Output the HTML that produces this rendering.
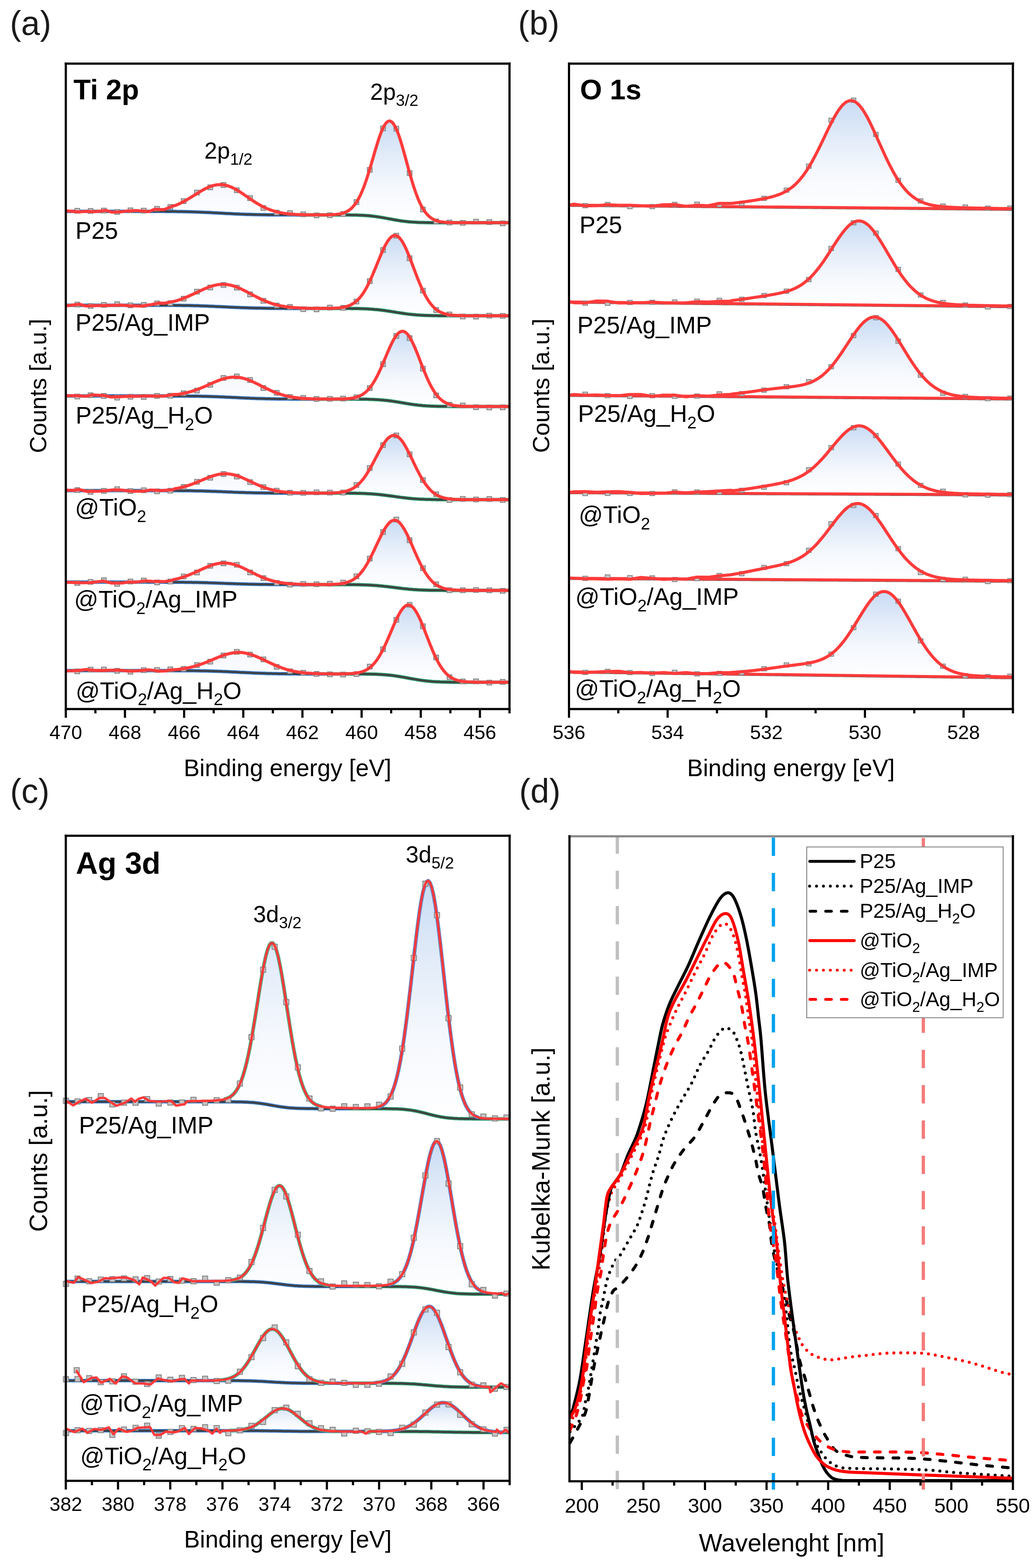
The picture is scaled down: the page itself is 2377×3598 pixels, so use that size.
<!DOCTYPE html><html><head><meta charset="utf-8"><title>XPS figure</title><style>html,body{margin:0;padding:0;background:#fff;}svg{display:block;}</style></head><body><svg width="2377" height="3598" viewBox="0 0 2377 3598" font-family="'Liberation Sans', Arial, sans-serif" fill="#000"><defs><linearGradient id="g1" gradientUnits="userSpaceOnUse" x1="0" y1="277.6" x2="0" y2="511"><stop offset="0" stop-color="#c8dbf4"/><stop offset="0.35" stop-color="#e3ecf9"/><stop offset="0.65" stop-color="#f5f8fd"/><stop offset="1" stop-color="#ffffff"/></linearGradient><linearGradient id="g2" gradientUnits="userSpaceOnUse" x1="0" y1="540.2" x2="0" y2="724.5"><stop offset="0" stop-color="#c8dbf4"/><stop offset="0.35" stop-color="#e3ecf9"/><stop offset="0.65" stop-color="#f5f8fd"/><stop offset="1" stop-color="#ffffff"/></linearGradient><linearGradient id="g3" gradientUnits="userSpaceOnUse" x1="0" y1="760.1" x2="0" y2="932.7"><stop offset="0" stop-color="#c8dbf4"/><stop offset="0.35" stop-color="#e3ecf9"/><stop offset="0.65" stop-color="#f5f8fd"/><stop offset="1" stop-color="#ffffff"/></linearGradient><linearGradient id="g4" gradientUnits="userSpaceOnUse" x1="0" y1="999" x2="0" y2="1146.5"><stop offset="0" stop-color="#c8dbf4"/><stop offset="0.35" stop-color="#e3ecf9"/><stop offset="0.65" stop-color="#f5f8fd"/><stop offset="1" stop-color="#ffffff"/></linearGradient><linearGradient id="g5" gradientUnits="userSpaceOnUse" x1="0" y1="1193.7" x2="0" y2="1354.7"><stop offset="0" stop-color="#c8dbf4"/><stop offset="0.35" stop-color="#e3ecf9"/><stop offset="0.65" stop-color="#f5f8fd"/><stop offset="1" stop-color="#ffffff"/></linearGradient><linearGradient id="g6" gradientUnits="userSpaceOnUse" x1="0" y1="1388.3" x2="0" y2="1565.5"><stop offset="0" stop-color="#c8dbf4"/><stop offset="0.35" stop-color="#e3ecf9"/><stop offset="0.65" stop-color="#f5f8fd"/><stop offset="1" stop-color="#ffffff"/></linearGradient><linearGradient id="g7" gradientUnits="userSpaceOnUse" x1="0" y1="230.9" x2="0" y2="479.8"><stop offset="0" stop-color="#c8dbf4"/><stop offset="0.35" stop-color="#e3ecf9"/><stop offset="0.65" stop-color="#f5f8fd"/><stop offset="1" stop-color="#ffffff"/></linearGradient><linearGradient id="g8" gradientUnits="userSpaceOnUse" x1="0" y1="506.9" x2="0" y2="703.2"><stop offset="0" stop-color="#c8dbf4"/><stop offset="0.35" stop-color="#e3ecf9"/><stop offset="0.65" stop-color="#f5f8fd"/><stop offset="1" stop-color="#ffffff"/></linearGradient><linearGradient id="g9" gradientUnits="userSpaceOnUse" x1="0" y1="727.4" x2="0" y2="915"><stop offset="0" stop-color="#c8dbf4"/><stop offset="0.35" stop-color="#e3ecf9"/><stop offset="0.65" stop-color="#f5f8fd"/><stop offset="1" stop-color="#ffffff"/></linearGradient><linearGradient id="g10" gradientUnits="userSpaceOnUse" x1="0" y1="977.1" x2="0" y2="1135.3"><stop offset="0" stop-color="#c8dbf4"/><stop offset="0.35" stop-color="#e3ecf9"/><stop offset="0.65" stop-color="#f5f8fd"/><stop offset="1" stop-color="#ffffff"/></linearGradient><linearGradient id="g11" gradientUnits="userSpaceOnUse" x1="0" y1="1155.3" x2="0" y2="1333.2"><stop offset="0" stop-color="#c8dbf4"/><stop offset="0.35" stop-color="#e3ecf9"/><stop offset="0.65" stop-color="#f5f8fd"/><stop offset="1" stop-color="#ffffff"/></linearGradient><linearGradient id="g12" gradientUnits="userSpaceOnUse" x1="0" y1="1357.3" x2="0" y2="1554.7"><stop offset="0" stop-color="#c8dbf4"/><stop offset="0.35" stop-color="#e3ecf9"/><stop offset="0.65" stop-color="#f5f8fd"/><stop offset="1" stop-color="#ffffff"/></linearGradient><linearGradient id="g13" gradientUnits="userSpaceOnUse" x1="0" y1="2020.8" x2="0" y2="2567.4"><stop offset="0" stop-color="#c8dbf4"/><stop offset="0.35" stop-color="#e3ecf9"/><stop offset="0.65" stop-color="#f5f8fd"/><stop offset="1" stop-color="#ffffff"/></linearGradient><linearGradient id="g14" gradientUnits="userSpaceOnUse" x1="0" y1="2618.6" x2="0" y2="2969.6"><stop offset="0" stop-color="#c8dbf4"/><stop offset="0.35" stop-color="#e3ecf9"/><stop offset="0.65" stop-color="#f5f8fd"/><stop offset="1" stop-color="#ffffff"/></linearGradient><linearGradient id="g15" gradientUnits="userSpaceOnUse" x1="0" y1="2997.9" x2="0" y2="3183"><stop offset="0" stop-color="#c8dbf4"/><stop offset="0.35" stop-color="#e3ecf9"/><stop offset="0.65" stop-color="#f5f8fd"/><stop offset="1" stop-color="#ffffff"/></linearGradient><linearGradient id="g16" gradientUnits="userSpaceOnUse" x1="0" y1="3218.6" x2="0" y2="3287"><stop offset="0" stop-color="#c8dbf4"/><stop offset="0.35" stop-color="#e3ecf9"/><stop offset="0.65" stop-color="#f5f8fd"/><stop offset="1" stop-color="#ffffff"/></linearGradient><clipPath id="clipd"><rect x="1306.6" y="1919" width="1017.4000000000001" height="1480"/></clipPath></defs><rect x="0" y="0" width="2377" height="3598" fill="#fff"/>
<path d="M153.5,485L157.5,485L161.5,485L165.5,485L169.5,485L173.5,485L177.5,485L181.5,485L185.5,485L189.5,485L193.5,485L197.5,485L201.5,485L205.6,485L209.6,485L213.6,485L217.6,485L221.6,485L225.6,485L229.6,485L233.6,485L237.6,485L241.6,485L245.6,485L249.6,485L253.6,485L257.6,485L261.6,485L265.6,485L269.6,485L273.6,485L277.6,485L281.6,484.9L285.6,484.9L289.6,484.9L293.6,484.9L297.6,484.9L301.6,484.8L305.7,484.8L309.7,484.7L313.7,484.7L317.7,484.6L321.7,484.5L325.7,484.4L329.7,484.2L333.7,484.1L337.7,483.9L341.7,483.6L345.7,483.3L349.7,483L353.7,482.6L357.7,482.2L361.7,481.7L365.7,481.1L369.7,480.5L373.7,479.8L377.7,478.9L381.7,478L385.7,477L389.7,475.8L393.7,474.6L397.7,473.2L401.7,471.7L405.7,470.1L409.8,468.3L413.8,466.4L417.8,464.4L421.8,462.3L425.8,460.1L429.8,457.8L433.8,455.5L437.8,453L441.8,450.5L445.8,448L449.8,445.5L453.8,443L457.8,440.6L461.8,438.2L465.8,435.9L469.8,433.7L473.8,431.7L477.8,429.9L481.8,428.2L485.8,426.8L489.8,425.6L493.8,424.7L497.8,424.1L501.8,423.7L505.8,423.6L509.9,423.8L513.9,424.3L517.9,425.1L521.9,426.1L525.9,427.5L529.9,429L533.9,430.8L537.9,432.9L541.9,435.1L545.9,437.4L549.9,439.9L553.9,442.5L557.9,445.2L561.9,448L565.9,450.7L569.9,453.5L573.9,456.3L577.9,459L581.9,461.7L585.9,464.2L589.9,466.7L593.9,469.1L597.9,471.4L601.9,473.5L605.9,475.5L610,477.4L614,479.1L618,480.7L622,482.2L626,483.5L630,484.7L634,485.8L638,486.8L642,487.7L646,488.4L650,489.1L654,489.7L658,490.2L662,490.7L666,491.1L670,491.4L674,491.7L678,492L682,492.2L686,492.4L690,492.5L694,492.6L698,492.7L702,492.8L706,492.9L710,492.9L714.1,493L718.1,493L722.1,493L726.1,493.1L730.1,493.1L734.1,493.1L738.1,493.1L742.1,493.1L746.1,493L750.1,493L754.1,492.9L758.1,492.8L762.1,492.6L766.1,492.4L770.1,492.1L774.1,491.6L778.1,491.1L782.1,490.3L786.1,489.3L790.1,488L794.1,486.3L798.1,484.1L802.1,481.5L806.1,478.2L810.1,474.1L814.2,469.3L818.2,463.6L822.2,456.9L826.2,449.1L830.2,440.3L834.2,430.5L838.2,419.6L842.2,407.8L846.2,395.1L850.2,381.9L854.2,368.2L858.2,354.4L862.2,340.8L866.2,327.7L870.2,315.4L874.2,304.4L878.2,294.9L882.2,287.2L886.2,281.7L890.2,278.4L894.2,277.6L898.2,279.2L902.2,283.3L906.2,289.6L910.2,298.1L914.3,308.4L918.3,320.3L922.3,333.5L926.3,347.5L930.3,362L934.3,376.7L938.3,391.3L942.3,405.4L946.3,418.9L950.3,431.6L954.3,443.2L958.3,453.8L962.3,463.2L966.3,471.5L970.3,478.8L974.3,484.9L978.3,490.2L982.3,494.5L986.3,498.1L990.3,501L994.3,503.4L998.3,505.2L1002.3,506.7L1006.3,507.8L1010.3,508.7L1014.3,509.3L1018.4,509.8L1022.4,510.1L1026.4,510.4L1030.4,510.6L1034.4,510.7L1038.4,510.8L1042.4,510.9L1046.4,510.9L1050.4,510.9L1054.4,511L1058.4,511L1062.4,511L1066.4,511L1070.4,511L1074.4,511L1078.4,511L1082.4,511L1086.4,511L1090.4,511L1094.4,511L1098.4,511L1102.4,511L1106.4,511L1110.4,511L1114.4,511L1118.5,511L1122.5,511L1126.5,511L1130.5,511L1134.5,511L1138.5,511L1142.5,511L1146.5,511L1150.5,511L1154.5,511L1158.5,511L1162.5,511L1166.5,511L1166.5,511L1162.5,511L1158.5,511L1154.5,511L1150.5,511L1146.5,511L1142.5,511L1138.5,511L1134.5,511L1130.5,511L1126.5,511L1122.5,511L1118.5,511L1114.4,511L1110.4,511L1106.4,511L1102.4,511L1098.4,511L1094.4,511L1090.4,511L1086.4,511L1082.4,511L1078.4,511L1074.4,511L1070.4,511L1066.4,511L1062.4,511L1058.4,511L1054.4,511L1050.4,511L1046.4,511L1042.4,511L1038.4,511L1034.4,511L1030.4,511L1026.4,511L1022.4,511L1018.4,511L1014.3,511L1010.3,511L1006.3,511L1002.3,511L998.3,510.9L994.3,510.9L990.3,510.9L986.3,510.9L982.3,510.8L978.3,510.8L974.3,510.7L970.3,510.6L966.3,510.5L962.3,510.4L958.3,510.2L954.3,510L950.3,509.8L946.3,509.6L942.3,509.3L938.3,508.9L934.3,508.5L930.3,508.1L926.3,507.6L922.3,507.1L918.3,506.5L914.3,505.9L910.2,505.2L906.2,504.5L902.2,503.8L898.2,503.1L894.2,502.3L890.2,501.6L886.2,500.9L882.2,500.1L878.2,499.4L874.2,498.8L870.2,498.1L866.2,497.5L862.2,496.9L858.2,496.4L854.2,495.9L850.2,495.5L846.2,495.1L842.2,494.8L838.2,494.5L834.2,494.3L830.2,494.1L826.2,493.9L822.2,493.7L818.2,493.6L814.2,493.5L810.1,493.4L806.1,493.4L802.1,493.3L798.1,493.3L794.1,493.3L790.1,493.2L786.1,493.2L782.1,493.2L778.1,493.2L774.1,493.2L770.1,493.2L766.1,493.2L762.1,493.2L758.1,493.2L754.1,493.2L750.1,493.2L746.1,493.2L742.1,493.2L738.1,493.2L734.1,493.2L730.1,493.2L726.1,493.2L722.1,493.2L718.1,493.2L714.1,493.2L710,493.2L706,493.2L702,493.2L698,493.2L694,493.2L690,493.2L686,493.2L682,493.2L678,493.1L674,493.1L670,493.1L666,493.1L662,493.1L658,493.1L654,493.1L650,493.1L646,493.1L642,493.1L638,493.1L634,493L630,493L626,493L622,492.9L618,492.9L614,492.9L610,492.8L605.9,492.8L601.9,492.7L597.9,492.7L593.9,492.6L589.9,492.5L585.9,492.4L581.9,492.3L577.9,492.2L573.9,492.1L569.9,492L565.9,491.9L561.9,491.7L557.9,491.6L553.9,491.4L549.9,491.3L545.9,491.1L541.9,490.9L537.9,490.7L533.9,490.5L529.9,490.3L525.9,490.1L521.9,489.9L517.9,489.7L513.9,489.5L509.9,489.3L505.8,489.1L501.8,488.9L497.8,488.6L493.8,488.4L489.8,488.2L485.8,488L481.8,487.8L477.8,487.6L473.8,487.4L469.8,487.2L465.8,487.1L461.8,486.9L457.8,486.7L453.8,486.6L449.8,486.4L445.8,486.3L441.8,486.2L437.8,486L433.8,485.9L429.8,485.8L425.8,485.7L421.8,485.7L417.8,485.6L413.8,485.5L409.8,485.4L405.7,485.4L401.7,485.3L397.7,485.3L393.7,485.3L389.7,485.2L385.7,485.2L381.7,485.2L377.7,485.1L373.7,485.1L369.7,485.1L365.7,485.1L361.7,485.1L357.7,485.1L353.7,485L349.7,485L345.7,485L341.7,485L337.7,485L333.7,485L329.7,485L325.7,485L321.7,485L317.7,485L313.7,485L309.7,485L305.7,485L301.6,485L297.6,485L293.6,485L289.6,485L285.6,485L281.6,485L277.6,485L273.6,485L269.6,485L265.6,485L261.6,485L257.6,485L253.6,485L249.6,485L245.6,485L241.6,485L237.6,485L233.6,485L229.6,485L225.6,485L221.6,485L217.6,485L213.6,485L209.6,485L205.6,485L201.5,485L197.5,485L193.5,485L189.5,485L185.5,485L181.5,485L177.5,485L173.5,485L169.5,485L165.5,485L161.5,485L157.5,485L153.5,485 Z" fill="url(#g1)"/>
<path d="M153.5,485L157.5,485L161.5,485L165.5,485L169.5,485L173.5,485L177.5,485L181.5,485L185.5,485L189.5,485L193.5,485L197.5,485L201.5,485L205.6,485L209.6,485L213.6,485L217.6,485L221.6,485L225.6,485L229.6,485L233.6,485L237.6,485L241.6,485L245.6,485L249.6,485L253.6,485L257.6,485L261.6,485L265.6,485L269.6,485L273.6,485L277.6,485L281.6,485L285.6,485L289.6,485L293.6,485L297.6,485L301.6,485L305.7,485L309.7,485L313.7,485L317.7,485L321.7,485L325.7,485L329.7,485L333.7,485L337.7,485L341.7,485L345.7,485L349.7,485L353.7,485L357.7,485.1L361.7,485.1L365.7,485.1L369.7,485.1L373.7,485.1L377.7,485.1L381.7,485.2L385.7,485.2L389.7,485.2L393.7,485.3L397.7,485.3L401.7,485.3L405.7,485.4L409.8,485.4L413.8,485.5L417.8,485.6L421.8,485.7L425.8,485.7L429.8,485.8L433.8,485.9L437.8,486L441.8,486.2L445.8,486.3L449.8,486.4L453.8,486.6L457.8,486.7L461.8,486.9L465.8,487.1L469.8,487.2L473.8,487.4L477.8,487.6L481.8,487.8L485.8,488L489.8,488.2L493.8,488.4L497.8,488.6L501.8,488.9L505.8,489.1L509.9,489.3L513.9,489.5L517.9,489.7L521.9,489.9L525.9,490.1L529.9,490.3L533.9,490.5L537.9,490.7L541.9,490.9L545.9,491.1L549.9,491.3L553.9,491.4L557.9,491.6L561.9,491.7L565.9,491.9L569.9,492L573.9,492.1L577.9,492.2L581.9,492.3L585.9,492.4L589.9,492.5L593.9,492.6L597.9,492.7L601.9,492.7L605.9,492.8L610,492.8L614,492.9L618,492.9L622,492.9L626,493L630,493L634,493L638,493.1L642,493.1L646,493.1L650,493.1L654,493.1L658,493.1L662,493.1L666,493.1L670,493.1L674,493.1L678,493.1L682,493.2L686,493.2L690,493.2L694,493.2L698,493.2L702,493.2" fill="none" stroke="#3a80d2" stroke-width="8"/>
<path d="M702,493.2L706,493.2L710,493.2L714.1,493.2L718.1,493.2L722.1,493.2L726.1,493.2L730.1,493.2L734.1,493.2L738.1,493.2L742.1,493.2L746.1,493.2L750.1,493.2L754.1,493.2L758.1,493.2L762.1,493.2L766.1,493.2L770.1,493.2L774.1,493.2L778.1,493.2L782.1,493.2L786.1,493.2L790.1,493.2L794.1,493.3L798.1,493.3L802.1,493.3L806.1,493.4L810.1,493.4L814.2,493.5L818.2,493.6L822.2,493.7L826.2,493.9L830.2,494.1L834.2,494.3L838.2,494.5L842.2,494.8L846.2,495.1L850.2,495.5L854.2,495.9L858.2,496.4L862.2,496.9L866.2,497.5L870.2,498.1L874.2,498.8L878.2,499.4L882.2,500.1L886.2,500.9L890.2,501.6L894.2,502.3L898.2,503.1L902.2,503.8L906.2,504.5L910.2,505.2L914.3,505.9L918.3,506.5L922.3,507.1L926.3,507.6L930.3,508.1L934.3,508.5L938.3,508.9L942.3,509.3L946.3,509.6L950.3,509.8L954.3,510L958.3,510.2L962.3,510.4L966.3,510.5L970.3,510.6L974.3,510.7L978.3,510.8L982.3,510.8L986.3,510.9L990.3,510.9L994.3,510.9L998.3,510.9L1002.3,511L1006.3,511L1010.3,511L1014.3,511L1018.4,511L1022.4,511L1026.4,511L1030.4,511L1034.4,511L1038.4,511L1042.4,511L1046.4,511L1050.4,511L1054.4,511L1058.4,511L1062.4,511L1066.4,511L1070.4,511L1074.4,511L1078.4,511L1082.4,511L1086.4,511L1090.4,511L1094.4,511L1098.4,511L1102.4,511L1106.4,511L1110.4,511L1114.4,511L1118.5,511L1122.5,511L1126.5,511L1130.5,511L1134.5,511L1138.5,511L1142.5,511L1146.5,511L1150.5,511L1154.5,511L1158.5,511L1162.5,511L1166.5,511" fill="none" stroke="#2ea070" stroke-width="8"/>
<path d="M153.5,485L157.5,485L161.5,485L165.5,485L169.5,485L173.5,485L177.5,485L181.5,485L185.5,485L189.5,485L193.5,485L197.5,485L201.5,485L205.6,485L209.6,485L213.6,485L217.6,485L221.6,485L225.6,485L229.6,485L233.6,485L237.6,485L241.6,485L245.6,485L249.6,485L253.6,485L257.6,485L261.6,485L265.6,485L269.6,485L273.6,485L277.6,485L281.6,485L285.6,485L289.6,485L293.6,485L297.6,485L301.6,485L305.7,485L309.7,485L313.7,485L317.7,485L321.7,485L325.7,485L329.7,485L333.7,485L337.7,485L341.7,485L345.7,485L349.7,485L353.7,485L357.7,485.1L361.7,485.1L365.7,485.1L369.7,485.1L373.7,485.1L377.7,485.1L381.7,485.2L385.7,485.2L389.7,485.2L393.7,485.3L397.7,485.3L401.7,485.3L405.7,485.4L409.8,485.4L413.8,485.5L417.8,485.6L421.8,485.7L425.8,485.7L429.8,485.8L433.8,485.9L437.8,486L441.8,486.2L445.8,486.3L449.8,486.4L453.8,486.6L457.8,486.7L461.8,486.9L465.8,487.1L469.8,487.2L473.8,487.4L477.8,487.6L481.8,487.8L485.8,488L489.8,488.2L493.8,488.4L497.8,488.6L501.8,488.9L505.8,489.1L509.9,489.3L513.9,489.5L517.9,489.7L521.9,489.9L525.9,490.1L529.9,490.3L533.9,490.5L537.9,490.7L541.9,490.9L545.9,491.1L549.9,491.3L553.9,491.4L557.9,491.6L561.9,491.7L565.9,491.9L569.9,492L573.9,492.1L577.9,492.2L581.9,492.3L585.9,492.4L589.9,492.5L593.9,492.6L597.9,492.7L601.9,492.7L605.9,492.8L610,492.8L614,492.9L618,492.9L622,492.9L626,493L630,493L634,493L638,493.1L642,493.1L646,493.1L650,493.1L654,493.1L658,493.1L662,493.1L666,493.1L670,493.1L674,493.1L678,493.1L682,493.2L686,493.2L690,493.2L694,493.2L698,493.2L702,493.2L706,493.2L710,493.2L714.1,493.2L718.1,493.2L722.1,493.2L726.1,493.2L730.1,493.2L734.1,493.2L738.1,493.2L742.1,493.2L746.1,493.2L750.1,493.2L754.1,493.2L758.1,493.2L762.1,493.2L766.1,493.2L770.1,493.2L774.1,493.2L778.1,493.2L782.1,493.2L786.1,493.2L790.1,493.2L794.1,493.3L798.1,493.3L802.1,493.3L806.1,493.4L810.1,493.4L814.2,493.5L818.2,493.6L822.2,493.7L826.2,493.9L830.2,494.1L834.2,494.3L838.2,494.5L842.2,494.8L846.2,495.1L850.2,495.5L854.2,495.9L858.2,496.4L862.2,496.9L866.2,497.5L870.2,498.1L874.2,498.8L878.2,499.4L882.2,500.1L886.2,500.9L890.2,501.6L894.2,502.3L898.2,503.1L902.2,503.8L906.2,504.5L910.2,505.2L914.3,505.9L918.3,506.5L922.3,507.1L926.3,507.6L930.3,508.1L934.3,508.5L938.3,508.9L942.3,509.3L946.3,509.6L950.3,509.8L954.3,510L958.3,510.2L962.3,510.4L966.3,510.5L970.3,510.6L974.3,510.7L978.3,510.8L982.3,510.8L986.3,510.9L990.3,510.9L994.3,510.9L998.3,510.9L1002.3,511L1006.3,511L1010.3,511L1014.3,511L1018.4,511L1022.4,511L1026.4,511L1030.4,511L1034.4,511L1038.4,511L1042.4,511L1046.4,511L1050.4,511L1054.4,511L1058.4,511L1062.4,511L1066.4,511L1070.4,511L1074.4,511L1078.4,511L1082.4,511L1086.4,511L1090.4,511L1094.4,511L1098.4,511L1102.4,511L1106.4,511L1110.4,511L1114.4,511L1118.5,511L1122.5,511L1126.5,511L1130.5,511L1134.5,511L1138.5,511L1142.5,511L1146.5,511L1150.5,511L1154.5,511L1158.5,511L1162.5,511L1166.5,511" fill="none" stroke="#404040" stroke-width="4.5"/>
<rect x="171.8" y="478.2" width="11" height="11" fill="#c4c4c4" stroke="#7c7c7c" stroke-width="1.8"/>
<rect x="202.3" y="478.5" width="11" height="11" fill="#c4c4c4" stroke="#7c7c7c" stroke-width="1.8"/>
<rect x="232.8" y="477.7" width="11" height="11" fill="#c4c4c4" stroke="#7c7c7c" stroke-width="1.8"/>
<rect x="263.3" y="480.9" width="11" height="11" fill="#c4c4c4" stroke="#7c7c7c" stroke-width="1.8"/>
<rect x="293.8" y="477.2" width="11" height="11" fill="#c4c4c4" stroke="#7c7c7c" stroke-width="1.8"/>
<rect x="324.3" y="477.8" width="11" height="11" fill="#c4c4c4" stroke="#7c7c7c" stroke-width="1.8"/>
<rect x="354.8" y="473.6" width="11" height="11" fill="#c4c4c4" stroke="#7c7c7c" stroke-width="1.8"/>
<rect x="385.3" y="469.3" width="11" height="11" fill="#c4c4c4" stroke="#7c7c7c" stroke-width="1.8"/>
<rect x="415.8" y="456" width="11" height="11" fill="#c4c4c4" stroke="#7c7c7c" stroke-width="1.8"/>
<rect x="446.3" y="436.4" width="11" height="11" fill="#c4c4c4" stroke="#7c7c7c" stroke-width="1.8"/>
<rect x="476.8" y="424.3" width="11" height="11" fill="#c4c4c4" stroke="#7c7c7c" stroke-width="1.8"/>
<rect x="507.3" y="419" width="11" height="11" fill="#c4c4c4" stroke="#7c7c7c" stroke-width="1.8"/>
<rect x="537.8" y="431.1" width="11" height="11" fill="#c4c4c4" stroke="#7c7c7c" stroke-width="1.8"/>
<rect x="568.3" y="449.1" width="11" height="11" fill="#c4c4c4" stroke="#7c7c7c" stroke-width="1.8"/>
<rect x="598.8" y="471.6" width="11" height="11" fill="#c4c4c4" stroke="#7c7c7c" stroke-width="1.8"/>
<rect x="629.3" y="482.3" width="11" height="11" fill="#c4c4c4" stroke="#7c7c7c" stroke-width="1.8"/>
<rect x="659.8" y="483.6" width="11" height="11" fill="#c4c4c4" stroke="#7c7c7c" stroke-width="1.8"/>
<rect x="690.3" y="486.3" width="11" height="11" fill="#c4c4c4" stroke="#7c7c7c" stroke-width="1.8"/>
<rect x="720.8" y="488.7" width="11" height="11" fill="#c4c4c4" stroke="#7c7c7c" stroke-width="1.8"/>
<rect x="751.3" y="488.4" width="11" height="11" fill="#c4c4c4" stroke="#7c7c7c" stroke-width="1.8"/>
<rect x="781.8" y="485.6" width="11" height="11" fill="#c4c4c4" stroke="#7c7c7c" stroke-width="1.8"/>
<rect x="812.3" y="458.2" width="11" height="11" fill="#c4c4c4" stroke="#7c7c7c" stroke-width="1.8"/>
<rect x="842.8" y="384.3" width="11" height="11" fill="#c4c4c4" stroke="#7c7c7c" stroke-width="1.8"/>
<rect x="873.3" y="289.1" width="11" height="11" fill="#c4c4c4" stroke="#7c7c7c" stroke-width="1.8"/>
<rect x="903.8" y="289.6" width="11" height="11" fill="#c4c4c4" stroke="#7c7c7c" stroke-width="1.8"/>
<rect x="934.3" y="391.6" width="11" height="11" fill="#c4c4c4" stroke="#7c7c7c" stroke-width="1.8"/>
<rect x="964.8" y="475.2" width="11" height="11" fill="#c4c4c4" stroke="#7c7c7c" stroke-width="1.8"/>
<rect x="995.3" y="502.4" width="11" height="11" fill="#c4c4c4" stroke="#7c7c7c" stroke-width="1.8"/>
<rect x="1025.8" y="505.1" width="11" height="11" fill="#c4c4c4" stroke="#7c7c7c" stroke-width="1.8"/>
<rect x="1056.3" y="505.9" width="11" height="11" fill="#c4c4c4" stroke="#7c7c7c" stroke-width="1.8"/>
<rect x="1086.8" y="503.2" width="11" height="11" fill="#c4c4c4" stroke="#7c7c7c" stroke-width="1.8"/>
<rect x="1117.3" y="504.2" width="11" height="11" fill="#c4c4c4" stroke="#7c7c7c" stroke-width="1.8"/>
<rect x="1147.8" y="507" width="11" height="11" fill="#c4c4c4" stroke="#7c7c7c" stroke-width="1.8"/>
<path d="M153.5,484.1L180.8,486.3L197.3,485L217.4,485.8L243.6,483L256.1,486.7L275.9,486.3L288,484.6L313,483.3L342,485.6L354.5,480.3L376.3,481.1L395.1,473.1L401.7,471.7L405.7,470.1L409.8,468.3L413.8,466.4L417.8,464.4L421.8,462.3L425.8,460.1L429.8,457.8L433.8,455.5L437.8,453L441.8,450.5L445.8,448L449.8,445.5L453.8,443L457.8,440.6L461.8,438.2L465.8,435.9L469.8,433.7L473.8,431.7L477.8,429.9L481.8,428.2L485.8,426.8L489.8,425.6L493.8,424.7L497.8,424.1L501.8,423.7L505.8,423.6L509.9,423.8L513.9,424.3L517.9,425.1L521.9,426.1L525.9,427.5L529.9,429L533.9,430.8L537.9,432.9L541.9,435.1L545.9,437.4L549.9,439.9L553.9,442.5L557.9,445.2L561.9,448L565.9,450.7L569.9,453.5L573.9,456.3L577.9,459L581.9,461.7L585.9,464.2L589.9,466.7L593.9,469.1L597.9,471.4L601.9,473.5L605.9,475.5L610,477.4L614,479.1L618,480.7L622,482.2L626,483.5L630,484.7L634,485.8L638,486.8L642,487.7L646,488.4L650,489.1L654,489.7L658,490.2L662,490.7L666,491.1L670,491.4L674,491.7L678,492L682,492.2L686,492.4L690,492.5L694,492.6L698,492.7L702,492.8L706,492.9L710,492.9L714.1,493L718.1,493L722.1,493L726.1,493.1L730.1,493.1L734.1,493.1L738.1,493.1L742.1,493.1L746.1,493L750.1,493L754.1,492.9L758.1,492.8L762.1,492.6L766.1,492.4L770.1,492.1L774.1,491.6L778.1,491.1L782.1,490.3L786.1,489.3L790.1,488L794.1,486.3L798.1,484.1L802.1,481.5L806.1,478.2L810.1,474.1L814.2,469.3L818.2,463.6L822.2,456.9L826.2,449.1L830.2,440.3L834.2,430.5L838.2,419.6L842.2,407.8L846.2,395.1L850.2,381.9L854.2,368.2L858.2,354.4L862.2,340.8L866.2,327.7L870.2,315.4L874.2,304.4L878.2,294.9L882.2,287.2L886.2,281.7L890.2,278.4L894.2,277.6L898.2,279.2L902.2,283.3L906.2,289.6L910.2,298.1L914.3,308.4L918.3,320.3L922.3,333.5L926.3,347.5L930.3,362L934.3,376.7L938.3,391.3L942.3,405.4L946.3,418.9L950.3,431.6L954.3,443.2L958.3,453.8L962.3,463.2L966.3,471.5L970.3,478.8L974.3,484.9L978.3,490.2L982.3,494.5L986.3,498.1L990.3,501L994.3,503.4L998.3,505.2L1002.3,506.7L1006.3,507.8L1010.3,508.7L1014.3,509.3L1018.4,509.8L1022.4,510.1L1026.4,510.4L1030.4,510.6L1034.4,510.7L1038.4,510.8L1042.4,510.9L1046.4,510.9L1050.4,510.9L1054.4,511L1058.4,511L1062.4,511L1066.4,511L1070.4,511L1074.4,511L1078.4,511L1082.4,511L1086.4,511L1090.4,511L1094.4,511L1098.4,511L1102.4,511L1106.4,511L1110.4,511L1114.4,511L1118.5,511L1122.5,511L1126.5,511L1130.5,511L1134.5,511L1138.5,511L1142.5,511L1146.5,511L1150.5,511L1154.5,511L1158.5,511L1162.5,511L1166.5,511" fill="none" stroke="#fe3b3b" stroke-width="7" stroke-linejoin="round" stroke-linecap="round"/>
<path d="M153.5,700.4L157.5,700.4L161.5,700.4L165.5,700.4L169.5,700.4L173.5,700.4L177.5,700.4L181.5,700.4L185.5,700.4L189.5,700.4L193.5,700.4L197.5,700.4L201.5,700.4L205.6,700.4L209.6,700.4L213.6,700.4L217.6,700.4L221.6,700.4L225.6,700.4L229.6,700.4L233.6,700.4L237.6,700.4L241.6,700.4L245.6,700.4L249.6,700.4L253.6,700.4L257.6,700.4L261.6,700.4L265.6,700.4L269.6,700.4L273.6,700.4L277.6,700.4L281.6,700.4L285.6,700.3L289.6,700.3L293.6,700.3L297.6,700.3L301.6,700.3L305.7,700.2L309.7,700.2L313.7,700.1L317.7,700.1L321.7,700L325.7,699.9L329.7,699.8L333.7,699.7L337.7,699.6L341.7,699.4L345.7,699.2L349.7,699L353.7,698.7L357.7,698.4L361.7,698L365.7,697.6L369.7,697.2L373.7,696.6L377.7,696.1L381.7,695.4L385.7,694.7L389.7,693.9L393.7,693L397.7,692L401.7,690.9L405.7,689.8L409.8,688.5L413.8,687.2L417.8,685.7L421.8,684.2L425.8,682.6L429.8,681L433.8,679.2L437.8,677.4L441.8,675.6L445.8,673.7L449.8,671.8L453.8,669.9L457.8,668L461.8,666.1L465.8,664.3L469.8,662.5L473.8,660.9L477.8,659.3L481.8,657.9L485.8,656.5L489.8,655.4L493.8,654.4L497.8,653.6L501.8,653L505.8,652.6L509.9,652.4L513.9,652.4L517.9,652.7L521.9,653.1L525.9,653.8L529.9,654.6L533.9,655.7L537.9,656.9L541.9,658.3L545.9,659.9L549.9,661.6L553.9,663.4L557.9,665.3L561.9,667.3L565.9,669.4L569.9,671.5L573.9,673.6L577.9,675.8L581.9,677.9L585.9,680L589.9,682L593.9,684L597.9,686L601.9,687.8L605.9,689.6L610,691.3L614,692.9L618,694.4L622,695.8L626,697.1L630,698.3L634,699.3L638,700.3L642,701.2L646,702.1L650,702.8L654,703.5L658,704L662,704.6L666,705L670,705.4L674,705.8L678,706.1L682,706.3L686,706.6L690,706.8L694,706.9L698,707.1L702,707.2L706,707.3L710,707.4L714.1,707.4L718.1,707.5L722.1,707.5L726.1,707.6L730.1,707.6L734.1,707.6L738.1,707.6L742.1,707.6L746.1,707.6L750.1,707.6L754.1,707.5L758.1,707.4L762.1,707.3L766.1,707.2L770.1,707L774.1,706.7L778.1,706.4L782.1,705.9L786.1,705.3L790.1,704.5L794.1,703.5L798.1,702.3L802.1,700.8L806.1,698.9L810.1,696.6L814.2,693.8L818.2,690.6L822.2,686.7L826.2,682.3L830.2,677.2L834.2,671.4L838.2,664.9L842.2,657.7L846.2,649.8L850.2,641.3L854.2,632.3L858.2,622.9L862.2,613.1L866.2,603.3L870.2,593.5L874.2,583.9L878.2,574.8L882.2,566.3L886.2,558.8L890.2,552.3L894.2,547.1L898.2,543.2L902.2,540.9L906.2,540.2L910.2,541.1L914.3,543.6L918.3,547.7L922.3,553.2L926.3,560.1L930.3,568L934.3,577L938.3,586.7L942.3,596.9L946.3,607.5L950.3,618.1L954.3,628.7L958.3,639L962.3,648.9L966.3,658.2L970.3,667L974.3,675L978.3,682.3L982.3,688.9L986.3,694.7L990.3,699.8L994.3,704.2L998.3,708L1002.3,711.2L1006.3,713.8L1010.3,716.1L1014.3,717.9L1018.4,719.4L1022.4,720.5L1026.4,721.5L1030.4,722.2L1034.4,722.8L1038.4,723.2L1042.4,723.6L1046.4,723.8L1050.4,724L1054.4,724.1L1058.4,724.3L1062.4,724.3L1066.4,724.4L1070.4,724.4L1074.4,724.4L1078.4,724.5L1082.4,724.5L1086.4,724.5L1090.4,724.5L1094.4,724.5L1098.4,724.5L1102.4,724.5L1106.4,724.5L1110.4,724.5L1114.4,724.5L1118.5,724.5L1122.5,724.5L1126.5,724.5L1130.5,724.5L1134.5,724.5L1138.5,724.5L1142.5,724.5L1146.5,724.5L1150.5,724.5L1154.5,724.5L1158.5,724.5L1162.5,724.5L1166.5,724.5L1166.5,724.5L1162.5,724.5L1158.5,724.5L1154.5,724.5L1150.5,724.5L1146.5,724.5L1142.5,724.5L1138.5,724.5L1134.5,724.5L1130.5,724.5L1126.5,724.5L1122.5,724.5L1118.5,724.5L1114.4,724.5L1110.4,724.5L1106.4,724.5L1102.4,724.5L1098.4,724.5L1094.4,724.5L1090.4,724.5L1086.4,724.5L1082.4,724.5L1078.4,724.5L1074.4,724.5L1070.4,724.5L1066.4,724.5L1062.4,724.5L1058.4,724.5L1054.4,724.5L1050.4,724.5L1046.4,724.5L1042.4,724.5L1038.4,724.5L1034.4,724.5L1030.4,724.5L1026.4,724.5L1022.4,724.5L1018.4,724.4L1014.3,724.4L1010.3,724.4L1006.3,724.4L1002.3,724.3L998.3,724.3L994.3,724.2L990.3,724.2L986.3,724.1L982.3,724L978.3,723.8L974.3,723.7L970.3,723.5L966.3,723.3L962.3,723.1L958.3,722.8L954.3,722.5L950.3,722.1L946.3,721.8L942.3,721.3L938.3,720.9L934.3,720.4L930.3,719.9L926.3,719.3L922.3,718.7L918.3,718.1L914.3,717.5L910.2,716.9L906.2,716.2L902.2,715.6L898.2,714.9L894.2,714.3L890.2,713.7L886.2,713.1L882.2,712.5L878.2,712L874.2,711.5L870.2,711L866.2,710.6L862.2,710.2L858.2,709.9L854.2,709.5L850.2,709.3L846.2,709L842.2,708.8L838.2,708.6L834.2,708.5L830.2,708.3L826.2,708.2L822.2,708.1L818.2,708L814.2,708L810.1,707.9L806.1,707.9L802.1,707.8L798.1,707.8L794.1,707.8L790.1,707.8L786.1,707.8L782.1,707.8L778.1,707.8L774.1,707.7L770.1,707.7L766.1,707.7L762.1,707.7L758.1,707.7L754.1,707.7L750.1,707.7L746.1,707.7L742.1,707.7L738.1,707.7L734.1,707.7L730.1,707.7L726.1,707.7L722.1,707.7L718.1,707.7L714.1,707.7L710,707.7L706,707.7L702,707.7L698,707.7L694,707.7L690,707.7L686,707.7L682,707.7L678,707.7L674,707.7L670,707.7L666,707.7L662,707.7L658,707.7L654,707.7L650,707.6L646,707.6L642,707.6L638,707.6L634,707.5L630,707.5L626,707.5L622,707.4L618,707.4L614,707.4L610,707.3L605.9,707.2L601.9,707.2L597.9,707.1L593.9,707L589.9,706.9L585.9,706.9L581.9,706.8L577.9,706.7L573.9,706.5L569.9,706.4L565.9,706.3L561.9,706.2L557.9,706L553.9,705.9L549.9,705.7L545.9,705.5L541.9,705.4L537.9,705.2L533.9,705L529.9,704.9L525.9,704.7L521.9,704.5L517.9,704.3L513.9,704.1L509.9,703.9L505.8,703.7L501.8,703.5L497.8,703.4L493.8,703.2L489.8,703L485.8,702.8L481.8,702.7L477.8,702.5L473.8,702.3L469.8,702.2L465.8,702L461.8,701.9L457.8,701.8L453.8,701.6L449.8,701.5L445.8,701.4L441.8,701.3L437.8,701.2L433.8,701.1L429.8,701.1L425.8,701L421.8,700.9L417.8,700.9L413.8,700.8L409.8,700.8L405.7,700.7L401.7,700.7L397.7,700.6L393.7,700.6L389.7,700.6L385.7,700.5L381.7,700.5L377.7,700.5L373.7,700.5L369.7,700.5L365.7,700.5L361.7,700.5L357.7,700.4L353.7,700.4L349.7,700.4L345.7,700.4L341.7,700.4L337.7,700.4L333.7,700.4L329.7,700.4L325.7,700.4L321.7,700.4L317.7,700.4L313.7,700.4L309.7,700.4L305.7,700.4L301.6,700.4L297.6,700.4L293.6,700.4L289.6,700.4L285.6,700.4L281.6,700.4L277.6,700.4L273.6,700.4L269.6,700.4L265.6,700.4L261.6,700.4L257.6,700.4L253.6,700.4L249.6,700.4L245.6,700.4L241.6,700.4L237.6,700.4L233.6,700.4L229.6,700.4L225.6,700.4L221.6,700.4L217.6,700.4L213.6,700.4L209.6,700.4L205.6,700.4L201.5,700.4L197.5,700.4L193.5,700.4L189.5,700.4L185.5,700.4L181.5,700.4L177.5,700.4L173.5,700.4L169.5,700.4L165.5,700.4L161.5,700.4L157.5,700.4L153.5,700.4 Z" fill="url(#g2)"/>
<path d="M153.5,700.4L157.5,700.4L161.5,700.4L165.5,700.4L169.5,700.4L173.5,700.4L177.5,700.4L181.5,700.4L185.5,700.4L189.5,700.4L193.5,700.4L197.5,700.4L201.5,700.4L205.6,700.4L209.6,700.4L213.6,700.4L217.6,700.4L221.6,700.4L225.6,700.4L229.6,700.4L233.6,700.4L237.6,700.4L241.6,700.4L245.6,700.4L249.6,700.4L253.6,700.4L257.6,700.4L261.6,700.4L265.6,700.4L269.6,700.4L273.6,700.4L277.6,700.4L281.6,700.4L285.6,700.4L289.6,700.4L293.6,700.4L297.6,700.4L301.6,700.4L305.7,700.4L309.7,700.4L313.7,700.4L317.7,700.4L321.7,700.4L325.7,700.4L329.7,700.4L333.7,700.4L337.7,700.4L341.7,700.4L345.7,700.4L349.7,700.4L353.7,700.4L357.7,700.4L361.7,700.5L365.7,700.5L369.7,700.5L373.7,700.5L377.7,700.5L381.7,700.5L385.7,700.5L389.7,700.6L393.7,700.6L397.7,700.6L401.7,700.7L405.7,700.7L409.8,700.8L413.8,700.8L417.8,700.9L421.8,700.9L425.8,701L429.8,701.1L433.8,701.1L437.8,701.2L441.8,701.3L445.8,701.4L449.8,701.5L453.8,701.6L457.8,701.8L461.8,701.9L465.8,702L469.8,702.2L473.8,702.3L477.8,702.5L481.8,702.7L485.8,702.8L489.8,703L493.8,703.2L497.8,703.4L501.8,703.5L505.8,703.7L509.9,703.9L513.9,704.1L517.9,704.3L521.9,704.5L525.9,704.7L529.9,704.9L533.9,705L537.9,705.2L541.9,705.4L545.9,705.5L549.9,705.7L553.9,705.9L557.9,706L561.9,706.2L565.9,706.3L569.9,706.4L573.9,706.5L577.9,706.7L581.9,706.8L585.9,706.9L589.9,706.9L593.9,707L597.9,707.1L601.9,707.2L605.9,707.2L610,707.3L614,707.4L618,707.4L622,707.4L626,707.5L630,707.5L634,707.5L638,707.6L642,707.6L646,707.6L650,707.6L654,707.7L658,707.7L662,707.7L666,707.7L670,707.7L674,707.7L678,707.7L682,707.7L686,707.7L690,707.7L694,707.7L698,707.7L702,707.7L706,707.7L710,707.7" fill="none" stroke="#3a80d2" stroke-width="8"/>
<path d="M710,707.7L714.1,707.7L718.1,707.7L722.1,707.7L726.1,707.7L730.1,707.7L734.1,707.7L738.1,707.7L742.1,707.7L746.1,707.7L750.1,707.7L754.1,707.7L758.1,707.7L762.1,707.7L766.1,707.7L770.1,707.7L774.1,707.7L778.1,707.8L782.1,707.8L786.1,707.8L790.1,707.8L794.1,707.8L798.1,707.8L802.1,707.8L806.1,707.9L810.1,707.9L814.2,708L818.2,708L822.2,708.1L826.2,708.2L830.2,708.3L834.2,708.5L838.2,708.6L842.2,708.8L846.2,709L850.2,709.3L854.2,709.5L858.2,709.9L862.2,710.2L866.2,710.6L870.2,711L874.2,711.5L878.2,712L882.2,712.5L886.2,713.1L890.2,713.7L894.2,714.3L898.2,714.9L902.2,715.6L906.2,716.2L910.2,716.9L914.3,717.5L918.3,718.1L922.3,718.7L926.3,719.3L930.3,719.9L934.3,720.4L938.3,720.9L942.3,721.3L946.3,721.8L950.3,722.1L954.3,722.5L958.3,722.8L962.3,723.1L966.3,723.3L970.3,723.5L974.3,723.7L978.3,723.8L982.3,724L986.3,724.1L990.3,724.2L994.3,724.2L998.3,724.3L1002.3,724.3L1006.3,724.4L1010.3,724.4L1014.3,724.4L1018.4,724.4L1022.4,724.5L1026.4,724.5L1030.4,724.5L1034.4,724.5L1038.4,724.5L1042.4,724.5L1046.4,724.5L1050.4,724.5L1054.4,724.5L1058.4,724.5L1062.4,724.5L1066.4,724.5L1070.4,724.5L1074.4,724.5L1078.4,724.5L1082.4,724.5L1086.4,724.5L1090.4,724.5L1094.4,724.5L1098.4,724.5L1102.4,724.5L1106.4,724.5L1110.4,724.5L1114.4,724.5L1118.5,724.5L1122.5,724.5L1126.5,724.5L1130.5,724.5L1134.5,724.5L1138.5,724.5L1142.5,724.5L1146.5,724.5L1150.5,724.5L1154.5,724.5L1158.5,724.5L1162.5,724.5L1166.5,724.5" fill="none" stroke="#2ea070" stroke-width="8"/>
<path d="M153.5,700.4L157.5,700.4L161.5,700.4L165.5,700.4L169.5,700.4L173.5,700.4L177.5,700.4L181.5,700.4L185.5,700.4L189.5,700.4L193.5,700.4L197.5,700.4L201.5,700.4L205.6,700.4L209.6,700.4L213.6,700.4L217.6,700.4L221.6,700.4L225.6,700.4L229.6,700.4L233.6,700.4L237.6,700.4L241.6,700.4L245.6,700.4L249.6,700.4L253.6,700.4L257.6,700.4L261.6,700.4L265.6,700.4L269.6,700.4L273.6,700.4L277.6,700.4L281.6,700.4L285.6,700.4L289.6,700.4L293.6,700.4L297.6,700.4L301.6,700.4L305.7,700.4L309.7,700.4L313.7,700.4L317.7,700.4L321.7,700.4L325.7,700.4L329.7,700.4L333.7,700.4L337.7,700.4L341.7,700.4L345.7,700.4L349.7,700.4L353.7,700.4L357.7,700.4L361.7,700.5L365.7,700.5L369.7,700.5L373.7,700.5L377.7,700.5L381.7,700.5L385.7,700.5L389.7,700.6L393.7,700.6L397.7,700.6L401.7,700.7L405.7,700.7L409.8,700.8L413.8,700.8L417.8,700.9L421.8,700.9L425.8,701L429.8,701.1L433.8,701.1L437.8,701.2L441.8,701.3L445.8,701.4L449.8,701.5L453.8,701.6L457.8,701.8L461.8,701.9L465.8,702L469.8,702.2L473.8,702.3L477.8,702.5L481.8,702.7L485.8,702.8L489.8,703L493.8,703.2L497.8,703.4L501.8,703.5L505.8,703.7L509.9,703.9L513.9,704.1L517.9,704.3L521.9,704.5L525.9,704.7L529.9,704.9L533.9,705L537.9,705.2L541.9,705.4L545.9,705.5L549.9,705.7L553.9,705.9L557.9,706L561.9,706.2L565.9,706.3L569.9,706.4L573.9,706.5L577.9,706.7L581.9,706.8L585.9,706.9L589.9,706.9L593.9,707L597.9,707.1L601.9,707.2L605.9,707.2L610,707.3L614,707.4L618,707.4L622,707.4L626,707.5L630,707.5L634,707.5L638,707.6L642,707.6L646,707.6L650,707.6L654,707.7L658,707.7L662,707.7L666,707.7L670,707.7L674,707.7L678,707.7L682,707.7L686,707.7L690,707.7L694,707.7L698,707.7L702,707.7L706,707.7L710,707.7L714.1,707.7L718.1,707.7L722.1,707.7L726.1,707.7L730.1,707.7L734.1,707.7L738.1,707.7L742.1,707.7L746.1,707.7L750.1,707.7L754.1,707.7L758.1,707.7L762.1,707.7L766.1,707.7L770.1,707.7L774.1,707.7L778.1,707.8L782.1,707.8L786.1,707.8L790.1,707.8L794.1,707.8L798.1,707.8L802.1,707.8L806.1,707.9L810.1,707.9L814.2,708L818.2,708L822.2,708.1L826.2,708.2L830.2,708.3L834.2,708.5L838.2,708.6L842.2,708.8L846.2,709L850.2,709.3L854.2,709.5L858.2,709.9L862.2,710.2L866.2,710.6L870.2,711L874.2,711.5L878.2,712L882.2,712.5L886.2,713.1L890.2,713.7L894.2,714.3L898.2,714.9L902.2,715.6L906.2,716.2L910.2,716.9L914.3,717.5L918.3,718.1L922.3,718.7L926.3,719.3L930.3,719.9L934.3,720.4L938.3,720.9L942.3,721.3L946.3,721.8L950.3,722.1L954.3,722.5L958.3,722.8L962.3,723.1L966.3,723.3L970.3,723.5L974.3,723.7L978.3,723.8L982.3,724L986.3,724.1L990.3,724.2L994.3,724.2L998.3,724.3L1002.3,724.3L1006.3,724.4L1010.3,724.4L1014.3,724.4L1018.4,724.4L1022.4,724.5L1026.4,724.5L1030.4,724.5L1034.4,724.5L1038.4,724.5L1042.4,724.5L1046.4,724.5L1050.4,724.5L1054.4,724.5L1058.4,724.5L1062.4,724.5L1066.4,724.5L1070.4,724.5L1074.4,724.5L1078.4,724.5L1082.4,724.5L1086.4,724.5L1090.4,724.5L1094.4,724.5L1098.4,724.5L1102.4,724.5L1106.4,724.5L1110.4,724.5L1114.4,724.5L1118.5,724.5L1122.5,724.5L1126.5,724.5L1130.5,724.5L1134.5,724.5L1138.5,724.5L1142.5,724.5L1146.5,724.5L1150.5,724.5L1154.5,724.5L1158.5,724.5L1162.5,724.5L1166.5,724.5" fill="none" stroke="#404040" stroke-width="4.5"/>
<rect x="171.8" y="693.4" width="11" height="11" fill="#c4c4c4" stroke="#7c7c7c" stroke-width="1.8"/>
<rect x="202.3" y="696.5" width="11" height="11" fill="#c4c4c4" stroke="#7c7c7c" stroke-width="1.8"/>
<rect x="232.8" y="694.1" width="11" height="11" fill="#c4c4c4" stroke="#7c7c7c" stroke-width="1.8"/>
<rect x="263.3" y="692.5" width="11" height="11" fill="#c4c4c4" stroke="#7c7c7c" stroke-width="1.8"/>
<rect x="293.8" y="695.1" width="11" height="11" fill="#c4c4c4" stroke="#7c7c7c" stroke-width="1.8"/>
<rect x="324.3" y="694.2" width="11" height="11" fill="#c4c4c4" stroke="#7c7c7c" stroke-width="1.8"/>
<rect x="354.8" y="690.7" width="11" height="11" fill="#c4c4c4" stroke="#7c7c7c" stroke-width="1.8"/>
<rect x="385.3" y="690.1" width="11" height="11" fill="#c4c4c4" stroke="#7c7c7c" stroke-width="1.8"/>
<rect x="415.8" y="679.8" width="11" height="11" fill="#c4c4c4" stroke="#7c7c7c" stroke-width="1.8"/>
<rect x="446.3" y="663.7" width="11" height="11" fill="#c4c4c4" stroke="#7c7c7c" stroke-width="1.8"/>
<rect x="476.8" y="654.2" width="11" height="11" fill="#c4c4c4" stroke="#7c7c7c" stroke-width="1.8"/>
<rect x="507.3" y="648.4" width="11" height="11" fill="#c4c4c4" stroke="#7c7c7c" stroke-width="1.8"/>
<rect x="537.8" y="654.5" width="11" height="11" fill="#c4c4c4" stroke="#7c7c7c" stroke-width="1.8"/>
<rect x="568.3" y="670.1" width="11" height="11" fill="#c4c4c4" stroke="#7c7c7c" stroke-width="1.8"/>
<rect x="598.8" y="684.7" width="11" height="11" fill="#c4c4c4" stroke="#7c7c7c" stroke-width="1.8"/>
<rect x="629.3" y="695.5" width="11" height="11" fill="#c4c4c4" stroke="#7c7c7c" stroke-width="1.8"/>
<rect x="659.8" y="698.7" width="11" height="11" fill="#c4c4c4" stroke="#7c7c7c" stroke-width="1.8"/>
<rect x="690.3" y="703.9" width="11" height="11" fill="#c4c4c4" stroke="#7c7c7c" stroke-width="1.8"/>
<rect x="720.8" y="704.4" width="11" height="11" fill="#c4c4c4" stroke="#7c7c7c" stroke-width="1.8"/>
<rect x="751.3" y="700.3" width="11" height="11" fill="#c4c4c4" stroke="#7c7c7c" stroke-width="1.8"/>
<rect x="781.8" y="700.8" width="11" height="11" fill="#c4c4c4" stroke="#7c7c7c" stroke-width="1.8"/>
<rect x="812.3" y="686.4" width="11" height="11" fill="#c4c4c4" stroke="#7c7c7c" stroke-width="1.8"/>
<rect x="842.8" y="639.6" width="11" height="11" fill="#c4c4c4" stroke="#7c7c7c" stroke-width="1.8"/>
<rect x="873.3" y="568.2" width="11" height="11" fill="#c4c4c4" stroke="#7c7c7c" stroke-width="1.8"/>
<rect x="903.8" y="535.3" width="11" height="11" fill="#c4c4c4" stroke="#7c7c7c" stroke-width="1.8"/>
<rect x="934.3" y="587.2" width="11" height="11" fill="#c4c4c4" stroke="#7c7c7c" stroke-width="1.8"/>
<rect x="964.8" y="661.4" width="11" height="11" fill="#c4c4c4" stroke="#7c7c7c" stroke-width="1.8"/>
<rect x="995.3" y="706.1" width="11" height="11" fill="#c4c4c4" stroke="#7c7c7c" stroke-width="1.8"/>
<rect x="1025.8" y="716.1" width="11" height="11" fill="#c4c4c4" stroke="#7c7c7c" stroke-width="1.8"/>
<rect x="1056.3" y="720.7" width="11" height="11" fill="#c4c4c4" stroke="#7c7c7c" stroke-width="1.8"/>
<rect x="1086.8" y="721" width="11" height="11" fill="#c4c4c4" stroke="#7c7c7c" stroke-width="1.8"/>
<rect x="1117.3" y="718.8" width="11" height="11" fill="#c4c4c4" stroke="#7c7c7c" stroke-width="1.8"/>
<rect x="1147.8" y="719.3" width="11" height="11" fill="#c4c4c4" stroke="#7c7c7c" stroke-width="1.8"/>
<path d="M153.5,701.5L182.6,698.2L196.1,702.1L221.3,701.2L238.9,700.9L261.8,700.8L276.7,700L295.7,701.4L325.6,702.2L347.4,698.9L364.3,695.3L376.8,695.9L394.5,692.4L401.7,690.9L405.7,689.8L409.8,688.5L413.8,687.2L417.8,685.7L421.8,684.2L425.8,682.6L429.8,681L433.8,679.2L437.8,677.4L441.8,675.6L445.8,673.7L449.8,671.8L453.8,669.9L457.8,668L461.8,666.1L465.8,664.3L469.8,662.5L473.8,660.9L477.8,659.3L481.8,657.9L485.8,656.5L489.8,655.4L493.8,654.4L497.8,653.6L501.8,653L505.8,652.6L509.9,652.4L513.9,652.4L517.9,652.7L521.9,653.1L525.9,653.8L529.9,654.6L533.9,655.7L537.9,656.9L541.9,658.3L545.9,659.9L549.9,661.6L553.9,663.4L557.9,665.3L561.9,667.3L565.9,669.4L569.9,671.5L573.9,673.6L577.9,675.8L581.9,677.9L585.9,680L589.9,682L593.9,684L597.9,686L601.9,687.8L605.9,689.6L610,691.3L614,692.9L618,694.4L622,695.8L626,697.1L630,698.3L634,699.3L638,700.3L642,701.2L646,702.1L650,702.8L654,703.5L658,704L662,704.6L666,705L670,705.4L674,705.8L678,706.1L682,706.3L686,706.6L690,706.8L694,706.9L698,707.1L702,707.2L706,707.3L710,707.4L714.1,707.4L718.1,707.5L722.1,707.5L726.1,707.6L730.1,707.6L734.1,707.6L738.1,707.6L742.1,707.6L746.1,707.6L750.1,707.6L754.1,707.5L758.1,707.4L762.1,707.3L766.1,707.2L770.1,707L774.1,706.7L778.1,706.4L782.1,705.9L786.1,705.3L790.1,704.5L794.1,703.5L798.1,702.3L802.1,700.8L806.1,698.9L810.1,696.6L814.2,693.8L818.2,690.6L822.2,686.7L826.2,682.3L830.2,677.2L834.2,671.4L838.2,664.9L842.2,657.7L846.2,649.8L850.2,641.3L854.2,632.3L858.2,622.9L862.2,613.1L866.2,603.3L870.2,593.5L874.2,583.9L878.2,574.8L882.2,566.3L886.2,558.8L890.2,552.3L894.2,547.1L898.2,543.2L902.2,540.9L906.2,540.2L910.2,541.1L914.3,543.6L918.3,547.7L922.3,553.2L926.3,560.1L930.3,568L934.3,577L938.3,586.7L942.3,596.9L946.3,607.5L950.3,618.1L954.3,628.7L958.3,639L962.3,648.9L966.3,658.2L970.3,667L974.3,675L978.3,682.3L982.3,688.9L986.3,694.7L990.3,699.8L994.3,704.2L998.3,708L1002.3,711.2L1006.3,713.8L1010.3,716.1L1014.3,717.9L1018.4,719.4L1022.4,720.5L1026.4,721.5L1030.4,722.2L1034.4,722.8L1038.4,723.2L1042.4,723.6L1046.4,723.8L1050.4,724L1054.4,724.1L1058.4,724.3L1062.4,724.3L1066.4,724.4L1070.4,724.4L1074.4,724.4L1078.4,724.5L1082.4,724.5L1086.4,724.5L1090.4,724.5L1094.4,724.5L1098.4,724.5L1102.4,724.5L1106.4,724.5L1110.4,724.5L1114.4,724.5L1118.5,724.5L1122.5,724.5L1126.5,724.5L1130.5,724.5L1134.5,724.5L1138.5,724.5L1142.5,724.5L1146.5,724.5L1150.5,724.5L1154.5,724.5L1158.5,724.5L1162.5,724.5L1166.5,724.5" fill="none" stroke="#fe3b3b" stroke-width="7" stroke-linejoin="round" stroke-linecap="round"/>
<path d="M153.5,908.6L157.5,908.6L161.5,908.6L165.5,908.6L169.5,908.6L173.5,908.6L177.5,908.6L181.5,908.6L185.5,908.6L189.5,908.6L193.5,908.6L197.5,908.6L201.5,908.6L205.6,908.6L209.6,908.6L213.6,908.6L217.6,908.6L221.6,908.6L225.6,908.6L229.6,908.6L233.6,908.6L237.6,908.6L241.6,908.6L245.6,908.6L249.6,908.6L253.6,908.6L257.6,908.6L261.6,908.6L265.6,908.6L269.6,908.6L273.6,908.6L277.6,908.6L281.6,908.6L285.6,908.6L289.6,908.6L293.6,908.6L297.6,908.6L301.6,908.6L305.7,908.6L309.7,908.6L313.7,908.6L317.7,908.6L321.7,908.5L325.7,908.5L329.7,908.5L333.7,908.5L337.7,908.5L341.7,908.4L345.7,908.4L349.7,908.3L353.7,908.3L357.7,908.2L361.7,908.1L365.7,908L369.7,907.9L373.7,907.7L377.7,907.6L381.7,907.3L385.7,907.1L389.7,906.8L393.7,906.5L397.7,906.1L401.7,905.7L405.7,905.2L409.8,904.6L413.8,904L417.8,903.3L421.8,902.6L425.8,901.7L429.8,900.8L433.8,899.7L437.8,898.6L441.8,897.4L445.8,896.1L449.8,894.7L453.8,893.3L457.8,891.7L461.8,890.1L465.8,888.5L469.8,886.7L473.8,885L477.8,883.2L481.8,881.4L485.8,879.6L489.8,877.8L493.8,876.1L497.8,874.5L501.8,872.9L505.8,871.4L509.9,870.1L513.9,868.9L517.9,867.8L521.9,866.9L525.9,866.2L529.9,865.7L533.9,865.4L537.9,865.3L541.9,865.4L545.9,865.7L549.9,866.3L553.9,867L557.9,867.9L561.9,869.1L565.9,870.3L569.9,871.8L573.9,873.4L577.9,875.1L581.9,876.9L585.9,878.8L589.9,880.7L593.9,882.7L597.9,884.8L601.9,886.8L605.9,888.8L610,890.8L614,892.7L618,894.6L622,896.4L626,898.2L630,899.8L634,901.4L638,902.9L642,904.2L646,905.5L650,906.7L654,907.8L658,908.7L662,909.6L666,910.4L670,911.1L674,911.8L678,912.3L682,912.8L686,913.3L690,913.7L694,914L698,914.3L702,914.5L706,914.7L710,914.9L714.1,915.1L718.1,915.2L722.1,915.3L726.1,915.4L730.1,915.5L734.1,915.5L738.1,915.6L742.1,915.6L746.1,915.6L750.1,915.7L754.1,915.7L758.1,915.7L762.1,915.7L766.1,915.7L770.1,915.7L774.1,915.6L778.1,915.6L782.1,915.5L786.1,915.4L790.1,915.2L794.1,915L798.1,914.7L802.1,914.3L806.1,913.8L810.1,913.2L814.2,912.3L818.2,911.2L822.2,909.8L826.2,908.1L830.2,906.1L834.2,903.5L838.2,900.5L842.2,896.9L846.2,892.6L850.2,887.8L854.2,882.2L858.2,875.9L862.2,868.9L866.2,861.3L870.2,853L874.2,844.2L878.2,835L882.2,825.6L886.2,816L890.2,806.6L894.2,797.5L898.2,788.9L902.2,781.1L906.2,774.2L910.2,768.5L914.3,764.2L918.3,761.4L922.3,760.1L926.3,760.5L930.3,762.5L934.3,766.1L938.3,771.2L942.3,777.6L946.3,785.3L950.3,793.9L954.3,803.3L958.3,813.2L962.3,823.5L966.3,833.9L970.3,844.1L974.3,854.1L978.3,863.7L982.3,872.6L986.3,881L990.3,888.6L994.3,895.5L998.3,901.6L1002.3,906.9L1006.3,911.6L1010.3,915.6L1014.3,918.9L1018.4,921.8L1022.4,924.1L1026.4,926L1030.4,927.5L1034.4,928.7L1038.4,929.7L1042.4,930.5L1046.4,931L1050.4,931.5L1054.4,931.8L1058.4,932.1L1062.4,932.2L1066.4,932.4L1070.4,932.5L1074.4,932.5L1078.4,932.6L1082.4,932.6L1086.4,932.7L1090.4,932.7L1094.4,932.7L1098.4,932.7L1102.4,932.7L1106.4,932.7L1110.4,932.7L1114.4,932.7L1118.5,932.7L1122.5,932.7L1126.5,932.7L1130.5,932.7L1134.5,932.7L1138.5,932.7L1142.5,932.7L1146.5,932.7L1150.5,932.7L1154.5,932.7L1158.5,932.7L1162.5,932.7L1166.5,932.7L1166.5,932.7L1162.5,932.7L1158.5,932.7L1154.5,932.7L1150.5,932.7L1146.5,932.7L1142.5,932.7L1138.5,932.7L1134.5,932.7L1130.5,932.7L1126.5,932.7L1122.5,932.7L1118.5,932.7L1114.4,932.7L1110.4,932.7L1106.4,932.7L1102.4,932.7L1098.4,932.7L1094.4,932.7L1090.4,932.7L1086.4,932.7L1082.4,932.7L1078.4,932.7L1074.4,932.7L1070.4,932.7L1066.4,932.7L1062.4,932.7L1058.4,932.7L1054.4,932.7L1050.4,932.7L1046.4,932.7L1042.4,932.7L1038.4,932.7L1034.4,932.7L1030.4,932.6L1026.4,932.6L1022.4,932.6L1018.4,932.6L1014.3,932.5L1010.3,932.5L1006.3,932.4L1002.3,932.3L998.3,932.2L994.3,932.1L990.3,931.9L986.3,931.7L982.3,931.5L978.3,931.3L974.3,931L970.3,930.7L966.3,930.3L962.3,929.9L958.3,929.5L954.3,929L950.3,928.5L946.3,928L942.3,927.4L938.3,926.8L934.3,926.1L930.3,925.5L926.3,924.8L922.3,924.1L918.3,923.4L914.3,922.8L910.2,922.1L906.2,921.5L902.2,920.9L898.2,920.3L894.2,919.8L890.2,919.3L886.2,918.8L882.2,918.4L878.2,918L874.2,917.7L870.2,917.4L866.2,917.1L862.2,916.9L858.2,916.7L854.2,916.5L850.2,916.4L846.2,916.2L842.2,916.1L838.2,916.1L834.2,916L830.2,916L826.2,915.9L822.2,915.9L818.2,915.9L814.2,915.8L810.1,915.8L806.1,915.8L802.1,915.8L798.1,915.8L794.1,915.8L790.1,915.8L786.1,915.8L782.1,915.8L778.1,915.8L774.1,915.8L770.1,915.8L766.1,915.8L762.1,915.8L758.1,915.8L754.1,915.8L750.1,915.8L746.1,915.8L742.1,915.8L738.1,915.8L734.1,915.8L730.1,915.8L726.1,915.8L722.1,915.8L718.1,915.8L714.1,915.8L710,915.8L706,915.8L702,915.8L698,915.8L694,915.7L690,915.7L686,915.7L682,915.7L678,915.7L674,915.7L670,915.7L666,915.7L662,915.6L658,915.6L654,915.6L650,915.6L646,915.5L642,915.5L638,915.4L634,915.4L630,915.3L626,915.3L622,915.2L618,915.1L614,915L610,914.9L605.9,914.8L601.9,914.7L597.9,914.6L593.9,914.5L589.9,914.4L585.9,914.2L581.9,914.1L577.9,913.9L573.9,913.8L569.9,913.6L565.9,913.4L561.9,913.2L557.9,913.1L553.9,912.9L549.9,912.7L545.9,912.5L541.9,912.3L537.9,912.1L533.9,911.9L529.9,911.7L525.9,911.5L521.9,911.4L517.9,911.2L513.9,911L509.9,910.8L505.8,910.7L501.8,910.5L497.8,910.3L493.8,910.2L489.8,910.1L485.8,909.9L481.8,909.8L477.8,909.7L473.8,909.6L469.8,909.5L465.8,909.4L461.8,909.3L457.8,909.2L453.8,909.1L449.8,909.1L445.8,909L441.8,909L437.8,908.9L433.8,908.9L429.8,908.8L425.8,908.8L421.8,908.8L417.8,908.7L413.8,908.7L409.8,908.7L405.7,908.7L401.7,908.7L397.7,908.7L393.7,908.7L389.7,908.6L385.7,908.6L381.7,908.6L377.7,908.6L373.7,908.6L369.7,908.6L365.7,908.6L361.7,908.6L357.7,908.6L353.7,908.6L349.7,908.6L345.7,908.6L341.7,908.6L337.7,908.6L333.7,908.6L329.7,908.6L325.7,908.6L321.7,908.6L317.7,908.6L313.7,908.6L309.7,908.6L305.7,908.6L301.6,908.6L297.6,908.6L293.6,908.6L289.6,908.6L285.6,908.6L281.6,908.6L277.6,908.6L273.6,908.6L269.6,908.6L265.6,908.6L261.6,908.6L257.6,908.6L253.6,908.6L249.6,908.6L245.6,908.6L241.6,908.6L237.6,908.6L233.6,908.6L229.6,908.6L225.6,908.6L221.6,908.6L217.6,908.6L213.6,908.6L209.6,908.6L205.6,908.6L201.5,908.6L197.5,908.6L193.5,908.6L189.5,908.6L185.5,908.6L181.5,908.6L177.5,908.6L173.5,908.6L169.5,908.6L165.5,908.6L161.5,908.6L157.5,908.6L153.5,908.6 Z" fill="url(#g3)"/>
<path d="M153.5,908.6L157.5,908.6L161.5,908.6L165.5,908.6L169.5,908.6L173.5,908.6L177.5,908.6L181.5,908.6L185.5,908.6L189.5,908.6L193.5,908.6L197.5,908.6L201.5,908.6L205.6,908.6L209.6,908.6L213.6,908.6L217.6,908.6L221.6,908.6L225.6,908.6L229.6,908.6L233.6,908.6L237.6,908.6L241.6,908.6L245.6,908.6L249.6,908.6L253.6,908.6L257.6,908.6L261.6,908.6L265.6,908.6L269.6,908.6L273.6,908.6L277.6,908.6L281.6,908.6L285.6,908.6L289.6,908.6L293.6,908.6L297.6,908.6L301.6,908.6L305.7,908.6L309.7,908.6L313.7,908.6L317.7,908.6L321.7,908.6L325.7,908.6L329.7,908.6L333.7,908.6L337.7,908.6L341.7,908.6L345.7,908.6L349.7,908.6L353.7,908.6L357.7,908.6L361.7,908.6L365.7,908.6L369.7,908.6L373.7,908.6L377.7,908.6L381.7,908.6L385.7,908.6L389.7,908.6L393.7,908.7L397.7,908.7L401.7,908.7L405.7,908.7L409.8,908.7L413.8,908.7L417.8,908.7L421.8,908.8L425.8,908.8L429.8,908.8L433.8,908.9L437.8,908.9L441.8,909L445.8,909L449.8,909.1L453.8,909.1L457.8,909.2L461.8,909.3L465.8,909.4L469.8,909.5L473.8,909.6L477.8,909.7L481.8,909.8L485.8,909.9L489.8,910.1L493.8,910.2L497.8,910.3L501.8,910.5L505.8,910.7L509.9,910.8L513.9,911L517.9,911.2L521.9,911.4L525.9,911.5L529.9,911.7L533.9,911.9L537.9,912.1L541.9,912.3L545.9,912.5L549.9,912.7L553.9,912.9L557.9,913.1L561.9,913.2L565.9,913.4L569.9,913.6L573.9,913.8L577.9,913.9L581.9,914.1L585.9,914.2L589.9,914.4L593.9,914.5L597.9,914.6L601.9,914.7L605.9,914.8L610,914.9L614,915L618,915.1L622,915.2L626,915.3L630,915.3L634,915.4L638,915.4L642,915.5L646,915.5L650,915.6L654,915.6L658,915.6L662,915.6L666,915.7L670,915.7L674,915.7L678,915.7L682,915.7L686,915.7L690,915.7L694,915.7L698,915.8L702,915.8L706,915.8L710,915.8L714.1,915.8L718.1,915.8L722.1,915.8L726.1,915.8L730.1,915.8L734.1,915.8" fill="none" stroke="#3a80d2" stroke-width="8"/>
<path d="M734.1,915.8L738.1,915.8L742.1,915.8L746.1,915.8L750.1,915.8L754.1,915.8L758.1,915.8L762.1,915.8L766.1,915.8L770.1,915.8L774.1,915.8L778.1,915.8L782.1,915.8L786.1,915.8L790.1,915.8L794.1,915.8L798.1,915.8L802.1,915.8L806.1,915.8L810.1,915.8L814.2,915.8L818.2,915.9L822.2,915.9L826.2,915.9L830.2,916L834.2,916L838.2,916.1L842.2,916.1L846.2,916.2L850.2,916.4L854.2,916.5L858.2,916.7L862.2,916.9L866.2,917.1L870.2,917.4L874.2,917.7L878.2,918L882.2,918.4L886.2,918.8L890.2,919.3L894.2,919.8L898.2,920.3L902.2,920.9L906.2,921.5L910.2,922.1L914.3,922.8L918.3,923.4L922.3,924.1L926.3,924.8L930.3,925.5L934.3,926.1L938.3,926.8L942.3,927.4L946.3,928L950.3,928.5L954.3,929L958.3,929.5L962.3,929.9L966.3,930.3L970.3,930.7L974.3,931L978.3,931.3L982.3,931.5L986.3,931.7L990.3,931.9L994.3,932.1L998.3,932.2L1002.3,932.3L1006.3,932.4L1010.3,932.5L1014.3,932.5L1018.4,932.6L1022.4,932.6L1026.4,932.6L1030.4,932.6L1034.4,932.7L1038.4,932.7L1042.4,932.7L1046.4,932.7L1050.4,932.7L1054.4,932.7L1058.4,932.7L1062.4,932.7L1066.4,932.7L1070.4,932.7L1074.4,932.7L1078.4,932.7L1082.4,932.7L1086.4,932.7L1090.4,932.7L1094.4,932.7L1098.4,932.7L1102.4,932.7L1106.4,932.7L1110.4,932.7L1114.4,932.7L1118.5,932.7L1122.5,932.7L1126.5,932.7L1130.5,932.7L1134.5,932.7L1138.5,932.7L1142.5,932.7L1146.5,932.7L1150.5,932.7L1154.5,932.7L1158.5,932.7L1162.5,932.7L1166.5,932.7" fill="none" stroke="#2ea070" stroke-width="8"/>
<path d="M153.5,908.6L157.5,908.6L161.5,908.6L165.5,908.6L169.5,908.6L173.5,908.6L177.5,908.6L181.5,908.6L185.5,908.6L189.5,908.6L193.5,908.6L197.5,908.6L201.5,908.6L205.6,908.6L209.6,908.6L213.6,908.6L217.6,908.6L221.6,908.6L225.6,908.6L229.6,908.6L233.6,908.6L237.6,908.6L241.6,908.6L245.6,908.6L249.6,908.6L253.6,908.6L257.6,908.6L261.6,908.6L265.6,908.6L269.6,908.6L273.6,908.6L277.6,908.6L281.6,908.6L285.6,908.6L289.6,908.6L293.6,908.6L297.6,908.6L301.6,908.6L305.7,908.6L309.7,908.6L313.7,908.6L317.7,908.6L321.7,908.6L325.7,908.6L329.7,908.6L333.7,908.6L337.7,908.6L341.7,908.6L345.7,908.6L349.7,908.6L353.7,908.6L357.7,908.6L361.7,908.6L365.7,908.6L369.7,908.6L373.7,908.6L377.7,908.6L381.7,908.6L385.7,908.6L389.7,908.6L393.7,908.7L397.7,908.7L401.7,908.7L405.7,908.7L409.8,908.7L413.8,908.7L417.8,908.7L421.8,908.8L425.8,908.8L429.8,908.8L433.8,908.9L437.8,908.9L441.8,909L445.8,909L449.8,909.1L453.8,909.1L457.8,909.2L461.8,909.3L465.8,909.4L469.8,909.5L473.8,909.6L477.8,909.7L481.8,909.8L485.8,909.9L489.8,910.1L493.8,910.2L497.8,910.3L501.8,910.5L505.8,910.7L509.9,910.8L513.9,911L517.9,911.2L521.9,911.4L525.9,911.5L529.9,911.7L533.9,911.9L537.9,912.1L541.9,912.3L545.9,912.5L549.9,912.7L553.9,912.9L557.9,913.1L561.9,913.2L565.9,913.4L569.9,913.6L573.9,913.8L577.9,913.9L581.9,914.1L585.9,914.2L589.9,914.4L593.9,914.5L597.9,914.6L601.9,914.7L605.9,914.8L610,914.9L614,915L618,915.1L622,915.2L626,915.3L630,915.3L634,915.4L638,915.4L642,915.5L646,915.5L650,915.6L654,915.6L658,915.6L662,915.6L666,915.7L670,915.7L674,915.7L678,915.7L682,915.7L686,915.7L690,915.7L694,915.7L698,915.8L702,915.8L706,915.8L710,915.8L714.1,915.8L718.1,915.8L722.1,915.8L726.1,915.8L730.1,915.8L734.1,915.8L738.1,915.8L742.1,915.8L746.1,915.8L750.1,915.8L754.1,915.8L758.1,915.8L762.1,915.8L766.1,915.8L770.1,915.8L774.1,915.8L778.1,915.8L782.1,915.8L786.1,915.8L790.1,915.8L794.1,915.8L798.1,915.8L802.1,915.8L806.1,915.8L810.1,915.8L814.2,915.8L818.2,915.9L822.2,915.9L826.2,915.9L830.2,916L834.2,916L838.2,916.1L842.2,916.1L846.2,916.2L850.2,916.4L854.2,916.5L858.2,916.7L862.2,916.9L866.2,917.1L870.2,917.4L874.2,917.7L878.2,918L882.2,918.4L886.2,918.8L890.2,919.3L894.2,919.8L898.2,920.3L902.2,920.9L906.2,921.5L910.2,922.1L914.3,922.8L918.3,923.4L922.3,924.1L926.3,924.8L930.3,925.5L934.3,926.1L938.3,926.8L942.3,927.4L946.3,928L950.3,928.5L954.3,929L958.3,929.5L962.3,929.9L966.3,930.3L970.3,930.7L974.3,931L978.3,931.3L982.3,931.5L986.3,931.7L990.3,931.9L994.3,932.1L998.3,932.2L1002.3,932.3L1006.3,932.4L1010.3,932.5L1014.3,932.5L1018.4,932.6L1022.4,932.6L1026.4,932.6L1030.4,932.6L1034.4,932.7L1038.4,932.7L1042.4,932.7L1046.4,932.7L1050.4,932.7L1054.4,932.7L1058.4,932.7L1062.4,932.7L1066.4,932.7L1070.4,932.7L1074.4,932.7L1078.4,932.7L1082.4,932.7L1086.4,932.7L1090.4,932.7L1094.4,932.7L1098.4,932.7L1102.4,932.7L1106.4,932.7L1110.4,932.7L1114.4,932.7L1118.5,932.7L1122.5,932.7L1126.5,932.7L1130.5,932.7L1134.5,932.7L1138.5,932.7L1142.5,932.7L1146.5,932.7L1150.5,932.7L1154.5,932.7L1158.5,932.7L1162.5,932.7L1166.5,932.7" fill="none" stroke="#404040" stroke-width="4.5"/>
<rect x="171.8" y="904.4" width="11" height="11" fill="#c4c4c4" stroke="#7c7c7c" stroke-width="1.8"/>
<rect x="202.3" y="901.4" width="11" height="11" fill="#c4c4c4" stroke="#7c7c7c" stroke-width="1.8"/>
<rect x="232.8" y="903" width="11" height="11" fill="#c4c4c4" stroke="#7c7c7c" stroke-width="1.8"/>
<rect x="263.3" y="906.9" width="11" height="11" fill="#c4c4c4" stroke="#7c7c7c" stroke-width="1.8"/>
<rect x="293.8" y="904.8" width="11" height="11" fill="#c4c4c4" stroke="#7c7c7c" stroke-width="1.8"/>
<rect x="324.3" y="905.4" width="11" height="11" fill="#c4c4c4" stroke="#7c7c7c" stroke-width="1.8"/>
<rect x="354.8" y="902.9" width="11" height="11" fill="#c4c4c4" stroke="#7c7c7c" stroke-width="1.8"/>
<rect x="385.3" y="902.5" width="11" height="11" fill="#c4c4c4" stroke="#7c7c7c" stroke-width="1.8"/>
<rect x="415.8" y="896.9" width="11" height="11" fill="#c4c4c4" stroke="#7c7c7c" stroke-width="1.8"/>
<rect x="446.3" y="890.7" width="11" height="11" fill="#c4c4c4" stroke="#7c7c7c" stroke-width="1.8"/>
<rect x="476.8" y="877.6" width="11" height="11" fill="#c4c4c4" stroke="#7c7c7c" stroke-width="1.8"/>
<rect x="507.3" y="861.7" width="11" height="11" fill="#c4c4c4" stroke="#7c7c7c" stroke-width="1.8"/>
<rect x="537.8" y="858.2" width="11" height="11" fill="#c4c4c4" stroke="#7c7c7c" stroke-width="1.8"/>
<rect x="568.3" y="866.4" width="11" height="11" fill="#c4c4c4" stroke="#7c7c7c" stroke-width="1.8"/>
<rect x="598.8" y="884.8" width="11" height="11" fill="#c4c4c4" stroke="#7c7c7c" stroke-width="1.8"/>
<rect x="629.3" y="895.9" width="11" height="11" fill="#c4c4c4" stroke="#7c7c7c" stroke-width="1.8"/>
<rect x="659.8" y="905.4" width="11" height="11" fill="#c4c4c4" stroke="#7c7c7c" stroke-width="1.8"/>
<rect x="690.3" y="907.6" width="11" height="11" fill="#c4c4c4" stroke="#7c7c7c" stroke-width="1.8"/>
<rect x="720.8" y="909.9" width="11" height="11" fill="#c4c4c4" stroke="#7c7c7c" stroke-width="1.8"/>
<rect x="751.3" y="909.6" width="11" height="11" fill="#c4c4c4" stroke="#7c7c7c" stroke-width="1.8"/>
<rect x="781.8" y="909.1" width="11" height="11" fill="#c4c4c4" stroke="#7c7c7c" stroke-width="1.8"/>
<rect x="812.3" y="906.2" width="11" height="11" fill="#c4c4c4" stroke="#7c7c7c" stroke-width="1.8"/>
<rect x="842.8" y="885" width="11" height="11" fill="#c4c4c4" stroke="#7c7c7c" stroke-width="1.8"/>
<rect x="873.3" y="830.2" width="11" height="11" fill="#c4c4c4" stroke="#7c7c7c" stroke-width="1.8"/>
<rect x="903.8" y="765.3" width="11" height="11" fill="#c4c4c4" stroke="#7c7c7c" stroke-width="1.8"/>
<rect x="934.3" y="770.3" width="11" height="11" fill="#c4c4c4" stroke="#7c7c7c" stroke-width="1.8"/>
<rect x="964.8" y="840.4" width="11" height="11" fill="#c4c4c4" stroke="#7c7c7c" stroke-width="1.8"/>
<rect x="995.3" y="901.8" width="11" height="11" fill="#c4c4c4" stroke="#7c7c7c" stroke-width="1.8"/>
<rect x="1025.8" y="923.2" width="11" height="11" fill="#c4c4c4" stroke="#7c7c7c" stroke-width="1.8"/>
<rect x="1056.3" y="925" width="11" height="11" fill="#c4c4c4" stroke="#7c7c7c" stroke-width="1.8"/>
<rect x="1086.8" y="929" width="11" height="11" fill="#c4c4c4" stroke="#7c7c7c" stroke-width="1.8"/>
<rect x="1117.3" y="929.5" width="11" height="11" fill="#c4c4c4" stroke="#7c7c7c" stroke-width="1.8"/>
<rect x="1147.8" y="929.2" width="11" height="11" fill="#c4c4c4" stroke="#7c7c7c" stroke-width="1.8"/>
<path d="M153.5,907.9L175.3,907.9L198.2,909.2L211.3,906.2L238.4,907.4L254.6,911.1L275.1,910.3L295.7,909.3L310.4,909.3L338,908.6L363.4,909L376.5,908.8L399.1,905.1L405.7,905.2L409.8,904.6L413.8,904L417.8,903.3L421.8,902.6L425.8,901.7L429.8,900.8L433.8,899.7L437.8,898.6L441.8,897.4L445.8,896.1L449.8,894.7L453.8,893.3L457.8,891.7L461.8,890.1L465.8,888.5L469.8,886.7L473.8,885L477.8,883.2L481.8,881.4L485.8,879.6L489.8,877.8L493.8,876.1L497.8,874.5L501.8,872.9L505.8,871.4L509.9,870.1L513.9,868.9L517.9,867.8L521.9,866.9L525.9,866.2L529.9,865.7L533.9,865.4L537.9,865.3L541.9,865.4L545.9,865.7L549.9,866.3L553.9,867L557.9,867.9L561.9,869.1L565.9,870.3L569.9,871.8L573.9,873.4L577.9,875.1L581.9,876.9L585.9,878.8L589.9,880.7L593.9,882.7L597.9,884.8L601.9,886.8L605.9,888.8L610,890.8L614,892.7L618,894.6L622,896.4L626,898.2L630,899.8L634,901.4L638,902.9L642,904.2L646,905.5L650,906.7L654,907.8L658,908.7L662,909.6L666,910.4L670,911.1L674,911.8L678,912.3L682,912.8L686,913.3L690,913.7L694,914L698,914.3L702,914.5L706,914.7L710,914.9L714.1,915.1L718.1,915.2L722.1,915.3L726.1,915.4L730.1,915.5L734.1,915.5L738.1,915.6L742.1,915.6L746.1,915.6L750.1,915.7L754.1,915.7L758.1,915.7L762.1,915.7L766.1,915.7L770.1,915.7L774.1,915.6L778.1,915.6L782.1,915.5L786.1,915.4L790.1,915.2L794.1,915L798.1,914.7L802.1,914.3L806.1,913.8L810.1,913.2L814.2,912.3L818.2,911.2L822.2,909.8L826.2,908.1L830.2,906.1L834.2,903.5L838.2,900.5L842.2,896.9L846.2,892.6L850.2,887.8L854.2,882.2L858.2,875.9L862.2,868.9L866.2,861.3L870.2,853L874.2,844.2L878.2,835L882.2,825.6L886.2,816L890.2,806.6L894.2,797.5L898.2,788.9L902.2,781.1L906.2,774.2L910.2,768.5L914.3,764.2L918.3,761.4L922.3,760.1L926.3,760.5L930.3,762.5L934.3,766.1L938.3,771.2L942.3,777.6L946.3,785.3L950.3,793.9L954.3,803.3L958.3,813.2L962.3,823.5L966.3,833.9L970.3,844.1L974.3,854.1L978.3,863.7L982.3,872.6L986.3,881L990.3,888.6L994.3,895.5L998.3,901.6L1002.3,906.9L1006.3,911.6L1010.3,915.6L1014.3,918.9L1018.4,921.8L1022.4,924.1L1026.4,926L1030.4,927.5L1034.4,928.7L1038.4,929.7L1042.4,930.5L1046.4,931L1050.4,931.5L1054.4,931.8L1058.4,932.1L1062.4,932.2L1066.4,932.4L1070.4,932.5L1074.4,932.5L1078.4,932.6L1082.4,932.6L1086.4,932.7L1090.4,932.7L1094.4,932.7L1098.4,932.7L1102.4,932.7L1106.4,932.7L1110.4,932.7L1114.4,932.7L1118.5,932.7L1122.5,932.7L1126.5,932.7L1130.5,932.7L1134.5,932.7L1138.5,932.7L1142.5,932.7L1146.5,932.7L1150.5,932.7L1154.5,932.7L1158.5,932.7L1162.5,932.7L1166.5,932.7" fill="none" stroke="#fe3b3b" stroke-width="7" stroke-linejoin="round" stroke-linecap="round"/>
<path d="M153.5,1125.7L157.5,1125.7L161.5,1125.7L165.5,1125.7L169.5,1125.7L173.5,1125.7L177.5,1125.7L181.5,1125.7L185.5,1125.7L189.5,1125.7L193.5,1125.7L197.5,1125.7L201.5,1125.7L205.6,1125.7L209.6,1125.7L213.6,1125.7L217.6,1125.7L221.6,1125.7L225.6,1125.7L229.6,1125.7L233.6,1125.7L237.6,1125.7L241.6,1125.7L245.6,1125.7L249.6,1125.7L253.6,1125.7L257.6,1125.7L261.6,1125.7L265.6,1125.7L269.6,1125.7L273.6,1125.7L277.6,1125.7L281.6,1125.7L285.6,1125.7L289.6,1125.7L293.6,1125.7L297.6,1125.7L301.6,1125.7L305.7,1125.7L309.7,1125.7L313.7,1125.7L317.7,1125.6L321.7,1125.6L325.7,1125.6L329.7,1125.6L333.7,1125.5L337.7,1125.5L341.7,1125.4L345.7,1125.4L349.7,1125.3L353.7,1125.2L357.7,1125.1L361.7,1125L365.7,1124.8L369.7,1124.6L373.7,1124.4L377.7,1124.1L381.7,1123.8L385.7,1123.4L389.7,1123L393.7,1122.5L397.7,1122L401.7,1121.3L405.7,1120.6L409.8,1119.9L413.8,1119L417.8,1118.1L421.8,1117L425.8,1115.9L429.8,1114.7L433.8,1113.4L437.8,1112L441.8,1110.5L445.8,1109L449.8,1107.4L453.8,1105.8L457.8,1104.1L461.8,1102.4L465.8,1100.7L469.8,1099L473.8,1097.4L477.8,1095.8L481.8,1094.3L485.8,1092.9L489.8,1091.6L493.8,1090.4L497.8,1089.4L501.8,1088.5L505.8,1087.9L509.9,1087.4L513.9,1087.2L517.9,1087.1L521.9,1087.3L525.9,1087.6L529.9,1088.2L533.9,1089L537.9,1089.9L541.9,1091.1L545.9,1092.4L549.9,1093.9L553.9,1095.4L557.9,1097.1L561.9,1098.9L565.9,1100.7L569.9,1102.6L573.9,1104.5L577.9,1106.4L581.9,1108.3L585.9,1110.1L589.9,1111.9L593.9,1113.7L597.9,1115.3L601.9,1116.9L605.9,1118.4L610,1119.8L614,1121.1L618,1122.3L622,1123.4L626,1124.4L630,1125.4L634,1126.2L638,1126.9L642,1127.6L646,1128.2L650,1128.7L654,1129.1L658,1129.5L662,1129.8L666,1130.1L670,1130.4L674,1130.6L678,1130.8L682,1130.9L686,1131L690,1131.1L694,1131.2L698,1131.3L702,1131.3L706,1131.4L710,1131.4L714.1,1131.4L718.1,1131.4L722.1,1131.5L726.1,1131.5L730.1,1131.5L734.1,1131.5L738.1,1131.5L742.1,1131.4L746.1,1131.4L750.1,1131.4L754.1,1131.3L758.1,1131.2L762.1,1131.1L766.1,1130.9L770.1,1130.7L774.1,1130.4L778.1,1130L782.1,1129.5L786.1,1128.9L790.1,1128.1L794.1,1127.1L798.1,1125.9L802.1,1124.4L806.1,1122.6L810.1,1120.4L814.2,1117.9L818.2,1114.9L822.2,1111.4L826.2,1107.5L830.2,1103L834.2,1098L838.2,1092.5L842.2,1086.4L846.2,1079.9L850.2,1073L854.2,1065.7L858.2,1058.2L862.2,1050.5L866.2,1042.9L870.2,1035.4L874.2,1028.2L878.2,1021.5L882.2,1015.4L886.2,1010.1L890.2,1005.7L894.2,1002.3L898.2,1000.1L902.2,999L906.2,999.2L910.2,1000.6L914.3,1003.2L918.3,1007L922.3,1011.8L926.3,1017.6L930.3,1024.2L934.3,1031.5L938.3,1039.2L942.3,1047.3L946.3,1055.6L950.3,1064L954.3,1072.2L958.3,1080.2L962.3,1087.8L966.3,1095.1L970.3,1101.8L974.3,1108L978.3,1113.6L982.3,1118.6L986.3,1123.1L990.3,1127.1L994.3,1130.5L998.3,1133.4L1002.3,1135.9L1006.3,1138L1010.3,1139.7L1014.3,1141.2L1018.4,1142.3L1022.4,1143.3L1026.4,1144L1030.4,1144.6L1034.4,1145.1L1038.4,1145.4L1042.4,1145.7L1046.4,1145.9L1050.4,1146.1L1054.4,1146.2L1058.4,1146.3L1062.4,1146.3L1066.4,1146.4L1070.4,1146.4L1074.4,1146.4L1078.4,1146.5L1082.4,1146.5L1086.4,1146.5L1090.4,1146.5L1094.4,1146.5L1098.4,1146.5L1102.4,1146.5L1106.4,1146.5L1110.4,1146.5L1114.4,1146.5L1118.5,1146.5L1122.5,1146.5L1126.5,1146.5L1130.5,1146.5L1134.5,1146.5L1138.5,1146.5L1142.5,1146.5L1146.5,1146.5L1150.5,1146.5L1154.5,1146.5L1158.5,1146.5L1162.5,1146.5L1166.5,1146.5L1166.5,1146.5L1162.5,1146.5L1158.5,1146.5L1154.5,1146.5L1150.5,1146.5L1146.5,1146.5L1142.5,1146.5L1138.5,1146.5L1134.5,1146.5L1130.5,1146.5L1126.5,1146.5L1122.5,1146.5L1118.5,1146.5L1114.4,1146.5L1110.4,1146.5L1106.4,1146.5L1102.4,1146.5L1098.4,1146.5L1094.4,1146.5L1090.4,1146.5L1086.4,1146.5L1082.4,1146.5L1078.4,1146.5L1074.4,1146.5L1070.4,1146.5L1066.4,1146.5L1062.4,1146.5L1058.4,1146.5L1054.4,1146.5L1050.4,1146.5L1046.4,1146.5L1042.4,1146.5L1038.4,1146.5L1034.4,1146.5L1030.4,1146.5L1026.4,1146.5L1022.4,1146.5L1018.4,1146.4L1014.3,1146.4L1010.3,1146.4L1006.3,1146.4L1002.3,1146.4L998.3,1146.3L994.3,1146.3L990.3,1146.2L986.3,1146.1L982.3,1146L978.3,1145.9L974.3,1145.8L970.3,1145.6L966.3,1145.5L962.3,1145.3L958.3,1145L954.3,1144.8L950.3,1144.5L946.3,1144.2L942.3,1143.8L938.3,1143.4L934.3,1143L930.3,1142.5L926.3,1142.1L922.3,1141.6L918.3,1141.1L914.3,1140.5L910.2,1140L906.2,1139.4L902.2,1138.8L898.2,1138.3L894.2,1137.7L890.2,1137.2L886.2,1136.7L882.2,1136.2L878.2,1135.7L874.2,1135.2L870.2,1134.8L866.2,1134.4L862.2,1134L858.2,1133.7L854.2,1133.4L850.2,1133.1L846.2,1132.9L842.2,1132.7L838.2,1132.5L834.2,1132.3L830.2,1132.2L826.2,1132.1L822.2,1132L818.2,1131.9L814.2,1131.8L810.1,1131.7L806.1,1131.7L802.1,1131.7L798.1,1131.6L794.1,1131.6L790.1,1131.6L786.1,1131.6L782.1,1131.6L778.1,1131.6L774.1,1131.6L770.1,1131.6L766.1,1131.5L762.1,1131.5L758.1,1131.5L754.1,1131.5L750.1,1131.5L746.1,1131.5L742.1,1131.5L738.1,1131.5L734.1,1131.5L730.1,1131.5L726.1,1131.5L722.1,1131.5L718.1,1131.5L714.1,1131.5L710,1131.5L706,1131.5L702,1131.5L698,1131.5L694,1131.5L690,1131.5L686,1131.5L682,1131.5L678,1131.5L674,1131.5L670,1131.5L666,1131.5L662,1131.5L658,1131.5L654,1131.5L650,1131.5L646,1131.5L642,1131.5L638,1131.4L634,1131.4L630,1131.4L626,1131.4L622,1131.4L618,1131.3L614,1131.3L610,1131.2L605.9,1131.2L601.9,1131.1L597.9,1131.1L593.9,1131L589.9,1131L585.9,1130.9L581.9,1130.8L577.9,1130.7L573.9,1130.6L569.9,1130.5L565.9,1130.4L561.9,1130.3L557.9,1130.1L553.9,1130L549.9,1129.9L545.9,1129.7L541.9,1129.6L537.9,1129.4L533.9,1129.3L529.9,1129.1L525.9,1128.9L521.9,1128.8L517.9,1128.6L513.9,1128.4L509.9,1128.3L505.8,1128.1L501.8,1128L497.8,1127.8L493.8,1127.6L489.8,1127.5L485.8,1127.4L481.8,1127.2L477.8,1127.1L473.8,1127L469.8,1126.8L465.8,1126.7L461.8,1126.6L457.8,1126.5L453.8,1126.4L449.8,1126.4L445.8,1126.3L441.8,1126.2L437.8,1126.1L433.8,1126.1L429.8,1126L425.8,1126L421.8,1126L417.8,1125.9L413.8,1125.9L409.8,1125.9L405.7,1125.8L401.7,1125.8L397.7,1125.8L393.7,1125.8L389.7,1125.8L385.7,1125.8L381.7,1125.7L377.7,1125.7L373.7,1125.7L369.7,1125.7L365.7,1125.7L361.7,1125.7L357.7,1125.7L353.7,1125.7L349.7,1125.7L345.7,1125.7L341.7,1125.7L337.7,1125.7L333.7,1125.7L329.7,1125.7L325.7,1125.7L321.7,1125.7L317.7,1125.7L313.7,1125.7L309.7,1125.7L305.7,1125.7L301.6,1125.7L297.6,1125.7L293.6,1125.7L289.6,1125.7L285.6,1125.7L281.6,1125.7L277.6,1125.7L273.6,1125.7L269.6,1125.7L265.6,1125.7L261.6,1125.7L257.6,1125.7L253.6,1125.7L249.6,1125.7L245.6,1125.7L241.6,1125.7L237.6,1125.7L233.6,1125.7L229.6,1125.7L225.6,1125.7L221.6,1125.7L217.6,1125.7L213.6,1125.7L209.6,1125.7L205.6,1125.7L201.5,1125.7L197.5,1125.7L193.5,1125.7L189.5,1125.7L185.5,1125.7L181.5,1125.7L177.5,1125.7L173.5,1125.7L169.5,1125.7L165.5,1125.7L161.5,1125.7L157.5,1125.7L153.5,1125.7 Z" fill="url(#g4)"/>
<path d="M153.5,1125.7L157.5,1125.7L161.5,1125.7L165.5,1125.7L169.5,1125.7L173.5,1125.7L177.5,1125.7L181.5,1125.7L185.5,1125.7L189.5,1125.7L193.5,1125.7L197.5,1125.7L201.5,1125.7L205.6,1125.7L209.6,1125.7L213.6,1125.7L217.6,1125.7L221.6,1125.7L225.6,1125.7L229.6,1125.7L233.6,1125.7L237.6,1125.7L241.6,1125.7L245.6,1125.7L249.6,1125.7L253.6,1125.7L257.6,1125.7L261.6,1125.7L265.6,1125.7L269.6,1125.7L273.6,1125.7L277.6,1125.7L281.6,1125.7L285.6,1125.7L289.6,1125.7L293.6,1125.7L297.6,1125.7L301.6,1125.7L305.7,1125.7L309.7,1125.7L313.7,1125.7L317.7,1125.7L321.7,1125.7L325.7,1125.7L329.7,1125.7L333.7,1125.7L337.7,1125.7L341.7,1125.7L345.7,1125.7L349.7,1125.7L353.7,1125.7L357.7,1125.7L361.7,1125.7L365.7,1125.7L369.7,1125.7L373.7,1125.7L377.7,1125.7L381.7,1125.7L385.7,1125.8L389.7,1125.8L393.7,1125.8L397.7,1125.8L401.7,1125.8L405.7,1125.8L409.8,1125.9L413.8,1125.9L417.8,1125.9L421.8,1126L425.8,1126L429.8,1126L433.8,1126.1L437.8,1126.1L441.8,1126.2L445.8,1126.3L449.8,1126.4L453.8,1126.4L457.8,1126.5L461.8,1126.6L465.8,1126.7L469.8,1126.8L473.8,1127L477.8,1127.1L481.8,1127.2L485.8,1127.4L489.8,1127.5L493.8,1127.6L497.8,1127.8L501.8,1128L505.8,1128.1L509.9,1128.3L513.9,1128.4L517.9,1128.6L521.9,1128.8L525.9,1128.9L529.9,1129.1L533.9,1129.3L537.9,1129.4L541.9,1129.6L545.9,1129.7L549.9,1129.9L553.9,1130L557.9,1130.1L561.9,1130.3L565.9,1130.4L569.9,1130.5L573.9,1130.6L577.9,1130.7L581.9,1130.8L585.9,1130.9L589.9,1131L593.9,1131L597.9,1131.1L601.9,1131.1L605.9,1131.2L610,1131.2L614,1131.3L618,1131.3L622,1131.4L626,1131.4L630,1131.4L634,1131.4L638,1131.4L642,1131.5L646,1131.5L650,1131.5L654,1131.5L658,1131.5L662,1131.5L666,1131.5L670,1131.5L674,1131.5L678,1131.5L682,1131.5L686,1131.5L690,1131.5L694,1131.5L698,1131.5L702,1131.5L706,1131.5L710,1131.5L714.1,1131.5" fill="none" stroke="#3a80d2" stroke-width="8"/>
<path d="M714.1,1131.5L718.1,1131.5L722.1,1131.5L726.1,1131.5L730.1,1131.5L734.1,1131.5L738.1,1131.5L742.1,1131.5L746.1,1131.5L750.1,1131.5L754.1,1131.5L758.1,1131.5L762.1,1131.5L766.1,1131.5L770.1,1131.6L774.1,1131.6L778.1,1131.6L782.1,1131.6L786.1,1131.6L790.1,1131.6L794.1,1131.6L798.1,1131.6L802.1,1131.7L806.1,1131.7L810.1,1131.7L814.2,1131.8L818.2,1131.9L822.2,1132L826.2,1132.1L830.2,1132.2L834.2,1132.3L838.2,1132.5L842.2,1132.7L846.2,1132.9L850.2,1133.1L854.2,1133.4L858.2,1133.7L862.2,1134L866.2,1134.4L870.2,1134.8L874.2,1135.2L878.2,1135.7L882.2,1136.2L886.2,1136.7L890.2,1137.2L894.2,1137.7L898.2,1138.3L902.2,1138.8L906.2,1139.4L910.2,1140L914.3,1140.5L918.3,1141.1L922.3,1141.6L926.3,1142.1L930.3,1142.5L934.3,1143L938.3,1143.4L942.3,1143.8L946.3,1144.2L950.3,1144.5L954.3,1144.8L958.3,1145L962.3,1145.3L966.3,1145.5L970.3,1145.6L974.3,1145.8L978.3,1145.9L982.3,1146L986.3,1146.1L990.3,1146.2L994.3,1146.3L998.3,1146.3L1002.3,1146.4L1006.3,1146.4L1010.3,1146.4L1014.3,1146.4L1018.4,1146.4L1022.4,1146.5L1026.4,1146.5L1030.4,1146.5L1034.4,1146.5L1038.4,1146.5L1042.4,1146.5L1046.4,1146.5L1050.4,1146.5L1054.4,1146.5L1058.4,1146.5L1062.4,1146.5L1066.4,1146.5L1070.4,1146.5L1074.4,1146.5L1078.4,1146.5L1082.4,1146.5L1086.4,1146.5L1090.4,1146.5L1094.4,1146.5L1098.4,1146.5L1102.4,1146.5L1106.4,1146.5L1110.4,1146.5L1114.4,1146.5L1118.5,1146.5L1122.5,1146.5L1126.5,1146.5L1130.5,1146.5L1134.5,1146.5L1138.5,1146.5L1142.5,1146.5L1146.5,1146.5L1150.5,1146.5L1154.5,1146.5L1158.5,1146.5L1162.5,1146.5L1166.5,1146.5" fill="none" stroke="#2ea070" stroke-width="8"/>
<path d="M153.5,1125.7L157.5,1125.7L161.5,1125.7L165.5,1125.7L169.5,1125.7L173.5,1125.7L177.5,1125.7L181.5,1125.7L185.5,1125.7L189.5,1125.7L193.5,1125.7L197.5,1125.7L201.5,1125.7L205.6,1125.7L209.6,1125.7L213.6,1125.7L217.6,1125.7L221.6,1125.7L225.6,1125.7L229.6,1125.7L233.6,1125.7L237.6,1125.7L241.6,1125.7L245.6,1125.7L249.6,1125.7L253.6,1125.7L257.6,1125.7L261.6,1125.7L265.6,1125.7L269.6,1125.7L273.6,1125.7L277.6,1125.7L281.6,1125.7L285.6,1125.7L289.6,1125.7L293.6,1125.7L297.6,1125.7L301.6,1125.7L305.7,1125.7L309.7,1125.7L313.7,1125.7L317.7,1125.7L321.7,1125.7L325.7,1125.7L329.7,1125.7L333.7,1125.7L337.7,1125.7L341.7,1125.7L345.7,1125.7L349.7,1125.7L353.7,1125.7L357.7,1125.7L361.7,1125.7L365.7,1125.7L369.7,1125.7L373.7,1125.7L377.7,1125.7L381.7,1125.7L385.7,1125.8L389.7,1125.8L393.7,1125.8L397.7,1125.8L401.7,1125.8L405.7,1125.8L409.8,1125.9L413.8,1125.9L417.8,1125.9L421.8,1126L425.8,1126L429.8,1126L433.8,1126.1L437.8,1126.1L441.8,1126.2L445.8,1126.3L449.8,1126.4L453.8,1126.4L457.8,1126.5L461.8,1126.6L465.8,1126.7L469.8,1126.8L473.8,1127L477.8,1127.1L481.8,1127.2L485.8,1127.4L489.8,1127.5L493.8,1127.6L497.8,1127.8L501.8,1128L505.8,1128.1L509.9,1128.3L513.9,1128.4L517.9,1128.6L521.9,1128.8L525.9,1128.9L529.9,1129.1L533.9,1129.3L537.9,1129.4L541.9,1129.6L545.9,1129.7L549.9,1129.9L553.9,1130L557.9,1130.1L561.9,1130.3L565.9,1130.4L569.9,1130.5L573.9,1130.6L577.9,1130.7L581.9,1130.8L585.9,1130.9L589.9,1131L593.9,1131L597.9,1131.1L601.9,1131.1L605.9,1131.2L610,1131.2L614,1131.3L618,1131.3L622,1131.4L626,1131.4L630,1131.4L634,1131.4L638,1131.4L642,1131.5L646,1131.5L650,1131.5L654,1131.5L658,1131.5L662,1131.5L666,1131.5L670,1131.5L674,1131.5L678,1131.5L682,1131.5L686,1131.5L690,1131.5L694,1131.5L698,1131.5L702,1131.5L706,1131.5L710,1131.5L714.1,1131.5L718.1,1131.5L722.1,1131.5L726.1,1131.5L730.1,1131.5L734.1,1131.5L738.1,1131.5L742.1,1131.5L746.1,1131.5L750.1,1131.5L754.1,1131.5L758.1,1131.5L762.1,1131.5L766.1,1131.5L770.1,1131.6L774.1,1131.6L778.1,1131.6L782.1,1131.6L786.1,1131.6L790.1,1131.6L794.1,1131.6L798.1,1131.6L802.1,1131.7L806.1,1131.7L810.1,1131.7L814.2,1131.8L818.2,1131.9L822.2,1132L826.2,1132.1L830.2,1132.2L834.2,1132.3L838.2,1132.5L842.2,1132.7L846.2,1132.9L850.2,1133.1L854.2,1133.4L858.2,1133.7L862.2,1134L866.2,1134.4L870.2,1134.8L874.2,1135.2L878.2,1135.7L882.2,1136.2L886.2,1136.7L890.2,1137.2L894.2,1137.7L898.2,1138.3L902.2,1138.8L906.2,1139.4L910.2,1140L914.3,1140.5L918.3,1141.1L922.3,1141.6L926.3,1142.1L930.3,1142.5L934.3,1143L938.3,1143.4L942.3,1143.8L946.3,1144.2L950.3,1144.5L954.3,1144.8L958.3,1145L962.3,1145.3L966.3,1145.5L970.3,1145.6L974.3,1145.8L978.3,1145.9L982.3,1146L986.3,1146.1L990.3,1146.2L994.3,1146.3L998.3,1146.3L1002.3,1146.4L1006.3,1146.4L1010.3,1146.4L1014.3,1146.4L1018.4,1146.4L1022.4,1146.5L1026.4,1146.5L1030.4,1146.5L1034.4,1146.5L1038.4,1146.5L1042.4,1146.5L1046.4,1146.5L1050.4,1146.5L1054.4,1146.5L1058.4,1146.5L1062.4,1146.5L1066.4,1146.5L1070.4,1146.5L1074.4,1146.5L1078.4,1146.5L1082.4,1146.5L1086.4,1146.5L1090.4,1146.5L1094.4,1146.5L1098.4,1146.5L1102.4,1146.5L1106.4,1146.5L1110.4,1146.5L1114.4,1146.5L1118.5,1146.5L1122.5,1146.5L1126.5,1146.5L1130.5,1146.5L1134.5,1146.5L1138.5,1146.5L1142.5,1146.5L1146.5,1146.5L1150.5,1146.5L1154.5,1146.5L1158.5,1146.5L1162.5,1146.5L1166.5,1146.5" fill="none" stroke="#404040" stroke-width="4.5"/>
<rect x="171.8" y="1119.1" width="11" height="11" fill="#c4c4c4" stroke="#7c7c7c" stroke-width="1.8"/>
<rect x="202.3" y="1123" width="11" height="11" fill="#c4c4c4" stroke="#7c7c7c" stroke-width="1.8"/>
<rect x="232.8" y="1120.8" width="11" height="11" fill="#c4c4c4" stroke="#7c7c7c" stroke-width="1.8"/>
<rect x="263.3" y="1117.1" width="11" height="11" fill="#c4c4c4" stroke="#7c7c7c" stroke-width="1.8"/>
<rect x="293.8" y="1121.3" width="11" height="11" fill="#c4c4c4" stroke="#7c7c7c" stroke-width="1.8"/>
<rect x="324.3" y="1119.5" width="11" height="11" fill="#c4c4c4" stroke="#7c7c7c" stroke-width="1.8"/>
<rect x="354.8" y="1121.9" width="11" height="11" fill="#c4c4c4" stroke="#7c7c7c" stroke-width="1.8"/>
<rect x="385.3" y="1120.5" width="11" height="11" fill="#c4c4c4" stroke="#7c7c7c" stroke-width="1.8"/>
<rect x="415.8" y="1111.9" width="11" height="11" fill="#c4c4c4" stroke="#7c7c7c" stroke-width="1.8"/>
<rect x="446.3" y="1100.1" width="11" height="11" fill="#c4c4c4" stroke="#7c7c7c" stroke-width="1.8"/>
<rect x="476.8" y="1090.7" width="11" height="11" fill="#c4c4c4" stroke="#7c7c7c" stroke-width="1.8"/>
<rect x="507.3" y="1082.1" width="11" height="11" fill="#c4c4c4" stroke="#7c7c7c" stroke-width="1.8"/>
<rect x="537.8" y="1088" width="11" height="11" fill="#c4c4c4" stroke="#7c7c7c" stroke-width="1.8"/>
<rect x="568.3" y="1100.7" width="11" height="11" fill="#c4c4c4" stroke="#7c7c7c" stroke-width="1.8"/>
<rect x="598.8" y="1112.3" width="11" height="11" fill="#c4c4c4" stroke="#7c7c7c" stroke-width="1.8"/>
<rect x="629.3" y="1120.4" width="11" height="11" fill="#c4c4c4" stroke="#7c7c7c" stroke-width="1.8"/>
<rect x="659.8" y="1125.1" width="11" height="11" fill="#c4c4c4" stroke="#7c7c7c" stroke-width="1.8"/>
<rect x="690.3" y="1125.4" width="11" height="11" fill="#c4c4c4" stroke="#7c7c7c" stroke-width="1.8"/>
<rect x="720.8" y="1124.3" width="11" height="11" fill="#c4c4c4" stroke="#7c7c7c" stroke-width="1.8"/>
<rect x="751.3" y="1124.8" width="11" height="11" fill="#c4c4c4" stroke="#7c7c7c" stroke-width="1.8"/>
<rect x="781.8" y="1124.7" width="11" height="11" fill="#c4c4c4" stroke="#7c7c7c" stroke-width="1.8"/>
<rect x="812.3" y="1107.4" width="11" height="11" fill="#c4c4c4" stroke="#7c7c7c" stroke-width="1.8"/>
<rect x="842.8" y="1068.5" width="11" height="11" fill="#c4c4c4" stroke="#7c7c7c" stroke-width="1.8"/>
<rect x="873.3" y="1015.8" width="11" height="11" fill="#c4c4c4" stroke="#7c7c7c" stroke-width="1.8"/>
<rect x="903.8" y="993.6" width="11" height="11" fill="#c4c4c4" stroke="#7c7c7c" stroke-width="1.8"/>
<rect x="934.3" y="1037" width="11" height="11" fill="#c4c4c4" stroke="#7c7c7c" stroke-width="1.8"/>
<rect x="964.8" y="1096.1" width="11" height="11" fill="#c4c4c4" stroke="#7c7c7c" stroke-width="1.8"/>
<rect x="995.3" y="1128.6" width="11" height="11" fill="#c4c4c4" stroke="#7c7c7c" stroke-width="1.8"/>
<rect x="1025.8" y="1141.7" width="11" height="11" fill="#c4c4c4" stroke="#7c7c7c" stroke-width="1.8"/>
<rect x="1056.3" y="1139.3" width="11" height="11" fill="#c4c4c4" stroke="#7c7c7c" stroke-width="1.8"/>
<rect x="1086.8" y="1140.6" width="11" height="11" fill="#c4c4c4" stroke="#7c7c7c" stroke-width="1.8"/>
<rect x="1117.3" y="1139.5" width="11" height="11" fill="#c4c4c4" stroke="#7c7c7c" stroke-width="1.8"/>
<rect x="1147.8" y="1141.7" width="11" height="11" fill="#c4c4c4" stroke="#7c7c7c" stroke-width="1.8"/>
<path d="M153.5,1125L167.4,1125.2L182.1,1123.5L201.4,1127.8L227.8,1127L243.8,1125.9L260.8,1124.1L274.7,1124.3L303.4,1127.3L329.9,1127.1L345.4,1124.4L368.7,1125.7L396,1123.9L401.7,1121.3L405.7,1120.6L409.8,1119.9L413.8,1119L417.8,1118.1L421.8,1117L425.8,1115.9L429.8,1114.7L433.8,1113.4L437.8,1112L441.8,1110.5L445.8,1109L449.8,1107.4L453.8,1105.8L457.8,1104.1L461.8,1102.4L465.8,1100.7L469.8,1099L473.8,1097.4L477.8,1095.8L481.8,1094.3L485.8,1092.9L489.8,1091.6L493.8,1090.4L497.8,1089.4L501.8,1088.5L505.8,1087.9L509.9,1087.4L513.9,1087.2L517.9,1087.1L521.9,1087.3L525.9,1087.6L529.9,1088.2L533.9,1089L537.9,1089.9L541.9,1091.1L545.9,1092.4L549.9,1093.9L553.9,1095.4L557.9,1097.1L561.9,1098.9L565.9,1100.7L569.9,1102.6L573.9,1104.5L577.9,1106.4L581.9,1108.3L585.9,1110.1L589.9,1111.9L593.9,1113.7L597.9,1115.3L601.9,1116.9L605.9,1118.4L610,1119.8L614,1121.1L618,1122.3L622,1123.4L626,1124.4L630,1125.4L634,1126.2L638,1126.9L642,1127.6L646,1128.2L650,1128.7L654,1129.1L658,1129.5L662,1129.8L666,1130.1L670,1130.4L674,1130.6L678,1130.8L682,1130.9L686,1131L690,1131.1L694,1131.2L698,1131.3L702,1131.3L706,1131.4L710,1131.4L714.1,1131.4L718.1,1131.4L722.1,1131.5L726.1,1131.5L730.1,1131.5L734.1,1131.5L738.1,1131.5L742.1,1131.4L746.1,1131.4L750.1,1131.4L754.1,1131.3L758.1,1131.2L762.1,1131.1L766.1,1130.9L770.1,1130.7L774.1,1130.4L778.1,1130L782.1,1129.5L786.1,1128.9L790.1,1128.1L794.1,1127.1L798.1,1125.9L802.1,1124.4L806.1,1122.6L810.1,1120.4L814.2,1117.9L818.2,1114.9L822.2,1111.4L826.2,1107.5L830.2,1103L834.2,1098L838.2,1092.5L842.2,1086.4L846.2,1079.9L850.2,1073L854.2,1065.7L858.2,1058.2L862.2,1050.5L866.2,1042.9L870.2,1035.4L874.2,1028.2L878.2,1021.5L882.2,1015.4L886.2,1010.1L890.2,1005.7L894.2,1002.3L898.2,1000.1L902.2,999L906.2,999.2L910.2,1000.6L914.3,1003.2L918.3,1007L922.3,1011.8L926.3,1017.6L930.3,1024.2L934.3,1031.5L938.3,1039.2L942.3,1047.3L946.3,1055.6L950.3,1064L954.3,1072.2L958.3,1080.2L962.3,1087.8L966.3,1095.1L970.3,1101.8L974.3,1108L978.3,1113.6L982.3,1118.6L986.3,1123.1L990.3,1127.1L994.3,1130.5L998.3,1133.4L1002.3,1135.9L1006.3,1138L1010.3,1139.7L1014.3,1141.2L1018.4,1142.3L1022.4,1143.3L1026.4,1144L1030.4,1144.6L1034.4,1145.1L1038.4,1145.4L1042.4,1145.7L1046.4,1145.9L1050.4,1146.1L1054.4,1146.2L1058.4,1146.3L1062.4,1146.3L1066.4,1146.4L1070.4,1146.4L1074.4,1146.4L1078.4,1146.5L1082.4,1146.5L1086.4,1146.5L1090.4,1146.5L1094.4,1146.5L1098.4,1146.5L1102.4,1146.5L1106.4,1146.5L1110.4,1146.5L1114.4,1146.5L1118.5,1146.5L1122.5,1146.5L1126.5,1146.5L1130.5,1146.5L1134.5,1146.5L1138.5,1146.5L1142.5,1146.5L1146.5,1146.5L1150.5,1146.5L1154.5,1146.5L1158.5,1146.5L1162.5,1146.5L1166.5,1146.5" fill="none" stroke="#fe3b3b" stroke-width="7" stroke-linejoin="round" stroke-linecap="round"/>
<path d="M153.5,1335.8L157.5,1335.8L161.5,1335.8L165.5,1335.8L169.5,1335.8L173.5,1335.8L177.5,1335.8L181.5,1335.8L185.5,1335.8L189.5,1335.8L193.5,1335.8L197.5,1335.8L201.5,1335.8L205.6,1335.8L209.6,1335.8L213.6,1335.8L217.6,1335.8L221.6,1335.8L225.6,1335.8L229.6,1335.8L233.6,1335.8L237.6,1335.8L241.6,1335.8L245.6,1335.8L249.6,1335.8L253.6,1335.8L257.6,1335.8L261.6,1335.8L265.6,1335.8L269.6,1335.8L273.6,1335.8L277.6,1335.8L281.6,1335.8L285.6,1335.8L289.6,1335.8L293.6,1335.8L297.6,1335.8L301.6,1335.7L305.7,1335.7L309.7,1335.7L313.7,1335.7L317.7,1335.7L321.7,1335.6L325.7,1335.6L329.7,1335.5L333.7,1335.5L337.7,1335.4L341.7,1335.3L345.7,1335.2L349.7,1335L353.7,1334.9L357.7,1334.7L361.7,1334.4L365.7,1334.2L369.7,1333.9L373.7,1333.5L377.7,1333.1L381.7,1332.6L385.7,1332.1L389.7,1331.5L393.7,1330.8L397.7,1330.1L401.7,1329.2L405.7,1328.3L409.8,1327.3L413.8,1326.2L417.8,1325L421.8,1323.7L425.8,1322.3L429.8,1320.8L433.8,1319.2L437.8,1317.6L441.8,1315.9L445.8,1314.1L449.8,1312.3L453.8,1310.5L457.8,1308.7L461.8,1306.8L465.8,1305L469.8,1303.2L473.8,1301.5L477.8,1299.9L481.8,1298.3L485.8,1296.9L489.8,1295.6L493.8,1294.5L497.8,1293.6L501.8,1292.8L505.8,1292.3L509.9,1291.9L513.9,1291.8L517.9,1291.9L521.9,1292.2L525.9,1292.7L529.9,1293.5L533.9,1294.4L537.9,1295.5L541.9,1296.8L545.9,1298.3L549.9,1299.9L553.9,1301.6L557.9,1303.4L561.9,1305.3L565.9,1307.3L569.9,1309.3L573.9,1311.3L577.9,1313.4L581.9,1315.4L585.9,1317.4L589.9,1319.3L593.9,1321.2L597.9,1323L601.9,1324.7L605.9,1326.3L610,1327.8L614,1329.3L618,1330.6L622,1331.8L626,1333L630,1334L634,1334.9L638,1335.8L642,1336.5L646,1337.2L650,1337.8L654,1338.3L658,1338.8L662,1339.2L666,1339.5L670,1339.8L674,1340.1L678,1340.3L682,1340.5L686,1340.7L690,1340.8L694,1340.9L698,1341L702,1341.1L706,1341.1L710,1341.2L714.1,1341.2L718.1,1341.3L722.1,1341.3L726.1,1341.3L730.1,1341.3L734.1,1341.3L738.1,1341.3L742.1,1341.3L746.1,1341.3L750.1,1341.2L754.1,1341.2L758.1,1341.1L762.1,1340.9L766.1,1340.8L770.1,1340.6L774.1,1340.3L778.1,1339.9L782.1,1339.4L786.1,1338.8L790.1,1338L794.1,1337L798.1,1335.7L802.1,1334.2L806.1,1332.4L810.1,1330.2L814.2,1327.5L818.2,1324.4L822.2,1320.8L826.2,1316.6L830.2,1311.8L834.2,1306.4L838.2,1300.5L842.2,1293.9L846.2,1286.8L850.2,1279.3L854.2,1271.2L858.2,1262.9L862.2,1254.4L866.2,1245.8L870.2,1237.4L874.2,1229.2L878.2,1221.5L882.2,1214.4L886.2,1208.1L890.2,1202.8L894.2,1198.6L898.2,1195.6L902.2,1194L906.2,1193.7L910.2,1194.8L914.3,1197.3L918.3,1201.1L922.3,1206.1L926.3,1212.2L930.3,1219.2L934.3,1227L938.3,1235.5L942.3,1244.3L946.3,1253.4L950.3,1262.6L954.3,1271.7L958.3,1280.6L962.3,1289.1L966.3,1297.1L970.3,1304.6L974.3,1311.5L978.3,1317.8L982.3,1323.5L986.3,1328.5L990.3,1332.9L994.3,1336.8L998.3,1340L1002.3,1342.8L1006.3,1345.2L1010.3,1347.1L1014.3,1348.7L1018.4,1350L1022.4,1351.1L1026.4,1351.9L1030.4,1352.6L1034.4,1353.1L1038.4,1353.5L1042.4,1353.8L1046.4,1354.1L1050.4,1354.2L1054.4,1354.4L1058.4,1354.5L1062.4,1354.5L1066.4,1354.6L1070.4,1354.6L1074.4,1354.6L1078.4,1354.7L1082.4,1354.7L1086.4,1354.7L1090.4,1354.7L1094.4,1354.7L1098.4,1354.7L1102.4,1354.7L1106.4,1354.7L1110.4,1354.7L1114.4,1354.7L1118.5,1354.7L1122.5,1354.7L1126.5,1354.7L1130.5,1354.7L1134.5,1354.7L1138.5,1354.7L1142.5,1354.7L1146.5,1354.7L1150.5,1354.7L1154.5,1354.7L1158.5,1354.7L1162.5,1354.7L1166.5,1354.7L1166.5,1354.7L1162.5,1354.7L1158.5,1354.7L1154.5,1354.7L1150.5,1354.7L1146.5,1354.7L1142.5,1354.7L1138.5,1354.7L1134.5,1354.7L1130.5,1354.7L1126.5,1354.7L1122.5,1354.7L1118.5,1354.7L1114.4,1354.7L1110.4,1354.7L1106.4,1354.7L1102.4,1354.7L1098.4,1354.7L1094.4,1354.7L1090.4,1354.7L1086.4,1354.7L1082.4,1354.7L1078.4,1354.7L1074.4,1354.7L1070.4,1354.7L1066.4,1354.7L1062.4,1354.7L1058.4,1354.7L1054.4,1354.7L1050.4,1354.7L1046.4,1354.7L1042.4,1354.7L1038.4,1354.7L1034.4,1354.7L1030.4,1354.7L1026.4,1354.7L1022.4,1354.7L1018.4,1354.7L1014.3,1354.6L1010.3,1354.6L1006.3,1354.6L1002.3,1354.6L998.3,1354.5L994.3,1354.5L990.3,1354.4L986.3,1354.4L982.3,1354.3L978.3,1354.2L974.3,1354L970.3,1353.9L966.3,1353.7L962.3,1353.6L958.3,1353.4L954.3,1353.1L950.3,1352.9L946.3,1352.6L942.3,1352.2L938.3,1351.9L934.3,1351.5L930.3,1351.1L926.3,1350.7L922.3,1350.2L918.3,1349.7L914.3,1349.3L910.2,1348.8L906.2,1348.3L902.2,1347.8L898.2,1347.3L894.2,1346.8L890.2,1346.3L886.2,1345.8L882.2,1345.4L878.2,1344.9L874.2,1344.5L870.2,1344.2L866.2,1343.8L862.2,1343.5L858.2,1343.2L854.2,1342.9L850.2,1342.7L846.2,1342.5L842.2,1342.3L838.2,1342.2L834.2,1342L830.2,1341.9L826.2,1341.8L822.2,1341.7L818.2,1341.7L814.2,1341.6L810.1,1341.6L806.1,1341.5L802.1,1341.5L798.1,1341.5L794.1,1341.4L790.1,1341.4L786.1,1341.4L782.1,1341.4L778.1,1341.4L774.1,1341.4L770.1,1341.4L766.1,1341.4L762.1,1341.4L758.1,1341.4L754.1,1341.4L750.1,1341.4L746.1,1341.4L742.1,1341.4L738.1,1341.4L734.1,1341.4L730.1,1341.4L726.1,1341.4L722.1,1341.4L718.1,1341.4L714.1,1341.4L710,1341.4L706,1341.4L702,1341.4L698,1341.4L694,1341.4L690,1341.4L686,1341.4L682,1341.4L678,1341.4L674,1341.4L670,1341.4L666,1341.4L662,1341.4L658,1341.3L654,1341.3L650,1341.3L646,1341.3L642,1341.3L638,1341.3L634,1341.3L630,1341.3L626,1341.2L622,1341.2L618,1341.2L614,1341.1L610,1341.1L605.9,1341.1L601.9,1341L597.9,1341L593.9,1340.9L589.9,1340.8L585.9,1340.8L581.9,1340.7L577.9,1340.6L573.9,1340.5L569.9,1340.4L565.9,1340.3L561.9,1340.2L557.9,1340.1L553.9,1340L549.9,1339.8L545.9,1339.7L541.9,1339.6L537.9,1339.4L533.9,1339.3L529.9,1339.2L525.9,1339L521.9,1338.9L517.9,1338.7L513.9,1338.6L509.9,1338.4L505.8,1338.2L501.8,1338.1L497.8,1337.9L493.8,1337.8L489.8,1337.7L485.8,1337.5L481.8,1337.4L477.8,1337.3L473.8,1337.1L469.8,1337L465.8,1336.9L461.8,1336.8L457.8,1336.7L453.8,1336.6L449.8,1336.5L445.8,1336.5L441.8,1336.4L437.8,1336.3L433.8,1336.3L429.8,1336.2L425.8,1336.2L421.8,1336.1L417.8,1336.1L413.8,1336L409.8,1336L405.7,1336L401.7,1335.9L397.7,1335.9L393.7,1335.9L389.7,1335.9L385.7,1335.9L381.7,1335.9L377.7,1335.9L373.7,1335.8L369.7,1335.8L365.7,1335.8L361.7,1335.8L357.7,1335.8L353.7,1335.8L349.7,1335.8L345.7,1335.8L341.7,1335.8L337.7,1335.8L333.7,1335.8L329.7,1335.8L325.7,1335.8L321.7,1335.8L317.7,1335.8L313.7,1335.8L309.7,1335.8L305.7,1335.8L301.6,1335.8L297.6,1335.8L293.6,1335.8L289.6,1335.8L285.6,1335.8L281.6,1335.8L277.6,1335.8L273.6,1335.8L269.6,1335.8L265.6,1335.8L261.6,1335.8L257.6,1335.8L253.6,1335.8L249.6,1335.8L245.6,1335.8L241.6,1335.8L237.6,1335.8L233.6,1335.8L229.6,1335.8L225.6,1335.8L221.6,1335.8L217.6,1335.8L213.6,1335.8L209.6,1335.8L205.6,1335.8L201.5,1335.8L197.5,1335.8L193.5,1335.8L189.5,1335.8L185.5,1335.8L181.5,1335.8L177.5,1335.8L173.5,1335.8L169.5,1335.8L165.5,1335.8L161.5,1335.8L157.5,1335.8L153.5,1335.8 Z" fill="url(#g5)"/>
<path d="M153.5,1335.8L157.5,1335.8L161.5,1335.8L165.5,1335.8L169.5,1335.8L173.5,1335.8L177.5,1335.8L181.5,1335.8L185.5,1335.8L189.5,1335.8L193.5,1335.8L197.5,1335.8L201.5,1335.8L205.6,1335.8L209.6,1335.8L213.6,1335.8L217.6,1335.8L221.6,1335.8L225.6,1335.8L229.6,1335.8L233.6,1335.8L237.6,1335.8L241.6,1335.8L245.6,1335.8L249.6,1335.8L253.6,1335.8L257.6,1335.8L261.6,1335.8L265.6,1335.8L269.6,1335.8L273.6,1335.8L277.6,1335.8L281.6,1335.8L285.6,1335.8L289.6,1335.8L293.6,1335.8L297.6,1335.8L301.6,1335.8L305.7,1335.8L309.7,1335.8L313.7,1335.8L317.7,1335.8L321.7,1335.8L325.7,1335.8L329.7,1335.8L333.7,1335.8L337.7,1335.8L341.7,1335.8L345.7,1335.8L349.7,1335.8L353.7,1335.8L357.7,1335.8L361.7,1335.8L365.7,1335.8L369.7,1335.8L373.7,1335.8L377.7,1335.9L381.7,1335.9L385.7,1335.9L389.7,1335.9L393.7,1335.9L397.7,1335.9L401.7,1335.9L405.7,1336L409.8,1336L413.8,1336L417.8,1336.1L421.8,1336.1L425.8,1336.2L429.8,1336.2L433.8,1336.3L437.8,1336.3L441.8,1336.4L445.8,1336.5L449.8,1336.5L453.8,1336.6L457.8,1336.7L461.8,1336.8L465.8,1336.9L469.8,1337L473.8,1337.1L477.8,1337.3L481.8,1337.4L485.8,1337.5L489.8,1337.7L493.8,1337.8L497.8,1337.9L501.8,1338.1L505.8,1338.2L509.9,1338.4L513.9,1338.6L517.9,1338.7L521.9,1338.9L525.9,1339L529.9,1339.2L533.9,1339.3L537.9,1339.4L541.9,1339.6L545.9,1339.7L549.9,1339.8L553.9,1340L557.9,1340.1L561.9,1340.2L565.9,1340.3L569.9,1340.4L573.9,1340.5L577.9,1340.6L581.9,1340.7L585.9,1340.8L589.9,1340.8L593.9,1340.9L597.9,1341L601.9,1341L605.9,1341.1L610,1341.1L614,1341.1L618,1341.2L622,1341.2L626,1341.2L630,1341.3L634,1341.3L638,1341.3L642,1341.3L646,1341.3L650,1341.3L654,1341.3L658,1341.3L662,1341.4L666,1341.4L670,1341.4L674,1341.4L678,1341.4L682,1341.4L686,1341.4L690,1341.4L694,1341.4L698,1341.4L702,1341.4L706,1341.4L710,1341.4" fill="none" stroke="#3a80d2" stroke-width="8"/>
<path d="M710,1341.4L714.1,1341.4L718.1,1341.4L722.1,1341.4L726.1,1341.4L730.1,1341.4L734.1,1341.4L738.1,1341.4L742.1,1341.4L746.1,1341.4L750.1,1341.4L754.1,1341.4L758.1,1341.4L762.1,1341.4L766.1,1341.4L770.1,1341.4L774.1,1341.4L778.1,1341.4L782.1,1341.4L786.1,1341.4L790.1,1341.4L794.1,1341.4L798.1,1341.5L802.1,1341.5L806.1,1341.5L810.1,1341.6L814.2,1341.6L818.2,1341.7L822.2,1341.7L826.2,1341.8L830.2,1341.9L834.2,1342L838.2,1342.2L842.2,1342.3L846.2,1342.5L850.2,1342.7L854.2,1342.9L858.2,1343.2L862.2,1343.5L866.2,1343.8L870.2,1344.2L874.2,1344.5L878.2,1344.9L882.2,1345.4L886.2,1345.8L890.2,1346.3L894.2,1346.8L898.2,1347.3L902.2,1347.8L906.2,1348.3L910.2,1348.8L914.3,1349.3L918.3,1349.7L922.3,1350.2L926.3,1350.7L930.3,1351.1L934.3,1351.5L938.3,1351.9L942.3,1352.2L946.3,1352.6L950.3,1352.9L954.3,1353.1L958.3,1353.4L962.3,1353.6L966.3,1353.7L970.3,1353.9L974.3,1354L978.3,1354.2L982.3,1354.3L986.3,1354.4L990.3,1354.4L994.3,1354.5L998.3,1354.5L1002.3,1354.6L1006.3,1354.6L1010.3,1354.6L1014.3,1354.6L1018.4,1354.7L1022.4,1354.7L1026.4,1354.7L1030.4,1354.7L1034.4,1354.7L1038.4,1354.7L1042.4,1354.7L1046.4,1354.7L1050.4,1354.7L1054.4,1354.7L1058.4,1354.7L1062.4,1354.7L1066.4,1354.7L1070.4,1354.7L1074.4,1354.7L1078.4,1354.7L1082.4,1354.7L1086.4,1354.7L1090.4,1354.7L1094.4,1354.7L1098.4,1354.7L1102.4,1354.7L1106.4,1354.7L1110.4,1354.7L1114.4,1354.7L1118.5,1354.7L1122.5,1354.7L1126.5,1354.7L1130.5,1354.7L1134.5,1354.7L1138.5,1354.7L1142.5,1354.7L1146.5,1354.7L1150.5,1354.7L1154.5,1354.7L1158.5,1354.7L1162.5,1354.7L1166.5,1354.7" fill="none" stroke="#2ea070" stroke-width="8"/>
<path d="M153.5,1335.8L157.5,1335.8L161.5,1335.8L165.5,1335.8L169.5,1335.8L173.5,1335.8L177.5,1335.8L181.5,1335.8L185.5,1335.8L189.5,1335.8L193.5,1335.8L197.5,1335.8L201.5,1335.8L205.6,1335.8L209.6,1335.8L213.6,1335.8L217.6,1335.8L221.6,1335.8L225.6,1335.8L229.6,1335.8L233.6,1335.8L237.6,1335.8L241.6,1335.8L245.6,1335.8L249.6,1335.8L253.6,1335.8L257.6,1335.8L261.6,1335.8L265.6,1335.8L269.6,1335.8L273.6,1335.8L277.6,1335.8L281.6,1335.8L285.6,1335.8L289.6,1335.8L293.6,1335.8L297.6,1335.8L301.6,1335.8L305.7,1335.8L309.7,1335.8L313.7,1335.8L317.7,1335.8L321.7,1335.8L325.7,1335.8L329.7,1335.8L333.7,1335.8L337.7,1335.8L341.7,1335.8L345.7,1335.8L349.7,1335.8L353.7,1335.8L357.7,1335.8L361.7,1335.8L365.7,1335.8L369.7,1335.8L373.7,1335.8L377.7,1335.9L381.7,1335.9L385.7,1335.9L389.7,1335.9L393.7,1335.9L397.7,1335.9L401.7,1335.9L405.7,1336L409.8,1336L413.8,1336L417.8,1336.1L421.8,1336.1L425.8,1336.2L429.8,1336.2L433.8,1336.3L437.8,1336.3L441.8,1336.4L445.8,1336.5L449.8,1336.5L453.8,1336.6L457.8,1336.7L461.8,1336.8L465.8,1336.9L469.8,1337L473.8,1337.1L477.8,1337.3L481.8,1337.4L485.8,1337.5L489.8,1337.7L493.8,1337.8L497.8,1337.9L501.8,1338.1L505.8,1338.2L509.9,1338.4L513.9,1338.6L517.9,1338.7L521.9,1338.9L525.9,1339L529.9,1339.2L533.9,1339.3L537.9,1339.4L541.9,1339.6L545.9,1339.7L549.9,1339.8L553.9,1340L557.9,1340.1L561.9,1340.2L565.9,1340.3L569.9,1340.4L573.9,1340.5L577.9,1340.6L581.9,1340.7L585.9,1340.8L589.9,1340.8L593.9,1340.9L597.9,1341L601.9,1341L605.9,1341.1L610,1341.1L614,1341.1L618,1341.2L622,1341.2L626,1341.2L630,1341.3L634,1341.3L638,1341.3L642,1341.3L646,1341.3L650,1341.3L654,1341.3L658,1341.3L662,1341.4L666,1341.4L670,1341.4L674,1341.4L678,1341.4L682,1341.4L686,1341.4L690,1341.4L694,1341.4L698,1341.4L702,1341.4L706,1341.4L710,1341.4L714.1,1341.4L718.1,1341.4L722.1,1341.4L726.1,1341.4L730.1,1341.4L734.1,1341.4L738.1,1341.4L742.1,1341.4L746.1,1341.4L750.1,1341.4L754.1,1341.4L758.1,1341.4L762.1,1341.4L766.1,1341.4L770.1,1341.4L774.1,1341.4L778.1,1341.4L782.1,1341.4L786.1,1341.4L790.1,1341.4L794.1,1341.4L798.1,1341.5L802.1,1341.5L806.1,1341.5L810.1,1341.6L814.2,1341.6L818.2,1341.7L822.2,1341.7L826.2,1341.8L830.2,1341.9L834.2,1342L838.2,1342.2L842.2,1342.3L846.2,1342.5L850.2,1342.7L854.2,1342.9L858.2,1343.2L862.2,1343.5L866.2,1343.8L870.2,1344.2L874.2,1344.5L878.2,1344.9L882.2,1345.4L886.2,1345.8L890.2,1346.3L894.2,1346.8L898.2,1347.3L902.2,1347.8L906.2,1348.3L910.2,1348.8L914.3,1349.3L918.3,1349.7L922.3,1350.2L926.3,1350.7L930.3,1351.1L934.3,1351.5L938.3,1351.9L942.3,1352.2L946.3,1352.6L950.3,1352.9L954.3,1353.1L958.3,1353.4L962.3,1353.6L966.3,1353.7L970.3,1353.9L974.3,1354L978.3,1354.2L982.3,1354.3L986.3,1354.4L990.3,1354.4L994.3,1354.5L998.3,1354.5L1002.3,1354.6L1006.3,1354.6L1010.3,1354.6L1014.3,1354.6L1018.4,1354.7L1022.4,1354.7L1026.4,1354.7L1030.4,1354.7L1034.4,1354.7L1038.4,1354.7L1042.4,1354.7L1046.4,1354.7L1050.4,1354.7L1054.4,1354.7L1058.4,1354.7L1062.4,1354.7L1066.4,1354.7L1070.4,1354.7L1074.4,1354.7L1078.4,1354.7L1082.4,1354.7L1086.4,1354.7L1090.4,1354.7L1094.4,1354.7L1098.4,1354.7L1102.4,1354.7L1106.4,1354.7L1110.4,1354.7L1114.4,1354.7L1118.5,1354.7L1122.5,1354.7L1126.5,1354.7L1130.5,1354.7L1134.5,1354.7L1138.5,1354.7L1142.5,1354.7L1146.5,1354.7L1150.5,1354.7L1154.5,1354.7L1158.5,1354.7L1162.5,1354.7L1166.5,1354.7" fill="none" stroke="#404040" stroke-width="4.5"/>
<rect x="171.8" y="1332.3" width="11" height="11" fill="#c4c4c4" stroke="#7c7c7c" stroke-width="1.8"/>
<rect x="202.3" y="1329.6" width="11" height="11" fill="#c4c4c4" stroke="#7c7c7c" stroke-width="1.8"/>
<rect x="232.8" y="1325.9" width="11" height="11" fill="#c4c4c4" stroke="#7c7c7c" stroke-width="1.8"/>
<rect x="263.3" y="1334.3" width="11" height="11" fill="#c4c4c4" stroke="#7c7c7c" stroke-width="1.8"/>
<rect x="293.8" y="1328.8" width="11" height="11" fill="#c4c4c4" stroke="#7c7c7c" stroke-width="1.8"/>
<rect x="324.3" y="1326.6" width="11" height="11" fill="#c4c4c4" stroke="#7c7c7c" stroke-width="1.8"/>
<rect x="354.8" y="1331" width="11" height="11" fill="#c4c4c4" stroke="#7c7c7c" stroke-width="1.8"/>
<rect x="385.3" y="1328.9" width="11" height="11" fill="#c4c4c4" stroke="#7c7c7c" stroke-width="1.8"/>
<rect x="415.8" y="1317.3" width="11" height="11" fill="#c4c4c4" stroke="#7c7c7c" stroke-width="1.8"/>
<rect x="446.3" y="1308.2" width="11" height="11" fill="#c4c4c4" stroke="#7c7c7c" stroke-width="1.8"/>
<rect x="476.8" y="1292.8" width="11" height="11" fill="#c4c4c4" stroke="#7c7c7c" stroke-width="1.8"/>
<rect x="507.3" y="1287.2" width="11" height="11" fill="#c4c4c4" stroke="#7c7c7c" stroke-width="1.8"/>
<rect x="537.8" y="1290.4" width="11" height="11" fill="#c4c4c4" stroke="#7c7c7c" stroke-width="1.8"/>
<rect x="568.3" y="1308" width="11" height="11" fill="#c4c4c4" stroke="#7c7c7c" stroke-width="1.8"/>
<rect x="598.8" y="1321.1" width="11" height="11" fill="#c4c4c4" stroke="#7c7c7c" stroke-width="1.8"/>
<rect x="629.3" y="1331.9" width="11" height="11" fill="#c4c4c4" stroke="#7c7c7c" stroke-width="1.8"/>
<rect x="659.8" y="1335.9" width="11" height="11" fill="#c4c4c4" stroke="#7c7c7c" stroke-width="1.8"/>
<rect x="690.3" y="1334.4" width="11" height="11" fill="#c4c4c4" stroke="#7c7c7c" stroke-width="1.8"/>
<rect x="720.8" y="1335.1" width="11" height="11" fill="#c4c4c4" stroke="#7c7c7c" stroke-width="1.8"/>
<rect x="751.3" y="1333.9" width="11" height="11" fill="#c4c4c4" stroke="#7c7c7c" stroke-width="1.8"/>
<rect x="781.8" y="1331.3" width="11" height="11" fill="#c4c4c4" stroke="#7c7c7c" stroke-width="1.8"/>
<rect x="812.3" y="1317" width="11" height="11" fill="#c4c4c4" stroke="#7c7c7c" stroke-width="1.8"/>
<rect x="842.8" y="1276.3" width="11" height="11" fill="#c4c4c4" stroke="#7c7c7c" stroke-width="1.8"/>
<rect x="873.3" y="1215.4" width="11" height="11" fill="#c4c4c4" stroke="#7c7c7c" stroke-width="1.8"/>
<rect x="903.8" y="1186.6" width="11" height="11" fill="#c4c4c4" stroke="#7c7c7c" stroke-width="1.8"/>
<rect x="934.3" y="1234.2" width="11" height="11" fill="#c4c4c4" stroke="#7c7c7c" stroke-width="1.8"/>
<rect x="964.8" y="1298.3" width="11" height="11" fill="#c4c4c4" stroke="#7c7c7c" stroke-width="1.8"/>
<rect x="995.3" y="1335.3" width="11" height="11" fill="#c4c4c4" stroke="#7c7c7c" stroke-width="1.8"/>
<rect x="1025.8" y="1348.8" width="11" height="11" fill="#c4c4c4" stroke="#7c7c7c" stroke-width="1.8"/>
<rect x="1056.3" y="1348.9" width="11" height="11" fill="#c4c4c4" stroke="#7c7c7c" stroke-width="1.8"/>
<rect x="1086.8" y="1348.3" width="11" height="11" fill="#c4c4c4" stroke="#7c7c7c" stroke-width="1.8"/>
<rect x="1117.3" y="1349.1" width="11" height="11" fill="#c4c4c4" stroke="#7c7c7c" stroke-width="1.8"/>
<rect x="1147.8" y="1350.2" width="11" height="11" fill="#c4c4c4" stroke="#7c7c7c" stroke-width="1.8"/>
<path d="M153.5,1336.1L178.9,1337.3L207.8,1337L236.4,1333.4L256.8,1338L280.5,1337.8L294.5,1335.6L311,1335.9L333.3,1333L349.2,1333.9L377.7,1334.4L392.6,1332.3L397.7,1330.1L401.7,1329.2L405.7,1328.3L409.8,1327.3L413.8,1326.2L417.8,1325L421.8,1323.7L425.8,1322.3L429.8,1320.8L433.8,1319.2L437.8,1317.6L441.8,1315.9L445.8,1314.1L449.8,1312.3L453.8,1310.5L457.8,1308.7L461.8,1306.8L465.8,1305L469.8,1303.2L473.8,1301.5L477.8,1299.9L481.8,1298.3L485.8,1296.9L489.8,1295.6L493.8,1294.5L497.8,1293.6L501.8,1292.8L505.8,1292.3L509.9,1291.9L513.9,1291.8L517.9,1291.9L521.9,1292.2L525.9,1292.7L529.9,1293.5L533.9,1294.4L537.9,1295.5L541.9,1296.8L545.9,1298.3L549.9,1299.9L553.9,1301.6L557.9,1303.4L561.9,1305.3L565.9,1307.3L569.9,1309.3L573.9,1311.3L577.9,1313.4L581.9,1315.4L585.9,1317.4L589.9,1319.3L593.9,1321.2L597.9,1323L601.9,1324.7L605.9,1326.3L610,1327.8L614,1329.3L618,1330.6L622,1331.8L626,1333L630,1334L634,1334.9L638,1335.8L642,1336.5L646,1337.2L650,1337.8L654,1338.3L658,1338.8L662,1339.2L666,1339.5L670,1339.8L674,1340.1L678,1340.3L682,1340.5L686,1340.7L690,1340.8L694,1340.9L698,1341L702,1341.1L706,1341.1L710,1341.2L714.1,1341.2L718.1,1341.3L722.1,1341.3L726.1,1341.3L730.1,1341.3L734.1,1341.3L738.1,1341.3L742.1,1341.3L746.1,1341.3L750.1,1341.2L754.1,1341.2L758.1,1341.1L762.1,1340.9L766.1,1340.8L770.1,1340.6L774.1,1340.3L778.1,1339.9L782.1,1339.4L786.1,1338.8L790.1,1338L794.1,1337L798.1,1335.7L802.1,1334.2L806.1,1332.4L810.1,1330.2L814.2,1327.5L818.2,1324.4L822.2,1320.8L826.2,1316.6L830.2,1311.8L834.2,1306.4L838.2,1300.5L842.2,1293.9L846.2,1286.8L850.2,1279.3L854.2,1271.2L858.2,1262.9L862.2,1254.4L866.2,1245.8L870.2,1237.4L874.2,1229.2L878.2,1221.5L882.2,1214.4L886.2,1208.1L890.2,1202.8L894.2,1198.6L898.2,1195.6L902.2,1194L906.2,1193.7L910.2,1194.8L914.3,1197.3L918.3,1201.1L922.3,1206.1L926.3,1212.2L930.3,1219.2L934.3,1227L938.3,1235.5L942.3,1244.3L946.3,1253.4L950.3,1262.6L954.3,1271.7L958.3,1280.6L962.3,1289.1L966.3,1297.1L970.3,1304.6L974.3,1311.5L978.3,1317.8L982.3,1323.5L986.3,1328.5L990.3,1332.9L994.3,1336.8L998.3,1340L1002.3,1342.8L1006.3,1345.2L1010.3,1347.1L1014.3,1348.7L1018.4,1350L1022.4,1351.1L1026.4,1351.9L1030.4,1352.6L1034.4,1353.1L1038.4,1353.5L1042.4,1353.8L1046.4,1354.1L1050.4,1354.2L1054.4,1354.4L1058.4,1354.5L1062.4,1354.5L1066.4,1354.6L1070.4,1354.6L1074.4,1354.6L1078.4,1354.7L1082.4,1354.7L1086.4,1354.7L1090.4,1354.7L1094.4,1354.7L1098.4,1354.7L1102.4,1354.7L1106.4,1354.7L1110.4,1354.7L1114.4,1354.7L1118.5,1354.7L1122.5,1354.7L1126.5,1354.7L1130.5,1354.7L1134.5,1354.7L1138.5,1354.7L1142.5,1354.7L1146.5,1354.7L1150.5,1354.7L1154.5,1354.7L1158.5,1354.7L1162.5,1354.7L1166.5,1354.7" fill="none" stroke="#fe3b3b" stroke-width="7" stroke-linejoin="round" stroke-linecap="round"/>
<path d="M153.5,1538.8L157.5,1538.8L161.5,1538.8L165.5,1538.8L169.5,1538.8L173.5,1538.8L177.5,1538.8L181.5,1538.8L185.5,1538.8L189.5,1538.8L193.5,1538.8L197.5,1538.8L201.5,1538.8L205.6,1538.8L209.6,1538.8L213.6,1538.8L217.6,1538.8L221.6,1538.8L225.6,1538.8L229.6,1538.8L233.6,1538.8L237.6,1538.8L241.6,1538.8L245.6,1538.8L249.6,1538.8L253.6,1538.8L257.6,1538.8L261.6,1538.8L265.6,1538.8L269.6,1538.8L273.6,1538.8L277.6,1538.8L281.6,1538.8L285.6,1538.8L289.6,1538.8L293.6,1538.8L297.6,1538.8L301.6,1538.8L305.7,1538.8L309.7,1538.8L313.7,1538.8L317.7,1538.8L321.7,1538.8L325.7,1538.8L329.7,1538.7L333.7,1538.7L337.7,1538.7L341.7,1538.7L345.7,1538.6L349.7,1538.6L353.7,1538.6L357.7,1538.5L361.7,1538.4L365.7,1538.4L369.7,1538.3L373.7,1538.2L377.7,1538L381.7,1537.9L385.7,1537.7L389.7,1537.5L393.7,1537.2L397.7,1536.9L401.7,1536.6L405.7,1536.2L409.8,1535.8L413.8,1535.3L417.8,1534.8L421.8,1534.2L425.8,1533.5L429.8,1532.8L433.8,1531.9L437.8,1531L441.8,1530.1L445.8,1529L449.8,1527.8L453.8,1526.6L457.8,1525.3L461.8,1523.9L465.8,1522.5L469.8,1521L473.8,1519.4L477.8,1517.8L481.8,1516.1L485.8,1514.4L489.8,1512.7L493.8,1511.1L497.8,1509.4L501.8,1507.8L505.8,1506.2L509.9,1504.7L513.9,1503.3L517.9,1502L521.9,1500.8L525.9,1499.8L529.9,1498.9L533.9,1498.2L537.9,1497.6L541.9,1497.3L545.9,1497.1L549.9,1497.1L553.9,1497.3L557.9,1497.8L561.9,1498.4L565.9,1499.2L569.9,1500.1L573.9,1501.3L577.9,1502.5L581.9,1504L585.9,1505.5L589.9,1507.2L593.9,1508.9L597.9,1510.7L601.9,1512.6L605.9,1514.5L610,1516.5L614,1518.4L618,1520.3L622,1522.2L626,1524L630,1525.8L634,1527.6L638,1529.2L642,1530.8L646,1532.3L650,1533.7L654,1535L658,1536.3L662,1537.4L666,1538.4L670,1539.4L674,1540.3L678,1541L682,1541.7L686,1542.4L690,1542.9L694,1543.4L698,1543.9L702,1544.3L706,1544.6L710,1544.9L714.1,1545.1L718.1,1545.4L722.1,1545.5L726.1,1545.7L730.1,1545.8L734.1,1545.9L738.1,1546L742.1,1546.1L746.1,1546.2L750.1,1546.2L754.1,1546.3L758.1,1546.3L762.1,1546.3L766.1,1546.4L770.1,1546.4L774.1,1546.4L778.1,1546.4L782.1,1546.3L786.1,1546.3L790.1,1546.2L794.1,1546.1L798.1,1546L802.1,1545.8L806.1,1545.6L810.1,1545.3L814.2,1544.8L818.2,1544.3L822.2,1543.6L826.2,1542.7L830.2,1541.5L834.2,1540.1L838.2,1538.4L842.2,1536.2L846.2,1533.6L850.2,1530.6L854.2,1526.9L858.2,1522.7L862.2,1517.8L866.2,1512.3L870.2,1506L874.2,1499.1L878.2,1491.6L882.2,1483.4L886.2,1474.7L890.2,1465.6L894.2,1456.3L898.2,1446.8L902.2,1437.4L906.2,1428.3L910.2,1419.6L914.3,1411.6L918.3,1404.5L922.3,1398.5L926.3,1393.8L930.3,1390.4L934.3,1388.6L938.3,1388.3L942.3,1389.6L946.3,1392.5L950.3,1396.9L954.3,1402.7L958.3,1409.8L962.3,1417.9L966.3,1426.9L970.3,1436.5L974.3,1446.6L978.3,1457L982.3,1467.3L986.3,1477.5L990.3,1487.4L994.3,1496.8L998.3,1505.7L1002.3,1513.9L1006.3,1521.4L1010.3,1528.2L1014.3,1534.2L1018.4,1539.5L1022.4,1544.1L1026.4,1548.1L1030.4,1551.4L1034.4,1554.2L1038.4,1556.6L1042.4,1558.5L1046.4,1560.1L1050.4,1561.3L1054.4,1562.3L1058.4,1563.1L1062.4,1563.7L1066.4,1564.2L1070.4,1564.5L1074.4,1564.8L1078.4,1565L1082.4,1565.1L1086.4,1565.2L1090.4,1565.3L1094.4,1565.4L1098.4,1565.4L1102.4,1565.4L1106.4,1565.5L1110.4,1565.5L1114.4,1565.5L1118.5,1565.5L1122.5,1565.5L1126.5,1565.5L1130.5,1565.5L1134.5,1565.5L1138.5,1565.5L1142.5,1565.5L1146.5,1565.5L1150.5,1565.5L1154.5,1565.5L1158.5,1565.5L1162.5,1565.5L1166.5,1565.5L1166.5,1565.5L1162.5,1565.5L1158.5,1565.5L1154.5,1565.5L1150.5,1565.5L1146.5,1565.5L1142.5,1565.5L1138.5,1565.5L1134.5,1565.5L1130.5,1565.5L1126.5,1565.5L1122.5,1565.5L1118.5,1565.5L1114.4,1565.5L1110.4,1565.5L1106.4,1565.5L1102.4,1565.5L1098.4,1565.5L1094.4,1565.5L1090.4,1565.5L1086.4,1565.5L1082.4,1565.5L1078.4,1565.5L1074.4,1565.5L1070.4,1565.5L1066.4,1565.5L1062.4,1565.5L1058.4,1565.5L1054.4,1565.5L1050.4,1565.4L1046.4,1565.4L1042.4,1565.4L1038.4,1565.4L1034.4,1565.3L1030.4,1565.3L1026.4,1565.2L1022.4,1565.1L1018.4,1565.1L1014.3,1564.9L1010.3,1564.8L1006.3,1564.6L1002.3,1564.5L998.3,1564.2L994.3,1564L990.3,1563.7L986.3,1563.3L982.3,1563L978.3,1562.5L974.3,1562.1L970.3,1561.6L966.3,1561L962.3,1560.4L958.3,1559.8L954.3,1559.1L950.3,1558.4L946.3,1557.7L942.3,1557L938.3,1556.3L934.3,1555.5L930.3,1554.8L926.3,1554.1L922.3,1553.4L918.3,1552.7L914.3,1552L910.2,1551.4L906.2,1550.8L902.2,1550.3L898.2,1549.8L894.2,1549.3L890.2,1548.9L886.2,1548.5L882.2,1548.2L878.2,1547.9L874.2,1547.7L870.2,1547.5L866.2,1547.3L862.2,1547.1L858.2,1547L854.2,1546.9L850.2,1546.8L846.2,1546.7L842.2,1546.7L838.2,1546.6L834.2,1546.6L830.2,1546.6L826.2,1546.5L822.2,1546.5L818.2,1546.5L814.2,1546.5L810.1,1546.5L806.1,1546.5L802.1,1546.5L798.1,1546.5L794.1,1546.5L790.1,1546.5L786.1,1546.5L782.1,1546.5L778.1,1546.5L774.1,1546.5L770.1,1546.5L766.1,1546.5L762.1,1546.5L758.1,1546.5L754.1,1546.5L750.1,1546.5L746.1,1546.5L742.1,1546.5L738.1,1546.5L734.1,1546.5L730.1,1546.5L726.1,1546.5L722.1,1546.5L718.1,1546.5L714.1,1546.4L710,1546.4L706,1546.4L702,1546.4L698,1546.4L694,1546.4L690,1546.4L686,1546.4L682,1546.4L678,1546.3L674,1546.3L670,1546.3L666,1546.3L662,1546.2L658,1546.2L654,1546.1L650,1546.1L646,1546L642,1546L638,1545.9L634,1545.8L630,1545.8L626,1545.7L622,1545.6L618,1545.5L614,1545.4L610,1545.2L605.9,1545.1L601.9,1545L597.9,1544.8L593.9,1544.7L589.9,1544.5L585.9,1544.4L581.9,1544.2L577.9,1544L573.9,1543.8L569.9,1543.6L565.9,1543.5L561.9,1543.3L557.9,1543.1L553.9,1542.9L549.9,1542.7L545.9,1542.5L541.9,1542.3L537.9,1542.1L533.9,1541.9L529.9,1541.7L525.9,1541.5L521.9,1541.3L517.9,1541.1L513.9,1540.9L509.9,1540.8L505.8,1540.6L501.8,1540.5L497.8,1540.3L493.8,1540.2L489.8,1540.1L485.8,1539.9L481.8,1539.8L477.8,1539.7L473.8,1539.6L469.8,1539.5L465.8,1539.5L461.8,1539.4L457.8,1539.3L453.8,1539.2L449.8,1539.2L445.8,1539.1L441.8,1539.1L437.8,1539.1L433.8,1539L429.8,1539L425.8,1539L421.8,1538.9L417.8,1538.9L413.8,1538.9L409.8,1538.9L405.7,1538.9L401.7,1538.9L397.7,1538.8L393.7,1538.8L389.7,1538.8L385.7,1538.8L381.7,1538.8L377.7,1538.8L373.7,1538.8L369.7,1538.8L365.7,1538.8L361.7,1538.8L357.7,1538.8L353.7,1538.8L349.7,1538.8L345.7,1538.8L341.7,1538.8L337.7,1538.8L333.7,1538.8L329.7,1538.8L325.7,1538.8L321.7,1538.8L317.7,1538.8L313.7,1538.8L309.7,1538.8L305.7,1538.8L301.6,1538.8L297.6,1538.8L293.6,1538.8L289.6,1538.8L285.6,1538.8L281.6,1538.8L277.6,1538.8L273.6,1538.8L269.6,1538.8L265.6,1538.8L261.6,1538.8L257.6,1538.8L253.6,1538.8L249.6,1538.8L245.6,1538.8L241.6,1538.8L237.6,1538.8L233.6,1538.8L229.6,1538.8L225.6,1538.8L221.6,1538.8L217.6,1538.8L213.6,1538.8L209.6,1538.8L205.6,1538.8L201.5,1538.8L197.5,1538.8L193.5,1538.8L189.5,1538.8L185.5,1538.8L181.5,1538.8L177.5,1538.8L173.5,1538.8L169.5,1538.8L165.5,1538.8L161.5,1538.8L157.5,1538.8L153.5,1538.8 Z" fill="url(#g6)"/>
<path d="M153.5,1538.8L157.5,1538.8L161.5,1538.8L165.5,1538.8L169.5,1538.8L173.5,1538.8L177.5,1538.8L181.5,1538.8L185.5,1538.8L189.5,1538.8L193.5,1538.8L197.5,1538.8L201.5,1538.8L205.6,1538.8L209.6,1538.8L213.6,1538.8L217.6,1538.8L221.6,1538.8L225.6,1538.8L229.6,1538.8L233.6,1538.8L237.6,1538.8L241.6,1538.8L245.6,1538.8L249.6,1538.8L253.6,1538.8L257.6,1538.8L261.6,1538.8L265.6,1538.8L269.6,1538.8L273.6,1538.8L277.6,1538.8L281.6,1538.8L285.6,1538.8L289.6,1538.8L293.6,1538.8L297.6,1538.8L301.6,1538.8L305.7,1538.8L309.7,1538.8L313.7,1538.8L317.7,1538.8L321.7,1538.8L325.7,1538.8L329.7,1538.8L333.7,1538.8L337.7,1538.8L341.7,1538.8L345.7,1538.8L349.7,1538.8L353.7,1538.8L357.7,1538.8L361.7,1538.8L365.7,1538.8L369.7,1538.8L373.7,1538.8L377.7,1538.8L381.7,1538.8L385.7,1538.8L389.7,1538.8L393.7,1538.8L397.7,1538.8L401.7,1538.9L405.7,1538.9L409.8,1538.9L413.8,1538.9L417.8,1538.9L421.8,1538.9L425.8,1539L429.8,1539L433.8,1539L437.8,1539.1L441.8,1539.1L445.8,1539.1L449.8,1539.2L453.8,1539.2L457.8,1539.3L461.8,1539.4L465.8,1539.5L469.8,1539.5L473.8,1539.6L477.8,1539.7L481.8,1539.8L485.8,1539.9L489.8,1540.1L493.8,1540.2L497.8,1540.3L501.8,1540.5L505.8,1540.6L509.9,1540.8L513.9,1540.9L517.9,1541.1L521.9,1541.3L525.9,1541.5L529.9,1541.7L533.9,1541.9L537.9,1542.1L541.9,1542.3L545.9,1542.5L549.9,1542.7L553.9,1542.9L557.9,1543.1L561.9,1543.3L565.9,1543.5L569.9,1543.6L573.9,1543.8L577.9,1544L581.9,1544.2L585.9,1544.4L589.9,1544.5L593.9,1544.7L597.9,1544.8L601.9,1545L605.9,1545.1L610,1545.2L614,1545.4L618,1545.5L622,1545.6L626,1545.7L630,1545.8L634,1545.8L638,1545.9L642,1546L646,1546L650,1546.1L654,1546.1L658,1546.2L662,1546.2L666,1546.3L670,1546.3L674,1546.3L678,1546.3L682,1546.4L686,1546.4L690,1546.4L694,1546.4L698,1546.4L702,1546.4L706,1546.4L710,1546.4L714.1,1546.4L718.1,1546.5L722.1,1546.5L726.1,1546.5L730.1,1546.5L734.1,1546.5L738.1,1546.5L742.1,1546.5L746.1,1546.5" fill="none" stroke="#3a80d2" stroke-width="8"/>
<path d="M746.1,1546.5L750.1,1546.5L754.1,1546.5L758.1,1546.5L762.1,1546.5L766.1,1546.5L770.1,1546.5L774.1,1546.5L778.1,1546.5L782.1,1546.5L786.1,1546.5L790.1,1546.5L794.1,1546.5L798.1,1546.5L802.1,1546.5L806.1,1546.5L810.1,1546.5L814.2,1546.5L818.2,1546.5L822.2,1546.5L826.2,1546.5L830.2,1546.6L834.2,1546.6L838.2,1546.6L842.2,1546.7L846.2,1546.7L850.2,1546.8L854.2,1546.9L858.2,1547L862.2,1547.1L866.2,1547.3L870.2,1547.5L874.2,1547.7L878.2,1547.9L882.2,1548.2L886.2,1548.5L890.2,1548.9L894.2,1549.3L898.2,1549.8L902.2,1550.3L906.2,1550.8L910.2,1551.4L914.3,1552L918.3,1552.7L922.3,1553.4L926.3,1554.1L930.3,1554.8L934.3,1555.5L938.3,1556.3L942.3,1557L946.3,1557.7L950.3,1558.4L954.3,1559.1L958.3,1559.8L962.3,1560.4L966.3,1561L970.3,1561.6L974.3,1562.1L978.3,1562.5L982.3,1563L986.3,1563.3L990.3,1563.7L994.3,1564L998.3,1564.2L1002.3,1564.5L1006.3,1564.6L1010.3,1564.8L1014.3,1564.9L1018.4,1565.1L1022.4,1565.1L1026.4,1565.2L1030.4,1565.3L1034.4,1565.3L1038.4,1565.4L1042.4,1565.4L1046.4,1565.4L1050.4,1565.4L1054.4,1565.5L1058.4,1565.5L1062.4,1565.5L1066.4,1565.5L1070.4,1565.5L1074.4,1565.5L1078.4,1565.5L1082.4,1565.5L1086.4,1565.5L1090.4,1565.5L1094.4,1565.5L1098.4,1565.5L1102.4,1565.5L1106.4,1565.5L1110.4,1565.5L1114.4,1565.5L1118.5,1565.5L1122.5,1565.5L1126.5,1565.5L1130.5,1565.5L1134.5,1565.5L1138.5,1565.5L1142.5,1565.5L1146.5,1565.5L1150.5,1565.5L1154.5,1565.5L1158.5,1565.5L1162.5,1565.5L1166.5,1565.5" fill="none" stroke="#2ea070" stroke-width="8"/>
<path d="M153.5,1538.8L157.5,1538.8L161.5,1538.8L165.5,1538.8L169.5,1538.8L173.5,1538.8L177.5,1538.8L181.5,1538.8L185.5,1538.8L189.5,1538.8L193.5,1538.8L197.5,1538.8L201.5,1538.8L205.6,1538.8L209.6,1538.8L213.6,1538.8L217.6,1538.8L221.6,1538.8L225.6,1538.8L229.6,1538.8L233.6,1538.8L237.6,1538.8L241.6,1538.8L245.6,1538.8L249.6,1538.8L253.6,1538.8L257.6,1538.8L261.6,1538.8L265.6,1538.8L269.6,1538.8L273.6,1538.8L277.6,1538.8L281.6,1538.8L285.6,1538.8L289.6,1538.8L293.6,1538.8L297.6,1538.8L301.6,1538.8L305.7,1538.8L309.7,1538.8L313.7,1538.8L317.7,1538.8L321.7,1538.8L325.7,1538.8L329.7,1538.8L333.7,1538.8L337.7,1538.8L341.7,1538.8L345.7,1538.8L349.7,1538.8L353.7,1538.8L357.7,1538.8L361.7,1538.8L365.7,1538.8L369.7,1538.8L373.7,1538.8L377.7,1538.8L381.7,1538.8L385.7,1538.8L389.7,1538.8L393.7,1538.8L397.7,1538.8L401.7,1538.9L405.7,1538.9L409.8,1538.9L413.8,1538.9L417.8,1538.9L421.8,1538.9L425.8,1539L429.8,1539L433.8,1539L437.8,1539.1L441.8,1539.1L445.8,1539.1L449.8,1539.2L453.8,1539.2L457.8,1539.3L461.8,1539.4L465.8,1539.5L469.8,1539.5L473.8,1539.6L477.8,1539.7L481.8,1539.8L485.8,1539.9L489.8,1540.1L493.8,1540.2L497.8,1540.3L501.8,1540.5L505.8,1540.6L509.9,1540.8L513.9,1540.9L517.9,1541.1L521.9,1541.3L525.9,1541.5L529.9,1541.7L533.9,1541.9L537.9,1542.1L541.9,1542.3L545.9,1542.5L549.9,1542.7L553.9,1542.9L557.9,1543.1L561.9,1543.3L565.9,1543.5L569.9,1543.6L573.9,1543.8L577.9,1544L581.9,1544.2L585.9,1544.4L589.9,1544.5L593.9,1544.7L597.9,1544.8L601.9,1545L605.9,1545.1L610,1545.2L614,1545.4L618,1545.5L622,1545.6L626,1545.7L630,1545.8L634,1545.8L638,1545.9L642,1546L646,1546L650,1546.1L654,1546.1L658,1546.2L662,1546.2L666,1546.3L670,1546.3L674,1546.3L678,1546.3L682,1546.4L686,1546.4L690,1546.4L694,1546.4L698,1546.4L702,1546.4L706,1546.4L710,1546.4L714.1,1546.4L718.1,1546.5L722.1,1546.5L726.1,1546.5L730.1,1546.5L734.1,1546.5L738.1,1546.5L742.1,1546.5L746.1,1546.5L750.1,1546.5L754.1,1546.5L758.1,1546.5L762.1,1546.5L766.1,1546.5L770.1,1546.5L774.1,1546.5L778.1,1546.5L782.1,1546.5L786.1,1546.5L790.1,1546.5L794.1,1546.5L798.1,1546.5L802.1,1546.5L806.1,1546.5L810.1,1546.5L814.2,1546.5L818.2,1546.5L822.2,1546.5L826.2,1546.5L830.2,1546.6L834.2,1546.6L838.2,1546.6L842.2,1546.7L846.2,1546.7L850.2,1546.8L854.2,1546.9L858.2,1547L862.2,1547.1L866.2,1547.3L870.2,1547.5L874.2,1547.7L878.2,1547.9L882.2,1548.2L886.2,1548.5L890.2,1548.9L894.2,1549.3L898.2,1549.8L902.2,1550.3L906.2,1550.8L910.2,1551.4L914.3,1552L918.3,1552.7L922.3,1553.4L926.3,1554.1L930.3,1554.8L934.3,1555.5L938.3,1556.3L942.3,1557L946.3,1557.7L950.3,1558.4L954.3,1559.1L958.3,1559.8L962.3,1560.4L966.3,1561L970.3,1561.6L974.3,1562.1L978.3,1562.5L982.3,1563L986.3,1563.3L990.3,1563.7L994.3,1564L998.3,1564.2L1002.3,1564.5L1006.3,1564.6L1010.3,1564.8L1014.3,1564.9L1018.4,1565.1L1022.4,1565.1L1026.4,1565.2L1030.4,1565.3L1034.4,1565.3L1038.4,1565.4L1042.4,1565.4L1046.4,1565.4L1050.4,1565.4L1054.4,1565.5L1058.4,1565.5L1062.4,1565.5L1066.4,1565.5L1070.4,1565.5L1074.4,1565.5L1078.4,1565.5L1082.4,1565.5L1086.4,1565.5L1090.4,1565.5L1094.4,1565.5L1098.4,1565.5L1102.4,1565.5L1106.4,1565.5L1110.4,1565.5L1114.4,1565.5L1118.5,1565.5L1122.5,1565.5L1126.5,1565.5L1130.5,1565.5L1134.5,1565.5L1138.5,1565.5L1142.5,1565.5L1146.5,1565.5L1150.5,1565.5L1154.5,1565.5L1158.5,1565.5L1162.5,1565.5L1166.5,1565.5" fill="none" stroke="#404040" stroke-width="4.5"/>
<rect x="171.8" y="1535" width="11" height="11" fill="#c4c4c4" stroke="#7c7c7c" stroke-width="1.8"/>
<rect x="202.3" y="1531" width="11" height="11" fill="#c4c4c4" stroke="#7c7c7c" stroke-width="1.8"/>
<rect x="232.8" y="1530.8" width="11" height="11" fill="#c4c4c4" stroke="#7c7c7c" stroke-width="1.8"/>
<rect x="263.3" y="1533.7" width="11" height="11" fill="#c4c4c4" stroke="#7c7c7c" stroke-width="1.8"/>
<rect x="293.8" y="1535.9" width="11" height="11" fill="#c4c4c4" stroke="#7c7c7c" stroke-width="1.8"/>
<rect x="324.3" y="1532.3" width="11" height="11" fill="#c4c4c4" stroke="#7c7c7c" stroke-width="1.8"/>
<rect x="354.8" y="1531.8" width="11" height="11" fill="#c4c4c4" stroke="#7c7c7c" stroke-width="1.8"/>
<rect x="385.3" y="1530.4" width="11" height="11" fill="#c4c4c4" stroke="#7c7c7c" stroke-width="1.8"/>
<rect x="415.8" y="1529.4" width="11" height="11" fill="#c4c4c4" stroke="#7c7c7c" stroke-width="1.8"/>
<rect x="446.3" y="1520.7" width="11" height="11" fill="#c4c4c4" stroke="#7c7c7c" stroke-width="1.8"/>
<rect x="476.8" y="1512.7" width="11" height="11" fill="#c4c4c4" stroke="#7c7c7c" stroke-width="1.8"/>
<rect x="507.3" y="1498.6" width="11" height="11" fill="#c4c4c4" stroke="#7c7c7c" stroke-width="1.8"/>
<rect x="537.8" y="1490.2" width="11" height="11" fill="#c4c4c4" stroke="#7c7c7c" stroke-width="1.8"/>
<rect x="568.3" y="1496.5" width="11" height="11" fill="#c4c4c4" stroke="#7c7c7c" stroke-width="1.8"/>
<rect x="598.8" y="1507.5" width="11" height="11" fill="#c4c4c4" stroke="#7c7c7c" stroke-width="1.8"/>
<rect x="629.3" y="1524.6" width="11" height="11" fill="#c4c4c4" stroke="#7c7c7c" stroke-width="1.8"/>
<rect x="659.8" y="1534.8" width="11" height="11" fill="#c4c4c4" stroke="#7c7c7c" stroke-width="1.8"/>
<rect x="690.3" y="1538.2" width="11" height="11" fill="#c4c4c4" stroke="#7c7c7c" stroke-width="1.8"/>
<rect x="720.8" y="1540.9" width="11" height="11" fill="#c4c4c4" stroke="#7c7c7c" stroke-width="1.8"/>
<rect x="751.3" y="1541.8" width="11" height="11" fill="#c4c4c4" stroke="#7c7c7c" stroke-width="1.8"/>
<rect x="781.8" y="1542.3" width="11" height="11" fill="#c4c4c4" stroke="#7c7c7c" stroke-width="1.8"/>
<rect x="812.3" y="1541.2" width="11" height="11" fill="#c4c4c4" stroke="#7c7c7c" stroke-width="1.8"/>
<rect x="842.8" y="1524.1" width="11" height="11" fill="#c4c4c4" stroke="#7c7c7c" stroke-width="1.8"/>
<rect x="873.3" y="1484.2" width="11" height="11" fill="#c4c4c4" stroke="#7c7c7c" stroke-width="1.8"/>
<rect x="903.8" y="1416.6" width="11" height="11" fill="#c4c4c4" stroke="#7c7c7c" stroke-width="1.8"/>
<rect x="934.3" y="1382.3" width="11" height="11" fill="#c4c4c4" stroke="#7c7c7c" stroke-width="1.8"/>
<rect x="964.8" y="1431.5" width="11" height="11" fill="#c4c4c4" stroke="#7c7c7c" stroke-width="1.8"/>
<rect x="995.3" y="1503.2" width="11" height="11" fill="#c4c4c4" stroke="#7c7c7c" stroke-width="1.8"/>
<rect x="1025.8" y="1548.5" width="11" height="11" fill="#c4c4c4" stroke="#7c7c7c" stroke-width="1.8"/>
<rect x="1056.3" y="1558.2" width="11" height="11" fill="#c4c4c4" stroke="#7c7c7c" stroke-width="1.8"/>
<rect x="1086.8" y="1557.9" width="11" height="11" fill="#c4c4c4" stroke="#7c7c7c" stroke-width="1.8"/>
<rect x="1117.3" y="1560.8" width="11" height="11" fill="#c4c4c4" stroke="#7c7c7c" stroke-width="1.8"/>
<rect x="1147.8" y="1559.1" width="11" height="11" fill="#c4c4c4" stroke="#7c7c7c" stroke-width="1.8"/>
<path d="M153.5,1539.5L180.3,1538.7L197,1536.3L220.9,1538.7L246.6,1538.2L272.5,1537.7L298.9,1539.9L318.4,1539L342.6,1537.1L364.6,1539.9L381.4,1539.4L385.7,1537.7L389.7,1537.5L393.7,1537.2L397.7,1536.9L401.7,1536.6L405.7,1536.2L409.8,1535.8L413.8,1535.3L417.8,1534.8L421.8,1534.2L425.8,1533.5L429.8,1532.8L433.8,1531.9L437.8,1531L441.8,1530.1L445.8,1529L449.8,1527.8L453.8,1526.6L457.8,1525.3L461.8,1523.9L465.8,1522.5L469.8,1521L473.8,1519.4L477.8,1517.8L481.8,1516.1L485.8,1514.4L489.8,1512.7L493.8,1511.1L497.8,1509.4L501.8,1507.8L505.8,1506.2L509.9,1504.7L513.9,1503.3L517.9,1502L521.9,1500.8L525.9,1499.8L529.9,1498.9L533.9,1498.2L537.9,1497.6L541.9,1497.3L545.9,1497.1L549.9,1497.1L553.9,1497.3L557.9,1497.8L561.9,1498.4L565.9,1499.2L569.9,1500.1L573.9,1501.3L577.9,1502.5L581.9,1504L585.9,1505.5L589.9,1507.2L593.9,1508.9L597.9,1510.7L601.9,1512.6L605.9,1514.5L610,1516.5L614,1518.4L618,1520.3L622,1522.2L626,1524L630,1525.8L634,1527.6L638,1529.2L642,1530.8L646,1532.3L650,1533.7L654,1535L658,1536.3L662,1537.4L666,1538.4L670,1539.4L674,1540.3L678,1541L682,1541.7L686,1542.4L690,1542.9L694,1543.4L698,1543.9L702,1544.3L706,1544.6L710,1544.9L714.1,1545.1L718.1,1545.4L722.1,1545.5L726.1,1545.7L730.1,1545.8L734.1,1545.9L738.1,1546L742.1,1546.1L746.1,1546.2L750.1,1546.2L754.1,1546.3L758.1,1546.3L762.1,1546.3L766.1,1546.4L770.1,1546.4L774.1,1546.4L778.1,1546.4L782.1,1546.3L786.1,1546.3L790.1,1546.2L794.1,1546.1L798.1,1546L802.1,1545.8L806.1,1545.6L810.1,1545.3L814.2,1544.8L818.2,1544.3L822.2,1543.6L826.2,1542.7L830.2,1541.5L834.2,1540.1L838.2,1538.4L842.2,1536.2L846.2,1533.6L850.2,1530.6L854.2,1526.9L858.2,1522.7L862.2,1517.8L866.2,1512.3L870.2,1506L874.2,1499.1L878.2,1491.6L882.2,1483.4L886.2,1474.7L890.2,1465.6L894.2,1456.3L898.2,1446.8L902.2,1437.4L906.2,1428.3L910.2,1419.6L914.3,1411.6L918.3,1404.5L922.3,1398.5L926.3,1393.8L930.3,1390.4L934.3,1388.6L938.3,1388.3L942.3,1389.6L946.3,1392.5L950.3,1396.9L954.3,1402.7L958.3,1409.8L962.3,1417.9L966.3,1426.9L970.3,1436.5L974.3,1446.6L978.3,1457L982.3,1467.3L986.3,1477.5L990.3,1487.4L994.3,1496.8L998.3,1505.7L1002.3,1513.9L1006.3,1521.4L1010.3,1528.2L1014.3,1534.2L1018.4,1539.5L1022.4,1544.1L1026.4,1548.1L1030.4,1551.4L1034.4,1554.2L1038.4,1556.6L1042.4,1558.5L1046.4,1560.1L1050.4,1561.3L1054.4,1562.3L1058.4,1563.1L1062.4,1563.7L1066.4,1564.2L1070.4,1564.5L1074.4,1564.8L1078.4,1565L1082.4,1565.1L1086.4,1565.2L1090.4,1565.3L1094.4,1565.4L1098.4,1565.4L1102.4,1565.4L1106.4,1565.5L1110.4,1565.5L1114.4,1565.5L1118.5,1565.5L1122.5,1565.5L1126.5,1565.5L1130.5,1565.5L1134.5,1565.5L1138.5,1565.5L1142.5,1565.5L1146.5,1565.5L1150.5,1565.5L1154.5,1565.5L1158.5,1565.5L1162.5,1565.5L1166.5,1565.5" fill="none" stroke="#fe3b3b" stroke-width="7" stroke-linejoin="round" stroke-linecap="round"/>
<path d="M1308,470.3L1312,470.3L1316,470.3L1320,470.4L1324,470.4L1328,470.4L1332,470.5L1336,470.5L1340,470.5L1344.1,470.5L1348.1,470.6L1352.1,470.6L1356.1,470.6L1360.1,470.7L1364.1,470.7L1368.1,470.7L1372.1,470.8L1376.1,470.8L1380.1,470.8L1384.1,470.9L1388.1,470.9L1392.1,470.9L1396.1,470.9L1400.1,471L1404.1,471L1408.1,471L1412.2,471.1L1416.2,471.1L1420.2,471.1L1424.2,471.2L1428.2,471.2L1432.2,471.2L1436.2,471.2L1440.2,471.3L1444.2,471.3L1448.2,471.3L1452.2,471.4L1456.2,471.4L1460.2,471.4L1464.2,471.4L1468.2,471.5L1472.2,471.5L1476.2,471.5L1480.3,471.5L1484.3,471.6L1488.3,471.6L1492.3,471.6L1496.3,471.6L1500.3,471.7L1504.3,471.7L1508.3,471.7L1512.3,471.7L1516.3,471.7L1520.3,471.7L1524.3,471.8L1528.3,471.8L1532.3,471.8L1536.3,471.8L1540.3,471.8L1544.3,471.8L1548.4,471.8L1552.4,471.8L1556.4,471.8L1560.4,471.8L1564.4,471.8L1568.4,471.7L1572.4,471.7L1576.4,471.7L1580.4,471.7L1584.4,471.6L1588.4,471.6L1592.4,471.5L1596.4,471.4L1600.4,471.3L1604.4,471.2L1608.4,471.1L1612.5,471L1616.5,470.9L1620.5,470.7L1624.5,470.6L1628.5,470.4L1632.5,470.2L1636.5,470L1640.5,469.8L1644.5,469.5L1648.5,469.3L1652.5,469L1656.5,468.7L1660.5,468.3L1664.5,468L1668.5,467.6L1672.5,467.3L1676.5,466.8L1680.6,466.4L1684.6,466L1688.6,465.5L1692.6,465L1696.6,464.5L1700.6,464L1704.6,463.5L1708.6,463L1712.6,462.4L1716.6,461.8L1720.6,461.2L1724.6,460.6L1728.6,460L1732.6,459.4L1736.6,458.7L1740.6,458L1744.6,457.3L1748.7,456.6L1752.7,455.8L1756.7,455L1760.7,454.1L1764.7,453.2L1768.7,452.2L1772.7,451.1L1776.7,450L1780.7,448.7L1784.7,447.4L1788.7,445.9L1792.7,444.2L1796.7,442.4L1800.7,440.3L1804.7,438.1L1808.7,435.7L1812.7,432.9L1816.8,430L1820.8,426.7L1824.8,423.1L1828.8,419.2L1832.8,414.9L1836.8,410.3L1840.8,405.3L1844.8,400L1848.8,394.3L1852.8,388.2L1856.8,381.7L1860.8,374.9L1864.8,367.8L1868.8,360.4L1872.8,352.7L1876.8,344.7L1880.8,336.6L1884.9,328.3L1888.9,319.9L1892.9,311.5L1896.9,303.1L1900.9,294.8L1904.9,286.7L1908.9,278.9L1912.9,271.4L1916.9,264.3L1920.9,257.7L1924.9,251.6L1928.9,246.3L1932.9,241.6L1936.9,237.7L1940.9,234.6L1944.9,232.5L1948.9,231.2L1953,230.9L1957,231.5L1961,233.1L1965,235.6L1969,239L1973,243.2L1977,248.3L1981,254L1985,260.5L1989,267.5L1993,275L1997,283L2001,291.4L2005,300L2009,308.8L2013,317.8L2017,326.8L2021.1,335.7L2025.1,344.7L2029.1,353.4L2033.1,362L2037.1,370.4L2041.1,378.5L2045.1,386.2L2049.1,393.7L2053.1,400.7L2057.1,407.4L2061.1,413.7L2065.1,419.7L2069.1,425.2L2073.1,430.3L2077.1,435.1L2081.1,439.4L2085.2,443.4L2089.2,447.1L2093.2,450.4L2097.2,453.4L2101.2,456.1L2105.2,458.6L2109.2,460.7L2113.2,462.7L2117.2,464.4L2121.2,466L2125.2,467.3L2129.2,468.5L2133.2,469.6L2137.2,470.5L2141.2,471.3L2145.2,472L2149.2,472.7L2153.3,473.2L2157.3,473.7L2161.3,474.1L2165.3,474.5L2169.3,474.8L2173.3,475.1L2177.3,475.4L2181.3,475.6L2185.3,475.8L2189.3,476L2193.3,476.1L2197.3,476.3L2201.3,476.4L2205.3,476.6L2209.3,476.7L2213.3,476.8L2217.3,476.9L2221.4,477L2225.4,477.1L2229.4,477.2L2233.4,477.3L2237.4,477.4L2241.4,477.5L2245.4,477.5L2249.4,477.6L2253.4,477.7L2257.4,477.8L2261.4,477.8L2265.4,477.9L2269.4,478L2273.4,478L2277.4,478.1L2281.4,478.2L2285.4,478.2L2289.5,478.3L2293.5,478.4L2297.5,478.4L2301.5,478.5L2305.5,478.6L2309.5,478.6L2313.5,478.7L2317.5,478.7L2321.5,478.8L2321.5,479.8L2317.5,479.8L2313.5,479.7L2309.5,479.7L2305.5,479.7L2301.5,479.6L2297.5,479.6L2293.5,479.5L2289.5,479.5L2285.4,479.5L2281.4,479.4L2277.4,479.4L2273.4,479.4L2269.4,479.3L2265.4,479.3L2261.4,479.3L2257.4,479.2L2253.4,479.2L2249.4,479.1L2245.4,479.1L2241.4,479.1L2237.4,479L2233.4,479L2229.4,479L2225.4,478.9L2221.4,478.9L2217.3,478.9L2213.3,478.8L2209.3,478.8L2205.3,478.7L2201.3,478.7L2197.3,478.7L2193.3,478.6L2189.3,478.6L2185.3,478.6L2181.3,478.5L2177.3,478.5L2173.3,478.5L2169.3,478.4L2165.3,478.4L2161.3,478.3L2157.3,478.3L2153.3,478.3L2149.2,478.2L2145.2,478.2L2141.2,478.2L2137.2,478.1L2133.2,478.1L2129.2,478.1L2125.2,478L2121.2,478L2117.2,477.9L2113.2,477.9L2109.2,477.9L2105.2,477.8L2101.2,477.8L2097.2,477.8L2093.2,477.7L2089.2,477.7L2085.2,477.7L2081.1,477.6L2077.1,477.6L2073.1,477.5L2069.1,477.5L2065.1,477.5L2061.1,477.4L2057.1,477.4L2053.1,477.4L2049.1,477.3L2045.1,477.3L2041.1,477.3L2037.1,477.2L2033.1,477.2L2029.1,477.1L2025.1,477.1L2021.1,477.1L2017,477L2013,477L2009,477L2005,476.9L2001,476.9L1997,476.9L1993,476.8L1989,476.8L1985,476.7L1981,476.7L1977,476.7L1973,476.6L1969,476.6L1965,476.6L1961,476.5L1957,476.5L1953,476.5L1948.9,476.4L1944.9,476.4L1940.9,476.3L1936.9,476.3L1932.9,476.3L1928.9,476.2L1924.9,476.2L1920.9,476.2L1916.9,476.1L1912.9,476.1L1908.9,476.1L1904.9,476L1900.9,476L1896.9,475.9L1892.9,475.9L1888.9,475.9L1884.9,475.8L1880.8,475.8L1876.8,475.8L1872.8,475.7L1868.8,475.7L1864.8,475.7L1860.8,475.6L1856.8,475.6L1852.8,475.5L1848.8,475.5L1844.8,475.5L1840.8,475.4L1836.8,475.4L1832.8,475.4L1828.8,475.3L1824.8,475.3L1820.8,475.3L1816.8,475.2L1812.7,475.2L1808.7,475.1L1804.7,475.1L1800.7,475.1L1796.7,475L1792.7,475L1788.7,475L1784.7,474.9L1780.7,474.9L1776.7,474.9L1772.7,474.8L1768.7,474.8L1764.7,474.7L1760.7,474.7L1756.7,474.7L1752.7,474.6L1748.7,474.6L1744.6,474.6L1740.6,474.5L1736.6,474.5L1732.6,474.5L1728.6,474.4L1724.6,474.4L1720.6,474.3L1716.6,474.3L1712.6,474.3L1708.6,474.2L1704.6,474.2L1700.6,474.2L1696.6,474.1L1692.6,474.1L1688.6,474.1L1684.6,474L1680.6,474L1676.5,473.9L1672.5,473.9L1668.5,473.9L1664.5,473.8L1660.5,473.8L1656.5,473.8L1652.5,473.7L1648.5,473.7L1644.5,473.7L1640.5,473.6L1636.5,473.6L1632.5,473.5L1628.5,473.5L1624.5,473.5L1620.5,473.4L1616.5,473.4L1612.5,473.4L1608.4,473.3L1604.4,473.3L1600.4,473.3L1596.4,473.2L1592.4,473.2L1588.4,473.1L1584.4,473.1L1580.4,473.1L1576.4,473L1572.4,473L1568.4,473L1564.4,472.9L1560.4,472.9L1556.4,472.9L1552.4,472.8L1548.4,472.8L1544.3,472.7L1540.3,472.7L1536.3,472.7L1532.3,472.6L1528.3,472.6L1524.3,472.6L1520.3,472.5L1516.3,472.5L1512.3,472.5L1508.3,472.4L1504.3,472.4L1500.3,472.3L1496.3,472.3L1492.3,472.3L1488.3,472.2L1484.3,472.2L1480.3,472.2L1476.2,472.1L1472.2,472.1L1468.2,472.1L1464.2,472L1460.2,472L1456.2,471.9L1452.2,471.9L1448.2,471.9L1444.2,471.8L1440.2,471.8L1436.2,471.8L1432.2,471.7L1428.2,471.7L1424.2,471.7L1420.2,471.6L1416.2,471.6L1412.2,471.5L1408.1,471.5L1404.1,471.5L1400.1,471.4L1396.1,471.4L1392.1,471.4L1388.1,471.3L1384.1,471.3L1380.1,471.3L1376.1,471.2L1372.1,471.2L1368.1,471.1L1364.1,471.1L1360.1,471.1L1356.1,471L1352.1,471L1348.1,471L1344.1,470.9L1340,470.9L1336,470.9L1332,470.8L1328,470.8L1324,470.7L1320,470.7L1316,470.7L1312,470.6L1308,470.6 Z" fill="url(#g7)"/>
<path d="M1308,473.1L1312,473.1L1316,473.2L1320,473.2L1324,473.2L1328,473.3L1332,473.3L1336,473.4L1340,473.4L1344.1,473.4L1348.1,473.5L1352.1,473.5L1356.1,473.5L1360.1,473.6L1364.1,473.6L1368.1,473.6L1372.1,473.7L1376.1,473.7L1380.1,473.8L1384.1,473.8L1388.1,473.8L1392.1,473.9L1396.1,473.9L1400.1,473.9L1404.1,474L1408.1,474L1412.2,474L1416.2,474.1L1420.2,474.1L1424.2,474.2L1428.2,474.2L1432.2,474.2L1436.2,474.3L1440.2,474.3L1444.2,474.3L1448.2,474.4L1452.2,474.4L1456.2,474.4L1460.2,474.5L1464.2,474.5L1468.2,474.6L1472.2,474.6L1476.2,474.6L1480.3,474.7L1484.3,474.7L1488.3,474.7L1492.3,474.8L1496.3,474.8L1500.3,474.8L1504.3,474.9L1508.3,474.9L1512.3,475L1516.3,475L1520.3,475L1524.3,475.1L1528.3,475.1L1532.3,475.1L1536.3,475.2L1540.3,475.2L1544.3,475.2L1548.4,475.3L1552.4,475.3L1556.4,475.4L1560.4,475.4L1564.4,475.4L1568.4,475.5L1572.4,475.5L1576.4,475.5L1580.4,475.6L1584.4,475.6L1588.4,475.6L1592.4,475.7L1596.4,475.7L1600.4,475.8L1604.4,475.8L1608.4,475.8L1612.5,475.9L1616.5,475.9L1620.5,475.9L1624.5,476L1628.5,476L1632.5,476L1636.5,476.1L1640.5,476.1L1644.5,476.2L1648.5,476.2L1652.5,476.2L1656.5,476.3L1660.5,476.3L1664.5,476.3L1668.5,476.4L1672.5,476.4L1676.5,476.4L1680.6,476.5L1684.6,476.5L1688.6,476.6L1692.6,476.6L1696.6,476.6L1700.6,476.7L1704.6,476.7L1708.6,476.7L1712.6,476.8L1716.6,476.8L1720.6,476.8L1724.6,476.9L1728.6,476.9L1732.6,477L1736.6,477L1740.6,477L1744.6,477.1L1748.7,477.1L1752.7,477.1L1756.7,477.2L1760.7,477.2L1764.7,477.2L1768.7,477.3L1772.7,477.3L1776.7,477.4L1780.7,477.4L1784.7,477.4L1788.7,477.5L1792.7,477.5L1796.7,477.5L1800.7,477.6L1804.7,477.6L1808.7,477.6L1812.7,477.7L1816.8,477.7L1820.8,477.8L1824.8,477.8L1828.8,477.8L1832.8,477.9L1836.8,477.9L1840.8,477.9L1844.8,478L1848.8,478L1852.8,478L1856.8,478.1L1860.8,478.1L1864.8,478.2L1868.8,478.2L1872.8,478.2L1876.8,478.3L1880.8,478.3L1884.9,478.3L1888.9,478.4L1892.9,478.4L1896.9,478.4L1900.9,478.5L1904.9,478.5L1908.9,478.6L1912.9,478.6L1916.9,478.6L1920.9,478.7L1924.9,478.7L1928.9,478.7L1932.9,478.8L1936.9,478.8L1940.9,478.8L1944.9,478.9L1948.9,478.9L1953,479L1957,479L1961,479L1965,479.1L1969,479.1L1973,479.1L1977,479.2L1981,479.2L1985,479.2L1989,479.3L1993,479.3L1997,479.4L2001,479.4L2005,479.4L2009,479.5L2013,479.5L2017,479.5L2021.1,479.6L2025.1,479.6L2029.1,479.6L2033.1,479.7L2037.1,479.7L2041.1,479.8L2045.1,479.8L2049.1,479.8L2053.1,479.9L2057.1,479.9L2061.1,479.9L2065.1,480L2069.1,480L2073.1,480L2077.1,480.1L2081.1,480.1L2085.2,480.2L2089.2,480.2L2093.2,480.2L2097.2,480.3L2101.2,480.3L2105.2,480.3L2109.2,480.4L2113.2,480.4L2117.2,480.4L2121.2,480.5L2125.2,480.5L2129.2,480.6L2133.2,480.6L2137.2,480.6L2141.2,480.7L2145.2,480.7L2149.2,480.7L2153.3,480.8L2157.3,480.8L2161.3,480.8L2165.3,480.9L2169.3,480.9L2173.3,481L2177.3,481L2181.3,481L2185.3,481.1L2189.3,481.1L2193.3,481.1L2197.3,481.2L2201.3,481.2L2205.3,481.2L2209.3,481.3L2213.3,481.3L2217.3,481.4L2221.4,481.4L2225.4,481.4L2229.4,481.5L2233.4,481.5L2237.4,481.5L2241.4,481.6L2245.4,481.6L2249.4,481.6L2253.4,481.7L2257.4,481.7L2261.4,481.8L2265.4,481.8L2269.4,481.8L2273.4,481.9L2277.4,481.9L2281.4,481.9L2285.4,482L2289.5,482L2293.5,482L2297.5,482.1L2301.5,482.1L2305.5,482.2L2309.5,482.2L2313.5,482.2L2317.5,482.3L2321.5,482.3" fill="none" stroke="#606060" stroke-width="3"/>
<path d="M1308,470.6L2321.5,479.8" fill="none" stroke="#fe3b3b" stroke-width="6.5"/>
<rect x="1337.2" y="466.9" width="11" height="10" fill="#c4c4c4" stroke="#7c7c7c" stroke-width="1.6"/>
<rect x="1388.5" y="464.3" width="11" height="10" fill="#c4c4c4" stroke="#7c7c7c" stroke-width="1.6"/>
<rect x="1439.8" y="469" width="11" height="10" fill="#c4c4c4" stroke="#7c7c7c" stroke-width="1.6"/>
<rect x="1491.1" y="469" width="11" height="10" fill="#c4c4c4" stroke="#7c7c7c" stroke-width="1.6"/>
<rect x="1542.4" y="464" width="11" height="10" fill="#c4c4c4" stroke="#7c7c7c" stroke-width="1.6"/>
<rect x="1593.7" y="463.5" width="11" height="10" fill="#c4c4c4" stroke="#7c7c7c" stroke-width="1.6"/>
<rect x="1645" y="464.5" width="11" height="10" fill="#c4c4c4" stroke="#7c7c7c" stroke-width="1.6"/>
<rect x="1696.3" y="461.7" width="11" height="10" fill="#c4c4c4" stroke="#7c7c7c" stroke-width="1.6"/>
<rect x="1747.6" y="450.1" width="11" height="10" fill="#c4c4c4" stroke="#7c7c7c" stroke-width="1.6"/>
<rect x="1798.9" y="431.4" width="11" height="10" fill="#c4c4c4" stroke="#7c7c7c" stroke-width="1.6"/>
<rect x="1850.2" y="376.3" width="11" height="10" fill="#c4c4c4" stroke="#7c7c7c" stroke-width="1.6"/>
<rect x="1901.5" y="271" width="11" height="10" fill="#c4c4c4" stroke="#7c7c7c" stroke-width="1.6"/>
<rect x="1952.8" y="224.9" width="11" height="10" fill="#c4c4c4" stroke="#7c7c7c" stroke-width="1.6"/>
<rect x="2004.1" y="303.4" width="11" height="10" fill="#c4c4c4" stroke="#7c7c7c" stroke-width="1.6"/>
<rect x="2055.4" y="408.7" width="11" height="10" fill="#c4c4c4" stroke="#7c7c7c" stroke-width="1.6"/>
<rect x="2106.7" y="456.1" width="11" height="10" fill="#c4c4c4" stroke="#7c7c7c" stroke-width="1.6"/>
<rect x="2158" y="467.9" width="11" height="10" fill="#c4c4c4" stroke="#7c7c7c" stroke-width="1.6"/>
<rect x="2209.3" y="470.1" width="11" height="10" fill="#c4c4c4" stroke="#7c7c7c" stroke-width="1.6"/>
<rect x="2260.6" y="472.7" width="11" height="10" fill="#c4c4c4" stroke="#7c7c7c" stroke-width="1.6"/>
<rect x="2311.9" y="472.5" width="11" height="10" fill="#c4c4c4" stroke="#7c7c7c" stroke-width="1.6"/>
<path d="M1308,470.3L1317.1,468.5L1342.7,472.3L1368.4,472.1L1394,469.7L1419.7,471.1L1445.3,471L1471,472.2L1496.6,473.1L1522.3,469.7L1547.9,469.4L1573.6,473.4L1599.2,471L1624.9,471.9L1650.5,466.8L1676.2,466.6L1680.6,466.4L1684.6,466L1688.6,465.5L1692.6,465L1696.6,464.5L1700.6,464L1704.6,463.5L1708.6,463L1712.6,462.4L1716.6,461.8L1720.6,461.2L1724.6,460.6L1728.6,460L1732.6,459.4L1736.6,458.7L1740.6,458L1744.6,457.3L1748.7,456.6L1752.7,455.8L1756.7,455L1760.7,454.1L1764.7,453.2L1768.7,452.2L1772.7,451.1L1776.7,450L1780.7,448.7L1784.7,447.4L1788.7,445.9L1792.7,444.2L1796.7,442.4L1800.7,440.3L1804.7,438.1L1808.7,435.7L1812.7,432.9L1816.8,430L1820.8,426.7L1824.8,423.1L1828.8,419.2L1832.8,414.9L1836.8,410.3L1840.8,405.3L1844.8,400L1848.8,394.3L1852.8,388.2L1856.8,381.7L1860.8,374.9L1864.8,367.8L1868.8,360.4L1872.8,352.7L1876.8,344.7L1880.8,336.6L1884.9,328.3L1888.9,319.9L1892.9,311.5L1896.9,303.1L1900.9,294.8L1904.9,286.7L1908.9,278.9L1912.9,271.4L1916.9,264.3L1920.9,257.7L1924.9,251.6L1928.9,246.3L1932.9,241.6L1936.9,237.7L1940.9,234.6L1944.9,232.5L1948.9,231.2L1953,230.9L1957,231.5L1961,233.1L1965,235.6L1969,239L1973,243.2L1977,248.3L1981,254L1985,260.5L1989,267.5L1993,275L1997,283L2001,291.4L2005,300L2009,308.8L2013,317.8L2017,326.8L2021.1,335.7L2025.1,344.7L2029.1,353.4L2033.1,362L2037.1,370.4L2041.1,378.5L2045.1,386.2L2049.1,393.7L2053.1,400.7L2057.1,407.4L2061.1,413.7L2065.1,419.7L2069.1,425.2L2073.1,430.3L2077.1,435.1L2081.1,439.4L2085.2,443.4L2089.2,447.1L2093.2,450.4L2097.2,453.4L2101.2,456.1L2105.2,458.6L2109.2,460.7L2113.2,462.7L2117.2,464.4L2121.2,466L2125.2,467.3L2129.2,468.5L2133.2,469.6L2137.2,470.5L2141.2,471.3L2145.2,472L2149.2,472.7L2153.3,473.2L2157.3,473.7L2161.3,474.1L2165.3,474.5L2169.3,474.8L2173.3,475.1L2177.3,475.4L2181.3,475.6L2185.3,475.8L2189.3,476L2193.3,476.1L2197.3,476.3L2201.3,476.4L2205.3,476.6L2209.3,476.7L2213.3,476.8L2217.3,476.9L2221.4,477L2225.4,477.1L2229.4,477.2L2233.4,477.3L2237.4,477.4L2241.4,477.5L2245.4,477.5L2249.4,477.6L2253.4,477.7L2257.4,477.8L2261.4,477.8L2265.4,477.9L2269.4,478L2273.4,478L2277.4,478.1L2281.4,478.2L2285.4,478.2L2289.5,478.3L2293.5,478.4L2297.5,478.4L2301.5,478.5L2305.5,478.6L2309.5,478.6L2313.5,478.7L2317.5,478.7L2321.5,478.8" fill="none" stroke="#fe3b3b" stroke-width="7" stroke-linejoin="round" stroke-linecap="round"/>
<path d="M1308,692.4L1312,692.5L1316,692.5L1320,692.5L1324,692.6L1328,692.6L1332,692.7L1336,692.7L1340,692.7L1344.1,692.8L1348.1,692.8L1352.1,692.9L1356.1,692.9L1360.1,692.9L1364.1,693L1368.1,693L1372.1,693L1376.1,693.1L1380.1,693.1L1384.1,693.2L1388.1,693.2L1392.1,693.2L1396.1,693.3L1400.1,693.3L1404.1,693.3L1408.1,693.4L1412.2,693.4L1416.2,693.4L1420.2,693.5L1424.2,693.5L1428.2,693.6L1432.2,693.6L1436.2,693.6L1440.2,693.7L1444.2,693.7L1448.2,693.7L1452.2,693.8L1456.2,693.8L1460.2,693.8L1464.2,693.9L1468.2,693.9L1472.2,693.9L1476.2,694L1480.3,694L1484.3,694L1488.3,694.1L1492.3,694.1L1496.3,694.1L1500.3,694.2L1504.3,694.2L1508.3,694.2L1512.3,694.2L1516.3,694.3L1520.3,694.3L1524.3,694.3L1528.3,694.3L1532.3,694.4L1536.3,694.4L1540.3,694.4L1544.3,694.4L1548.4,694.4L1552.4,694.4L1556.4,694.4L1560.4,694.4L1564.4,694.4L1568.4,694.4L1572.4,694.4L1576.4,694.4L1580.4,694.4L1584.4,694.3L1588.4,694.3L1592.4,694.2L1596.4,694.2L1600.4,694.1L1604.4,694L1608.4,693.9L1612.5,693.8L1616.5,693.7L1620.5,693.6L1624.5,693.4L1628.5,693.3L1632.5,693.1L1636.5,692.9L1640.5,692.7L1644.5,692.4L1648.5,692.2L1652.5,691.9L1656.5,691.6L1660.5,691.3L1664.5,690.9L1668.5,690.6L1672.5,690.2L1676.5,689.8L1680.6,689.3L1684.6,688.9L1688.6,688.4L1692.6,687.9L1696.6,687.4L1700.6,686.9L1704.6,686.4L1708.6,685.8L1712.6,685.3L1716.6,684.7L1720.6,684.1L1724.6,683.5L1728.6,682.9L1732.6,682.3L1736.6,681.7L1740.6,681.1L1744.6,680.5L1748.7,679.8L1752.7,679.2L1756.7,678.6L1760.7,677.9L1764.7,677.3L1768.7,676.6L1772.7,675.9L1776.7,675.2L1780.7,674.4L1784.7,673.6L1788.7,672.8L1792.7,671.9L1796.7,671L1800.7,669.9L1804.7,668.8L1808.7,667.6L1812.7,666.2L1816.8,664.7L1820.8,663.1L1824.8,661.3L1828.8,659.3L1832.8,657.1L1836.8,654.7L1840.8,652.1L1844.8,649.2L1848.8,646.1L1852.8,642.7L1856.8,639.1L1860.8,635.2L1864.8,631L1868.8,626.5L1872.8,621.8L1876.8,616.8L1880.8,611.6L1884.9,606.1L1888.9,600.4L1892.9,594.5L1896.9,588.5L1900.9,582.4L1904.9,576.2L1908.9,569.9L1912.9,563.6L1916.9,557.5L1920.9,551.4L1924.9,545.5L1928.9,539.8L1932.9,534.4L1936.9,529.3L1940.9,524.6L1944.9,520.4L1948.9,516.6L1953,513.4L1957,510.8L1961,508.9L1965,507.5L1969,506.9L1973,507L1977,507.7L1981,509.2L1985,511.3L1989,514L1993,517.4L1997,521.4L2001,525.9L2005,530.8L2009,536.2L2013,542L2017,548.1L2021.1,554.5L2025.1,561.1L2029.1,567.8L2033.1,574.6L2037.1,581.5L2041.1,588.3L2045.1,595.1L2049.1,601.8L2053.1,608.4L2057.1,614.9L2061.1,621.1L2065.1,627.1L2069.1,632.9L2073.1,638.4L2077.1,643.6L2081.1,648.5L2085.2,653.2L2089.2,657.6L2093.2,661.6L2097.2,665.4L2101.2,668.9L2105.2,672.2L2109.2,675.1L2113.2,677.8L2117.2,680.3L2121.2,682.6L2125.2,684.6L2129.2,686.4L2133.2,688.1L2137.2,689.5L2141.2,690.8L2145.2,692L2149.2,693.1L2153.3,694L2157.3,694.8L2161.3,695.5L2165.3,696.2L2169.3,696.7L2173.3,697.2L2177.3,697.7L2181.3,698.1L2185.3,698.4L2189.3,698.7L2193.3,699L2197.3,699.2L2201.3,699.4L2205.3,699.6L2209.3,699.8L2213.3,700L2217.3,700.1L2221.4,700.3L2225.4,700.4L2229.4,700.5L2233.4,700.6L2237.4,700.7L2241.4,700.8L2245.4,700.9L2249.4,701L2253.4,701.1L2257.4,701.2L2261.4,701.2L2265.4,701.3L2269.4,701.4L2273.4,701.5L2277.4,701.5L2281.4,701.6L2285.4,701.7L2289.5,701.8L2293.5,701.8L2297.5,701.9L2301.5,702L2305.5,702L2309.5,702.1L2313.5,702.1L2317.5,702.2L2321.5,702.3L2321.5,703.2L2317.5,703.2L2313.5,703.1L2309.5,703.1L2305.5,703L2301.5,703L2297.5,703L2293.5,702.9L2289.5,702.9L2285.4,702.8L2281.4,702.8L2277.4,702.7L2273.4,702.7L2269.4,702.7L2265.4,702.6L2261.4,702.6L2257.4,702.5L2253.4,702.5L2249.4,702.5L2245.4,702.4L2241.4,702.4L2237.4,702.3L2233.4,702.3L2229.4,702.2L2225.4,702.2L2221.4,702.2L2217.3,702.1L2213.3,702.1L2209.3,702L2205.3,702L2201.3,702L2197.3,701.9L2193.3,701.9L2189.3,701.8L2185.3,701.8L2181.3,701.7L2177.3,701.7L2173.3,701.7L2169.3,701.6L2165.3,701.6L2161.3,701.5L2157.3,701.5L2153.3,701.5L2149.2,701.4L2145.2,701.4L2141.2,701.3L2137.2,701.3L2133.2,701.2L2129.2,701.2L2125.2,701.2L2121.2,701.1L2117.2,701.1L2113.2,701L2109.2,701L2105.2,701L2101.2,700.9L2097.2,700.9L2093.2,700.8L2089.2,700.8L2085.2,700.8L2081.1,700.7L2077.1,700.7L2073.1,700.6L2069.1,700.6L2065.1,700.5L2061.1,700.5L2057.1,700.5L2053.1,700.4L2049.1,700.4L2045.1,700.3L2041.1,700.3L2037.1,700.3L2033.1,700.2L2029.1,700.2L2025.1,700.1L2021.1,700.1L2017,700L2013,700L2009,700L2005,699.9L2001,699.9L1997,699.8L1993,699.8L1989,699.8L1985,699.7L1981,699.7L1977,699.6L1973,699.6L1969,699.5L1965,699.5L1961,699.5L1957,699.4L1953,699.4L1948.9,699.3L1944.9,699.3L1940.9,699.3L1936.9,699.2L1932.9,699.2L1928.9,699.1L1924.9,699.1L1920.9,699L1916.9,699L1912.9,699L1908.9,698.9L1904.9,698.9L1900.9,698.8L1896.9,698.8L1892.9,698.8L1888.9,698.7L1884.9,698.7L1880.8,698.6L1876.8,698.6L1872.8,698.6L1868.8,698.5L1864.8,698.5L1860.8,698.4L1856.8,698.4L1852.8,698.3L1848.8,698.3L1844.8,698.3L1840.8,698.2L1836.8,698.2L1832.8,698.1L1828.8,698.1L1824.8,698.1L1820.8,698L1816.8,698L1812.7,697.9L1808.7,697.9L1804.7,697.8L1800.7,697.8L1796.7,697.8L1792.7,697.7L1788.7,697.7L1784.7,697.6L1780.7,697.6L1776.7,697.6L1772.7,697.5L1768.7,697.5L1764.7,697.4L1760.7,697.4L1756.7,697.3L1752.7,697.3L1748.7,697.3L1744.6,697.2L1740.6,697.2L1736.6,697.1L1732.6,697.1L1728.6,697.1L1724.6,697L1720.6,697L1716.6,696.9L1712.6,696.9L1708.6,696.9L1704.6,696.8L1700.6,696.8L1696.6,696.7L1692.6,696.7L1688.6,696.6L1684.6,696.6L1680.6,696.6L1676.5,696.5L1672.5,696.5L1668.5,696.4L1664.5,696.4L1660.5,696.4L1656.5,696.3L1652.5,696.3L1648.5,696.2L1644.5,696.2L1640.5,696.1L1636.5,696.1L1632.5,696.1L1628.5,696L1624.5,696L1620.5,695.9L1616.5,695.9L1612.5,695.9L1608.4,695.8L1604.4,695.8L1600.4,695.7L1596.4,695.7L1592.4,695.6L1588.4,695.6L1584.4,695.6L1580.4,695.5L1576.4,695.5L1572.4,695.4L1568.4,695.4L1564.4,695.4L1560.4,695.3L1556.4,695.3L1552.4,695.2L1548.4,695.2L1544.3,695.1L1540.3,695.1L1536.3,695.1L1532.3,695L1528.3,695L1524.3,694.9L1520.3,694.9L1516.3,694.9L1512.3,694.8L1508.3,694.8L1504.3,694.7L1500.3,694.7L1496.3,694.7L1492.3,694.6L1488.3,694.6L1484.3,694.5L1480.3,694.5L1476.2,694.4L1472.2,694.4L1468.2,694.4L1464.2,694.3L1460.2,694.3L1456.2,694.2L1452.2,694.2L1448.2,694.2L1444.2,694.1L1440.2,694.1L1436.2,694L1432.2,694L1428.2,693.9L1424.2,693.9L1420.2,693.9L1416.2,693.8L1412.2,693.8L1408.1,693.7L1404.1,693.7L1400.1,693.7L1396.1,693.6L1392.1,693.6L1388.1,693.5L1384.1,693.5L1380.1,693.4L1376.1,693.4L1372.1,693.4L1368.1,693.3L1364.1,693.3L1360.1,693.2L1356.1,693.2L1352.1,693.2L1348.1,693.1L1344.1,693.1L1340,693L1336,693L1332,692.9L1328,692.9L1324,692.9L1320,692.8L1316,692.8L1312,692.7L1308,692.7 Z" fill="url(#g8)"/>
<path d="M1308,695.2L1312,695.2L1316,695.3L1320,695.3L1324,695.4L1328,695.4L1332,695.4L1336,695.5L1340,695.5L1344.1,695.6L1348.1,695.6L1352.1,695.7L1356.1,695.7L1360.1,695.7L1364.1,695.8L1368.1,695.8L1372.1,695.9L1376.1,695.9L1380.1,695.9L1384.1,696L1388.1,696L1392.1,696.1L1396.1,696.1L1400.1,696.2L1404.1,696.2L1408.1,696.2L1412.2,696.3L1416.2,696.3L1420.2,696.4L1424.2,696.4L1428.2,696.4L1432.2,696.5L1436.2,696.5L1440.2,696.6L1444.2,696.6L1448.2,696.7L1452.2,696.7L1456.2,696.7L1460.2,696.8L1464.2,696.8L1468.2,696.9L1472.2,696.9L1476.2,696.9L1480.3,697L1484.3,697L1488.3,697.1L1492.3,697.1L1496.3,697.2L1500.3,697.2L1504.3,697.2L1508.3,697.3L1512.3,697.3L1516.3,697.4L1520.3,697.4L1524.3,697.4L1528.3,697.5L1532.3,697.5L1536.3,697.6L1540.3,697.6L1544.3,697.6L1548.4,697.7L1552.4,697.7L1556.4,697.8L1560.4,697.8L1564.4,697.9L1568.4,697.9L1572.4,697.9L1576.4,698L1580.4,698L1584.4,698.1L1588.4,698.1L1592.4,698.1L1596.4,698.2L1600.4,698.2L1604.4,698.3L1608.4,698.3L1612.5,698.4L1616.5,698.4L1620.5,698.4L1624.5,698.5L1628.5,698.5L1632.5,698.6L1636.5,698.6L1640.5,698.6L1644.5,698.7L1648.5,698.7L1652.5,698.8L1656.5,698.8L1660.5,698.9L1664.5,698.9L1668.5,698.9L1672.5,699L1676.5,699L1680.6,699.1L1684.6,699.1L1688.6,699.1L1692.6,699.2L1696.6,699.2L1700.6,699.3L1704.6,699.3L1708.6,699.4L1712.6,699.4L1716.6,699.4L1720.6,699.5L1724.6,699.5L1728.6,699.6L1732.6,699.6L1736.6,699.6L1740.6,699.7L1744.6,699.7L1748.7,699.8L1752.7,699.8L1756.7,699.8L1760.7,699.9L1764.7,699.9L1768.7,700L1772.7,700L1776.7,700.1L1780.7,700.1L1784.7,700.1L1788.7,700.2L1792.7,700.2L1796.7,700.3L1800.7,700.3L1804.7,700.3L1808.7,700.4L1812.7,700.4L1816.8,700.5L1820.8,700.5L1824.8,700.6L1828.8,700.6L1832.8,700.6L1836.8,700.7L1840.8,700.7L1844.8,700.8L1848.8,700.8L1852.8,700.8L1856.8,700.9L1860.8,700.9L1864.8,701L1868.8,701L1872.8,701.1L1876.8,701.1L1880.8,701.1L1884.9,701.2L1888.9,701.2L1892.9,701.3L1896.9,701.3L1900.9,701.3L1904.9,701.4L1908.9,701.4L1912.9,701.5L1916.9,701.5L1920.9,701.5L1924.9,701.6L1928.9,701.6L1932.9,701.7L1936.9,701.7L1940.9,701.8L1944.9,701.8L1948.9,701.8L1953,701.9L1957,701.9L1961,702L1965,702L1969,702L1973,702.1L1977,702.1L1981,702.2L1985,702.2L1989,702.3L1993,702.3L1997,702.3L2001,702.4L2005,702.4L2009,702.5L2013,702.5L2017,702.5L2021.1,702.6L2025.1,702.6L2029.1,702.7L2033.1,702.7L2037.1,702.8L2041.1,702.8L2045.1,702.8L2049.1,702.9L2053.1,702.9L2057.1,703L2061.1,703L2065.1,703L2069.1,703.1L2073.1,703.1L2077.1,703.2L2081.1,703.2L2085.2,703.3L2089.2,703.3L2093.2,703.3L2097.2,703.4L2101.2,703.4L2105.2,703.5L2109.2,703.5L2113.2,703.5L2117.2,703.6L2121.2,703.6L2125.2,703.7L2129.2,703.7L2133.2,703.7L2137.2,703.8L2141.2,703.8L2145.2,703.9L2149.2,703.9L2153.3,704L2157.3,704L2161.3,704L2165.3,704.1L2169.3,704.1L2173.3,704.2L2177.3,704.2L2181.3,704.2L2185.3,704.3L2189.3,704.3L2193.3,704.4L2197.3,704.4L2201.3,704.5L2205.3,704.5L2209.3,704.5L2213.3,704.6L2217.3,704.6L2221.4,704.7L2225.4,704.7L2229.4,704.7L2233.4,704.8L2237.4,704.8L2241.4,704.9L2245.4,704.9L2249.4,705L2253.4,705L2257.4,705L2261.4,705.1L2265.4,705.1L2269.4,705.2L2273.4,705.2L2277.4,705.2L2281.4,705.3L2285.4,705.3L2289.5,705.4L2293.5,705.4L2297.5,705.5L2301.5,705.5L2305.5,705.5L2309.5,705.6L2313.5,705.6L2317.5,705.7L2321.5,705.7" fill="none" stroke="#606060" stroke-width="3"/>
<path d="M1308,692.7L2321.5,703.2" fill="none" stroke="#fe3b3b" stroke-width="6.5"/>
<rect x="1337.2" y="690.7" width="11" height="10" fill="#c4c4c4" stroke="#7c7c7c" stroke-width="1.6"/>
<rect x="1388.5" y="690.9" width="11" height="10" fill="#c4c4c4" stroke="#7c7c7c" stroke-width="1.6"/>
<rect x="1439.8" y="689" width="11" height="10" fill="#c4c4c4" stroke="#7c7c7c" stroke-width="1.6"/>
<rect x="1491.1" y="688.8" width="11" height="10" fill="#c4c4c4" stroke="#7c7c7c" stroke-width="1.6"/>
<rect x="1542.4" y="688" width="11" height="10" fill="#c4c4c4" stroke="#7c7c7c" stroke-width="1.6"/>
<rect x="1593.7" y="686.3" width="11" height="10" fill="#c4c4c4" stroke="#7c7c7c" stroke-width="1.6"/>
<rect x="1645" y="684.3" width="11" height="10" fill="#c4c4c4" stroke="#7c7c7c" stroke-width="1.6"/>
<rect x="1696.3" y="681.7" width="11" height="10" fill="#c4c4c4" stroke="#7c7c7c" stroke-width="1.6"/>
<rect x="1747.6" y="673.1" width="11" height="10" fill="#c4c4c4" stroke="#7c7c7c" stroke-width="1.6"/>
<rect x="1798.9" y="663.1" width="11" height="10" fill="#c4c4c4" stroke="#7c7c7c" stroke-width="1.6"/>
<rect x="1850.2" y="636.5" width="11" height="10" fill="#c4c4c4" stroke="#7c7c7c" stroke-width="1.6"/>
<rect x="1901.5" y="565.1" width="11" height="10" fill="#c4c4c4" stroke="#7c7c7c" stroke-width="1.6"/>
<rect x="1952.8" y="506.2" width="11" height="10" fill="#c4c4c4" stroke="#7c7c7c" stroke-width="1.6"/>
<rect x="2004.1" y="529.7" width="11" height="10" fill="#c4c4c4" stroke="#7c7c7c" stroke-width="1.6"/>
<rect x="2055.4" y="613.2" width="11" height="10" fill="#c4c4c4" stroke="#7c7c7c" stroke-width="1.6"/>
<rect x="2106.7" y="671.8" width="11" height="10" fill="#c4c4c4" stroke="#7c7c7c" stroke-width="1.6"/>
<rect x="2158" y="689" width="11" height="10" fill="#c4c4c4" stroke="#7c7c7c" stroke-width="1.6"/>
<rect x="2209.3" y="695" width="11" height="10" fill="#c4c4c4" stroke="#7c7c7c" stroke-width="1.6"/>
<rect x="2260.6" y="699.3" width="11" height="10" fill="#c4c4c4" stroke="#7c7c7c" stroke-width="1.6"/>
<rect x="2311.9" y="698.3" width="11" height="10" fill="#c4c4c4" stroke="#7c7c7c" stroke-width="1.6"/>
<path d="M1308,692.4L1317.1,694.8L1342.7,695L1368.4,690.8L1394,691.1L1419.7,695.2L1445.3,694.9L1471,694.8L1496.6,693.2L1522.3,694.8L1547.9,695L1573.6,694.8L1599.2,692.4L1624.9,693.1L1650.5,691.6L1676.2,690.9L1680.6,689.3L1684.6,688.9L1688.6,688.4L1692.6,687.9L1696.6,687.4L1700.6,686.9L1704.6,686.4L1708.6,685.8L1712.6,685.3L1716.6,684.7L1720.6,684.1L1724.6,683.5L1728.6,682.9L1732.6,682.3L1736.6,681.7L1740.6,681.1L1744.6,680.5L1748.7,679.8L1752.7,679.2L1756.7,678.6L1760.7,677.9L1764.7,677.3L1768.7,676.6L1772.7,675.9L1776.7,675.2L1780.7,674.4L1784.7,673.6L1788.7,672.8L1792.7,671.9L1796.7,671L1800.7,669.9L1804.7,668.8L1808.7,667.6L1812.7,666.2L1816.8,664.7L1820.8,663.1L1824.8,661.3L1828.8,659.3L1832.8,657.1L1836.8,654.7L1840.8,652.1L1844.8,649.2L1848.8,646.1L1852.8,642.7L1856.8,639.1L1860.8,635.2L1864.8,631L1868.8,626.5L1872.8,621.8L1876.8,616.8L1880.8,611.6L1884.9,606.1L1888.9,600.4L1892.9,594.5L1896.9,588.5L1900.9,582.4L1904.9,576.2L1908.9,569.9L1912.9,563.6L1916.9,557.5L1920.9,551.4L1924.9,545.5L1928.9,539.8L1932.9,534.4L1936.9,529.3L1940.9,524.6L1944.9,520.4L1948.9,516.6L1953,513.4L1957,510.8L1961,508.9L1965,507.5L1969,506.9L1973,507L1977,507.7L1981,509.2L1985,511.3L1989,514L1993,517.4L1997,521.4L2001,525.9L2005,530.8L2009,536.2L2013,542L2017,548.1L2021.1,554.5L2025.1,561.1L2029.1,567.8L2033.1,574.6L2037.1,581.5L2041.1,588.3L2045.1,595.1L2049.1,601.8L2053.1,608.4L2057.1,614.9L2061.1,621.1L2065.1,627.1L2069.1,632.9L2073.1,638.4L2077.1,643.6L2081.1,648.5L2085.2,653.2L2089.2,657.6L2093.2,661.6L2097.2,665.4L2101.2,668.9L2105.2,672.2L2109.2,675.1L2113.2,677.8L2117.2,680.3L2121.2,682.6L2125.2,684.6L2129.2,686.4L2133.2,688.1L2137.2,689.5L2141.2,690.8L2145.2,692L2149.2,693.1L2153.3,694L2157.3,694.8L2161.3,695.5L2165.3,696.2L2169.3,696.7L2173.3,697.2L2177.3,697.7L2181.3,698.1L2185.3,698.4L2189.3,698.7L2193.3,699L2197.3,699.2L2201.3,699.4L2205.3,699.6L2209.3,699.8L2213.3,700L2217.3,700.1L2221.4,700.3L2225.4,700.4L2229.4,700.5L2233.4,700.6L2237.4,700.7L2241.4,700.8L2245.4,700.9L2249.4,701L2253.4,701.1L2257.4,701.2L2261.4,701.2L2265.4,701.3L2269.4,701.4L2273.4,701.5L2277.4,701.5L2281.4,701.6L2285.4,701.7L2289.5,701.8L2293.5,701.8L2297.5,701.9L2301.5,702L2305.5,702L2309.5,702.1L2313.5,702.1L2317.5,702.2L2321.5,702.3" fill="none" stroke="#fe3b3b" stroke-width="7" stroke-linejoin="round" stroke-linecap="round"/>
<path d="M1308,906.5L1312,906.5L1316,906.5L1320,906.6L1324,906.6L1328,906.6L1332,906.6L1336,906.7L1340,906.7L1344.1,906.7L1348.1,906.8L1352.1,906.8L1356.1,906.8L1360.1,906.9L1364.1,906.9L1368.1,906.9L1372.1,906.9L1376.1,907L1380.1,907L1384.1,907L1388.1,907.1L1392.1,907.1L1396.1,907.1L1400.1,907.1L1404.1,907.2L1408.1,907.2L1412.2,907.2L1416.2,907.3L1420.2,907.3L1424.2,907.3L1428.2,907.3L1432.2,907.4L1436.2,907.4L1440.2,907.4L1444.2,907.5L1448.2,907.5L1452.2,907.5L1456.2,907.5L1460.2,907.6L1464.2,907.6L1468.2,907.6L1472.2,907.7L1476.2,907.7L1480.3,907.7L1484.3,907.7L1488.3,907.8L1492.3,907.8L1496.3,907.8L1500.3,907.8L1504.3,907.9L1508.3,907.9L1512.3,907.9L1516.3,907.9L1520.3,907.9L1524.3,908L1528.3,908L1532.3,908L1536.3,908L1540.3,908L1544.3,908L1548.4,908.1L1552.4,908.1L1556.4,908.1L1560.4,908.1L1564.4,908.1L1568.4,908.1L1572.4,908.1L1576.4,908L1580.4,908L1584.4,908L1588.4,908L1592.4,907.9L1596.4,907.9L1600.4,907.8L1604.4,907.8L1608.4,907.7L1612.5,907.6L1616.5,907.5L1620.5,907.4L1624.5,907.3L1628.5,907.2L1632.5,907L1636.5,906.9L1640.5,906.7L1644.5,906.5L1648.5,906.3L1652.5,906.1L1656.5,905.8L1660.5,905.5L1664.5,905.2L1668.5,904.9L1672.5,904.6L1676.5,904.2L1680.6,903.9L1684.6,903.5L1688.6,903.1L1692.6,902.6L1696.6,902.2L1700.6,901.7L1704.6,901.2L1708.6,900.7L1712.6,900.2L1716.6,899.7L1720.6,899.1L1724.6,898.6L1728.6,898L1732.6,897.5L1736.6,896.9L1740.6,896.3L1744.6,895.8L1748.7,895.2L1752.7,894.7L1756.7,894.1L1760.7,893.6L1764.7,893.1L1768.7,892.6L1772.7,892.1L1776.7,891.6L1780.7,891.2L1784.7,890.7L1788.7,890.3L1792.7,889.9L1796.7,889.5L1800.7,889.1L1804.7,888.6L1808.7,888.2L1812.7,887.8L1816.8,887.3L1820.8,886.8L1824.8,886.2L1828.8,885.6L1832.8,884.9L1836.8,884.2L1840.8,883.3L1844.8,882.4L1848.8,881.3L1852.8,880L1856.8,878.6L1860.8,877L1864.8,875.2L1868.8,873.3L1872.8,871L1876.8,868.6L1880.8,865.9L1884.9,862.9L1888.9,859.7L1892.9,856.2L1896.9,852.4L1900.9,848.3L1904.9,843.9L1908.9,839.3L1912.9,834.4L1916.9,829.2L1920.9,823.8L1924.9,818.2L1928.9,812.5L1932.9,806.5L1936.9,800.5L1940.9,794.4L1944.9,788.3L1948.9,782.1L1953,776.1L1957,770.1L1961,764.4L1965,758.8L1969,753.6L1973,748.6L1977,744.1L1981,740L1985,736.5L1989,733.4L1993,731L1997,729.1L2001,727.9L2005,727.4L2009,727.5L2013,728.4L2017,729.9L2021.1,732L2025.1,734.7L2029.1,738.1L2033.1,742L2037.1,746.4L2041.1,751.3L2045.1,756.5L2049.1,762.2L2053.1,768.1L2057.1,774.2L2061.1,780.6L2065.1,787.1L2069.1,793.6L2073.1,800.2L2077.1,806.8L2081.1,813.3L2085.2,819.8L2089.2,826.1L2093.2,832.2L2097.2,838.1L2101.2,843.9L2105.2,849.3L2109.2,854.6L2113.2,859.5L2117.2,864.2L2121.2,868.6L2125.2,872.8L2129.2,876.6L2133.2,880.2L2137.2,883.5L2141.2,886.5L2145.2,889.3L2149.2,891.8L2153.3,894.2L2157.3,896.3L2161.3,898.2L2165.3,899.9L2169.3,901.4L2173.3,902.8L2177.3,904L2181.3,905.1L2185.3,906.1L2189.3,906.9L2193.3,907.7L2197.3,908.3L2201.3,908.9L2205.3,909.5L2209.3,909.9L2213.3,910.3L2217.3,910.7L2221.4,911L2225.4,911.3L2229.4,911.5L2233.4,911.7L2237.4,911.9L2241.4,912.1L2245.4,912.3L2249.4,912.4L2253.4,912.5L2257.4,912.7L2261.4,912.8L2265.4,912.9L2269.4,913L2273.4,913.1L2277.4,913.1L2281.4,913.2L2285.4,913.3L2289.5,913.4L2293.5,913.5L2297.5,913.5L2301.5,913.6L2305.5,913.7L2309.5,913.7L2313.5,913.8L2317.5,913.8L2321.5,913.9L2321.5,915L2317.5,915L2313.5,914.9L2309.5,914.9L2305.5,914.9L2301.5,914.8L2297.5,914.8L2293.5,914.8L2289.5,914.7L2285.4,914.7L2281.4,914.7L2277.4,914.6L2273.4,914.6L2269.4,914.6L2265.4,914.5L2261.4,914.5L2257.4,914.5L2253.4,914.4L2249.4,914.4L2245.4,914.4L2241.4,914.3L2237.4,914.3L2233.4,914.3L2229.4,914.2L2225.4,914.2L2221.4,914.2L2217.3,914.1L2213.3,914.1L2209.3,914.1L2205.3,914L2201.3,914L2197.3,914L2193.3,914L2189.3,913.9L2185.3,913.9L2181.3,913.9L2177.3,913.8L2173.3,913.8L2169.3,913.8L2165.3,913.7L2161.3,913.7L2157.3,913.7L2153.3,913.6L2149.2,913.6L2145.2,913.6L2141.2,913.5L2137.2,913.5L2133.2,913.5L2129.2,913.4L2125.2,913.4L2121.2,913.4L2117.2,913.3L2113.2,913.3L2109.2,913.3L2105.2,913.2L2101.2,913.2L2097.2,913.2L2093.2,913.1L2089.2,913.1L2085.2,913.1L2081.1,913L2077.1,913L2073.1,913L2069.1,912.9L2065.1,912.9L2061.1,912.9L2057.1,912.8L2053.1,912.8L2049.1,912.8L2045.1,912.7L2041.1,912.7L2037.1,912.7L2033.1,912.6L2029.1,912.6L2025.1,912.6L2021.1,912.5L2017,912.5L2013,912.5L2009,912.4L2005,912.4L2001,912.4L1997,912.3L1993,912.3L1989,912.3L1985,912.2L1981,912.2L1977,912.2L1973,912.1L1969,912.1L1965,912.1L1961,912L1957,912L1953,912L1948.9,911.9L1944.9,911.9L1940.9,911.9L1936.9,911.9L1932.9,911.8L1928.9,911.8L1924.9,911.8L1920.9,911.7L1916.9,911.7L1912.9,911.7L1908.9,911.6L1904.9,911.6L1900.9,911.6L1896.9,911.5L1892.9,911.5L1888.9,911.5L1884.9,911.4L1880.8,911.4L1876.8,911.4L1872.8,911.3L1868.8,911.3L1864.8,911.3L1860.8,911.2L1856.8,911.2L1852.8,911.2L1848.8,911.1L1844.8,911.1L1840.8,911.1L1836.8,911L1832.8,911L1828.8,911L1824.8,910.9L1820.8,910.9L1816.8,910.9L1812.7,910.8L1808.7,910.8L1804.7,910.8L1800.7,910.7L1796.7,910.7L1792.7,910.7L1788.7,910.6L1784.7,910.6L1780.7,910.6L1776.7,910.5L1772.7,910.5L1768.7,910.5L1764.7,910.4L1760.7,910.4L1756.7,910.4L1752.7,910.3L1748.7,910.3L1744.6,910.3L1740.6,910.2L1736.6,910.2L1732.6,910.2L1728.6,910.1L1724.6,910.1L1720.6,910.1L1716.6,910L1712.6,910L1708.6,910L1704.6,909.9L1700.6,909.9L1696.6,909.9L1692.6,909.8L1688.6,909.8L1684.6,909.8L1680.6,909.8L1676.5,909.7L1672.5,909.7L1668.5,909.7L1664.5,909.6L1660.5,909.6L1656.5,909.6L1652.5,909.5L1648.5,909.5L1644.5,909.5L1640.5,909.4L1636.5,909.4L1632.5,909.4L1628.5,909.3L1624.5,909.3L1620.5,909.3L1616.5,909.2L1612.5,909.2L1608.4,909.2L1604.4,909.1L1600.4,909.1L1596.4,909.1L1592.4,909L1588.4,909L1584.4,909L1580.4,908.9L1576.4,908.9L1572.4,908.9L1568.4,908.8L1564.4,908.8L1560.4,908.8L1556.4,908.7L1552.4,908.7L1548.4,908.7L1544.3,908.6L1540.3,908.6L1536.3,908.6L1532.3,908.5L1528.3,908.5L1524.3,908.5L1520.3,908.4L1516.3,908.4L1512.3,908.4L1508.3,908.3L1504.3,908.3L1500.3,908.3L1496.3,908.2L1492.3,908.2L1488.3,908.2L1484.3,908.1L1480.3,908.1L1476.2,908.1L1472.2,908L1468.2,908L1464.2,908L1460.2,907.9L1456.2,907.9L1452.2,907.9L1448.2,907.8L1444.2,907.8L1440.2,907.8L1436.2,907.7L1432.2,907.7L1428.2,907.7L1424.2,907.7L1420.2,907.6L1416.2,907.6L1412.2,907.6L1408.1,907.5L1404.1,907.5L1400.1,907.5L1396.1,907.4L1392.1,907.4L1388.1,907.4L1384.1,907.3L1380.1,907.3L1376.1,907.3L1372.1,907.2L1368.1,907.2L1364.1,907.2L1360.1,907.1L1356.1,907.1L1352.1,907.1L1348.1,907L1344.1,907L1340,907L1336,906.9L1332,906.9L1328,906.9L1324,906.8L1320,906.8L1316,906.8L1312,906.7L1308,906.7 Z" fill="url(#g9)"/>
<path d="M1308,909.2L1312,909.2L1316,909.3L1320,909.3L1324,909.3L1328,909.4L1332,909.4L1336,909.4L1340,909.5L1344.1,909.5L1348.1,909.5L1352.1,909.6L1356.1,909.6L1360.1,909.6L1364.1,909.7L1368.1,909.7L1372.1,909.7L1376.1,909.8L1380.1,909.8L1384.1,909.8L1388.1,909.9L1392.1,909.9L1396.1,909.9L1400.1,910L1404.1,910L1408.1,910L1412.2,910.1L1416.2,910.1L1420.2,910.1L1424.2,910.2L1428.2,910.2L1432.2,910.2L1436.2,910.2L1440.2,910.3L1444.2,910.3L1448.2,910.3L1452.2,910.4L1456.2,910.4L1460.2,910.4L1464.2,910.5L1468.2,910.5L1472.2,910.5L1476.2,910.6L1480.3,910.6L1484.3,910.6L1488.3,910.7L1492.3,910.7L1496.3,910.7L1500.3,910.8L1504.3,910.8L1508.3,910.8L1512.3,910.9L1516.3,910.9L1520.3,910.9L1524.3,911L1528.3,911L1532.3,911L1536.3,911.1L1540.3,911.1L1544.3,911.1L1548.4,911.2L1552.4,911.2L1556.4,911.2L1560.4,911.3L1564.4,911.3L1568.4,911.3L1572.4,911.4L1576.4,911.4L1580.4,911.4L1584.4,911.5L1588.4,911.5L1592.4,911.5L1596.4,911.6L1600.4,911.6L1604.4,911.6L1608.4,911.7L1612.5,911.7L1616.5,911.7L1620.5,911.8L1624.5,911.8L1628.5,911.8L1632.5,911.9L1636.5,911.9L1640.5,911.9L1644.5,912L1648.5,912L1652.5,912L1656.5,912.1L1660.5,912.1L1664.5,912.1L1668.5,912.2L1672.5,912.2L1676.5,912.2L1680.6,912.3L1684.6,912.3L1688.6,912.3L1692.6,912.3L1696.6,912.4L1700.6,912.4L1704.6,912.4L1708.6,912.5L1712.6,912.5L1716.6,912.5L1720.6,912.6L1724.6,912.6L1728.6,912.6L1732.6,912.7L1736.6,912.7L1740.6,912.7L1744.6,912.8L1748.7,912.8L1752.7,912.8L1756.7,912.9L1760.7,912.9L1764.7,912.9L1768.7,913L1772.7,913L1776.7,913L1780.7,913.1L1784.7,913.1L1788.7,913.1L1792.7,913.2L1796.7,913.2L1800.7,913.2L1804.7,913.3L1808.7,913.3L1812.7,913.3L1816.8,913.4L1820.8,913.4L1824.8,913.4L1828.8,913.5L1832.8,913.5L1836.8,913.5L1840.8,913.6L1844.8,913.6L1848.8,913.6L1852.8,913.7L1856.8,913.7L1860.8,913.7L1864.8,913.8L1868.8,913.8L1872.8,913.8L1876.8,913.9L1880.8,913.9L1884.9,913.9L1888.9,914L1892.9,914L1896.9,914L1900.9,914.1L1904.9,914.1L1908.9,914.1L1912.9,914.2L1916.9,914.2L1920.9,914.2L1924.9,914.3L1928.9,914.3L1932.9,914.3L1936.9,914.4L1940.9,914.4L1944.9,914.4L1948.9,914.4L1953,914.5L1957,914.5L1961,914.5L1965,914.6L1969,914.6L1973,914.6L1977,914.7L1981,914.7L1985,914.7L1989,914.8L1993,914.8L1997,914.8L2001,914.9L2005,914.9L2009,914.9L2013,915L2017,915L2021.1,915L2025.1,915.1L2029.1,915.1L2033.1,915.1L2037.1,915.2L2041.1,915.2L2045.1,915.2L2049.1,915.3L2053.1,915.3L2057.1,915.3L2061.1,915.4L2065.1,915.4L2069.1,915.4L2073.1,915.5L2077.1,915.5L2081.1,915.5L2085.2,915.6L2089.2,915.6L2093.2,915.6L2097.2,915.7L2101.2,915.7L2105.2,915.7L2109.2,915.8L2113.2,915.8L2117.2,915.8L2121.2,915.9L2125.2,915.9L2129.2,915.9L2133.2,916L2137.2,916L2141.2,916L2145.2,916.1L2149.2,916.1L2153.3,916.1L2157.3,916.2L2161.3,916.2L2165.3,916.2L2169.3,916.3L2173.3,916.3L2177.3,916.3L2181.3,916.4L2185.3,916.4L2189.3,916.4L2193.3,916.5L2197.3,916.5L2201.3,916.5L2205.3,916.5L2209.3,916.6L2213.3,916.6L2217.3,916.6L2221.4,916.7L2225.4,916.7L2229.4,916.7L2233.4,916.8L2237.4,916.8L2241.4,916.8L2245.4,916.9L2249.4,916.9L2253.4,916.9L2257.4,917L2261.4,917L2265.4,917L2269.4,917.1L2273.4,917.1L2277.4,917.1L2281.4,917.2L2285.4,917.2L2289.5,917.2L2293.5,917.3L2297.5,917.3L2301.5,917.3L2305.5,917.4L2309.5,917.4L2313.5,917.4L2317.5,917.5L2321.5,917.5" fill="none" stroke="#606060" stroke-width="3"/>
<path d="M1308,906.7L2321.5,915" fill="none" stroke="#fe3b3b" stroke-width="6.5"/>
<rect x="1337.2" y="899.6" width="11" height="10" fill="#c4c4c4" stroke="#7c7c7c" stroke-width="1.6"/>
<rect x="1388.5" y="902.9" width="11" height="10" fill="#c4c4c4" stroke="#7c7c7c" stroke-width="1.6"/>
<rect x="1439.8" y="904.7" width="11" height="10" fill="#c4c4c4" stroke="#7c7c7c" stroke-width="1.6"/>
<rect x="1491.1" y="902.9" width="11" height="10" fill="#c4c4c4" stroke="#7c7c7c" stroke-width="1.6"/>
<rect x="1542.4" y="904.5" width="11" height="10" fill="#c4c4c4" stroke="#7c7c7c" stroke-width="1.6"/>
<rect x="1593.7" y="903.9" width="11" height="10" fill="#c4c4c4" stroke="#7c7c7c" stroke-width="1.6"/>
<rect x="1645" y="898.7" width="11" height="10" fill="#c4c4c4" stroke="#7c7c7c" stroke-width="1.6"/>
<rect x="1696.3" y="898.3" width="11" height="10" fill="#c4c4c4" stroke="#7c7c7c" stroke-width="1.6"/>
<rect x="1747.6" y="890.2" width="11" height="10" fill="#c4c4c4" stroke="#7c7c7c" stroke-width="1.6"/>
<rect x="1798.9" y="882.4" width="11" height="10" fill="#c4c4c4" stroke="#7c7c7c" stroke-width="1.6"/>
<rect x="1850.2" y="870.8" width="11" height="10" fill="#c4c4c4" stroke="#7c7c7c" stroke-width="1.6"/>
<rect x="1901.5" y="836.5" width="11" height="10" fill="#c4c4c4" stroke="#7c7c7c" stroke-width="1.6"/>
<rect x="1952.8" y="765" width="11" height="10" fill="#c4c4c4" stroke="#7c7c7c" stroke-width="1.6"/>
<rect x="2004.1" y="723.9" width="11" height="10" fill="#c4c4c4" stroke="#7c7c7c" stroke-width="1.6"/>
<rect x="2055.4" y="777.9" width="11" height="10" fill="#c4c4c4" stroke="#7c7c7c" stroke-width="1.6"/>
<rect x="2106.7" y="855.8" width="11" height="10" fill="#c4c4c4" stroke="#7c7c7c" stroke-width="1.6"/>
<rect x="2158" y="897.4" width="11" height="10" fill="#c4c4c4" stroke="#7c7c7c" stroke-width="1.6"/>
<rect x="2209.3" y="904.7" width="11" height="10" fill="#c4c4c4" stroke="#7c7c7c" stroke-width="1.6"/>
<rect x="2260.6" y="909.7" width="11" height="10" fill="#c4c4c4" stroke="#7c7c7c" stroke-width="1.6"/>
<rect x="2311.9" y="908.5" width="11" height="10" fill="#c4c4c4" stroke="#7c7c7c" stroke-width="1.6"/>
<path d="M1308,906.5L1317.1,905.2L1342.7,907L1368.4,906.3L1394,907.6L1419.7,907.9L1445.3,905.3L1471,905.2L1496.6,909.5L1522.3,906.7L1547.9,906.7L1573.6,910.5L1599.2,907.7L1624.9,909L1650.5,906.2L1676.2,904.9L1680.6,903.9L1684.6,903.5L1688.6,903.1L1692.6,902.6L1696.6,902.2L1700.6,901.7L1704.6,901.2L1708.6,900.7L1712.6,900.2L1716.6,899.7L1720.6,899.1L1724.6,898.6L1728.6,898L1732.6,897.5L1736.6,896.9L1740.6,896.3L1744.6,895.8L1748.7,895.2L1752.7,894.7L1756.7,894.1L1760.7,893.6L1764.7,893.1L1768.7,892.6L1772.7,892.1L1776.7,891.6L1780.7,891.2L1784.7,890.7L1788.7,890.3L1792.7,889.9L1796.7,889.5L1800.7,889.1L1804.7,888.6L1808.7,888.2L1812.7,887.8L1816.8,887.3L1820.8,886.8L1824.8,886.2L1828.8,885.6L1832.8,884.9L1836.8,884.2L1840.8,883.3L1844.8,882.4L1848.8,881.3L1852.8,880L1856.8,878.6L1860.8,877L1864.8,875.2L1868.8,873.3L1872.8,871L1876.8,868.6L1880.8,865.9L1884.9,862.9L1888.9,859.7L1892.9,856.2L1896.9,852.4L1900.9,848.3L1904.9,843.9L1908.9,839.3L1912.9,834.4L1916.9,829.2L1920.9,823.8L1924.9,818.2L1928.9,812.5L1932.9,806.5L1936.9,800.5L1940.9,794.4L1944.9,788.3L1948.9,782.1L1953,776.1L1957,770.1L1961,764.4L1965,758.8L1969,753.6L1973,748.6L1977,744.1L1981,740L1985,736.5L1989,733.4L1993,731L1997,729.1L2001,727.9L2005,727.4L2009,727.5L2013,728.4L2017,729.9L2021.1,732L2025.1,734.7L2029.1,738.1L2033.1,742L2037.1,746.4L2041.1,751.3L2045.1,756.5L2049.1,762.2L2053.1,768.1L2057.1,774.2L2061.1,780.6L2065.1,787.1L2069.1,793.6L2073.1,800.2L2077.1,806.8L2081.1,813.3L2085.2,819.8L2089.2,826.1L2093.2,832.2L2097.2,838.1L2101.2,843.9L2105.2,849.3L2109.2,854.6L2113.2,859.5L2117.2,864.2L2121.2,868.6L2125.2,872.8L2129.2,876.6L2133.2,880.2L2137.2,883.5L2141.2,886.5L2145.2,889.3L2149.2,891.8L2153.3,894.2L2157.3,896.3L2161.3,898.2L2165.3,899.9L2169.3,901.4L2173.3,902.8L2177.3,904L2181.3,905.1L2185.3,906.1L2189.3,906.9L2193.3,907.7L2197.3,908.3L2201.3,908.9L2205.3,909.5L2209.3,909.9L2213.3,910.3L2217.3,910.7L2221.4,911L2225.4,911.3L2229.4,911.5L2233.4,911.7L2237.4,911.9L2241.4,912.1L2245.4,912.3L2249.4,912.4L2253.4,912.5L2257.4,912.7L2261.4,912.8L2265.4,912.9L2269.4,913L2273.4,913.1L2277.4,913.1L2281.4,913.2L2285.4,913.3L2289.5,913.4L2293.5,913.5L2297.5,913.5L2301.5,913.6L2305.5,913.7L2309.5,913.7L2313.5,913.8L2317.5,913.8L2321.5,913.9" fill="none" stroke="#fe3b3b" stroke-width="7" stroke-linejoin="round" stroke-linecap="round"/>
<path d="M1308,1129.8L1312,1129.8L1316,1129.8L1320,1129.8L1324,1129.9L1328,1129.9L1332,1129.9L1336,1129.9L1340,1129.9L1344.1,1129.9L1348.1,1130L1352.1,1130L1356.1,1130L1360.1,1130L1364.1,1130L1368.1,1130L1372.1,1130.1L1376.1,1130.1L1380.1,1130.1L1384.1,1130.1L1388.1,1130.1L1392.1,1130.2L1396.1,1130.2L1400.1,1130.2L1404.1,1130.2L1408.1,1130.2L1412.2,1130.2L1416.2,1130.3L1420.2,1130.3L1424.2,1130.3L1428.2,1130.3L1432.2,1130.3L1436.2,1130.3L1440.2,1130.4L1444.2,1130.4L1448.2,1130.4L1452.2,1130.4L1456.2,1130.4L1460.2,1130.4L1464.2,1130.4L1468.2,1130.5L1472.2,1130.5L1476.2,1130.5L1480.3,1130.5L1484.3,1130.5L1488.3,1130.5L1492.3,1130.5L1496.3,1130.6L1500.3,1130.6L1504.3,1130.6L1508.3,1130.6L1512.3,1130.6L1516.3,1130.6L1520.3,1130.6L1524.3,1130.6L1528.3,1130.6L1532.3,1130.6L1536.3,1130.6L1540.3,1130.6L1544.3,1130.6L1548.4,1130.6L1552.4,1130.6L1556.4,1130.6L1560.4,1130.6L1564.4,1130.6L1568.4,1130.6L1572.4,1130.6L1576.4,1130.5L1580.4,1130.5L1584.4,1130.5L1588.4,1130.4L1592.4,1130.4L1596.4,1130.3L1600.4,1130.3L1604.4,1130.2L1608.4,1130.1L1612.5,1130L1616.5,1129.9L1620.5,1129.8L1624.5,1129.7L1628.5,1129.5L1632.5,1129.4L1636.5,1129.2L1640.5,1129L1644.5,1128.8L1648.5,1128.5L1652.5,1128.3L1656.5,1128L1660.5,1127.7L1664.5,1127.4L1668.5,1127.1L1672.5,1126.8L1676.5,1126.4L1680.6,1126L1684.6,1125.6L1688.6,1125.1L1692.6,1124.7L1696.6,1124.2L1700.6,1123.7L1704.6,1123.2L1708.6,1122.7L1712.6,1122.1L1716.6,1121.5L1720.6,1121L1724.6,1120.4L1728.6,1119.8L1732.6,1119.1L1736.6,1118.5L1740.6,1117.9L1744.6,1117.2L1748.7,1116.5L1752.7,1115.9L1756.7,1115.2L1760.7,1114.5L1764.7,1113.8L1768.7,1113.1L1772.7,1112.4L1776.7,1111.6L1780.7,1110.8L1784.7,1110L1788.7,1109.2L1792.7,1108.3L1796.7,1107.3L1800.7,1106.4L1804.7,1105.3L1808.7,1104.2L1812.7,1102.9L1816.8,1101.6L1820.8,1100.2L1824.8,1098.6L1828.8,1097L1832.8,1095.1L1836.8,1093.1L1840.8,1091L1844.8,1088.7L1848.8,1086.1L1852.8,1083.4L1856.8,1080.5L1860.8,1077.4L1864.8,1074.1L1868.8,1070.6L1872.8,1066.8L1876.8,1062.9L1880.8,1058.8L1884.9,1054.6L1888.9,1050.1L1892.9,1045.6L1896.9,1040.9L1900.9,1036.1L1904.9,1031.3L1908.9,1026.4L1912.9,1021.6L1916.9,1016.8L1920.9,1012.1L1924.9,1007.5L1928.9,1003L1932.9,998.8L1936.9,994.9L1940.9,991.2L1944.9,987.9L1948.9,984.9L1953,982.4L1957,980.3L1961,978.8L1965,977.7L1969,977.1L1973,977.1L1977,977.6L1981,978.7L1985,980.3L1989,982.4L1993,984.9L1997,988L2001,991.4L2005,995.3L2009,999.5L2013,1004L2017,1008.8L2021.1,1013.8L2025.1,1019L2029.1,1024.3L2033.1,1029.7L2037.1,1035.1L2041.1,1040.6L2045.1,1046L2049.1,1051.4L2053.1,1056.7L2057.1,1061.9L2061.1,1066.9L2065.1,1071.8L2069.1,1076.5L2073.1,1081L2077.1,1085.3L2081.1,1089.4L2085.2,1093.2L2089.2,1096.8L2093.2,1100.2L2097.2,1103.4L2101.2,1106.3L2105.2,1109L2109.2,1111.5L2113.2,1113.8L2117.2,1115.9L2121.2,1117.9L2125.2,1119.6L2129.2,1121.2L2133.2,1122.6L2137.2,1123.9L2141.2,1125L2145.2,1126L2149.2,1126.9L2153.3,1127.7L2157.3,1128.5L2161.3,1129.1L2165.3,1129.7L2169.3,1130.2L2173.3,1130.6L2177.3,1131L2181.3,1131.3L2185.3,1131.6L2189.3,1131.9L2193.3,1132.1L2197.3,1132.3L2201.3,1132.5L2205.3,1132.7L2209.3,1132.8L2213.3,1132.9L2217.3,1133L2221.4,1133.1L2225.4,1133.2L2229.4,1133.3L2233.4,1133.4L2237.4,1133.5L2241.4,1133.6L2245.4,1133.6L2249.4,1133.7L2253.4,1133.8L2257.4,1133.8L2261.4,1133.9L2265.4,1133.9L2269.4,1134L2273.4,1134L2277.4,1134.1L2281.4,1134.1L2285.4,1134.2L2289.5,1134.2L2293.5,1134.2L2297.5,1134.3L2301.5,1134.3L2305.5,1134.4L2309.5,1134.4L2313.5,1134.5L2317.5,1134.5L2321.5,1134.5L2321.5,1135.3L2317.5,1135.3L2313.5,1135.3L2309.5,1135.2L2305.5,1135.2L2301.5,1135.2L2297.5,1135.2L2293.5,1135.2L2289.5,1135.1L2285.4,1135.1L2281.4,1135.1L2277.4,1135.1L2273.4,1135L2269.4,1135L2265.4,1135L2261.4,1135L2257.4,1135L2253.4,1134.9L2249.4,1134.9L2245.4,1134.9L2241.4,1134.9L2237.4,1134.9L2233.4,1134.8L2229.4,1134.8L2225.4,1134.8L2221.4,1134.8L2217.3,1134.8L2213.3,1134.7L2209.3,1134.7L2205.3,1134.7L2201.3,1134.7L2197.3,1134.7L2193.3,1134.6L2189.3,1134.6L2185.3,1134.6L2181.3,1134.6L2177.3,1134.5L2173.3,1134.5L2169.3,1134.5L2165.3,1134.5L2161.3,1134.5L2157.3,1134.4L2153.3,1134.4L2149.2,1134.4L2145.2,1134.4L2141.2,1134.4L2137.2,1134.3L2133.2,1134.3L2129.2,1134.3L2125.2,1134.3L2121.2,1134.3L2117.2,1134.2L2113.2,1134.2L2109.2,1134.2L2105.2,1134.2L2101.2,1134.1L2097.2,1134.1L2093.2,1134.1L2089.2,1134.1L2085.2,1134.1L2081.1,1134L2077.1,1134L2073.1,1134L2069.1,1134L2065.1,1134L2061.1,1133.9L2057.1,1133.9L2053.1,1133.9L2049.1,1133.9L2045.1,1133.9L2041.1,1133.8L2037.1,1133.8L2033.1,1133.8L2029.1,1133.8L2025.1,1133.7L2021.1,1133.7L2017,1133.7L2013,1133.7L2009,1133.7L2005,1133.6L2001,1133.6L1997,1133.6L1993,1133.6L1989,1133.6L1985,1133.5L1981,1133.5L1977,1133.5L1973,1133.5L1969,1133.5L1965,1133.4L1961,1133.4L1957,1133.4L1953,1133.4L1948.9,1133.4L1944.9,1133.3L1940.9,1133.3L1936.9,1133.3L1932.9,1133.3L1928.9,1133.2L1924.9,1133.2L1920.9,1133.2L1916.9,1133.2L1912.9,1133.2L1908.9,1133.1L1904.9,1133.1L1900.9,1133.1L1896.9,1133.1L1892.9,1133.1L1888.9,1133L1884.9,1133L1880.8,1133L1876.8,1133L1872.8,1133L1868.8,1132.9L1864.8,1132.9L1860.8,1132.9L1856.8,1132.9L1852.8,1132.8L1848.8,1132.8L1844.8,1132.8L1840.8,1132.8L1836.8,1132.8L1832.8,1132.7L1828.8,1132.7L1824.8,1132.7L1820.8,1132.7L1816.8,1132.7L1812.7,1132.6L1808.7,1132.6L1804.7,1132.6L1800.7,1132.6L1796.7,1132.6L1792.7,1132.5L1788.7,1132.5L1784.7,1132.5L1780.7,1132.5L1776.7,1132.5L1772.7,1132.4L1768.7,1132.4L1764.7,1132.4L1760.7,1132.4L1756.7,1132.3L1752.7,1132.3L1748.7,1132.3L1744.6,1132.3L1740.6,1132.3L1736.6,1132.2L1732.6,1132.2L1728.6,1132.2L1724.6,1132.2L1720.6,1132.2L1716.6,1132.1L1712.6,1132.1L1708.6,1132.1L1704.6,1132.1L1700.6,1132.1L1696.6,1132L1692.6,1132L1688.6,1132L1684.6,1132L1680.6,1131.9L1676.5,1131.9L1672.5,1131.9L1668.5,1131.9L1664.5,1131.9L1660.5,1131.8L1656.5,1131.8L1652.5,1131.8L1648.5,1131.8L1644.5,1131.8L1640.5,1131.7L1636.5,1131.7L1632.5,1131.7L1628.5,1131.7L1624.5,1131.7L1620.5,1131.6L1616.5,1131.6L1612.5,1131.6L1608.4,1131.6L1604.4,1131.6L1600.4,1131.5L1596.4,1131.5L1592.4,1131.5L1588.4,1131.5L1584.4,1131.4L1580.4,1131.4L1576.4,1131.4L1572.4,1131.4L1568.4,1131.4L1564.4,1131.3L1560.4,1131.3L1556.4,1131.3L1552.4,1131.3L1548.4,1131.3L1544.3,1131.2L1540.3,1131.2L1536.3,1131.2L1532.3,1131.2L1528.3,1131.2L1524.3,1131.1L1520.3,1131.1L1516.3,1131.1L1512.3,1131.1L1508.3,1131L1504.3,1131L1500.3,1131L1496.3,1131L1492.3,1131L1488.3,1130.9L1484.3,1130.9L1480.3,1130.9L1476.2,1130.9L1472.2,1130.9L1468.2,1130.8L1464.2,1130.8L1460.2,1130.8L1456.2,1130.8L1452.2,1130.8L1448.2,1130.7L1444.2,1130.7L1440.2,1130.7L1436.2,1130.7L1432.2,1130.6L1428.2,1130.6L1424.2,1130.6L1420.2,1130.6L1416.2,1130.6L1412.2,1130.5L1408.1,1130.5L1404.1,1130.5L1400.1,1130.5L1396.1,1130.5L1392.1,1130.4L1388.1,1130.4L1384.1,1130.4L1380.1,1130.4L1376.1,1130.4L1372.1,1130.3L1368.1,1130.3L1364.1,1130.3L1360.1,1130.3L1356.1,1130.3L1352.1,1130.2L1348.1,1130.2L1344.1,1130.2L1340,1130.2L1336,1130.1L1332,1130.1L1328,1130.1L1324,1130.1L1320,1130.1L1316,1130L1312,1130L1308,1130 Z" fill="url(#g10)"/>
<path d="M1308,1132.5L1312,1132.5L1316,1132.5L1320,1132.6L1324,1132.6L1328,1132.6L1332,1132.6L1336,1132.6L1340,1132.7L1344.1,1132.7L1348.1,1132.7L1352.1,1132.7L1356.1,1132.8L1360.1,1132.8L1364.1,1132.8L1368.1,1132.8L1372.1,1132.8L1376.1,1132.9L1380.1,1132.9L1384.1,1132.9L1388.1,1132.9L1392.1,1132.9L1396.1,1133L1400.1,1133L1404.1,1133L1408.1,1133L1412.2,1133L1416.2,1133.1L1420.2,1133.1L1424.2,1133.1L1428.2,1133.1L1432.2,1133.1L1436.2,1133.2L1440.2,1133.2L1444.2,1133.2L1448.2,1133.2L1452.2,1133.3L1456.2,1133.3L1460.2,1133.3L1464.2,1133.3L1468.2,1133.3L1472.2,1133.4L1476.2,1133.4L1480.3,1133.4L1484.3,1133.4L1488.3,1133.4L1492.3,1133.5L1496.3,1133.5L1500.3,1133.5L1504.3,1133.5L1508.3,1133.5L1512.3,1133.6L1516.3,1133.6L1520.3,1133.6L1524.3,1133.6L1528.3,1133.7L1532.3,1133.7L1536.3,1133.7L1540.3,1133.7L1544.3,1133.7L1548.4,1133.8L1552.4,1133.8L1556.4,1133.8L1560.4,1133.8L1564.4,1133.8L1568.4,1133.9L1572.4,1133.9L1576.4,1133.9L1580.4,1133.9L1584.4,1133.9L1588.4,1134L1592.4,1134L1596.4,1134L1600.4,1134L1604.4,1134.1L1608.4,1134.1L1612.5,1134.1L1616.5,1134.1L1620.5,1134.1L1624.5,1134.2L1628.5,1134.2L1632.5,1134.2L1636.5,1134.2L1640.5,1134.2L1644.5,1134.3L1648.5,1134.3L1652.5,1134.3L1656.5,1134.3L1660.5,1134.3L1664.5,1134.4L1668.5,1134.4L1672.5,1134.4L1676.5,1134.4L1680.6,1134.4L1684.6,1134.5L1688.6,1134.5L1692.6,1134.5L1696.6,1134.5L1700.6,1134.6L1704.6,1134.6L1708.6,1134.6L1712.6,1134.6L1716.6,1134.6L1720.6,1134.7L1724.6,1134.7L1728.6,1134.7L1732.6,1134.7L1736.6,1134.7L1740.6,1134.8L1744.6,1134.8L1748.7,1134.8L1752.7,1134.8L1756.7,1134.8L1760.7,1134.9L1764.7,1134.9L1768.7,1134.9L1772.7,1134.9L1776.7,1135L1780.7,1135L1784.7,1135L1788.7,1135L1792.7,1135L1796.7,1135.1L1800.7,1135.1L1804.7,1135.1L1808.7,1135.1L1812.7,1135.1L1816.8,1135.2L1820.8,1135.2L1824.8,1135.2L1828.8,1135.2L1832.8,1135.2L1836.8,1135.3L1840.8,1135.3L1844.8,1135.3L1848.8,1135.3L1852.8,1135.3L1856.8,1135.4L1860.8,1135.4L1864.8,1135.4L1868.8,1135.4L1872.8,1135.5L1876.8,1135.5L1880.8,1135.5L1884.9,1135.5L1888.9,1135.5L1892.9,1135.6L1896.9,1135.6L1900.9,1135.6L1904.9,1135.6L1908.9,1135.6L1912.9,1135.7L1916.9,1135.7L1920.9,1135.7L1924.9,1135.7L1928.9,1135.7L1932.9,1135.8L1936.9,1135.8L1940.9,1135.8L1944.9,1135.8L1948.9,1135.9L1953,1135.9L1957,1135.9L1961,1135.9L1965,1135.9L1969,1136L1973,1136L1977,1136L1981,1136L1985,1136L1989,1136.1L1993,1136.1L1997,1136.1L2001,1136.1L2005,1136.1L2009,1136.2L2013,1136.2L2017,1136.2L2021.1,1136.2L2025.1,1136.2L2029.1,1136.3L2033.1,1136.3L2037.1,1136.3L2041.1,1136.3L2045.1,1136.4L2049.1,1136.4L2053.1,1136.4L2057.1,1136.4L2061.1,1136.4L2065.1,1136.5L2069.1,1136.5L2073.1,1136.5L2077.1,1136.5L2081.1,1136.5L2085.2,1136.6L2089.2,1136.6L2093.2,1136.6L2097.2,1136.6L2101.2,1136.6L2105.2,1136.7L2109.2,1136.7L2113.2,1136.7L2117.2,1136.7L2121.2,1136.8L2125.2,1136.8L2129.2,1136.8L2133.2,1136.8L2137.2,1136.8L2141.2,1136.9L2145.2,1136.9L2149.2,1136.9L2153.3,1136.9L2157.3,1136.9L2161.3,1137L2165.3,1137L2169.3,1137L2173.3,1137L2177.3,1137L2181.3,1137.1L2185.3,1137.1L2189.3,1137.1L2193.3,1137.1L2197.3,1137.2L2201.3,1137.2L2205.3,1137.2L2209.3,1137.2L2213.3,1137.2L2217.3,1137.3L2221.4,1137.3L2225.4,1137.3L2229.4,1137.3L2233.4,1137.3L2237.4,1137.4L2241.4,1137.4L2245.4,1137.4L2249.4,1137.4L2253.4,1137.4L2257.4,1137.5L2261.4,1137.5L2265.4,1137.5L2269.4,1137.5L2273.4,1137.5L2277.4,1137.6L2281.4,1137.6L2285.4,1137.6L2289.5,1137.6L2293.5,1137.7L2297.5,1137.7L2301.5,1137.7L2305.5,1137.7L2309.5,1137.7L2313.5,1137.8L2317.5,1137.8L2321.5,1137.8" fill="none" stroke="#606060" stroke-width="3"/>
<path d="M1308,1130L2321.5,1135.3" fill="none" stroke="#fe3b3b" stroke-width="6.5"/>
<rect x="1337.2" y="1127.5" width="11" height="10" fill="#c4c4c4" stroke="#7c7c7c" stroke-width="1.6"/>
<rect x="1388.5" y="1127.1" width="11" height="10" fill="#c4c4c4" stroke="#7c7c7c" stroke-width="1.6"/>
<rect x="1439.8" y="1127.2" width="11" height="10" fill="#c4c4c4" stroke="#7c7c7c" stroke-width="1.6"/>
<rect x="1491.1" y="1127.4" width="11" height="10" fill="#c4c4c4" stroke="#7c7c7c" stroke-width="1.6"/>
<rect x="1542.4" y="1123.8" width="11" height="10" fill="#c4c4c4" stroke="#7c7c7c" stroke-width="1.6"/>
<rect x="1593.7" y="1124.1" width="11" height="10" fill="#c4c4c4" stroke="#7c7c7c" stroke-width="1.6"/>
<rect x="1645" y="1124.3" width="11" height="10" fill="#c4c4c4" stroke="#7c7c7c" stroke-width="1.6"/>
<rect x="1696.3" y="1120.1" width="11" height="10" fill="#c4c4c4" stroke="#7c7c7c" stroke-width="1.6"/>
<rect x="1747.6" y="1113" width="11" height="10" fill="#c4c4c4" stroke="#7c7c7c" stroke-width="1.6"/>
<rect x="1798.9" y="1102.6" width="11" height="10" fill="#c4c4c4" stroke="#7c7c7c" stroke-width="1.6"/>
<rect x="1850.2" y="1073" width="11" height="10" fill="#c4c4c4" stroke="#7c7c7c" stroke-width="1.6"/>
<rect x="1901.5" y="1022.1" width="11" height="10" fill="#c4c4c4" stroke="#7c7c7c" stroke-width="1.6"/>
<rect x="1952.8" y="976.4" width="11" height="10" fill="#c4c4c4" stroke="#7c7c7c" stroke-width="1.6"/>
<rect x="2004.1" y="994.5" width="11" height="10" fill="#c4c4c4" stroke="#7c7c7c" stroke-width="1.6"/>
<rect x="2055.4" y="1060" width="11" height="10" fill="#c4c4c4" stroke="#7c7c7c" stroke-width="1.6"/>
<rect x="2106.7" y="1108.7" width="11" height="10" fill="#c4c4c4" stroke="#7c7c7c" stroke-width="1.6"/>
<rect x="2158" y="1122.2" width="11" height="10" fill="#c4c4c4" stroke="#7c7c7c" stroke-width="1.6"/>
<rect x="2209.3" y="1130.5" width="11" height="10" fill="#c4c4c4" stroke="#7c7c7c" stroke-width="1.6"/>
<rect x="2260.6" y="1131.1" width="11" height="10" fill="#c4c4c4" stroke="#7c7c7c" stroke-width="1.6"/>
<rect x="2311.9" y="1129.8" width="11" height="10" fill="#c4c4c4" stroke="#7c7c7c" stroke-width="1.6"/>
<path d="M1308,1129.8L1317.1,1128.5L1342.7,1128L1368.4,1129.5L1394,1128.4L1419.7,1128.1L1445.3,1129.9L1471,1132.6L1496.6,1132.1L1522.3,1131.9L1547.9,1129.3L1573.6,1130.8L1599.2,1129.2L1624.9,1128L1650.5,1126.6L1676.2,1125L1680.6,1126L1684.6,1125.6L1688.6,1125.1L1692.6,1124.7L1696.6,1124.2L1700.6,1123.7L1704.6,1123.2L1708.6,1122.7L1712.6,1122.1L1716.6,1121.5L1720.6,1121L1724.6,1120.4L1728.6,1119.8L1732.6,1119.1L1736.6,1118.5L1740.6,1117.9L1744.6,1117.2L1748.7,1116.5L1752.7,1115.9L1756.7,1115.2L1760.7,1114.5L1764.7,1113.8L1768.7,1113.1L1772.7,1112.4L1776.7,1111.6L1780.7,1110.8L1784.7,1110L1788.7,1109.2L1792.7,1108.3L1796.7,1107.3L1800.7,1106.4L1804.7,1105.3L1808.7,1104.2L1812.7,1102.9L1816.8,1101.6L1820.8,1100.2L1824.8,1098.6L1828.8,1097L1832.8,1095.1L1836.8,1093.1L1840.8,1091L1844.8,1088.7L1848.8,1086.1L1852.8,1083.4L1856.8,1080.5L1860.8,1077.4L1864.8,1074.1L1868.8,1070.6L1872.8,1066.8L1876.8,1062.9L1880.8,1058.8L1884.9,1054.6L1888.9,1050.1L1892.9,1045.6L1896.9,1040.9L1900.9,1036.1L1904.9,1031.3L1908.9,1026.4L1912.9,1021.6L1916.9,1016.8L1920.9,1012.1L1924.9,1007.5L1928.9,1003L1932.9,998.8L1936.9,994.9L1940.9,991.2L1944.9,987.9L1948.9,984.9L1953,982.4L1957,980.3L1961,978.8L1965,977.7L1969,977.1L1973,977.1L1977,977.6L1981,978.7L1985,980.3L1989,982.4L1993,984.9L1997,988L2001,991.4L2005,995.3L2009,999.5L2013,1004L2017,1008.8L2021.1,1013.8L2025.1,1019L2029.1,1024.3L2033.1,1029.7L2037.1,1035.1L2041.1,1040.6L2045.1,1046L2049.1,1051.4L2053.1,1056.7L2057.1,1061.9L2061.1,1066.9L2065.1,1071.8L2069.1,1076.5L2073.1,1081L2077.1,1085.3L2081.1,1089.4L2085.2,1093.2L2089.2,1096.8L2093.2,1100.2L2097.2,1103.4L2101.2,1106.3L2105.2,1109L2109.2,1111.5L2113.2,1113.8L2117.2,1115.9L2121.2,1117.9L2125.2,1119.6L2129.2,1121.2L2133.2,1122.6L2137.2,1123.9L2141.2,1125L2145.2,1126L2149.2,1126.9L2153.3,1127.7L2157.3,1128.5L2161.3,1129.1L2165.3,1129.7L2169.3,1130.2L2173.3,1130.6L2177.3,1131L2181.3,1131.3L2185.3,1131.6L2189.3,1131.9L2193.3,1132.1L2197.3,1132.3L2201.3,1132.5L2205.3,1132.7L2209.3,1132.8L2213.3,1132.9L2217.3,1133L2221.4,1133.1L2225.4,1133.2L2229.4,1133.3L2233.4,1133.4L2237.4,1133.5L2241.4,1133.6L2245.4,1133.6L2249.4,1133.7L2253.4,1133.8L2257.4,1133.8L2261.4,1133.9L2265.4,1133.9L2269.4,1134L2273.4,1134L2277.4,1134.1L2281.4,1134.1L2285.4,1134.2L2289.5,1134.2L2293.5,1134.2L2297.5,1134.3L2301.5,1134.3L2305.5,1134.4L2309.5,1134.4L2313.5,1134.5L2317.5,1134.5L2321.5,1134.5" fill="none" stroke="#fe3b3b" stroke-width="7" stroke-linejoin="round" stroke-linecap="round"/>
<path d="M1308,1326.5L1312,1326.5L1316,1326.5L1320,1326.5L1324,1326.5L1328,1326.6L1332,1326.6L1336,1326.6L1340,1326.6L1344.1,1326.7L1348.1,1326.7L1352.1,1326.7L1356.1,1326.7L1360.1,1326.7L1364.1,1326.8L1368.1,1326.8L1372.1,1326.8L1376.1,1326.8L1380.1,1326.9L1384.1,1326.9L1388.1,1326.9L1392.1,1326.9L1396.1,1326.9L1400.1,1327L1404.1,1327L1408.1,1327L1412.2,1327L1416.2,1327L1420.2,1327.1L1424.2,1327.1L1428.2,1327.1L1432.2,1327.1L1436.2,1327.1L1440.2,1327.2L1444.2,1327.2L1448.2,1327.2L1452.2,1327.2L1456.2,1327.2L1460.2,1327.3L1464.2,1327.3L1468.2,1327.3L1472.2,1327.3L1476.2,1327.3L1480.3,1327.3L1484.3,1327.3L1488.3,1327.4L1492.3,1327.4L1496.3,1327.4L1500.3,1327.4L1504.3,1327.4L1508.3,1327.4L1512.3,1327.4L1516.3,1327.4L1520.3,1327.4L1524.3,1327.4L1528.3,1327.4L1532.3,1327.4L1536.3,1327.4L1540.3,1327.4L1544.3,1327.3L1548.4,1327.3L1552.4,1327.3L1556.4,1327.2L1560.4,1327.2L1564.4,1327.1L1568.4,1327.1L1572.4,1327L1576.4,1326.9L1580.4,1326.8L1584.4,1326.7L1588.4,1326.6L1592.4,1326.5L1596.4,1326.3L1600.4,1326.2L1604.4,1326L1608.4,1325.8L1612.5,1325.6L1616.5,1325.3L1620.5,1325.1L1624.5,1324.8L1628.5,1324.5L1632.5,1324.1L1636.5,1323.8L1640.5,1323.4L1644.5,1323L1648.5,1322.6L1652.5,1322.1L1656.5,1321.6L1660.5,1321.1L1664.5,1320.6L1668.5,1320L1672.5,1319.4L1676.5,1318.8L1680.6,1318.2L1684.6,1317.5L1688.6,1316.8L1692.6,1316.1L1696.6,1315.4L1700.6,1314.6L1704.6,1313.9L1708.6,1313.1L1712.6,1312.3L1716.6,1311.5L1720.6,1310.7L1724.6,1309.9L1728.6,1309.1L1732.6,1308.3L1736.6,1307.5L1740.6,1306.7L1744.6,1305.9L1748.7,1305.1L1752.7,1304.3L1756.7,1303.5L1760.7,1302.7L1764.7,1301.9L1768.7,1301.1L1772.7,1300.3L1776.7,1299.4L1780.7,1298.6L1784.7,1297.7L1788.7,1296.8L1792.7,1295.8L1796.7,1294.8L1800.7,1293.7L1804.7,1292.6L1808.7,1291.3L1812.7,1290L1816.8,1288.6L1820.8,1287L1824.8,1285.3L1828.8,1283.4L1832.8,1281.3L1836.8,1279.1L1840.8,1276.7L1844.8,1274.1L1848.8,1271.3L1852.8,1268.2L1856.8,1264.9L1860.8,1261.4L1864.8,1257.7L1868.8,1253.7L1872.8,1249.6L1876.8,1245.2L1880.8,1240.6L1884.9,1235.8L1888.9,1230.9L1892.9,1225.8L1896.9,1220.7L1900.9,1215.4L1904.9,1210.1L1908.9,1204.8L1912.9,1199.6L1916.9,1194.4L1920.9,1189.3L1924.9,1184.5L1928.9,1179.8L1932.9,1175.4L1936.9,1171.4L1940.9,1167.6L1944.9,1164.4L1948.9,1161.5L1953,1159.2L1957,1157.3L1961,1156.1L1965,1155.4L1969,1155.3L1973,1155.8L1977,1156.9L1981,1158.6L1985,1160.9L1989,1163.7L1993,1167L1997,1170.8L2001,1175.1L2005,1179.7L2009,1184.7L2013,1190L2017,1195.6L2021.1,1201.3L2025.1,1207.3L2029.1,1213.3L2033.1,1219.4L2037.1,1225.5L2041.1,1231.7L2045.1,1237.7L2049.1,1243.7L2053.1,1249.5L2057.1,1255.2L2061.1,1260.7L2065.1,1266L2069.1,1271.1L2073.1,1276L2077.1,1280.6L2081.1,1285L2085.2,1289.1L2089.2,1292.9L2093.2,1296.5L2097.2,1299.9L2101.2,1303L2105.2,1305.8L2109.2,1308.5L2113.2,1310.9L2117.2,1313.1L2121.2,1315.1L2125.2,1316.9L2129.2,1318.5L2133.2,1320L2137.2,1321.3L2141.2,1322.4L2145.2,1323.5L2149.2,1324.4L2153.3,1325.3L2157.3,1326L2161.3,1326.6L2165.3,1327.2L2169.3,1327.7L2173.3,1328.2L2177.3,1328.6L2181.3,1328.9L2185.3,1329.2L2189.3,1329.5L2193.3,1329.7L2197.3,1329.9L2201.3,1330.1L2205.3,1330.3L2209.3,1330.4L2213.3,1330.6L2217.3,1330.7L2221.4,1330.8L2225.4,1330.9L2229.4,1331L2233.4,1331.1L2237.4,1331.2L2241.4,1331.3L2245.4,1331.3L2249.4,1331.4L2253.4,1331.5L2257.4,1331.5L2261.4,1331.6L2265.4,1331.7L2269.4,1331.7L2273.4,1331.8L2277.4,1331.8L2281.4,1331.9L2285.4,1331.9L2289.5,1332L2293.5,1332L2297.5,1332.1L2301.5,1332.1L2305.5,1332.2L2309.5,1332.2L2313.5,1332.3L2317.5,1332.3L2321.5,1332.4L2321.5,1333.2L2317.5,1333.2L2313.5,1333.1L2309.5,1333.1L2305.5,1333.1L2301.5,1333.1L2297.5,1333L2293.5,1333L2289.5,1333L2285.4,1333L2281.4,1332.9L2277.4,1332.9L2273.4,1332.9L2269.4,1332.9L2265.4,1332.8L2261.4,1332.8L2257.4,1332.8L2253.4,1332.8L2249.4,1332.7L2245.4,1332.7L2241.4,1332.7L2237.4,1332.7L2233.4,1332.6L2229.4,1332.6L2225.4,1332.6L2221.4,1332.6L2217.3,1332.5L2213.3,1332.5L2209.3,1332.5L2205.3,1332.5L2201.3,1332.4L2197.3,1332.4L2193.3,1332.4L2189.3,1332.4L2185.3,1332.3L2181.3,1332.3L2177.3,1332.3L2173.3,1332.2L2169.3,1332.2L2165.3,1332.2L2161.3,1332.2L2157.3,1332.1L2153.3,1332.1L2149.2,1332.1L2145.2,1332.1L2141.2,1332L2137.2,1332L2133.2,1332L2129.2,1332L2125.2,1331.9L2121.2,1331.9L2117.2,1331.9L2113.2,1331.9L2109.2,1331.8L2105.2,1331.8L2101.2,1331.8L2097.2,1331.8L2093.2,1331.7L2089.2,1331.7L2085.2,1331.7L2081.1,1331.7L2077.1,1331.6L2073.1,1331.6L2069.1,1331.6L2065.1,1331.6L2061.1,1331.5L2057.1,1331.5L2053.1,1331.5L2049.1,1331.5L2045.1,1331.4L2041.1,1331.4L2037.1,1331.4L2033.1,1331.4L2029.1,1331.3L2025.1,1331.3L2021.1,1331.3L2017,1331.2L2013,1331.2L2009,1331.2L2005,1331.2L2001,1331.1L1997,1331.1L1993,1331.1L1989,1331.1L1985,1331L1981,1331L1977,1331L1973,1331L1969,1330.9L1965,1330.9L1961,1330.9L1957,1330.9L1953,1330.8L1948.9,1330.8L1944.9,1330.8L1940.9,1330.8L1936.9,1330.7L1932.9,1330.7L1928.9,1330.7L1924.9,1330.7L1920.9,1330.6L1916.9,1330.6L1912.9,1330.6L1908.9,1330.6L1904.9,1330.5L1900.9,1330.5L1896.9,1330.5L1892.9,1330.5L1888.9,1330.4L1884.9,1330.4L1880.8,1330.4L1876.8,1330.3L1872.8,1330.3L1868.8,1330.3L1864.8,1330.3L1860.8,1330.2L1856.8,1330.2L1852.8,1330.2L1848.8,1330.2L1844.8,1330.1L1840.8,1330.1L1836.8,1330.1L1832.8,1330.1L1828.8,1330L1824.8,1330L1820.8,1330L1816.8,1330L1812.7,1329.9L1808.7,1329.9L1804.7,1329.9L1800.7,1329.9L1796.7,1329.8L1792.7,1329.8L1788.7,1329.8L1784.7,1329.8L1780.7,1329.7L1776.7,1329.7L1772.7,1329.7L1768.7,1329.7L1764.7,1329.6L1760.7,1329.6L1756.7,1329.6L1752.7,1329.6L1748.7,1329.5L1744.6,1329.5L1740.6,1329.5L1736.6,1329.4L1732.6,1329.4L1728.6,1329.4L1724.6,1329.4L1720.6,1329.3L1716.6,1329.3L1712.6,1329.3L1708.6,1329.3L1704.6,1329.2L1700.6,1329.2L1696.6,1329.2L1692.6,1329.2L1688.6,1329.1L1684.6,1329.1L1680.6,1329.1L1676.5,1329.1L1672.5,1329L1668.5,1329L1664.5,1329L1660.5,1329L1656.5,1328.9L1652.5,1328.9L1648.5,1328.9L1644.5,1328.9L1640.5,1328.8L1636.5,1328.8L1632.5,1328.8L1628.5,1328.8L1624.5,1328.7L1620.5,1328.7L1616.5,1328.7L1612.5,1328.7L1608.4,1328.6L1604.4,1328.6L1600.4,1328.6L1596.4,1328.5L1592.4,1328.5L1588.4,1328.5L1584.4,1328.5L1580.4,1328.4L1576.4,1328.4L1572.4,1328.4L1568.4,1328.4L1564.4,1328.3L1560.4,1328.3L1556.4,1328.3L1552.4,1328.3L1548.4,1328.2L1544.3,1328.2L1540.3,1328.2L1536.3,1328.2L1532.3,1328.1L1528.3,1328.1L1524.3,1328.1L1520.3,1328.1L1516.3,1328L1512.3,1328L1508.3,1328L1504.3,1328L1500.3,1327.9L1496.3,1327.9L1492.3,1327.9L1488.3,1327.9L1484.3,1327.8L1480.3,1327.8L1476.2,1327.8L1472.2,1327.8L1468.2,1327.7L1464.2,1327.7L1460.2,1327.7L1456.2,1327.7L1452.2,1327.6L1448.2,1327.6L1444.2,1327.6L1440.2,1327.5L1436.2,1327.5L1432.2,1327.5L1428.2,1327.5L1424.2,1327.4L1420.2,1327.4L1416.2,1327.4L1412.2,1327.4L1408.1,1327.3L1404.1,1327.3L1400.1,1327.3L1396.1,1327.3L1392.1,1327.2L1388.1,1327.2L1384.1,1327.2L1380.1,1327.2L1376.1,1327.1L1372.1,1327.1L1368.1,1327.1L1364.1,1327.1L1360.1,1327L1356.1,1327L1352.1,1327L1348.1,1327L1344.1,1326.9L1340,1326.9L1336,1326.9L1332,1326.9L1328,1326.8L1324,1326.8L1320,1326.8L1316,1326.8L1312,1326.7L1308,1326.7 Z" fill="url(#g11)"/>
<path d="M1308,1329.2L1312,1329.2L1316,1329.3L1320,1329.3L1324,1329.3L1328,1329.3L1332,1329.4L1336,1329.4L1340,1329.4L1344.1,1329.4L1348.1,1329.5L1352.1,1329.5L1356.1,1329.5L1360.1,1329.5L1364.1,1329.6L1368.1,1329.6L1372.1,1329.6L1376.1,1329.6L1380.1,1329.7L1384.1,1329.7L1388.1,1329.7L1392.1,1329.7L1396.1,1329.8L1400.1,1329.8L1404.1,1329.8L1408.1,1329.8L1412.2,1329.9L1416.2,1329.9L1420.2,1329.9L1424.2,1329.9L1428.2,1330L1432.2,1330L1436.2,1330L1440.2,1330L1444.2,1330.1L1448.2,1330.1L1452.2,1330.1L1456.2,1330.2L1460.2,1330.2L1464.2,1330.2L1468.2,1330.2L1472.2,1330.3L1476.2,1330.3L1480.3,1330.3L1484.3,1330.3L1488.3,1330.4L1492.3,1330.4L1496.3,1330.4L1500.3,1330.4L1504.3,1330.5L1508.3,1330.5L1512.3,1330.5L1516.3,1330.5L1520.3,1330.6L1524.3,1330.6L1528.3,1330.6L1532.3,1330.6L1536.3,1330.7L1540.3,1330.7L1544.3,1330.7L1548.4,1330.7L1552.4,1330.8L1556.4,1330.8L1560.4,1330.8L1564.4,1330.8L1568.4,1330.9L1572.4,1330.9L1576.4,1330.9L1580.4,1330.9L1584.4,1331L1588.4,1331L1592.4,1331L1596.4,1331L1600.4,1331.1L1604.4,1331.1L1608.4,1331.1L1612.5,1331.2L1616.5,1331.2L1620.5,1331.2L1624.5,1331.2L1628.5,1331.3L1632.5,1331.3L1636.5,1331.3L1640.5,1331.3L1644.5,1331.4L1648.5,1331.4L1652.5,1331.4L1656.5,1331.4L1660.5,1331.5L1664.5,1331.5L1668.5,1331.5L1672.5,1331.5L1676.5,1331.6L1680.6,1331.6L1684.6,1331.6L1688.6,1331.6L1692.6,1331.7L1696.6,1331.7L1700.6,1331.7L1704.6,1331.7L1708.6,1331.8L1712.6,1331.8L1716.6,1331.8L1720.6,1331.8L1724.6,1331.9L1728.6,1331.9L1732.6,1331.9L1736.6,1331.9L1740.6,1332L1744.6,1332L1748.7,1332L1752.7,1332.1L1756.7,1332.1L1760.7,1332.1L1764.7,1332.1L1768.7,1332.2L1772.7,1332.2L1776.7,1332.2L1780.7,1332.2L1784.7,1332.3L1788.7,1332.3L1792.7,1332.3L1796.7,1332.3L1800.7,1332.4L1804.7,1332.4L1808.7,1332.4L1812.7,1332.4L1816.8,1332.5L1820.8,1332.5L1824.8,1332.5L1828.8,1332.5L1832.8,1332.6L1836.8,1332.6L1840.8,1332.6L1844.8,1332.6L1848.8,1332.7L1852.8,1332.7L1856.8,1332.7L1860.8,1332.7L1864.8,1332.8L1868.8,1332.8L1872.8,1332.8L1876.8,1332.8L1880.8,1332.9L1884.9,1332.9L1888.9,1332.9L1892.9,1333L1896.9,1333L1900.9,1333L1904.9,1333L1908.9,1333.1L1912.9,1333.1L1916.9,1333.1L1920.9,1333.1L1924.9,1333.2L1928.9,1333.2L1932.9,1333.2L1936.9,1333.2L1940.9,1333.3L1944.9,1333.3L1948.9,1333.3L1953,1333.3L1957,1333.4L1961,1333.4L1965,1333.4L1969,1333.4L1973,1333.5L1977,1333.5L1981,1333.5L1985,1333.5L1989,1333.6L1993,1333.6L1997,1333.6L2001,1333.6L2005,1333.7L2009,1333.7L2013,1333.7L2017,1333.7L2021.1,1333.8L2025.1,1333.8L2029.1,1333.8L2033.1,1333.9L2037.1,1333.9L2041.1,1333.9L2045.1,1333.9L2049.1,1334L2053.1,1334L2057.1,1334L2061.1,1334L2065.1,1334.1L2069.1,1334.1L2073.1,1334.1L2077.1,1334.1L2081.1,1334.2L2085.2,1334.2L2089.2,1334.2L2093.2,1334.2L2097.2,1334.3L2101.2,1334.3L2105.2,1334.3L2109.2,1334.3L2113.2,1334.4L2117.2,1334.4L2121.2,1334.4L2125.2,1334.4L2129.2,1334.5L2133.2,1334.5L2137.2,1334.5L2141.2,1334.5L2145.2,1334.6L2149.2,1334.6L2153.3,1334.6L2157.3,1334.6L2161.3,1334.7L2165.3,1334.7L2169.3,1334.7L2173.3,1334.7L2177.3,1334.8L2181.3,1334.8L2185.3,1334.8L2189.3,1334.9L2193.3,1334.9L2197.3,1334.9L2201.3,1334.9L2205.3,1335L2209.3,1335L2213.3,1335L2217.3,1335L2221.4,1335.1L2225.4,1335.1L2229.4,1335.1L2233.4,1335.1L2237.4,1335.2L2241.4,1335.2L2245.4,1335.2L2249.4,1335.2L2253.4,1335.3L2257.4,1335.3L2261.4,1335.3L2265.4,1335.3L2269.4,1335.4L2273.4,1335.4L2277.4,1335.4L2281.4,1335.4L2285.4,1335.5L2289.5,1335.5L2293.5,1335.5L2297.5,1335.5L2301.5,1335.6L2305.5,1335.6L2309.5,1335.6L2313.5,1335.6L2317.5,1335.7L2321.5,1335.7" fill="none" stroke="#606060" stroke-width="3"/>
<path d="M1308,1326.7L2321.5,1333.2" fill="none" stroke="#fe3b3b" stroke-width="6.5"/>
<rect x="1337.2" y="1322.1" width="11" height="10" fill="#c4c4c4" stroke="#7c7c7c" stroke-width="1.6"/>
<rect x="1388.5" y="1319" width="11" height="10" fill="#c4c4c4" stroke="#7c7c7c" stroke-width="1.6"/>
<rect x="1439.8" y="1320.5" width="11" height="10" fill="#c4c4c4" stroke="#7c7c7c" stroke-width="1.6"/>
<rect x="1491.1" y="1321.1" width="11" height="10" fill="#c4c4c4" stroke="#7c7c7c" stroke-width="1.6"/>
<rect x="1542.4" y="1324.8" width="11" height="10" fill="#c4c4c4" stroke="#7c7c7c" stroke-width="1.6"/>
<rect x="1593.7" y="1322.7" width="11" height="10" fill="#c4c4c4" stroke="#7c7c7c" stroke-width="1.6"/>
<rect x="1645" y="1315.5" width="11" height="10" fill="#c4c4c4" stroke="#7c7c7c" stroke-width="1.6"/>
<rect x="1696.3" y="1311.4" width="11" height="10" fill="#c4c4c4" stroke="#7c7c7c" stroke-width="1.6"/>
<rect x="1747.6" y="1297.1" width="11" height="10" fill="#c4c4c4" stroke="#7c7c7c" stroke-width="1.6"/>
<rect x="1798.9" y="1288.3" width="11" height="10" fill="#c4c4c4" stroke="#7c7c7c" stroke-width="1.6"/>
<rect x="1850.2" y="1257.7" width="11" height="10" fill="#c4c4c4" stroke="#7c7c7c" stroke-width="1.6"/>
<rect x="1901.5" y="1196.8" width="11" height="10" fill="#c4c4c4" stroke="#7c7c7c" stroke-width="1.6"/>
<rect x="1952.8" y="1154.6" width="11" height="10" fill="#c4c4c4" stroke="#7c7c7c" stroke-width="1.6"/>
<rect x="2004.1" y="1178" width="11" height="10" fill="#c4c4c4" stroke="#7c7c7c" stroke-width="1.6"/>
<rect x="2055.4" y="1254" width="11" height="10" fill="#c4c4c4" stroke="#7c7c7c" stroke-width="1.6"/>
<rect x="2106.7" y="1308.8" width="11" height="10" fill="#c4c4c4" stroke="#7c7c7c" stroke-width="1.6"/>
<rect x="2158" y="1324.4" width="11" height="10" fill="#c4c4c4" stroke="#7c7c7c" stroke-width="1.6"/>
<rect x="2209.3" y="1324.3" width="11" height="10" fill="#c4c4c4" stroke="#7c7c7c" stroke-width="1.6"/>
<rect x="2260.6" y="1329.4" width="11" height="10" fill="#c4c4c4" stroke="#7c7c7c" stroke-width="1.6"/>
<rect x="2311.9" y="1327.5" width="11" height="10" fill="#c4c4c4" stroke="#7c7c7c" stroke-width="1.6"/>
<path d="M1308,1326.5L1317.1,1327.1L1342.7,1327.9L1368.4,1328.3L1394,1329.1L1419.7,1328.3L1445.3,1329.3L1471,1324.9L1496.6,1327.2L1522.3,1329.6L1547.9,1328.1L1573.6,1329L1599.2,1324.2L1624.9,1324.6L1650.5,1321.3L1676.2,1319L1680.6,1318.2L1684.6,1317.5L1688.6,1316.8L1692.6,1316.1L1696.6,1315.4L1700.6,1314.6L1704.6,1313.9L1708.6,1313.1L1712.6,1312.3L1716.6,1311.5L1720.6,1310.7L1724.6,1309.9L1728.6,1309.1L1732.6,1308.3L1736.6,1307.5L1740.6,1306.7L1744.6,1305.9L1748.7,1305.1L1752.7,1304.3L1756.7,1303.5L1760.7,1302.7L1764.7,1301.9L1768.7,1301.1L1772.7,1300.3L1776.7,1299.4L1780.7,1298.6L1784.7,1297.7L1788.7,1296.8L1792.7,1295.8L1796.7,1294.8L1800.7,1293.7L1804.7,1292.6L1808.7,1291.3L1812.7,1290L1816.8,1288.6L1820.8,1287L1824.8,1285.3L1828.8,1283.4L1832.8,1281.3L1836.8,1279.1L1840.8,1276.7L1844.8,1274.1L1848.8,1271.3L1852.8,1268.2L1856.8,1264.9L1860.8,1261.4L1864.8,1257.7L1868.8,1253.7L1872.8,1249.6L1876.8,1245.2L1880.8,1240.6L1884.9,1235.8L1888.9,1230.9L1892.9,1225.8L1896.9,1220.7L1900.9,1215.4L1904.9,1210.1L1908.9,1204.8L1912.9,1199.6L1916.9,1194.4L1920.9,1189.3L1924.9,1184.5L1928.9,1179.8L1932.9,1175.4L1936.9,1171.4L1940.9,1167.6L1944.9,1164.4L1948.9,1161.5L1953,1159.2L1957,1157.3L1961,1156.1L1965,1155.4L1969,1155.3L1973,1155.8L1977,1156.9L1981,1158.6L1985,1160.9L1989,1163.7L1993,1167L1997,1170.8L2001,1175.1L2005,1179.7L2009,1184.7L2013,1190L2017,1195.6L2021.1,1201.3L2025.1,1207.3L2029.1,1213.3L2033.1,1219.4L2037.1,1225.5L2041.1,1231.7L2045.1,1237.7L2049.1,1243.7L2053.1,1249.5L2057.1,1255.2L2061.1,1260.7L2065.1,1266L2069.1,1271.1L2073.1,1276L2077.1,1280.6L2081.1,1285L2085.2,1289.1L2089.2,1292.9L2093.2,1296.5L2097.2,1299.9L2101.2,1303L2105.2,1305.8L2109.2,1308.5L2113.2,1310.9L2117.2,1313.1L2121.2,1315.1L2125.2,1316.9L2129.2,1318.5L2133.2,1320L2137.2,1321.3L2141.2,1322.4L2145.2,1323.5L2149.2,1324.4L2153.3,1325.3L2157.3,1326L2161.3,1326.6L2165.3,1327.2L2169.3,1327.7L2173.3,1328.2L2177.3,1328.6L2181.3,1328.9L2185.3,1329.2L2189.3,1329.5L2193.3,1329.7L2197.3,1329.9L2201.3,1330.1L2205.3,1330.3L2209.3,1330.4L2213.3,1330.6L2217.3,1330.7L2221.4,1330.8L2225.4,1330.9L2229.4,1331L2233.4,1331.1L2237.4,1331.2L2241.4,1331.3L2245.4,1331.3L2249.4,1331.4L2253.4,1331.5L2257.4,1331.5L2261.4,1331.6L2265.4,1331.7L2269.4,1331.7L2273.4,1331.8L2277.4,1331.8L2281.4,1331.9L2285.4,1331.9L2289.5,1332L2293.5,1332L2297.5,1332.1L2301.5,1332.1L2305.5,1332.2L2309.5,1332.2L2313.5,1332.3L2317.5,1332.3L2321.5,1332.4" fill="none" stroke="#fe3b3b" stroke-width="7" stroke-linejoin="round" stroke-linecap="round"/>
<path d="M1308,1541.3L1312,1541.3L1316,1541.4L1320,1541.4L1324,1541.5L1328,1541.5L1332,1541.6L1336,1541.6L1340,1541.7L1344.1,1541.7L1348.1,1541.8L1352.1,1541.8L1356.1,1541.9L1360.1,1541.9L1364.1,1542L1368.1,1542L1372.1,1542.1L1376.1,1542.1L1380.1,1542.2L1384.1,1542.2L1388.1,1542.3L1392.1,1542.3L1396.1,1542.4L1400.1,1542.4L1404.1,1542.5L1408.1,1542.5L1412.2,1542.6L1416.2,1542.6L1420.2,1542.7L1424.2,1542.7L1428.2,1542.8L1432.2,1542.8L1436.2,1542.9L1440.2,1542.9L1444.2,1543L1448.2,1543L1452.2,1543.1L1456.2,1543.1L1460.2,1543.2L1464.2,1543.2L1468.2,1543.2L1472.2,1543.3L1476.2,1543.3L1480.3,1543.4L1484.3,1543.4L1488.3,1543.5L1492.3,1543.5L1496.3,1543.6L1500.3,1543.6L1504.3,1543.7L1508.3,1543.7L1512.3,1543.8L1516.3,1543.8L1520.3,1543.8L1524.3,1543.9L1528.3,1543.9L1532.3,1544L1536.3,1544L1540.3,1544.1L1544.3,1544.1L1548.4,1544.1L1552.4,1544.2L1556.4,1544.2L1560.4,1544.2L1564.4,1544.3L1568.4,1544.3L1572.4,1544.3L1576.4,1544.4L1580.4,1544.4L1584.4,1544.4L1588.4,1544.4L1592.4,1544.4L1596.4,1544.5L1600.4,1544.5L1604.4,1544.5L1608.4,1544.5L1612.5,1544.5L1616.5,1544.4L1620.5,1544.4L1624.5,1544.4L1628.5,1544.4L1632.5,1544.3L1636.5,1544.2L1640.5,1544.2L1644.5,1544.1L1648.5,1544L1652.5,1543.9L1656.5,1543.8L1660.5,1543.7L1664.5,1543.5L1668.5,1543.3L1672.5,1543.2L1676.5,1543L1680.6,1542.8L1684.6,1542.5L1688.6,1542.3L1692.6,1542L1696.6,1541.7L1700.6,1541.4L1704.6,1541.1L1708.6,1540.7L1712.6,1540.3L1716.6,1539.9L1720.6,1539.5L1724.6,1539.1L1728.6,1538.6L1732.6,1538.2L1736.6,1537.7L1740.6,1537.2L1744.6,1536.7L1748.7,1536.1L1752.7,1535.6L1756.7,1535L1760.7,1534.5L1764.7,1533.9L1768.7,1533.3L1772.7,1532.8L1776.7,1532.2L1780.7,1531.6L1784.7,1531.1L1788.7,1530.5L1792.7,1529.9L1796.7,1529.4L1800.7,1528.9L1804.7,1528.3L1808.7,1527.8L1812.7,1527.3L1816.8,1526.8L1820.8,1526.3L1824.8,1525.8L1828.8,1525.3L1832.8,1524.8L1836.8,1524.3L1840.8,1523.7L1844.8,1523.1L1848.8,1522.5L1852.8,1521.9L1856.8,1521.2L1860.8,1520.4L1864.8,1519.5L1868.8,1518.5L1872.8,1517.4L1876.8,1516.2L1880.8,1514.8L1884.9,1513.2L1888.9,1511.5L1892.9,1509.5L1896.9,1507.3L1900.9,1504.9L1904.9,1502.2L1908.9,1499.2L1912.9,1496L1916.9,1492.4L1920.9,1488.5L1924.9,1484.4L1928.9,1479.9L1932.9,1475.1L1936.9,1470L1940.9,1464.6L1944.9,1458.9L1948.9,1453.1L1953,1447L1957,1440.7L1961,1434.2L1965,1427.7L1969,1421.2L1973,1414.6L1977,1408.1L1981,1401.7L1985,1395.5L1989,1389.5L1993,1383.9L1997,1378.7L2001,1373.8L2005,1369.5L2009,1365.8L2013,1362.7L2017,1360.3L2021.1,1358.5L2025.1,1357.5L2029.1,1357.3L2033.1,1357.8L2037.1,1359.1L2041.1,1361.2L2045.1,1363.9L2049.1,1367.4L2053.1,1371.5L2057.1,1376.1L2061.1,1381.4L2065.1,1387L2069.1,1393.2L2073.1,1399.6L2077.1,1406.3L2081.1,1413.3L2085.2,1420.4L2089.2,1427.6L2093.2,1434.8L2097.2,1442L2101.2,1449.2L2105.2,1456.2L2109.2,1463L2113.2,1469.7L2117.2,1476.1L2121.2,1482.2L2125.2,1488.1L2129.2,1493.7L2133.2,1499L2137.2,1503.9L2141.2,1508.6L2145.2,1512.9L2149.2,1516.9L2153.3,1520.6L2157.3,1523.9L2161.3,1527L2165.3,1529.8L2169.3,1532.4L2173.3,1534.7L2177.3,1536.8L2181.3,1538.6L2185.3,1540.3L2189.3,1541.8L2193.3,1543.1L2197.3,1544.3L2201.3,1545.3L2205.3,1546.2L2209.3,1547L2213.3,1547.7L2217.3,1548.3L2221.4,1548.9L2225.4,1549.4L2229.4,1549.8L2233.4,1550.2L2237.4,1550.5L2241.4,1550.8L2245.4,1551L2249.4,1551.3L2253.4,1551.5L2257.4,1551.7L2261.4,1551.8L2265.4,1552L2269.4,1552.1L2273.4,1552.3L2277.4,1552.4L2281.4,1552.5L2285.4,1552.6L2289.5,1552.8L2293.5,1552.9L2297.5,1553L2301.5,1553.1L2305.5,1553.1L2309.5,1553.2L2313.5,1553.3L2317.5,1553.4L2321.5,1553.5L2321.5,1554.7L2317.5,1554.6L2313.5,1554.6L2309.5,1554.5L2305.5,1554.5L2301.5,1554.4L2297.5,1554.4L2293.5,1554.3L2289.5,1554.3L2285.4,1554.2L2281.4,1554.2L2277.4,1554.1L2273.4,1554.1L2269.4,1554L2265.4,1554L2261.4,1553.9L2257.4,1553.9L2253.4,1553.8L2249.4,1553.8L2245.4,1553.7L2241.4,1553.7L2237.4,1553.6L2233.4,1553.6L2229.4,1553.5L2225.4,1553.4L2221.4,1553.4L2217.3,1553.3L2213.3,1553.3L2209.3,1553.2L2205.3,1553.2L2201.3,1553.1L2197.3,1553.1L2193.3,1553L2189.3,1553L2185.3,1552.9L2181.3,1552.9L2177.3,1552.8L2173.3,1552.8L2169.3,1552.7L2165.3,1552.7L2161.3,1552.6L2157.3,1552.6L2153.3,1552.5L2149.2,1552.5L2145.2,1552.4L2141.2,1552.4L2137.2,1552.3L2133.2,1552.2L2129.2,1552.2L2125.2,1552.1L2121.2,1552.1L2117.2,1552L2113.2,1552L2109.2,1551.9L2105.2,1551.9L2101.2,1551.8L2097.2,1551.8L2093.2,1551.7L2089.2,1551.7L2085.2,1551.6L2081.1,1551.6L2077.1,1551.5L2073.1,1551.5L2069.1,1551.4L2065.1,1551.4L2061.1,1551.3L2057.1,1551.3L2053.1,1551.2L2049.1,1551.2L2045.1,1551.1L2041.1,1551L2037.1,1551L2033.1,1550.9L2029.1,1550.9L2025.1,1550.8L2021.1,1550.8L2017,1550.7L2013,1550.7L2009,1550.6L2005,1550.6L2001,1550.5L1997,1550.5L1993,1550.4L1989,1550.4L1985,1550.3L1981,1550.3L1977,1550.2L1973,1550.2L1969,1550.1L1965,1550.1L1961,1550L1957,1550L1953,1549.9L1948.9,1549.8L1944.9,1549.8L1940.9,1549.7L1936.9,1549.7L1932.9,1549.6L1928.9,1549.6L1924.9,1549.5L1920.9,1549.5L1916.9,1549.4L1912.9,1549.4L1908.9,1549.3L1904.9,1549.3L1900.9,1549.2L1896.9,1549.2L1892.9,1549.1L1888.9,1549.1L1884.9,1549L1880.8,1549L1876.8,1548.9L1872.8,1548.9L1868.8,1548.8L1864.8,1548.8L1860.8,1548.7L1856.8,1548.6L1852.8,1548.6L1848.8,1548.5L1844.8,1548.5L1840.8,1548.4L1836.8,1548.4L1832.8,1548.3L1828.8,1548.3L1824.8,1548.2L1820.8,1548.2L1816.8,1548.1L1812.7,1548.1L1808.7,1548L1804.7,1548L1800.7,1547.9L1796.7,1547.9L1792.7,1547.8L1788.7,1547.8L1784.7,1547.7L1780.7,1547.7L1776.7,1547.6L1772.7,1547.6L1768.7,1547.5L1764.7,1547.4L1760.7,1547.4L1756.7,1547.3L1752.7,1547.3L1748.7,1547.2L1744.6,1547.2L1740.6,1547.1L1736.6,1547.1L1732.6,1547L1728.6,1547L1724.6,1546.9L1720.6,1546.9L1716.6,1546.8L1712.6,1546.8L1708.6,1546.7L1704.6,1546.7L1700.6,1546.6L1696.6,1546.6L1692.6,1546.5L1688.6,1546.5L1684.6,1546.4L1680.6,1546.4L1676.5,1546.3L1672.5,1546.2L1668.5,1546.2L1664.5,1546.1L1660.5,1546.1L1656.5,1546L1652.5,1546L1648.5,1545.9L1644.5,1545.9L1640.5,1545.8L1636.5,1545.8L1632.5,1545.7L1628.5,1545.7L1624.5,1545.6L1620.5,1545.6L1616.5,1545.5L1612.5,1545.5L1608.4,1545.4L1604.4,1545.4L1600.4,1545.3L1596.4,1545.3L1592.4,1545.2L1588.4,1545.2L1584.4,1545.1L1580.4,1545L1576.4,1545L1572.4,1544.9L1568.4,1544.9L1564.4,1544.8L1560.4,1544.8L1556.4,1544.7L1552.4,1544.7L1548.4,1544.6L1544.3,1544.6L1540.3,1544.5L1536.3,1544.5L1532.3,1544.4L1528.3,1544.4L1524.3,1544.3L1520.3,1544.3L1516.3,1544.2L1512.3,1544.2L1508.3,1544.1L1504.3,1544.1L1500.3,1544L1496.3,1544L1492.3,1543.9L1488.3,1543.8L1484.3,1543.8L1480.3,1543.7L1476.2,1543.7L1472.2,1543.6L1468.2,1543.6L1464.2,1543.5L1460.2,1543.5L1456.2,1543.4L1452.2,1543.4L1448.2,1543.3L1444.2,1543.3L1440.2,1543.2L1436.2,1543.2L1432.2,1543.1L1428.2,1543.1L1424.2,1543L1420.2,1543L1416.2,1542.9L1412.2,1542.9L1408.1,1542.8L1404.1,1542.8L1400.1,1542.7L1396.1,1542.6L1392.1,1542.6L1388.1,1542.5L1384.1,1542.5L1380.1,1542.4L1376.1,1542.4L1372.1,1542.3L1368.1,1542.3L1364.1,1542.2L1360.1,1542.2L1356.1,1542.1L1352.1,1542.1L1348.1,1542L1344.1,1542L1340,1541.9L1336,1541.9L1332,1541.8L1328,1541.8L1324,1541.7L1320,1541.7L1316,1541.6L1312,1541.6L1308,1541.5 Z" fill="url(#g12)"/>
<path d="M1308,1544L1312,1544.1L1316,1544.1L1320,1544.2L1324,1544.2L1328,1544.3L1332,1544.3L1336,1544.4L1340,1544.4L1344.1,1544.5L1348.1,1544.5L1352.1,1544.6L1356.1,1544.6L1360.1,1544.7L1364.1,1544.7L1368.1,1544.8L1372.1,1544.8L1376.1,1544.9L1380.1,1544.9L1384.1,1545L1388.1,1545L1392.1,1545.1L1396.1,1545.1L1400.1,1545.2L1404.1,1545.3L1408.1,1545.3L1412.2,1545.4L1416.2,1545.4L1420.2,1545.5L1424.2,1545.5L1428.2,1545.6L1432.2,1545.6L1436.2,1545.7L1440.2,1545.7L1444.2,1545.8L1448.2,1545.8L1452.2,1545.9L1456.2,1545.9L1460.2,1546L1464.2,1546L1468.2,1546.1L1472.2,1546.1L1476.2,1546.2L1480.3,1546.2L1484.3,1546.3L1488.3,1546.3L1492.3,1546.4L1496.3,1546.5L1500.3,1546.5L1504.3,1546.6L1508.3,1546.6L1512.3,1546.7L1516.3,1546.7L1520.3,1546.8L1524.3,1546.8L1528.3,1546.9L1532.3,1546.9L1536.3,1547L1540.3,1547L1544.3,1547.1L1548.4,1547.1L1552.4,1547.2L1556.4,1547.2L1560.4,1547.3L1564.4,1547.3L1568.4,1547.4L1572.4,1547.4L1576.4,1547.5L1580.4,1547.5L1584.4,1547.6L1588.4,1547.7L1592.4,1547.7L1596.4,1547.8L1600.4,1547.8L1604.4,1547.9L1608.4,1547.9L1612.5,1548L1616.5,1548L1620.5,1548.1L1624.5,1548.1L1628.5,1548.2L1632.5,1548.2L1636.5,1548.3L1640.5,1548.3L1644.5,1548.4L1648.5,1548.4L1652.5,1548.5L1656.5,1548.5L1660.5,1548.6L1664.5,1548.6L1668.5,1548.7L1672.5,1548.7L1676.5,1548.8L1680.6,1548.9L1684.6,1548.9L1688.6,1549L1692.6,1549L1696.6,1549.1L1700.6,1549.1L1704.6,1549.2L1708.6,1549.2L1712.6,1549.3L1716.6,1549.3L1720.6,1549.4L1724.6,1549.4L1728.6,1549.5L1732.6,1549.5L1736.6,1549.6L1740.6,1549.6L1744.6,1549.7L1748.7,1549.7L1752.7,1549.8L1756.7,1549.8L1760.7,1549.9L1764.7,1549.9L1768.7,1550L1772.7,1550.1L1776.7,1550.1L1780.7,1550.2L1784.7,1550.2L1788.7,1550.3L1792.7,1550.3L1796.7,1550.4L1800.7,1550.4L1804.7,1550.5L1808.7,1550.5L1812.7,1550.6L1816.8,1550.6L1820.8,1550.7L1824.8,1550.7L1828.8,1550.8L1832.8,1550.8L1836.8,1550.9L1840.8,1550.9L1844.8,1551L1848.8,1551L1852.8,1551.1L1856.8,1551.1L1860.8,1551.2L1864.8,1551.3L1868.8,1551.3L1872.8,1551.4L1876.8,1551.4L1880.8,1551.5L1884.9,1551.5L1888.9,1551.6L1892.9,1551.6L1896.9,1551.7L1900.9,1551.7L1904.9,1551.8L1908.9,1551.8L1912.9,1551.9L1916.9,1551.9L1920.9,1552L1924.9,1552L1928.9,1552.1L1932.9,1552.1L1936.9,1552.2L1940.9,1552.2L1944.9,1552.3L1948.9,1552.3L1953,1552.4L1957,1552.5L1961,1552.5L1965,1552.6L1969,1552.6L1973,1552.7L1977,1552.7L1981,1552.8L1985,1552.8L1989,1552.9L1993,1552.9L1997,1553L2001,1553L2005,1553.1L2009,1553.1L2013,1553.2L2017,1553.2L2021.1,1553.3L2025.1,1553.3L2029.1,1553.4L2033.1,1553.4L2037.1,1553.5L2041.1,1553.5L2045.1,1553.6L2049.1,1553.7L2053.1,1553.7L2057.1,1553.8L2061.1,1553.8L2065.1,1553.9L2069.1,1553.9L2073.1,1554L2077.1,1554L2081.1,1554.1L2085.2,1554.1L2089.2,1554.2L2093.2,1554.2L2097.2,1554.3L2101.2,1554.3L2105.2,1554.4L2109.2,1554.4L2113.2,1554.5L2117.2,1554.5L2121.2,1554.6L2125.2,1554.6L2129.2,1554.7L2133.2,1554.7L2137.2,1554.8L2141.2,1554.9L2145.2,1554.9L2149.2,1555L2153.3,1555L2157.3,1555.1L2161.3,1555.1L2165.3,1555.2L2169.3,1555.2L2173.3,1555.3L2177.3,1555.3L2181.3,1555.4L2185.3,1555.4L2189.3,1555.5L2193.3,1555.5L2197.3,1555.6L2201.3,1555.6L2205.3,1555.7L2209.3,1555.7L2213.3,1555.8L2217.3,1555.8L2221.4,1555.9L2225.4,1555.9L2229.4,1556L2233.4,1556.1L2237.4,1556.1L2241.4,1556.2L2245.4,1556.2L2249.4,1556.3L2253.4,1556.3L2257.4,1556.4L2261.4,1556.4L2265.4,1556.5L2269.4,1556.5L2273.4,1556.6L2277.4,1556.6L2281.4,1556.7L2285.4,1556.7L2289.5,1556.8L2293.5,1556.8L2297.5,1556.9L2301.5,1556.9L2305.5,1557L2309.5,1557L2313.5,1557.1L2317.5,1557.1L2321.5,1557.2" fill="none" stroke="#606060" stroke-width="3"/>
<path d="M1308,1541.5L2321.5,1554.7" fill="none" stroke="#fe3b3b" stroke-width="6.5"/>
<rect x="1337.2" y="1537.8" width="11" height="10" fill="#c4c4c4" stroke="#7c7c7c" stroke-width="1.6"/>
<rect x="1388.5" y="1535.5" width="11" height="10" fill="#c4c4c4" stroke="#7c7c7c" stroke-width="1.6"/>
<rect x="1439.8" y="1538.3" width="11" height="10" fill="#c4c4c4" stroke="#7c7c7c" stroke-width="1.6"/>
<rect x="1491.1" y="1540.4" width="11" height="10" fill="#c4c4c4" stroke="#7c7c7c" stroke-width="1.6"/>
<rect x="1542.4" y="1537.7" width="11" height="10" fill="#c4c4c4" stroke="#7c7c7c" stroke-width="1.6"/>
<rect x="1593.7" y="1541.3" width="11" height="10" fill="#c4c4c4" stroke="#7c7c7c" stroke-width="1.6"/>
<rect x="1645" y="1540.1" width="11" height="10" fill="#c4c4c4" stroke="#7c7c7c" stroke-width="1.6"/>
<rect x="1696.3" y="1538.5" width="11" height="10" fill="#c4c4c4" stroke="#7c7c7c" stroke-width="1.6"/>
<rect x="1747.6" y="1529.6" width="11" height="10" fill="#c4c4c4" stroke="#7c7c7c" stroke-width="1.6"/>
<rect x="1798.9" y="1520.9" width="11" height="10" fill="#c4c4c4" stroke="#7c7c7c" stroke-width="1.6"/>
<rect x="1850.2" y="1518" width="11" height="10" fill="#c4c4c4" stroke="#7c7c7c" stroke-width="1.6"/>
<rect x="1901.5" y="1496.1" width="11" height="10" fill="#c4c4c4" stroke="#7c7c7c" stroke-width="1.6"/>
<rect x="1952.8" y="1435.3" width="11" height="10" fill="#c4c4c4" stroke="#7c7c7c" stroke-width="1.6"/>
<rect x="2004.1" y="1358.4" width="11" height="10" fill="#c4c4c4" stroke="#7c7c7c" stroke-width="1.6"/>
<rect x="2055.4" y="1374.5" width="11" height="10" fill="#c4c4c4" stroke="#7c7c7c" stroke-width="1.6"/>
<rect x="2106.7" y="1465.5" width="11" height="10" fill="#c4c4c4" stroke="#7c7c7c" stroke-width="1.6"/>
<rect x="2158" y="1523.6" width="11" height="10" fill="#c4c4c4" stroke="#7c7c7c" stroke-width="1.6"/>
<rect x="2209.3" y="1545.4" width="11" height="10" fill="#c4c4c4" stroke="#7c7c7c" stroke-width="1.6"/>
<rect x="2260.6" y="1547.5" width="11" height="10" fill="#c4c4c4" stroke="#7c7c7c" stroke-width="1.6"/>
<rect x="2311.9" y="1546.6" width="11" height="10" fill="#c4c4c4" stroke="#7c7c7c" stroke-width="1.6"/>
<path d="M1308,1541.3L1317.1,1542.9L1342.7,1543.4L1368.4,1542L1394,1541.1L1419.7,1540.2L1445.3,1543.8L1471,1543.1L1496.6,1544.9L1522.3,1543.2L1547.9,1545.5L1573.6,1543.2L1599.2,1546L1624.9,1545.5L1650.5,1543.6L1676.2,1543.2L1680.6,1542.8L1684.6,1542.5L1688.6,1542.3L1692.6,1542L1696.6,1541.7L1700.6,1541.4L1704.6,1541.1L1708.6,1540.7L1712.6,1540.3L1716.6,1539.9L1720.6,1539.5L1724.6,1539.1L1728.6,1538.6L1732.6,1538.2L1736.6,1537.7L1740.6,1537.2L1744.6,1536.7L1748.7,1536.1L1752.7,1535.6L1756.7,1535L1760.7,1534.5L1764.7,1533.9L1768.7,1533.3L1772.7,1532.8L1776.7,1532.2L1780.7,1531.6L1784.7,1531.1L1788.7,1530.5L1792.7,1529.9L1796.7,1529.4L1800.7,1528.9L1804.7,1528.3L1808.7,1527.8L1812.7,1527.3L1816.8,1526.8L1820.8,1526.3L1824.8,1525.8L1828.8,1525.3L1832.8,1524.8L1836.8,1524.3L1840.8,1523.7L1844.8,1523.1L1848.8,1522.5L1852.8,1521.9L1856.8,1521.2L1860.8,1520.4L1864.8,1519.5L1868.8,1518.5L1872.8,1517.4L1876.8,1516.2L1880.8,1514.8L1884.9,1513.2L1888.9,1511.5L1892.9,1509.5L1896.9,1507.3L1900.9,1504.9L1904.9,1502.2L1908.9,1499.2L1912.9,1496L1916.9,1492.4L1920.9,1488.5L1924.9,1484.4L1928.9,1479.9L1932.9,1475.1L1936.9,1470L1940.9,1464.6L1944.9,1458.9L1948.9,1453.1L1953,1447L1957,1440.7L1961,1434.2L1965,1427.7L1969,1421.2L1973,1414.6L1977,1408.1L1981,1401.7L1985,1395.5L1989,1389.5L1993,1383.9L1997,1378.7L2001,1373.8L2005,1369.5L2009,1365.8L2013,1362.7L2017,1360.3L2021.1,1358.5L2025.1,1357.5L2029.1,1357.3L2033.1,1357.8L2037.1,1359.1L2041.1,1361.2L2045.1,1363.9L2049.1,1367.4L2053.1,1371.5L2057.1,1376.1L2061.1,1381.4L2065.1,1387L2069.1,1393.2L2073.1,1399.6L2077.1,1406.3L2081.1,1413.3L2085.2,1420.4L2089.2,1427.6L2093.2,1434.8L2097.2,1442L2101.2,1449.2L2105.2,1456.2L2109.2,1463L2113.2,1469.7L2117.2,1476.1L2121.2,1482.2L2125.2,1488.1L2129.2,1493.7L2133.2,1499L2137.2,1503.9L2141.2,1508.6L2145.2,1512.9L2149.2,1516.9L2153.3,1520.6L2157.3,1523.9L2161.3,1527L2165.3,1529.8L2169.3,1532.4L2173.3,1534.7L2177.3,1536.8L2181.3,1538.6L2185.3,1540.3L2189.3,1541.8L2193.3,1543.1L2197.3,1544.3L2201.3,1545.3L2205.3,1546.2L2209.3,1547L2213.3,1547.7L2217.3,1548.3L2221.4,1548.9L2225.4,1549.4L2229.4,1549.8L2233.4,1550.2L2237.4,1550.5L2241.4,1550.8L2245.4,1551L2249.4,1551.3L2253.4,1551.5L2257.4,1551.7L2261.4,1551.8L2265.4,1552L2269.4,1552.1L2273.4,1552.3L2277.4,1552.4L2281.4,1552.5L2285.4,1552.6L2289.5,1552.8L2293.5,1552.9L2297.5,1553L2301.5,1553.1L2305.5,1553.1L2309.5,1553.2L2313.5,1553.3L2317.5,1553.4L2321.5,1553.5" fill="none" stroke="#fe3b3b" stroke-width="7" stroke-linejoin="round" stroke-linecap="round"/>
<path d="M153.5,2527.8L157.5,2527.8L161.5,2527.8L165.5,2527.8L169.5,2527.8L173.5,2527.8L177.5,2527.8L181.5,2527.8L185.5,2527.8L189.5,2527.7L193.6,2527.7L197.6,2527.7L201.6,2527.7L205.6,2527.7L209.6,2527.7L213.6,2527.7L217.6,2527.7L221.6,2527.7L225.6,2527.7L229.6,2527.7L233.6,2527.7L237.6,2527.7L241.6,2527.7L245.6,2527.7L249.6,2527.7L253.6,2527.7L257.6,2527.7L261.6,2527.6L265.6,2527.6L269.6,2527.6L273.7,2527.6L277.7,2527.6L281.7,2527.6L285.7,2527.6L289.7,2527.6L293.7,2527.6L297.7,2527.6L301.7,2527.6L305.7,2527.5L309.7,2527.5L313.7,2527.5L317.7,2527.5L321.7,2527.5L325.7,2527.5L329.7,2527.5L333.7,2527.5L337.7,2527.4L341.7,2527.4L345.7,2527.4L349.8,2527.4L353.8,2527.4L357.8,2527.4L361.8,2527.3L365.8,2527.3L369.8,2527.3L373.8,2527.3L377.8,2527.3L381.8,2527.2L385.8,2527.2L389.8,2527.2L393.8,2527.2L397.8,2527.1L401.8,2527.1L405.8,2527.1L409.8,2527L413.8,2527L417.8,2527L421.8,2526.9L425.8,2526.9L429.9,2526.8L433.9,2526.8L437.9,2526.7L441.9,2526.7L445.9,2526.6L449.9,2526.6L453.9,2526.5L457.9,2526.4L461.9,2526.3L465.9,2526.3L469.9,2526.2L473.9,2526.1L477.9,2525.9L481.9,2525.8L485.9,2525.7L489.9,2525.5L493.9,2525.2L497.9,2524.9L501.9,2524.6L506,2524.1L510,2523.4L514,2522.6L518,2521.5L522,2520L526,2518.1L530,2515.5L534,2512.3L538,2508.1L542,2502.9L546,2496.3L550,2488.3L554,2478.6L558,2467L562,2453.4L566,2437.7L570,2419.9L574,2400L578,2378.3L582,2354.9L586.1,2330.3L590.1,2305.1L594.1,2279.8L598.1,2255.1L602.1,2231.9L606.1,2210.9L610.1,2192.9L614.1,2178.6L618.1,2168.8L622.1,2163.9L626.1,2164.1L630.1,2169.5L634.1,2179.8L638.1,2194.5L642.1,2213.1L646.1,2234.8L650.1,2258.8L654.1,2284.3L658.1,2310.5L662.2,2336.6L666.2,2362.1L670.2,2386.4L674.2,2409.1L678.2,2429.8L682.2,2448.4L686.2,2464.9L690.2,2479.2L694.2,2491.4L698.2,2501.6L702.2,2510.1L706.2,2517.1L710.2,2522.6L714.2,2527.1L718.2,2530.6L722.2,2533.3L726.2,2535.3L730.2,2536.9L734.2,2538.1L738.3,2539L742.3,2539.7L746.3,2540.3L750.3,2540.7L754.3,2541L758.3,2541.2L762.3,2541.5L766.3,2541.6L770.3,2541.8L774.3,2541.9L778.3,2542L782.3,2542.1L786.3,2542.2L790.3,2542.3L794.3,2542.4L798.3,2542.4L802.3,2542.5L806.3,2542.6L810.3,2542.6L814.3,2542.7L818.4,2542.7L822.4,2542.8L826.4,2542.8L830.4,2542.8L834.4,2542.8L838.4,2542.8L842.4,2542.7L846.4,2542.6L850.4,2542.5L854.4,2542.2L858.4,2541.8L862.4,2541.1L866.4,2540.3L870.4,2539.1L874.4,2537.4L878.4,2535.1L882.4,2532.1L886.4,2528.2L890.4,2523.1L894.5,2516.7L898.5,2508.6L902.5,2498.6L906.5,2486.4L910.5,2471.8L914.5,2454.5L918.5,2434.4L922.5,2411.4L926.5,2385.5L930.5,2357L934.5,2325.9L938.5,2292.8L942.5,2258.2L946.5,2222.9L950.5,2187.7L954.5,2153.4L958.5,2121.2L962.5,2092L966.5,2066.8L970.5,2046.4L974.6,2031.6L978.6,2023L982.6,2020.8L986.6,2025.2L990.6,2036.1L994.6,2053.1L998.6,2075.6L1002.6,2102.8L1006.6,2133.9L1010.6,2167.8L1014.6,2203.5L1018.6,2240.1L1022.6,2276.7L1026.6,2312.3L1030.6,2346.2L1034.6,2378L1038.6,2407.2L1042.6,2433.6L1046.6,2457L1050.7,2477.4L1054.7,2494.9L1058.7,2509.7L1062.7,2522L1066.7,2532.2L1070.7,2540.4L1074.7,2546.9L1078.7,2552L1082.7,2556L1086.7,2559L1090.7,2561.3L1094.7,2563L1098.7,2564.2L1102.7,2565.1L1106.7,2565.8L1110.7,2566.2L1114.7,2566.6L1118.7,2566.8L1122.7,2566.9L1126.7,2567L1130.8,2567.1L1134.8,2567.1L1138.8,2567.2L1142.8,2567.2L1146.8,2567.2L1150.8,2567.2L1154.8,2567.2L1158.8,2567.2L1162.8,2567.2L1166.8,2567.2L1166.8,2567.4L1162.8,2567.4L1158.8,2567.4L1154.8,2567.4L1150.8,2567.4L1146.8,2567.4L1142.8,2567.4L1138.8,2567.4L1134.8,2567.4L1130.8,2567.4L1126.7,2567.4L1122.7,2567.4L1118.7,2567.4L1114.7,2567.4L1110.7,2567.4L1106.7,2567.4L1102.7,2567.4L1098.7,2567.4L1094.7,2567.4L1090.7,2567.4L1086.7,2567.4L1082.7,2567.3L1078.7,2567.3L1074.7,2567.3L1070.7,2567.2L1066.7,2567.2L1062.7,2567.1L1058.7,2567L1054.7,2566.9L1050.7,2566.8L1046.6,2566.6L1042.6,2566.4L1038.6,2566.1L1034.6,2565.8L1030.6,2565.5L1026.6,2565.1L1022.6,2564.6L1018.6,2564L1014.6,2563.4L1010.6,2562.7L1006.6,2561.9L1002.6,2561.1L998.6,2560.2L994.6,2559.3L990.6,2558.3L986.6,2557.3L982.6,2556.3L978.6,2555.2L974.6,2554.2L970.5,2553.2L966.5,2552.2L962.5,2551.3L958.5,2550.4L954.5,2549.5L950.5,2548.8L946.5,2548.1L942.5,2547.4L938.5,2546.9L934.5,2546.4L930.5,2546L926.5,2545.6L922.5,2545.3L918.5,2545L914.5,2544.8L910.5,2544.6L906.5,2544.5L902.5,2544.4L898.5,2544.3L894.5,2544.2L890.4,2544.2L886.4,2544.1L882.4,2544.1L878.4,2544.1L874.4,2544.1L870.4,2544.1L866.4,2544L862.4,2544L858.4,2544L854.4,2544L850.4,2544L846.4,2544L842.4,2544L838.4,2544L834.4,2544L830.4,2544L826.4,2544L822.4,2544L818.4,2544L814.3,2544L810.3,2544L806.3,2544L802.3,2544L798.3,2544L794.3,2544L790.3,2544L786.3,2544L782.3,2544L778.3,2544L774.3,2544L770.3,2544L766.3,2544L762.3,2544L758.3,2544L754.3,2543.9L750.3,2543.9L746.3,2543.9L742.3,2543.9L738.3,2543.9L734.2,2543.9L730.2,2543.9L726.2,2543.9L722.2,2543.9L718.2,2543.8L714.2,2543.8L710.2,2543.8L706.2,2543.7L702.2,2543.7L698.2,2543.6L694.2,2543.6L690.2,2543.5L686.2,2543.3L682.2,2543.2L678.2,2543L674.2,2542.8L670.2,2542.5L666.2,2542.2L662.2,2541.9L658.1,2541.5L654.1,2541L650.1,2540.5L646.1,2540L642.1,2539.4L638.1,2538.8L634.1,2538.1L630.1,2537.4L626.1,2536.7L622.1,2536L618.1,2535.2L614.1,2534.5L610.1,2533.8L606.1,2533.2L602.1,2532.6L598.1,2532L594.1,2531.4L590.1,2531L586.1,2530.5L582,2530.1L578,2529.8L574,2529.5L570,2529.3L566,2529L562,2528.9L558,2528.7L554,2528.6L550,2528.5L546,2528.4L542,2528.4L538,2528.3L534,2528.3L530,2528.2L526,2528.2L522,2528.2L518,2528.2L514,2528.2L510,2528.2L506,2528.2L501.9,2528.1L497.9,2528.1L493.9,2528.1L489.9,2528.1L485.9,2528.1L481.9,2528.1L477.9,2528.1L473.9,2528.1L469.9,2528.1L465.9,2528.1L461.9,2528.1L457.9,2528.1L453.9,2528.1L449.9,2528.1L445.9,2528.1L441.9,2528.1L437.9,2528.1L433.9,2528.1L429.9,2528.1L425.8,2528.1L421.8,2528.1L417.8,2528.1L413.8,2528.1L409.8,2528.1L405.8,2528.1L401.8,2528.1L397.8,2528.1L393.8,2528.1L389.8,2528.1L385.8,2528L381.8,2528L377.8,2528L373.8,2528L369.8,2528L365.8,2528L361.8,2528L357.8,2528L353.8,2528L349.8,2528L345.7,2528L341.7,2528L337.7,2528L333.7,2528L329.7,2528L325.7,2528L321.7,2528L317.7,2528L313.7,2528L309.7,2528L305.7,2528L301.7,2528L297.7,2528L293.7,2528L289.7,2528L285.7,2528L281.7,2528L277.7,2528L273.7,2528L269.6,2528L265.6,2528L261.6,2528L257.6,2528L253.6,2528L249.6,2528L245.6,2528L241.6,2528L237.6,2528L233.6,2528L229.6,2528L225.6,2528L221.6,2528L217.6,2528L213.6,2528L209.6,2528L205.6,2528L201.6,2528L197.6,2528L193.6,2528L189.5,2528L185.5,2528L181.5,2528L177.5,2528L173.5,2528L169.5,2528L165.5,2528L161.5,2528L157.5,2528L153.5,2528 Z" fill="url(#g13)"/>
<path d="M153.5,2528L157.5,2528L161.5,2528L165.5,2528L169.5,2528L173.5,2528L177.5,2528L181.5,2528L185.5,2528L189.5,2528L193.6,2528L197.6,2528L201.6,2528L205.6,2528L209.6,2528L213.6,2528L217.6,2528L221.6,2528L225.6,2528L229.6,2528L233.6,2528L237.6,2528L241.6,2528L245.6,2528L249.6,2528L253.6,2528L257.6,2528L261.6,2528L265.6,2528L269.6,2528L273.7,2528L277.7,2528L281.7,2528L285.7,2528L289.7,2528L293.7,2528L297.7,2528L301.7,2528L305.7,2528L309.7,2528L313.7,2528L317.7,2528L321.7,2528L325.7,2528L329.7,2528L333.7,2528L337.7,2528L341.7,2528L345.7,2528L349.8,2528L353.8,2528L357.8,2528L361.8,2528L365.8,2528L369.8,2528L373.8,2528L377.8,2528L381.8,2528L385.8,2528L389.8,2528.1L393.8,2528.1L397.8,2528.1L401.8,2528.1L405.8,2528.1L409.8,2528.1L413.8,2528.1L417.8,2528.1L421.8,2528.1L425.8,2528.1L429.9,2528.1L433.9,2528.1L437.9,2528.1L441.9,2528.1L445.9,2528.1L449.9,2528.1L453.9,2528.1L457.9,2528.1L461.9,2528.1L465.9,2528.1L469.9,2528.1L473.9,2528.1L477.9,2528.1L481.9,2528.1L485.9,2528.1L489.9,2528.1L493.9,2528.1L497.9,2528.1L501.9,2528.1L506,2528.2L510,2528.2L514,2528.2L518,2528.2L522,2528.2L526,2528.2L530,2528.2L534,2528.3L538,2528.3L542,2528.4L546,2528.4L550,2528.5L554,2528.6L558,2528.7L562,2528.9L566,2529L570,2529.3L574,2529.5L578,2529.8L582,2530.1L586.1,2530.5L590.1,2531L594.1,2531.4L598.1,2532L602.1,2532.6L606.1,2533.2L610.1,2533.8L614.1,2534.5L618.1,2535.2L622.1,2536L626.1,2536.7L630.1,2537.4L634.1,2538.1L638.1,2538.8L642.1,2539.4L646.1,2540L650.1,2540.5L654.1,2541L658.1,2541.5L662.2,2541.9L666.2,2542.2L670.2,2542.5L674.2,2542.8L678.2,2543L682.2,2543.2L686.2,2543.3L690.2,2543.5L694.2,2543.6L698.2,2543.6L702.2,2543.7L706.2,2543.7L710.2,2543.8L714.2,2543.8L718.2,2543.8L722.2,2543.9L726.2,2543.9L730.2,2543.9L734.2,2543.9L738.3,2543.9L742.3,2543.9L746.3,2543.9L750.3,2543.9L754.3,2543.9L758.3,2544L762.3,2544L766.3,2544L770.3,2544L774.3,2544L778.3,2544L782.3,2544L786.3,2544L790.3,2544L794.3,2544L798.3,2544L802.3,2544" fill="none" stroke="#3a80d2" stroke-width="8"/>
<path d="M802.3,2544L806.3,2544L810.3,2544L814.3,2544L818.4,2544L822.4,2544L826.4,2544L830.4,2544L834.4,2544L838.4,2544L842.4,2544L846.4,2544L850.4,2544L854.4,2544L858.4,2544L862.4,2544L866.4,2544L870.4,2544.1L874.4,2544.1L878.4,2544.1L882.4,2544.1L886.4,2544.1L890.4,2544.2L894.5,2544.2L898.5,2544.3L902.5,2544.4L906.5,2544.5L910.5,2544.6L914.5,2544.8L918.5,2545L922.5,2545.3L926.5,2545.6L930.5,2546L934.5,2546.4L938.5,2546.9L942.5,2547.4L946.5,2548.1L950.5,2548.8L954.5,2549.5L958.5,2550.4L962.5,2551.3L966.5,2552.2L970.5,2553.2L974.6,2554.2L978.6,2555.2L982.6,2556.3L986.6,2557.3L990.6,2558.3L994.6,2559.3L998.6,2560.2L1002.6,2561.1L1006.6,2561.9L1010.6,2562.7L1014.6,2563.4L1018.6,2564L1022.6,2564.6L1026.6,2565.1L1030.6,2565.5L1034.6,2565.8L1038.6,2566.1L1042.6,2566.4L1046.6,2566.6L1050.7,2566.8L1054.7,2566.9L1058.7,2567L1062.7,2567.1L1066.7,2567.2L1070.7,2567.2L1074.7,2567.3L1078.7,2567.3L1082.7,2567.3L1086.7,2567.4L1090.7,2567.4L1094.7,2567.4L1098.7,2567.4L1102.7,2567.4L1106.7,2567.4L1110.7,2567.4L1114.7,2567.4L1118.7,2567.4L1122.7,2567.4L1126.7,2567.4L1130.8,2567.4L1134.8,2567.4L1138.8,2567.4L1142.8,2567.4L1146.8,2567.4L1150.8,2567.4L1154.8,2567.4L1158.8,2567.4L1162.8,2567.4L1166.8,2567.4" fill="none" stroke="#2ea070" stroke-width="8"/>
<path d="M153.5,2528L157.5,2528L161.5,2528L165.5,2528L169.5,2528L173.5,2528L177.5,2528L181.5,2528L185.5,2528L189.5,2528L193.6,2528L197.6,2528L201.6,2528L205.6,2528L209.6,2528L213.6,2528L217.6,2528L221.6,2528L225.6,2528L229.6,2528L233.6,2528L237.6,2528L241.6,2528L245.6,2528L249.6,2528L253.6,2528L257.6,2528L261.6,2528L265.6,2528L269.6,2528L273.7,2528L277.7,2528L281.7,2528L285.7,2528L289.7,2528L293.7,2528L297.7,2528L301.7,2528L305.7,2528L309.7,2528L313.7,2528L317.7,2528L321.7,2528L325.7,2528L329.7,2528L333.7,2528L337.7,2528L341.7,2528L345.7,2528L349.8,2528L353.8,2528L357.8,2528L361.8,2528L365.8,2528L369.8,2528L373.8,2528L377.8,2528L381.8,2528L385.8,2528L389.8,2528.1L393.8,2528.1L397.8,2528.1L401.8,2528.1L405.8,2528.1L409.8,2528.1L413.8,2528.1L417.8,2528.1L421.8,2528.1L425.8,2528.1L429.9,2528.1L433.9,2528.1L437.9,2528.1L441.9,2528.1L445.9,2528.1L449.9,2528.1L453.9,2528.1L457.9,2528.1L461.9,2528.1L465.9,2528.1L469.9,2528.1L473.9,2528.1L477.9,2528.1L481.9,2528.1L485.9,2528.1L489.9,2528.1L493.9,2528.1L497.9,2528.1L501.9,2528.1L506,2528.2L510,2528.2L514,2528.2L518,2528.2L522,2528.2L526,2528.2L530,2528.2L534,2528.3L538,2528.3L542,2528.4L546,2528.4L550,2528.5L554,2528.6L558,2528.7L562,2528.9L566,2529L570,2529.3L574,2529.5L578,2529.8L582,2530.1L586.1,2530.5L590.1,2531L594.1,2531.4L598.1,2532L602.1,2532.6L606.1,2533.2L610.1,2533.8L614.1,2534.5L618.1,2535.2L622.1,2536L626.1,2536.7L630.1,2537.4L634.1,2538.1L638.1,2538.8L642.1,2539.4L646.1,2540L650.1,2540.5L654.1,2541L658.1,2541.5L662.2,2541.9L666.2,2542.2L670.2,2542.5L674.2,2542.8L678.2,2543L682.2,2543.2L686.2,2543.3L690.2,2543.5L694.2,2543.6L698.2,2543.6L702.2,2543.7L706.2,2543.7L710.2,2543.8L714.2,2543.8L718.2,2543.8L722.2,2543.9L726.2,2543.9L730.2,2543.9L734.2,2543.9L738.3,2543.9L742.3,2543.9L746.3,2543.9L750.3,2543.9L754.3,2543.9L758.3,2544L762.3,2544L766.3,2544L770.3,2544L774.3,2544L778.3,2544L782.3,2544L786.3,2544L790.3,2544L794.3,2544L798.3,2544L802.3,2544L806.3,2544L810.3,2544L814.3,2544L818.4,2544L822.4,2544L826.4,2544L830.4,2544L834.4,2544L838.4,2544L842.4,2544L846.4,2544L850.4,2544L854.4,2544L858.4,2544L862.4,2544L866.4,2544L870.4,2544.1L874.4,2544.1L878.4,2544.1L882.4,2544.1L886.4,2544.1L890.4,2544.2L894.5,2544.2L898.5,2544.3L902.5,2544.4L906.5,2544.5L910.5,2544.6L914.5,2544.8L918.5,2545L922.5,2545.3L926.5,2545.6L930.5,2546L934.5,2546.4L938.5,2546.9L942.5,2547.4L946.5,2548.1L950.5,2548.8L954.5,2549.5L958.5,2550.4L962.5,2551.3L966.5,2552.2L970.5,2553.2L974.6,2554.2L978.6,2555.2L982.6,2556.3L986.6,2557.3L990.6,2558.3L994.6,2559.3L998.6,2560.2L1002.6,2561.1L1006.6,2561.9L1010.6,2562.7L1014.6,2563.4L1018.6,2564L1022.6,2564.6L1026.6,2565.1L1030.6,2565.5L1034.6,2565.8L1038.6,2566.1L1042.6,2566.4L1046.6,2566.6L1050.7,2566.8L1054.7,2566.9L1058.7,2567L1062.7,2567.1L1066.7,2567.2L1070.7,2567.2L1074.7,2567.3L1078.7,2567.3L1082.7,2567.3L1086.7,2567.4L1090.7,2567.4L1094.7,2567.4L1098.7,2567.4L1102.7,2567.4L1106.7,2567.4L1110.7,2567.4L1114.7,2567.4L1118.7,2567.4L1122.7,2567.4L1126.7,2567.4L1130.8,2567.4L1134.8,2567.4L1138.8,2567.4L1142.8,2567.4L1146.8,2567.4L1150.8,2567.4L1154.8,2567.4L1158.8,2567.4L1162.8,2567.4L1166.8,2567.4" fill="none" stroke="#404040" stroke-width="4.5"/>
<path d="M514,2522.6L518,2521.5L522,2520L526,2518.1L530,2515.5L534,2512.3L538,2508.1L542,2502.9L546,2496.3L550,2488.3L554,2478.6L558,2467L562,2453.4L566,2437.7L570,2419.9L574,2400L578,2378.3L582,2354.9L586.1,2330.3L590.1,2305.1L594.1,2279.8L598.1,2255.1L602.1,2231.9L606.1,2210.9L610.1,2192.9L614.1,2178.6L618.1,2168.8L622.1,2163.9L626.1,2164.1L630.1,2169.5L634.1,2179.8L638.1,2194.5L642.1,2213.1L646.1,2234.8L650.1,2258.8L654.1,2284.3L658.1,2310.5L662.2,2336.6L666.2,2362.1L670.2,2386.4L674.2,2409.1L678.2,2429.8L682.2,2448.4L686.2,2464.9L690.2,2479.2L694.2,2491.4L698.2,2501.6L702.2,2510.1L706.2,2517.1L710.2,2522.6L714.2,2527.1L718.2,2530.6L722.2,2533.3L726.2,2535.3L730.2,2536.9L734.2,2538.1L738.3,2539" fill="none" stroke="#3fb58a" stroke-width="8.5" stroke-linejoin="round"/>
<path d="M866.4,2541.1L870.4,2539.8L874.4,2538.2L878.4,2535.9L882.4,2532.9L886.4,2528.9L890.4,2523.8L894.5,2517.4L898.5,2509.2L902.5,2499.2L906.5,2487L910.5,2472.3L914.5,2455.1L918.5,2434.9L922.5,2412L926.5,2386.1L930.5,2357.5L934.5,2326.4L938.5,2293.3L942.5,2258.7L946.5,2223.4L950.5,2188.1L954.5,2153.9L958.5,2121.7L962.5,2092.4L966.5,2067.2L970.5,2046.8L974.6,2032L978.6,2023.3L982.6,2021.2L986.6,2025.6L990.6,2036.5L994.6,2053.5L998.6,2076L1002.6,2103.2L1006.6,2134.2L1010.6,2168.1L1014.6,2203.9L1018.6,2240.5L1022.6,2277L1026.6,2312.6L1030.6,2346.5L1034.6,2378.3L1038.6,2407.5L1042.6,2433.9L1046.6,2457.2L1050.7,2477.6L1054.7,2495.1L1058.7,2510L1062.7,2522.3L1066.7,2532.4L1070.7,2540.6L1074.7,2547.1L1078.7,2552.2L1082.7,2556.2L1086.7,2559.2L1090.7,2561.5L1094.7,2563.2L1098.7,2564.5" fill="none" stroke="#4f86d6" stroke-width="8.5" stroke-linejoin="round"/>
<rect x="145.4" y="2519.9" width="12" height="12" fill="#c4c4c4" stroke="#7c7c7c" stroke-width="1.8"/>
<rect x="172" y="2521.5" width="12" height="12" fill="#c4c4c4" stroke="#7c7c7c" stroke-width="1.8"/>
<rect x="198.6" y="2518.2" width="12" height="12" fill="#c4c4c4" stroke="#7c7c7c" stroke-width="1.8"/>
<rect x="225.2" y="2509.3" width="12" height="12" fill="#c4c4c4" stroke="#7c7c7c" stroke-width="1.8"/>
<rect x="251.8" y="2528.1" width="12" height="12" fill="#c4c4c4" stroke="#7c7c7c" stroke-width="1.8"/>
<rect x="278.4" y="2524.2" width="12" height="12" fill="#c4c4c4" stroke="#7c7c7c" stroke-width="1.8"/>
<rect x="305" y="2524.4" width="12" height="12" fill="#c4c4c4" stroke="#7c7c7c" stroke-width="1.8"/>
<rect x="331.6" y="2516" width="12" height="12" fill="#c4c4c4" stroke="#7c7c7c" stroke-width="1.8"/>
<rect x="358.2" y="2526.2" width="12" height="12" fill="#c4c4c4" stroke="#7c7c7c" stroke-width="1.8"/>
<rect x="384.8" y="2523.9" width="12" height="12" fill="#c4c4c4" stroke="#7c7c7c" stroke-width="1.8"/>
<rect x="411.4" y="2523.8" width="12" height="12" fill="#c4c4c4" stroke="#7c7c7c" stroke-width="1.8"/>
<rect x="438" y="2517.7" width="12" height="12" fill="#c4c4c4" stroke="#7c7c7c" stroke-width="1.8"/>
<rect x="464.6" y="2524.2" width="12" height="12" fill="#c4c4c4" stroke="#7c7c7c" stroke-width="1.8"/>
<rect x="491.2" y="2518.7" width="12" height="12" fill="#c4c4c4" stroke="#7c7c7c" stroke-width="1.8"/>
<rect x="517.8" y="2517.9" width="12" height="12" fill="#c4c4c4" stroke="#7c7c7c" stroke-width="1.8"/>
<rect x="544.4" y="2480.3" width="12" height="12" fill="#c4c4c4" stroke="#7c7c7c" stroke-width="1.8"/>
<rect x="571" y="2373.7" width="12" height="12" fill="#c4c4c4" stroke="#7c7c7c" stroke-width="1.8"/>
<rect x="597.6" y="2219.2" width="12" height="12" fill="#c4c4c4" stroke="#7c7c7c" stroke-width="1.8"/>
<rect x="624.2" y="2166.5" width="12" height="12" fill="#c4c4c4" stroke="#7c7c7c" stroke-width="1.8"/>
<rect x="650.8" y="2293.4" width="12" height="12" fill="#c4c4c4" stroke="#7c7c7c" stroke-width="1.8"/>
<rect x="677.4" y="2443.3" width="12" height="12" fill="#c4c4c4" stroke="#7c7c7c" stroke-width="1.8"/>
<rect x="704" y="2514.7" width="12" height="12" fill="#c4c4c4" stroke="#7c7c7c" stroke-width="1.8"/>
<rect x="730.6" y="2537.3" width="12" height="12" fill="#c4c4c4" stroke="#7c7c7c" stroke-width="1.8"/>
<rect x="757.2" y="2538.1" width="12" height="12" fill="#c4c4c4" stroke="#7c7c7c" stroke-width="1.8"/>
<rect x="783.8" y="2532.5" width="12" height="12" fill="#c4c4c4" stroke="#7c7c7c" stroke-width="1.8"/>
<rect x="810.4" y="2534.2" width="12" height="12" fill="#c4c4c4" stroke="#7c7c7c" stroke-width="1.8"/>
<rect x="837" y="2532.7" width="12" height="12" fill="#c4c4c4" stroke="#7c7c7c" stroke-width="1.8"/>
<rect x="863.6" y="2528.9" width="12" height="12" fill="#c4c4c4" stroke="#7c7c7c" stroke-width="1.8"/>
<rect x="890.2" y="2510.1" width="12" height="12" fill="#c4c4c4" stroke="#7c7c7c" stroke-width="1.8"/>
<rect x="916.8" y="2400.2" width="12" height="12" fill="#c4c4c4" stroke="#7c7c7c" stroke-width="1.8"/>
<rect x="943.4" y="2192.1" width="12" height="12" fill="#c4c4c4" stroke="#7c7c7c" stroke-width="1.8"/>
<rect x="970" y="2021.9" width="12" height="12" fill="#c4c4c4" stroke="#7c7c7c" stroke-width="1.8"/>
<rect x="996.6" y="2093.8" width="12" height="12" fill="#c4c4c4" stroke="#7c7c7c" stroke-width="1.8"/>
<rect x="1023.2" y="2330.5" width="12" height="12" fill="#c4c4c4" stroke="#7c7c7c" stroke-width="1.8"/>
<rect x="1049.8" y="2489.4" width="12" height="12" fill="#c4c4c4" stroke="#7c7c7c" stroke-width="1.8"/>
<rect x="1076.4" y="2551.1" width="12" height="12" fill="#c4c4c4" stroke="#7c7c7c" stroke-width="1.8"/>
<rect x="1103" y="2556.2" width="12" height="12" fill="#c4c4c4" stroke="#7c7c7c" stroke-width="1.8"/>
<rect x="1129.6" y="2560.4" width="12" height="12" fill="#c4c4c4" stroke="#7c7c7c" stroke-width="1.8"/>
<rect x="1156.2" y="2558.4" width="12" height="12" fill="#c4c4c4" stroke="#7c7c7c" stroke-width="1.8"/>
<path d="M153.5,2527.3L168.2,2536.3L181.8,2527.9L196.9,2521.4L211,2530.3L228.5,2519.6L240.2,2519.5L257.9,2531.5L266.4,2537.3L285.9,2530.7L301.3,2520.7L309.5,2528.1L318.2,2521.3L329.1,2518.1L342.7,2526.2L360.8,2527.7L376.5,2527.3L392.4,2526.3L403.8,2537L423.7,2533.7L429.9,2526.8L433.9,2526.8L437.9,2526.7L441.9,2526.7L445.9,2526.6L449.9,2526.6L453.9,2526.5L457.9,2526.4L461.9,2526.3L465.9,2526.3L469.9,2526.2L473.9,2526.1L477.9,2525.9L481.9,2525.8L485.9,2525.7L489.9,2525.5L493.9,2525.2L497.9,2524.9L501.9,2524.6L506,2524.1L510,2523.4L514,2522.6L518,2521.5L522,2520L526,2518.1L530,2515.5L534,2512.3L538,2508.1L542,2502.9L546,2496.3L550,2488.3L554,2478.6L558,2467L562,2453.4L566,2437.7L570,2419.9L574,2400L578,2378.3L582,2354.9L586.1,2330.3L590.1,2305.1L594.1,2279.8L598.1,2255.1L602.1,2231.9L606.1,2210.9L610.1,2192.9L614.1,2178.6L618.1,2168.8L622.1,2163.9L626.1,2164.1L630.1,2169.5L634.1,2179.8L638.1,2194.5L642.1,2213.1L646.1,2234.8L650.1,2258.8L654.1,2284.3L658.1,2310.5L662.2,2336.6L666.2,2362.1L670.2,2386.4L674.2,2409.1L678.2,2429.8L682.2,2448.4L686.2,2464.9L690.2,2479.2L694.2,2491.4L698.2,2501.6L702.2,2510.1L706.2,2517.1L710.2,2522.6L714.2,2527.1L718.2,2530.6L722.2,2533.3L726.2,2535.3L730.2,2536.9L734.2,2538.1L738.3,2539L742.3,2539.7L746.3,2540.3L750.3,2540.7L754.3,2541L758.3,2541.2L762.3,2541.5L766.3,2541.6L770.3,2541.8L774.3,2541.9L778.3,2542L782.3,2542.1L786.3,2542.2L790.3,2542.3L794.3,2542.4L798.3,2542.4L802.3,2542.5L806.3,2542.6L810.3,2542.6L814.3,2542.7L818.4,2542.7L822.4,2542.8L826.4,2542.8L830.4,2542.8L834.4,2542.8L838.4,2542.8L842.4,2542.7L846.4,2542.6L850.4,2542.5L854.4,2542.2L858.4,2541.8L862.4,2541.1L866.4,2540.3L870.4,2539.1L874.4,2537.4L878.4,2535.1L882.4,2532.1L886.4,2528.2L890.4,2523.1L894.5,2516.7L898.5,2508.6L902.5,2498.6L906.5,2486.4L910.5,2471.8L914.5,2454.5L918.5,2434.4L922.5,2411.4L926.5,2385.5L930.5,2357L934.5,2325.9L938.5,2292.8L942.5,2258.2L946.5,2222.9L950.5,2187.7L954.5,2153.4L958.5,2121.2L962.5,2092L966.5,2066.8L970.5,2046.4L974.6,2031.6L978.6,2023L982.6,2020.8L986.6,2025.2L990.6,2036.1L994.6,2053.1L998.6,2075.6L1002.6,2102.8L1006.6,2133.9L1010.6,2167.8L1014.6,2203.5L1018.6,2240.1L1022.6,2276.7L1026.6,2312.3L1030.6,2346.2L1034.6,2378L1038.6,2407.2L1042.6,2433.6L1046.6,2457L1050.7,2477.4L1054.7,2494.9L1058.7,2509.7L1062.7,2522L1066.7,2532.2L1070.7,2540.4L1074.7,2546.9L1078.7,2552L1082.7,2556L1086.7,2559L1090.7,2561.3L1094.7,2563L1098.7,2564.2L1102.7,2565.1L1106.7,2565.8L1110.7,2566.2L1114.7,2566.6L1118.7,2566.8L1122.7,2566.9L1126.7,2567L1130.8,2567.1L1134.8,2567.1L1138.8,2567.2L1142.8,2567.2L1146.8,2567.2L1150.8,2567.2L1154.8,2567.2L1158.8,2567.2L1162.8,2567.2L1166.8,2567.2" fill="none" stroke="#fe3b3b" stroke-width="5.5" stroke-linejoin="round" stroke-linecap="round"/>
<path d="M153.5,2940.3L157.5,2940.3L161.5,2940.3L165.5,2940.3L169.5,2940.3L173.5,2940.3L177.5,2940.3L181.5,2940.3L185.5,2940.3L189.5,2940.3L193.6,2940.3L197.6,2940.3L201.6,2940.3L205.6,2940.3L209.6,2940.3L213.6,2940.3L217.6,2940.3L221.6,2940.3L225.6,2940.2L229.6,2940.2L233.6,2940.2L237.6,2940.2L241.6,2940.2L245.6,2940.2L249.6,2940.2L253.6,2940.2L257.6,2940.2L261.6,2940.2L265.6,2940.2L269.6,2940.2L273.7,2940.2L277.7,2940.2L281.7,2940.2L285.7,2940.2L289.7,2940.2L293.7,2940.2L297.7,2940.2L301.7,2940.2L305.7,2940.2L309.7,2940.2L313.7,2940.2L317.7,2940.2L321.7,2940.2L325.7,2940.2L329.7,2940.2L333.7,2940.2L337.7,2940.2L341.7,2940.1L345.7,2940.1L349.8,2940.1L353.8,2940.1L357.8,2940.1L361.8,2940.1L365.8,2940.1L369.8,2940.1L373.8,2940.1L377.8,2940.1L381.8,2940.1L385.8,2940.1L389.8,2940.1L393.8,2940L397.8,2940L401.8,2940L405.8,2940L409.8,2940L413.8,2940L417.8,2940L421.8,2940L425.8,2940L429.9,2939.9L433.9,2939.9L437.9,2939.9L441.9,2939.9L445.9,2939.9L449.9,2939.9L453.9,2939.8L457.9,2939.8L461.9,2939.8L465.9,2939.8L469.9,2939.7L473.9,2939.7L477.9,2939.7L481.9,2939.6L485.9,2939.6L489.9,2939.6L493.9,2939.5L497.9,2939.5L501.9,2939.4L506,2939.3L510,2939.2L514,2939L518,2938.8L522,2938.6L526,2938.2L530,2937.7L534,2937.1L538,2936.3L542,2935.1L546,2933.7L550,2931.8L554,2929.3L558,2926.2L562,2922.4L566,2917.7L570,2911.9L574,2905.1L578,2897.1L582,2887.8L586.1,2877.3L590.1,2865.5L594.1,2852.6L598.1,2838.8L602.1,2824.2L606.1,2809.1L610.1,2793.9L614.1,2779.1L618.1,2765L622.1,2752.1L626.1,2740.9L630.1,2731.8L634.1,2725.1L638.1,2721.3L642.1,2720.4L646.1,2722.5L650.1,2727.6L654.1,2735.3L658.1,2745.5L662.2,2757.8L666.2,2771.6L670.2,2786.5L674.2,2802.1L678.2,2817.9L682.2,2833.5L686.2,2848.6L690.2,2862.8L694.2,2876L698.2,2888L702.2,2898.7L706.2,2908.1L710.2,2916.2L714.2,2923.1L718.2,2928.9L722.2,2933.6L726.2,2937.5L730.2,2940.6L734.2,2943L738.3,2944.9L742.3,2946.4L746.3,2947.5L750.3,2948.3L754.3,2948.9L758.3,2949.4L762.3,2949.7L766.3,2950L770.3,2950.2L774.3,2950.3L778.3,2950.4L782.3,2950.5L786.3,2950.5L790.3,2950.6L794.3,2950.6L798.3,2950.6L802.3,2950.6L806.3,2950.7L810.3,2950.7L814.3,2950.7L818.4,2950.7L822.4,2950.6L826.4,2950.6L830.4,2950.6L834.4,2950.6L838.4,2950.6L842.4,2950.5L846.4,2950.5L850.4,2950.5L854.4,2950.4L858.4,2950.3L862.4,2950.2L866.4,2950.1L870.4,2950L874.4,2949.8L878.4,2949.5L882.4,2949.1L886.4,2948.6L890.4,2947.9L894.5,2946.9L898.5,2945.6L902.5,2944L906.5,2941.7L910.5,2938.9L914.5,2935.2L918.5,2930.5L922.5,2924.7L926.5,2917.6L930.5,2908.9L934.5,2898.6L938.5,2886.5L942.5,2872.4L946.5,2856.5L950.5,2838.7L954.5,2819.2L958.5,2798.2L962.5,2776L966.5,2753.2L970.5,2730.2L974.6,2707.7L978.6,2686.3L982.6,2666.8L986.6,2649.7L990.6,2635.9L994.6,2625.9L998.6,2620L1002.6,2618.6L1006.6,2621.8L1010.6,2629.4L1014.6,2641.2L1018.6,2656.6L1022.6,2675.1L1026.6,2696.1L1030.6,2718.7L1034.6,2742.4L1038.6,2766.3L1042.6,2790L1046.6,2812.9L1050.7,2834.5L1054.7,2854.5L1058.7,2872.7L1062.7,2889L1066.7,2903.3L1070.7,2915.6L1074.7,2926.1L1078.7,2934.9L1082.7,2942.1L1086.7,2948L1090.7,2952.7L1094.7,2956.4L1098.7,2959.3L1102.7,2961.5L1106.7,2963.3L1110.7,2964.6L1114.7,2965.5L1118.7,2966.2L1122.7,2966.8L1126.7,2967.2L1130.8,2967.5L1134.8,2967.7L1138.8,2967.9L1142.8,2968L1146.8,2968.2L1150.8,2968.2L1154.8,2968.3L1158.8,2968.4L1162.8,2968.5L1166.8,2968.5L1166.8,2969.6L1162.8,2969.6L1158.8,2969.6L1154.8,2969.6L1150.8,2969.6L1146.8,2969.6L1142.8,2969.6L1138.8,2969.6L1134.8,2969.6L1130.8,2969.6L1126.7,2969.6L1122.7,2969.6L1118.7,2969.6L1114.7,2969.5L1110.7,2969.5L1106.7,2969.5L1102.7,2969.5L1098.7,2969.5L1094.7,2969.5L1090.7,2969.4L1086.7,2969.4L1082.7,2969.4L1078.7,2969.3L1074.7,2969.2L1070.7,2969.1L1066.7,2969L1062.7,2968.8L1058.7,2968.7L1054.7,2968.4L1050.7,2968.2L1046.6,2967.9L1042.6,2967.5L1038.6,2967.1L1034.6,2966.6L1030.6,2966.1L1026.6,2965.5L1022.6,2964.9L1018.6,2964.3L1014.6,2963.5L1010.6,2962.8L1006.6,2962L1002.6,2961.3L998.6,2960.5L994.6,2959.7L990.6,2958.9L986.6,2958.2L982.6,2957.5L978.6,2956.8L974.6,2956.2L970.5,2955.6L966.5,2955.1L962.5,2954.6L958.5,2954.2L954.5,2953.8L950.5,2953.5L946.5,2953.3L942.5,2953L938.5,2952.9L934.5,2952.7L930.5,2952.6L926.5,2952.5L922.5,2952.4L918.5,2952.3L914.5,2952.3L910.5,2952.2L906.5,2952.2L902.5,2952.2L898.5,2952.2L894.5,2952.2L890.4,2952.1L886.4,2952.1L882.4,2952.1L878.4,2952.1L874.4,2952.1L870.4,2952.1L866.4,2952.1L862.4,2952.1L858.4,2952.1L854.4,2952.1L850.4,2952.1L846.4,2952.1L842.4,2952.1L838.4,2952.1L834.4,2952.1L830.4,2952.1L826.4,2952.1L822.4,2952.1L818.4,2952.1L814.3,2952.1L810.3,2952L806.3,2952L802.3,2952L798.3,2952L794.3,2952L790.3,2952L786.3,2952L782.3,2952L778.3,2952L774.3,2952L770.3,2952L766.3,2952L762.3,2952L758.3,2952L754.3,2952L750.3,2952L746.3,2952L742.3,2952L738.3,2952L734.2,2951.9L730.2,2951.9L726.2,2951.9L722.2,2951.9L718.2,2951.8L714.2,2951.8L710.2,2951.7L706.2,2951.6L702.2,2951.5L698.2,2951.4L694.2,2951.3L690.2,2951.1L686.2,2950.9L682.2,2950.6L678.2,2950.4L674.2,2950.1L670.2,2949.7L666.2,2949.3L662.2,2948.9L658.1,2948.5L654.1,2948L650.1,2947.5L646.1,2947L642.1,2946.5L638.1,2946L634.1,2945.5L630.1,2945L626.1,2944.5L622.1,2944L618.1,2943.6L614.1,2943.2L610.1,2942.8L606.1,2942.4L602.1,2942.1L598.1,2941.9L594.1,2941.6L590.1,2941.4L586.1,2941.2L582,2941.1L578,2941L574,2940.9L570,2940.8L566,2940.7L562,2940.7L558,2940.6L554,2940.6L550,2940.6L546,2940.5L542,2940.5L538,2940.5L534,2940.5L530,2940.5L526,2940.5L522,2940.5L518,2940.5L514,2940.5L510,2940.5L506,2940.5L501.9,2940.5L497.9,2940.5L493.9,2940.5L489.9,2940.5L485.9,2940.5L481.9,2940.5L477.9,2940.5L473.9,2940.5L469.9,2940.5L465.9,2940.5L461.9,2940.4L457.9,2940.4L453.9,2940.4L449.9,2940.4L445.9,2940.4L441.9,2940.4L437.9,2940.4L433.9,2940.4L429.9,2940.4L425.8,2940.4L421.8,2940.4L417.8,2940.4L413.8,2940.4L409.8,2940.4L405.8,2940.4L401.8,2940.4L397.8,2940.4L393.8,2940.4L389.8,2940.4L385.8,2940.4L381.8,2940.4L377.8,2940.4L373.8,2940.4L369.8,2940.4L365.8,2940.4L361.8,2940.4L357.8,2940.4L353.8,2940.4L349.8,2940.4L345.7,2940.4L341.7,2940.4L337.7,2940.4L333.7,2940.4L329.7,2940.4L325.7,2940.4L321.7,2940.4L317.7,2940.4L313.7,2940.4L309.7,2940.4L305.7,2940.4L301.7,2940.4L297.7,2940.4L293.7,2940.4L289.7,2940.4L285.7,2940.4L281.7,2940.4L277.7,2940.4L273.7,2940.4L269.6,2940.4L265.6,2940.4L261.6,2940.4L257.6,2940.4L253.6,2940.4L249.6,2940.4L245.6,2940.4L241.6,2940.4L237.6,2940.4L233.6,2940.4L229.6,2940.4L225.6,2940.4L221.6,2940.4L217.6,2940.4L213.6,2940.4L209.6,2940.4L205.6,2940.4L201.6,2940.4L197.6,2940.4L193.6,2940.4L189.5,2940.4L185.5,2940.4L181.5,2940.4L177.5,2940.4L173.5,2940.4L169.5,2940.4L165.5,2940.4L161.5,2940.4L157.5,2940.4L153.5,2940.4 Z" fill="url(#g14)"/>
<path d="M153.5,2940.4L157.5,2940.4L161.5,2940.4L165.5,2940.4L169.5,2940.4L173.5,2940.4L177.5,2940.4L181.5,2940.4L185.5,2940.4L189.5,2940.4L193.6,2940.4L197.6,2940.4L201.6,2940.4L205.6,2940.4L209.6,2940.4L213.6,2940.4L217.6,2940.4L221.6,2940.4L225.6,2940.4L229.6,2940.4L233.6,2940.4L237.6,2940.4L241.6,2940.4L245.6,2940.4L249.6,2940.4L253.6,2940.4L257.6,2940.4L261.6,2940.4L265.6,2940.4L269.6,2940.4L273.7,2940.4L277.7,2940.4L281.7,2940.4L285.7,2940.4L289.7,2940.4L293.7,2940.4L297.7,2940.4L301.7,2940.4L305.7,2940.4L309.7,2940.4L313.7,2940.4L317.7,2940.4L321.7,2940.4L325.7,2940.4L329.7,2940.4L333.7,2940.4L337.7,2940.4L341.7,2940.4L345.7,2940.4L349.8,2940.4L353.8,2940.4L357.8,2940.4L361.8,2940.4L365.8,2940.4L369.8,2940.4L373.8,2940.4L377.8,2940.4L381.8,2940.4L385.8,2940.4L389.8,2940.4L393.8,2940.4L397.8,2940.4L401.8,2940.4L405.8,2940.4L409.8,2940.4L413.8,2940.4L417.8,2940.4L421.8,2940.4L425.8,2940.4L429.9,2940.4L433.9,2940.4L437.9,2940.4L441.9,2940.4L445.9,2940.4L449.9,2940.4L453.9,2940.4L457.9,2940.4L461.9,2940.4L465.9,2940.5L469.9,2940.5L473.9,2940.5L477.9,2940.5L481.9,2940.5L485.9,2940.5L489.9,2940.5L493.9,2940.5L497.9,2940.5L501.9,2940.5L506,2940.5L510,2940.5L514,2940.5L518,2940.5L522,2940.5L526,2940.5L530,2940.5L534,2940.5L538,2940.5L542,2940.5L546,2940.5L550,2940.6L554,2940.6L558,2940.6L562,2940.7L566,2940.7L570,2940.8L574,2940.9L578,2941L582,2941.1L586.1,2941.2L590.1,2941.4L594.1,2941.6L598.1,2941.9L602.1,2942.1L606.1,2942.4L610.1,2942.8L614.1,2943.2L618.1,2943.6L622.1,2944L626.1,2944.5L630.1,2945L634.1,2945.5L638.1,2946L642.1,2946.5L646.1,2947L650.1,2947.5L654.1,2948L658.1,2948.5L662.2,2948.9L666.2,2949.3L670.2,2949.7L674.2,2950.1L678.2,2950.4L682.2,2950.6L686.2,2950.9L690.2,2951.1L694.2,2951.3L698.2,2951.4L702.2,2951.5L706.2,2951.6L710.2,2951.7L714.2,2951.8L718.2,2951.8L722.2,2951.9L726.2,2951.9L730.2,2951.9L734.2,2951.9L738.3,2952L742.3,2952L746.3,2952L750.3,2952L754.3,2952L758.3,2952L762.3,2952L766.3,2952L770.3,2952L774.3,2952L778.3,2952L782.3,2952L786.3,2952L790.3,2952L794.3,2952L798.3,2952L802.3,2952L806.3,2952L810.3,2952L814.3,2952.1L818.4,2952.1L822.4,2952.1" fill="none" stroke="#3a80d2" stroke-width="8"/>
<path d="M822.4,2952.1L826.4,2952.1L830.4,2952.1L834.4,2952.1L838.4,2952.1L842.4,2952.1L846.4,2952.1L850.4,2952.1L854.4,2952.1L858.4,2952.1L862.4,2952.1L866.4,2952.1L870.4,2952.1L874.4,2952.1L878.4,2952.1L882.4,2952.1L886.4,2952.1L890.4,2952.1L894.5,2952.2L898.5,2952.2L902.5,2952.2L906.5,2952.2L910.5,2952.2L914.5,2952.3L918.5,2952.3L922.5,2952.4L926.5,2952.5L930.5,2952.6L934.5,2952.7L938.5,2952.9L942.5,2953L946.5,2953.3L950.5,2953.5L954.5,2953.8L958.5,2954.2L962.5,2954.6L966.5,2955.1L970.5,2955.6L974.6,2956.2L978.6,2956.8L982.6,2957.5L986.6,2958.2L990.6,2958.9L994.6,2959.7L998.6,2960.5L1002.6,2961.3L1006.6,2962L1010.6,2962.8L1014.6,2963.5L1018.6,2964.3L1022.6,2964.9L1026.6,2965.5L1030.6,2966.1L1034.6,2966.6L1038.6,2967.1L1042.6,2967.5L1046.6,2967.9L1050.7,2968.2L1054.7,2968.4L1058.7,2968.7L1062.7,2968.8L1066.7,2969L1070.7,2969.1L1074.7,2969.2L1078.7,2969.3L1082.7,2969.4L1086.7,2969.4L1090.7,2969.4L1094.7,2969.5L1098.7,2969.5L1102.7,2969.5L1106.7,2969.5L1110.7,2969.5L1114.7,2969.5L1118.7,2969.6L1122.7,2969.6L1126.7,2969.6L1130.8,2969.6L1134.8,2969.6L1138.8,2969.6L1142.8,2969.6L1146.8,2969.6L1150.8,2969.6L1154.8,2969.6L1158.8,2969.6L1162.8,2969.6L1166.8,2969.6" fill="none" stroke="#2ea070" stroke-width="8"/>
<path d="M153.5,2940.4L157.5,2940.4L161.5,2940.4L165.5,2940.4L169.5,2940.4L173.5,2940.4L177.5,2940.4L181.5,2940.4L185.5,2940.4L189.5,2940.4L193.6,2940.4L197.6,2940.4L201.6,2940.4L205.6,2940.4L209.6,2940.4L213.6,2940.4L217.6,2940.4L221.6,2940.4L225.6,2940.4L229.6,2940.4L233.6,2940.4L237.6,2940.4L241.6,2940.4L245.6,2940.4L249.6,2940.4L253.6,2940.4L257.6,2940.4L261.6,2940.4L265.6,2940.4L269.6,2940.4L273.7,2940.4L277.7,2940.4L281.7,2940.4L285.7,2940.4L289.7,2940.4L293.7,2940.4L297.7,2940.4L301.7,2940.4L305.7,2940.4L309.7,2940.4L313.7,2940.4L317.7,2940.4L321.7,2940.4L325.7,2940.4L329.7,2940.4L333.7,2940.4L337.7,2940.4L341.7,2940.4L345.7,2940.4L349.8,2940.4L353.8,2940.4L357.8,2940.4L361.8,2940.4L365.8,2940.4L369.8,2940.4L373.8,2940.4L377.8,2940.4L381.8,2940.4L385.8,2940.4L389.8,2940.4L393.8,2940.4L397.8,2940.4L401.8,2940.4L405.8,2940.4L409.8,2940.4L413.8,2940.4L417.8,2940.4L421.8,2940.4L425.8,2940.4L429.9,2940.4L433.9,2940.4L437.9,2940.4L441.9,2940.4L445.9,2940.4L449.9,2940.4L453.9,2940.4L457.9,2940.4L461.9,2940.4L465.9,2940.5L469.9,2940.5L473.9,2940.5L477.9,2940.5L481.9,2940.5L485.9,2940.5L489.9,2940.5L493.9,2940.5L497.9,2940.5L501.9,2940.5L506,2940.5L510,2940.5L514,2940.5L518,2940.5L522,2940.5L526,2940.5L530,2940.5L534,2940.5L538,2940.5L542,2940.5L546,2940.5L550,2940.6L554,2940.6L558,2940.6L562,2940.7L566,2940.7L570,2940.8L574,2940.9L578,2941L582,2941.1L586.1,2941.2L590.1,2941.4L594.1,2941.6L598.1,2941.9L602.1,2942.1L606.1,2942.4L610.1,2942.8L614.1,2943.2L618.1,2943.6L622.1,2944L626.1,2944.5L630.1,2945L634.1,2945.5L638.1,2946L642.1,2946.5L646.1,2947L650.1,2947.5L654.1,2948L658.1,2948.5L662.2,2948.9L666.2,2949.3L670.2,2949.7L674.2,2950.1L678.2,2950.4L682.2,2950.6L686.2,2950.9L690.2,2951.1L694.2,2951.3L698.2,2951.4L702.2,2951.5L706.2,2951.6L710.2,2951.7L714.2,2951.8L718.2,2951.8L722.2,2951.9L726.2,2951.9L730.2,2951.9L734.2,2951.9L738.3,2952L742.3,2952L746.3,2952L750.3,2952L754.3,2952L758.3,2952L762.3,2952L766.3,2952L770.3,2952L774.3,2952L778.3,2952L782.3,2952L786.3,2952L790.3,2952L794.3,2952L798.3,2952L802.3,2952L806.3,2952L810.3,2952L814.3,2952.1L818.4,2952.1L822.4,2952.1L826.4,2952.1L830.4,2952.1L834.4,2952.1L838.4,2952.1L842.4,2952.1L846.4,2952.1L850.4,2952.1L854.4,2952.1L858.4,2952.1L862.4,2952.1L866.4,2952.1L870.4,2952.1L874.4,2952.1L878.4,2952.1L882.4,2952.1L886.4,2952.1L890.4,2952.1L894.5,2952.2L898.5,2952.2L902.5,2952.2L906.5,2952.2L910.5,2952.2L914.5,2952.3L918.5,2952.3L922.5,2952.4L926.5,2952.5L930.5,2952.6L934.5,2952.7L938.5,2952.9L942.5,2953L946.5,2953.3L950.5,2953.5L954.5,2953.8L958.5,2954.2L962.5,2954.6L966.5,2955.1L970.5,2955.6L974.6,2956.2L978.6,2956.8L982.6,2957.5L986.6,2958.2L990.6,2958.9L994.6,2959.7L998.6,2960.5L1002.6,2961.3L1006.6,2962L1010.6,2962.8L1014.6,2963.5L1018.6,2964.3L1022.6,2964.9L1026.6,2965.5L1030.6,2966.1L1034.6,2966.6L1038.6,2967.1L1042.6,2967.5L1046.6,2967.9L1050.7,2968.2L1054.7,2968.4L1058.7,2968.7L1062.7,2968.8L1066.7,2969L1070.7,2969.1L1074.7,2969.2L1078.7,2969.3L1082.7,2969.4L1086.7,2969.4L1090.7,2969.4L1094.7,2969.5L1098.7,2969.5L1102.7,2969.5L1106.7,2969.5L1110.7,2969.5L1114.7,2969.5L1118.7,2969.6L1122.7,2969.6L1126.7,2969.6L1130.8,2969.6L1134.8,2969.6L1138.8,2969.6L1142.8,2969.6L1146.8,2969.6L1150.8,2969.6L1154.8,2969.6L1158.8,2969.6L1162.8,2969.6L1166.8,2969.6" fill="none" stroke="#404040" stroke-width="4.5"/>
<path d="M530,2937.9L534,2937.2L538,2936.4L542,2935.3L546,2933.8L550,2931.9L554,2929.5L558,2926.4L562,2922.5L566,2917.8L570,2912.1L574,2905.3L578,2897.2L582,2888L586.1,2877.4L590.1,2865.7L594.1,2852.8L598.1,2838.9L602.1,2824.3L606.1,2809.3L610.1,2794.1L614.1,2779.3L618.1,2765.2L622.1,2752.3L626.1,2741.1L630.1,2732L634.1,2725.4L638.1,2721.5L642.1,2720.6L646.1,2722.7L650.1,2727.8L654.1,2735.6L658.1,2745.8L662.2,2758L666.2,2771.8L670.2,2786.8L674.2,2802.4L678.2,2818.2L682.2,2833.8L686.2,2848.9L690.2,2863.1L694.2,2876.3L698.2,2888.3L702.2,2899L706.2,2908.4L710.2,2916.6L714.2,2923.5L718.2,2929.2L722.2,2934L726.2,2937.9L730.2,2941L734.2,2943.4L738.3,2945.3L742.3,2946.8L746.3,2947.9L750.3,2948.8L754.3,2949.4" fill="none" stroke="#3fb58a" stroke-width="8.5" stroke-linejoin="round"/>
<path d="M890.4,2948.2L894.5,2947.2L898.5,2945.9L902.5,2944.2L906.5,2942L910.5,2939.1L914.5,2935.4L918.5,2930.8L922.5,2925L926.5,2917.8L930.5,2909.1L934.5,2898.8L938.5,2886.7L942.5,2872.6L946.5,2856.7L950.5,2838.9L954.5,2819.4L958.5,2798.4L962.5,2776.2L966.5,2753.4L970.5,2730.4L974.6,2707.9L978.6,2686.5L982.6,2666.9L986.6,2649.9L990.6,2636.1L994.6,2626L998.6,2620.1L1002.6,2618.7L1006.6,2621.9L1010.6,2629.5L1014.6,2641.3L1018.6,2656.7L1022.6,2675.2L1026.6,2696.2L1030.6,2718.8L1034.6,2742.5L1038.6,2766.5L1042.6,2790.1L1046.6,2813L1050.7,2834.6L1054.7,2854.6L1058.7,2872.9L1062.7,2889.1L1066.7,2903.4L1070.7,2915.7L1074.7,2926.2L1078.7,2935L1082.7,2942.2L1086.7,2948.1L1090.7,2952.8L1094.7,2956.5L1098.7,2959.4L1102.7,2961.6L1106.7,2963.3L1110.7,2964.6L1114.7,2965.6" fill="none" stroke="#4f86d6" stroke-width="8.5" stroke-linejoin="round"/>
<rect x="145.4" y="2940" width="12" height="12" fill="#c4c4c4" stroke="#7c7c7c" stroke-width="1.8"/>
<rect x="172" y="2927.9" width="12" height="12" fill="#c4c4c4" stroke="#7c7c7c" stroke-width="1.8"/>
<rect x="198.6" y="2934.1" width="12" height="12" fill="#c4c4c4" stroke="#7c7c7c" stroke-width="1.8"/>
<rect x="225.2" y="2930.3" width="12" height="12" fill="#c4c4c4" stroke="#7c7c7c" stroke-width="1.8"/>
<rect x="251.8" y="2929.3" width="12" height="12" fill="#c4c4c4" stroke="#7c7c7c" stroke-width="1.8"/>
<rect x="278.4" y="2927.7" width="12" height="12" fill="#c4c4c4" stroke="#7c7c7c" stroke-width="1.8"/>
<rect x="305" y="2929.7" width="12" height="12" fill="#c4c4c4" stroke="#7c7c7c" stroke-width="1.8"/>
<rect x="331.6" y="2926.8" width="12" height="12" fill="#c4c4c4" stroke="#7c7c7c" stroke-width="1.8"/>
<rect x="358.2" y="2934.7" width="12" height="12" fill="#c4c4c4" stroke="#7c7c7c" stroke-width="1.8"/>
<rect x="384.8" y="2929" width="12" height="12" fill="#c4c4c4" stroke="#7c7c7c" stroke-width="1.8"/>
<rect x="411.4" y="2932.6" width="12" height="12" fill="#c4c4c4" stroke="#7c7c7c" stroke-width="1.8"/>
<rect x="438" y="2933.9" width="12" height="12" fill="#c4c4c4" stroke="#7c7c7c" stroke-width="1.8"/>
<rect x="464.6" y="2928.1" width="12" height="12" fill="#c4c4c4" stroke="#7c7c7c" stroke-width="1.8"/>
<rect x="491.2" y="2937.3" width="12" height="12" fill="#c4c4c4" stroke="#7c7c7c" stroke-width="1.8"/>
<rect x="517.8" y="2931.6" width="12" height="12" fill="#c4c4c4" stroke="#7c7c7c" stroke-width="1.8"/>
<rect x="544.4" y="2925.7" width="12" height="12" fill="#c4c4c4" stroke="#7c7c7c" stroke-width="1.8"/>
<rect x="571" y="2889.8" width="12" height="12" fill="#c4c4c4" stroke="#7c7c7c" stroke-width="1.8"/>
<rect x="597.6" y="2811.5" width="12" height="12" fill="#c4c4c4" stroke="#7c7c7c" stroke-width="1.8"/>
<rect x="624.2" y="2724.3" width="12" height="12" fill="#c4c4c4" stroke="#7c7c7c" stroke-width="1.8"/>
<rect x="650.8" y="2739.4" width="12" height="12" fill="#c4c4c4" stroke="#7c7c7c" stroke-width="1.8"/>
<rect x="677.4" y="2827.4" width="12" height="12" fill="#c4c4c4" stroke="#7c7c7c" stroke-width="1.8"/>
<rect x="704" y="2910.4" width="12" height="12" fill="#c4c4c4" stroke="#7c7c7c" stroke-width="1.8"/>
<rect x="730.6" y="2934.3" width="12" height="12" fill="#c4c4c4" stroke="#7c7c7c" stroke-width="1.8"/>
<rect x="757.2" y="2946.2" width="12" height="12" fill="#c4c4c4" stroke="#7c7c7c" stroke-width="1.8"/>
<rect x="783.8" y="2939" width="12" height="12" fill="#c4c4c4" stroke="#7c7c7c" stroke-width="1.8"/>
<rect x="810.4" y="2942" width="12" height="12" fill="#c4c4c4" stroke="#7c7c7c" stroke-width="1.8"/>
<rect x="837" y="2942.7" width="12" height="12" fill="#c4c4c4" stroke="#7c7c7c" stroke-width="1.8"/>
<rect x="863.6" y="2945.6" width="12" height="12" fill="#c4c4c4" stroke="#7c7c7c" stroke-width="1.8"/>
<rect x="890.2" y="2935" width="12" height="12" fill="#c4c4c4" stroke="#7c7c7c" stroke-width="1.8"/>
<rect x="916.8" y="2917.7" width="12" height="12" fill="#c4c4c4" stroke="#7c7c7c" stroke-width="1.8"/>
<rect x="943.4" y="2834.2" width="12" height="12" fill="#c4c4c4" stroke="#7c7c7c" stroke-width="1.8"/>
<rect x="970" y="2691.4" width="12" height="12" fill="#c4c4c4" stroke="#7c7c7c" stroke-width="1.8"/>
<rect x="996.6" y="2612.3" width="12" height="12" fill="#c4c4c4" stroke="#7c7c7c" stroke-width="1.8"/>
<rect x="1023.2" y="2710.2" width="12" height="12" fill="#c4c4c4" stroke="#7c7c7c" stroke-width="1.8"/>
<rect x="1049.8" y="2853.5" width="12" height="12" fill="#c4c4c4" stroke="#7c7c7c" stroke-width="1.8"/>
<rect x="1076.4" y="2941" width="12" height="12" fill="#c4c4c4" stroke="#7c7c7c" stroke-width="1.8"/>
<rect x="1103" y="2954" width="12" height="12" fill="#c4c4c4" stroke="#7c7c7c" stroke-width="1.8"/>
<rect x="1129.6" y="2966.9" width="12" height="12" fill="#c4c4c4" stroke="#7c7c7c" stroke-width="1.8"/>
<rect x="1156.2" y="2962.4" width="12" height="12" fill="#c4c4c4" stroke="#7c7c7c" stroke-width="1.8"/>
<path d="M153.5,2940L169.4,2943.6L179.1,2930.5L191.6,2935.7L209.3,2944.1L224.5,2941.4L240.5,2933.1L253.8,2933.5L272.6,2931.4L290.5,2931.7L306.7,2936.9L319.6,2947L327.8,2931.4L346.8,2940.3L355.8,2949.9L375.2,2932.3L388.3,2932.8L400,2942.5L410,2943.9L418.6,2933.4L436.4,2937.9L441.9,2939.9L445.9,2939.9L449.9,2939.9L453.9,2939.8L457.9,2939.8L461.9,2939.8L465.9,2939.8L469.9,2939.7L473.9,2939.7L477.9,2939.7L481.9,2939.6L485.9,2939.6L489.9,2939.6L493.9,2939.5L497.9,2939.5L501.9,2939.4L506,2939.3L510,2939.2L514,2939L518,2938.8L522,2938.6L526,2938.2L530,2937.7L534,2937.1L538,2936.3L542,2935.1L546,2933.7L550,2931.8L554,2929.3L558,2926.2L562,2922.4L566,2917.7L570,2911.9L574,2905.1L578,2897.1L582,2887.8L586.1,2877.3L590.1,2865.5L594.1,2852.6L598.1,2838.8L602.1,2824.2L606.1,2809.1L610.1,2793.9L614.1,2779.1L618.1,2765L622.1,2752.1L626.1,2740.9L630.1,2731.8L634.1,2725.1L638.1,2721.3L642.1,2720.4L646.1,2722.5L650.1,2727.6L654.1,2735.3L658.1,2745.5L662.2,2757.8L666.2,2771.6L670.2,2786.5L674.2,2802.1L678.2,2817.9L682.2,2833.5L686.2,2848.6L690.2,2862.8L694.2,2876L698.2,2888L702.2,2898.7L706.2,2908.1L710.2,2916.2L714.2,2923.1L718.2,2928.9L722.2,2933.6L726.2,2937.5L730.2,2940.6L734.2,2943L738.3,2944.9L742.3,2946.4L746.3,2947.5L750.3,2948.3L754.3,2948.9L758.3,2949.4L762.3,2949.7L766.3,2950L770.3,2950.2L774.3,2950.3L778.3,2950.4L782.3,2950.5L786.3,2950.5L790.3,2950.6L794.3,2950.6L798.3,2950.6L802.3,2950.6L806.3,2950.7L810.3,2950.7L814.3,2950.7L818.4,2950.7L822.4,2950.6L826.4,2950.6L830.4,2950.6L834.4,2950.6L838.4,2950.6L842.4,2950.5L846.4,2950.5L850.4,2950.5L854.4,2950.4L858.4,2950.3L862.4,2950.2L866.4,2950.1L870.4,2950L874.4,2949.8L878.4,2949.5L882.4,2949.1L886.4,2948.6L890.4,2947.9L894.5,2946.9L898.5,2945.6L902.5,2944L906.5,2941.7L910.5,2938.9L914.5,2935.2L918.5,2930.5L922.5,2924.7L926.5,2917.6L930.5,2908.9L934.5,2898.6L938.5,2886.5L942.5,2872.4L946.5,2856.5L950.5,2838.7L954.5,2819.2L958.5,2798.2L962.5,2776L966.5,2753.2L970.5,2730.2L974.6,2707.7L978.6,2686.3L982.6,2666.8L986.6,2649.7L990.6,2635.9L994.6,2625.9L998.6,2620L1002.6,2618.6L1006.6,2621.8L1010.6,2629.4L1014.6,2641.2L1018.6,2656.6L1022.6,2675.1L1026.6,2696.1L1030.6,2718.7L1034.6,2742.4L1038.6,2766.3L1042.6,2790L1046.6,2812.9L1050.7,2834.5L1054.7,2854.5L1058.7,2872.7L1062.7,2889L1066.7,2903.3L1070.7,2915.6L1074.7,2926.1L1078.7,2934.9L1082.7,2942.1L1086.7,2948L1090.7,2952.7L1094.7,2956.4L1098.7,2959.3L1102.7,2961.5L1106.7,2963.3L1110.7,2964.6L1114.7,2965.5L1118.7,2966.2L1122.7,2966.8L1126.7,2967.2L1130.8,2967.5L1134.8,2967.7L1138.8,2967.9L1140,2969.1L1150.9,2966.9L1159,2971.1L1166.8,2968.5" fill="none" stroke="#fe3b3b" stroke-width="5.5" stroke-linejoin="round" stroke-linecap="round"/>
<path d="M153.5,3168L157.5,3168L161.5,3168L165.5,3168L169.5,3168L173.5,3168L177.5,3168L181.5,3168L185.5,3168L189.5,3168L193.6,3168L197.6,3168L201.6,3168L205.6,3168L209.6,3168L213.6,3168L217.6,3168L221.6,3168L225.6,3168L229.6,3168L233.6,3168L237.6,3168L241.6,3168L245.6,3168L249.6,3168L253.6,3168L257.6,3168L261.6,3168L265.6,3168L269.6,3168L273.7,3168L277.7,3168L281.7,3168L285.7,3168L289.7,3168L293.7,3168L297.7,3168L301.7,3168L305.7,3168L309.7,3168L313.7,3168L317.7,3168L321.7,3168L325.7,3168L329.7,3168L333.7,3168L337.7,3168L341.7,3168L345.7,3168L349.8,3168L353.8,3168L357.8,3168L361.8,3168L365.8,3168L369.8,3168L373.8,3168L377.8,3168L381.8,3168L385.8,3168L389.8,3168L393.8,3168L397.8,3168L401.8,3168L405.8,3168L409.8,3168L413.8,3168L417.8,3168L421.8,3168L425.8,3168L429.9,3168L433.9,3168L437.9,3168L441.9,3168L445.9,3168L449.9,3168L453.9,3168L457.9,3168L461.9,3168L465.9,3168L469.9,3168L473.9,3167.9L477.9,3167.9L481.9,3167.8L485.9,3167.8L489.9,3167.7L493.9,3167.5L497.9,3167.4L501.9,3167.1L506,3166.8L510,3166.4L514,3165.8L518,3165.1L522,3164.2L526,3163.1L530,3161.7L534,3160L538,3157.9L542,3155.4L546,3152.4L550,3149L554,3145L558,3140.5L562,3135.4L566,3129.8L570,3123.7L574,3117.2L578,3110.2L582,3103.1L586.1,3095.7L590.1,3088.4L594.1,3081.3L598.1,3074.5L602.1,3068.2L606.1,3062.6L610.1,3057.8L614.1,3054L618.1,3051.3L622.1,3049.9L626.1,3049.6L630.1,3050.6L634.1,3052.8L638.1,3056.2L642.1,3060.7L646.1,3066.1L650.1,3072.2L654.1,3079L658.1,3086.3L662.2,3093.8L666.2,3101.5L670.2,3109L674.2,3116.4L678.2,3123.5L682.2,3130.1L686.2,3136.3L690.2,3142L694.2,3147L698.2,3151.5L702.2,3155.5L706.2,3158.9L710.2,3161.8L714.2,3164.3L718.2,3166.3L722.2,3168L726.2,3169.4L730.2,3170.5L734.2,3171.3L738.3,3172L742.3,3172.6L746.3,3173L750.3,3173.3L754.3,3173.5L758.3,3173.7L762.3,3173.8L766.3,3173.9L770.3,3173.9L774.3,3174L778.3,3174L782.3,3174L786.3,3174.1L790.3,3174.1L794.3,3174.1L798.3,3174.1L802.3,3174.1L806.3,3174.1L810.3,3174.1L814.3,3174.1L818.4,3174.1L822.4,3174.1L826.4,3174.1L830.4,3174L834.4,3174L838.4,3174L842.4,3173.9L846.4,3173.8L850.4,3173.7L854.4,3173.5L858.4,3173.3L862.4,3172.9L866.4,3172.5L870.4,3171.9L874.4,3171.2L878.4,3170.2L882.4,3168.9L886.4,3167.3L890.4,3165.3L894.5,3162.8L898.5,3159.8L902.5,3156.1L906.5,3151.8L910.5,3146.7L914.5,3140.8L918.5,3134.1L922.5,3126.5L926.5,3118.1L930.5,3108.9L934.5,3099L938.5,3088.6L942.5,3077.7L946.5,3066.6L950.5,3055.5L954.5,3044.7L958.5,3034.4L962.5,3024.9L966.5,3016.5L970.5,3009.4L974.6,3003.8L978.6,3000L982.6,2998L986.6,2997.9L990.6,2999.7L994.6,3003.5L998.6,3009L1002.6,3016L1006.6,3024.5L1010.6,3034.2L1014.6,3044.7L1018.6,3055.9L1022.6,3067.3L1026.6,3078.9L1030.6,3090.3L1034.6,3101.3L1038.6,3111.8L1042.6,3121.6L1046.6,3130.6L1050.7,3138.8L1054.7,3146L1058.7,3152.5L1062.7,3158L1066.7,3162.8L1070.7,3166.8L1074.7,3170.2L1078.7,3173L1082.7,3175.2L1086.7,3177L1090.7,3178.5L1094.7,3179.6L1098.7,3180.5L1102.7,3181.1L1106.7,3181.7L1110.7,3182L1114.7,3182.3L1118.7,3182.5L1122.7,3182.7L1126.7,3182.8L1130.8,3182.8L1134.8,3182.9L1138.8,3182.9L1142.8,3183L1146.8,3183L1150.8,3183L1154.8,3183L1158.8,3183L1162.8,3183L1166.8,3183L1166.8,3183L1162.8,3183L1158.8,3183L1154.8,3183L1150.8,3183L1146.8,3183L1142.8,3183L1138.8,3183L1134.8,3183L1130.8,3183L1126.7,3183L1122.7,3183L1118.7,3183L1114.7,3183L1110.7,3183L1106.7,3183L1102.7,3183L1098.7,3183L1094.7,3183L1090.7,3183L1086.7,3183L1082.7,3183L1078.7,3182.9L1074.7,3182.9L1070.7,3182.9L1066.7,3182.9L1062.7,3182.8L1058.7,3182.8L1054.7,3182.7L1050.7,3182.6L1046.6,3182.5L1042.6,3182.4L1038.6,3182.3L1034.6,3182.2L1030.6,3182L1026.6,3181.8L1022.6,3181.6L1018.6,3181.4L1014.6,3181.1L1010.6,3180.8L1006.6,3180.5L1002.6,3180.2L998.6,3179.9L994.6,3179.6L990.6,3179.2L986.6,3178.8L982.6,3178.5L978.6,3178.1L974.6,3177.7L970.5,3177.4L966.5,3177L962.5,3176.7L958.5,3176.4L954.5,3176.1L950.5,3175.8L946.5,3175.6L942.5,3175.4L938.5,3175.2L934.5,3175L930.5,3174.9L926.5,3174.7L922.5,3174.6L918.5,3174.5L914.5,3174.4L910.5,3174.4L906.5,3174.3L902.5,3174.3L898.5,3174.2L894.5,3174.2L890.4,3174.2L886.4,3174.1L882.4,3174.1L878.4,3174.1L874.4,3174.1L870.4,3174.1L866.4,3174.1L862.4,3174.1L858.4,3174.1L854.4,3174.1L850.4,3174.1L846.4,3174.1L842.4,3174.1L838.4,3174.1L834.4,3174.1L830.4,3174.1L826.4,3174.1L822.4,3174.1L818.4,3174.1L814.3,3174.1L810.3,3174.1L806.3,3174.1L802.3,3174.1L798.3,3174.1L794.3,3174.1L790.3,3174.1L786.3,3174.1L782.3,3174.1L778.3,3174.1L774.3,3174.1L770.3,3174.1L766.3,3174.1L762.3,3174.1L758.3,3174.1L754.3,3174.1L750.3,3174.1L746.3,3174.1L742.3,3174.1L738.3,3174.1L734.2,3174.1L730.2,3174.1L726.2,3174.1L722.2,3174.1L718.2,3174L714.2,3174L710.2,3174L706.2,3174L702.2,3174L698.2,3173.9L694.2,3173.9L690.2,3173.8L686.2,3173.7L682.2,3173.7L678.2,3173.6L674.2,3173.5L670.2,3173.4L666.2,3173.2L662.2,3173.1L658.1,3172.9L654.1,3172.8L650.1,3172.6L646.1,3172.4L642.1,3172.1L638.1,3171.9L634.1,3171.7L630.1,3171.4L626.1,3171.2L622.1,3170.9L618.1,3170.7L614.1,3170.5L610.1,3170.2L606.1,3170L602.1,3169.8L598.1,3169.6L594.1,3169.4L590.1,3169.2L586.1,3169L582,3168.9L578,3168.8L574,3168.6L570,3168.5L566,3168.4L562,3168.4L558,3168.3L554,3168.2L550,3168.2L546,3168.1L542,3168.1L538,3168.1L534,3168.1L530,3168.1L526,3168L522,3168L518,3168L514,3168L510,3168L506,3168L501.9,3168L497.9,3168L493.9,3168L489.9,3168L485.9,3168L481.9,3168L477.9,3168L473.9,3168L469.9,3168L465.9,3168L461.9,3168L457.9,3168L453.9,3168L449.9,3168L445.9,3168L441.9,3168L437.9,3168L433.9,3168L429.9,3168L425.8,3168L421.8,3168L417.8,3168L413.8,3168L409.8,3168L405.8,3168L401.8,3168L397.8,3168L393.8,3168L389.8,3168L385.8,3168L381.8,3168L377.8,3168L373.8,3168L369.8,3168L365.8,3168L361.8,3168L357.8,3168L353.8,3168L349.8,3168L345.7,3168L341.7,3168L337.7,3168L333.7,3168L329.7,3168L325.7,3168L321.7,3168L317.7,3168L313.7,3168L309.7,3168L305.7,3168L301.7,3168L297.7,3168L293.7,3168L289.7,3168L285.7,3168L281.7,3168L277.7,3168L273.7,3168L269.6,3168L265.6,3168L261.6,3168L257.6,3168L253.6,3168L249.6,3168L245.6,3168L241.6,3168L237.6,3168L233.6,3168L229.6,3168L225.6,3168L221.6,3168L217.6,3168L213.6,3168L209.6,3168L205.6,3168L201.6,3168L197.6,3168L193.6,3168L189.5,3168L185.5,3168L181.5,3168L177.5,3168L173.5,3168L169.5,3168L165.5,3168L161.5,3168L157.5,3168L153.5,3168 Z" fill="url(#g15)"/>
<path d="M153.5,3168L157.5,3168L161.5,3168L165.5,3168L169.5,3168L173.5,3168L177.5,3168L181.5,3168L185.5,3168L189.5,3168L193.6,3168L197.6,3168L201.6,3168L205.6,3168L209.6,3168L213.6,3168L217.6,3168L221.6,3168L225.6,3168L229.6,3168L233.6,3168L237.6,3168L241.6,3168L245.6,3168L249.6,3168L253.6,3168L257.6,3168L261.6,3168L265.6,3168L269.6,3168L273.7,3168L277.7,3168L281.7,3168L285.7,3168L289.7,3168L293.7,3168L297.7,3168L301.7,3168L305.7,3168L309.7,3168L313.7,3168L317.7,3168L321.7,3168L325.7,3168L329.7,3168L333.7,3168L337.7,3168L341.7,3168L345.7,3168L349.8,3168L353.8,3168L357.8,3168L361.8,3168L365.8,3168L369.8,3168L373.8,3168L377.8,3168L381.8,3168L385.8,3168L389.8,3168L393.8,3168L397.8,3168L401.8,3168L405.8,3168L409.8,3168L413.8,3168L417.8,3168L421.8,3168L425.8,3168L429.9,3168L433.9,3168L437.9,3168L441.9,3168L445.9,3168L449.9,3168L453.9,3168L457.9,3168L461.9,3168L465.9,3168L469.9,3168L473.9,3168L477.9,3168L481.9,3168L485.9,3168L489.9,3168L493.9,3168L497.9,3168L501.9,3168L506,3168L510,3168L514,3168L518,3168L522,3168L526,3168L530,3168.1L534,3168.1L538,3168.1L542,3168.1L546,3168.1L550,3168.2L554,3168.2L558,3168.3L562,3168.4L566,3168.4L570,3168.5L574,3168.6L578,3168.8L582,3168.9L586.1,3169L590.1,3169.2L594.1,3169.4L598.1,3169.6L602.1,3169.8L606.1,3170L610.1,3170.2L614.1,3170.5L618.1,3170.7L622.1,3170.9L626.1,3171.2L630.1,3171.4L634.1,3171.7L638.1,3171.9L642.1,3172.1L646.1,3172.4L650.1,3172.6L654.1,3172.8L658.1,3172.9L662.2,3173.1L666.2,3173.2L670.2,3173.4L674.2,3173.5L678.2,3173.6L682.2,3173.7L686.2,3173.7L690.2,3173.8L694.2,3173.9L698.2,3173.9L702.2,3174L706.2,3174L710.2,3174L714.2,3174L718.2,3174L722.2,3174.1L726.2,3174.1L730.2,3174.1L734.2,3174.1L738.3,3174.1L742.3,3174.1L746.3,3174.1L750.3,3174.1L754.3,3174.1L758.3,3174.1L762.3,3174.1L766.3,3174.1L770.3,3174.1L774.3,3174.1L778.3,3174.1L782.3,3174.1L786.3,3174.1L790.3,3174.1L794.3,3174.1L798.3,3174.1L802.3,3174.1L806.3,3174.1" fill="none" stroke="#3a80d2" stroke-width="8"/>
<path d="M806.3,3174.1L810.3,3174.1L814.3,3174.1L818.4,3174.1L822.4,3174.1L826.4,3174.1L830.4,3174.1L834.4,3174.1L838.4,3174.1L842.4,3174.1L846.4,3174.1L850.4,3174.1L854.4,3174.1L858.4,3174.1L862.4,3174.1L866.4,3174.1L870.4,3174.1L874.4,3174.1L878.4,3174.1L882.4,3174.1L886.4,3174.1L890.4,3174.2L894.5,3174.2L898.5,3174.2L902.5,3174.3L906.5,3174.3L910.5,3174.4L914.5,3174.4L918.5,3174.5L922.5,3174.6L926.5,3174.7L930.5,3174.9L934.5,3175L938.5,3175.2L942.5,3175.4L946.5,3175.6L950.5,3175.8L954.5,3176.1L958.5,3176.4L962.5,3176.7L966.5,3177L970.5,3177.4L974.6,3177.7L978.6,3178.1L982.6,3178.5L986.6,3178.8L990.6,3179.2L994.6,3179.6L998.6,3179.9L1002.6,3180.2L1006.6,3180.5L1010.6,3180.8L1014.6,3181.1L1018.6,3181.4L1022.6,3181.6L1026.6,3181.8L1030.6,3182L1034.6,3182.2L1038.6,3182.3L1042.6,3182.4L1046.6,3182.5L1050.7,3182.6L1054.7,3182.7L1058.7,3182.8L1062.7,3182.8L1066.7,3182.9L1070.7,3182.9L1074.7,3182.9L1078.7,3182.9L1082.7,3183L1086.7,3183L1090.7,3183L1094.7,3183L1098.7,3183L1102.7,3183L1106.7,3183L1110.7,3183L1114.7,3183L1118.7,3183L1122.7,3183L1126.7,3183L1130.8,3183L1134.8,3183L1138.8,3183L1142.8,3183L1146.8,3183L1150.8,3183L1154.8,3183L1158.8,3183L1162.8,3183L1166.8,3183" fill="none" stroke="#2ea070" stroke-width="8"/>
<path d="M153.5,3168L157.5,3168L161.5,3168L165.5,3168L169.5,3168L173.5,3168L177.5,3168L181.5,3168L185.5,3168L189.5,3168L193.6,3168L197.6,3168L201.6,3168L205.6,3168L209.6,3168L213.6,3168L217.6,3168L221.6,3168L225.6,3168L229.6,3168L233.6,3168L237.6,3168L241.6,3168L245.6,3168L249.6,3168L253.6,3168L257.6,3168L261.6,3168L265.6,3168L269.6,3168L273.7,3168L277.7,3168L281.7,3168L285.7,3168L289.7,3168L293.7,3168L297.7,3168L301.7,3168L305.7,3168L309.7,3168L313.7,3168L317.7,3168L321.7,3168L325.7,3168L329.7,3168L333.7,3168L337.7,3168L341.7,3168L345.7,3168L349.8,3168L353.8,3168L357.8,3168L361.8,3168L365.8,3168L369.8,3168L373.8,3168L377.8,3168L381.8,3168L385.8,3168L389.8,3168L393.8,3168L397.8,3168L401.8,3168L405.8,3168L409.8,3168L413.8,3168L417.8,3168L421.8,3168L425.8,3168L429.9,3168L433.9,3168L437.9,3168L441.9,3168L445.9,3168L449.9,3168L453.9,3168L457.9,3168L461.9,3168L465.9,3168L469.9,3168L473.9,3168L477.9,3168L481.9,3168L485.9,3168L489.9,3168L493.9,3168L497.9,3168L501.9,3168L506,3168L510,3168L514,3168L518,3168L522,3168L526,3168L530,3168.1L534,3168.1L538,3168.1L542,3168.1L546,3168.1L550,3168.2L554,3168.2L558,3168.3L562,3168.4L566,3168.4L570,3168.5L574,3168.6L578,3168.8L582,3168.9L586.1,3169L590.1,3169.2L594.1,3169.4L598.1,3169.6L602.1,3169.8L606.1,3170L610.1,3170.2L614.1,3170.5L618.1,3170.7L622.1,3170.9L626.1,3171.2L630.1,3171.4L634.1,3171.7L638.1,3171.9L642.1,3172.1L646.1,3172.4L650.1,3172.6L654.1,3172.8L658.1,3172.9L662.2,3173.1L666.2,3173.2L670.2,3173.4L674.2,3173.5L678.2,3173.6L682.2,3173.7L686.2,3173.7L690.2,3173.8L694.2,3173.9L698.2,3173.9L702.2,3174L706.2,3174L710.2,3174L714.2,3174L718.2,3174L722.2,3174.1L726.2,3174.1L730.2,3174.1L734.2,3174.1L738.3,3174.1L742.3,3174.1L746.3,3174.1L750.3,3174.1L754.3,3174.1L758.3,3174.1L762.3,3174.1L766.3,3174.1L770.3,3174.1L774.3,3174.1L778.3,3174.1L782.3,3174.1L786.3,3174.1L790.3,3174.1L794.3,3174.1L798.3,3174.1L802.3,3174.1L806.3,3174.1L810.3,3174.1L814.3,3174.1L818.4,3174.1L822.4,3174.1L826.4,3174.1L830.4,3174.1L834.4,3174.1L838.4,3174.1L842.4,3174.1L846.4,3174.1L850.4,3174.1L854.4,3174.1L858.4,3174.1L862.4,3174.1L866.4,3174.1L870.4,3174.1L874.4,3174.1L878.4,3174.1L882.4,3174.1L886.4,3174.1L890.4,3174.2L894.5,3174.2L898.5,3174.2L902.5,3174.3L906.5,3174.3L910.5,3174.4L914.5,3174.4L918.5,3174.5L922.5,3174.6L926.5,3174.7L930.5,3174.9L934.5,3175L938.5,3175.2L942.5,3175.4L946.5,3175.6L950.5,3175.8L954.5,3176.1L958.5,3176.4L962.5,3176.7L966.5,3177L970.5,3177.4L974.6,3177.7L978.6,3178.1L982.6,3178.5L986.6,3178.8L990.6,3179.2L994.6,3179.6L998.6,3179.9L1002.6,3180.2L1006.6,3180.5L1010.6,3180.8L1014.6,3181.1L1018.6,3181.4L1022.6,3181.6L1026.6,3181.8L1030.6,3182L1034.6,3182.2L1038.6,3182.3L1042.6,3182.4L1046.6,3182.5L1050.7,3182.6L1054.7,3182.7L1058.7,3182.8L1062.7,3182.8L1066.7,3182.9L1070.7,3182.9L1074.7,3182.9L1078.7,3182.9L1082.7,3183L1086.7,3183L1090.7,3183L1094.7,3183L1098.7,3183L1102.7,3183L1106.7,3183L1110.7,3183L1114.7,3183L1118.7,3183L1122.7,3183L1126.7,3183L1130.8,3183L1134.8,3183L1138.8,3183L1142.8,3183L1146.8,3183L1150.8,3183L1154.8,3183L1158.8,3183L1162.8,3183L1166.8,3183" fill="none" stroke="#404040" stroke-width="4.5"/>
<path d="M497.9,3167.4L501.9,3167.1L506,3166.8L510,3166.4L514,3165.8L518,3165.1L522,3164.2L526,3163.1L530,3161.7L534,3160L538,3157.9L542,3155.4L546,3152.4L550,3149L554,3145L558,3140.5L562,3135.4L566,3129.8L570,3123.7L574,3117.2L578,3110.2L582,3103.1L586.1,3095.7L590.1,3088.4L594.1,3081.3L598.1,3074.5L602.1,3068.2L606.1,3062.6L610.1,3057.8L614.1,3054L618.1,3051.3L622.1,3049.9L626.1,3049.6L630.1,3050.6L634.1,3052.8L638.1,3056.2L642.1,3060.7L646.1,3066.1L650.1,3072.2L654.1,3079L658.1,3086.3L662.2,3093.8L666.2,3101.5L670.2,3109L674.2,3116.4L678.2,3123.5L682.2,3130.1L686.2,3136.3L690.2,3142L694.2,3147L698.2,3151.5L702.2,3155.5L706.2,3158.9L710.2,3161.8L714.2,3164.3L718.2,3166.3L722.2,3168L726.2,3169.4L730.2,3170.5L734.2,3171.3L738.3,3172L742.3,3172.6L746.3,3173L750.3,3173.3L754.3,3173.5" fill="none" stroke="#3fb58a" stroke-width="8.5" stroke-linejoin="round"/>
<path d="M858.4,3173.3L862.4,3172.9L866.4,3172.5L870.4,3171.9L874.4,3171.2L878.4,3170.2L882.4,3168.9L886.4,3167.3L890.4,3165.3L894.5,3162.8L898.5,3159.8L902.5,3156.1L906.5,3151.8L910.5,3146.7L914.5,3140.8L918.5,3134.1L922.5,3126.5L926.5,3118.1L930.5,3108.9L934.5,3099L938.5,3088.6L942.5,3077.7L946.5,3066.6L950.5,3055.5L954.5,3044.7L958.5,3034.4L962.5,3024.9L966.5,3016.5L970.5,3009.4L974.6,3003.8L978.6,3000L982.6,2998L986.6,2997.9L990.6,2999.7L994.6,3003.5L998.6,3009L1002.6,3016L1006.6,3024.5L1010.6,3034.2L1014.6,3044.7L1018.6,3055.9L1022.6,3067.3L1026.6,3078.9L1030.6,3090.3L1034.6,3101.3L1038.6,3111.8L1042.6,3121.6L1046.6,3130.6L1050.7,3138.8L1054.7,3146L1058.7,3152.5L1062.7,3158L1066.7,3162.8L1070.7,3166.8L1074.7,3170.2L1078.7,3173L1082.7,3175.2L1086.7,3177L1090.7,3178.5L1094.7,3179.6L1098.7,3180.5L1102.7,3181.1L1106.7,3181.7L1110.7,3182" fill="none" stroke="#4f86d6" stroke-width="8.5" stroke-linejoin="round"/>
<rect x="145.4" y="3159" width="12" height="12" fill="#c4c4c4" stroke="#7c7c7c" stroke-width="1.8"/>
<rect x="172" y="3158.5" width="12" height="12" fill="#c4c4c4" stroke="#7c7c7c" stroke-width="1.8"/>
<rect x="198.6" y="3156.4" width="12" height="12" fill="#c4c4c4" stroke="#7c7c7c" stroke-width="1.8"/>
<rect x="225.2" y="3165.5" width="12" height="12" fill="#c4c4c4" stroke="#7c7c7c" stroke-width="1.8"/>
<rect x="251.8" y="3163.7" width="12" height="12" fill="#c4c4c4" stroke="#7c7c7c" stroke-width="1.8"/>
<rect x="278.4" y="3152.2" width="12" height="12" fill="#c4c4c4" stroke="#7c7c7c" stroke-width="1.8"/>
<rect x="305" y="3164.5" width="12" height="12" fill="#c4c4c4" stroke="#7c7c7c" stroke-width="1.8"/>
<rect x="331.6" y="3169.8" width="12" height="12" fill="#c4c4c4" stroke="#7c7c7c" stroke-width="1.8"/>
<rect x="358.2" y="3154.9" width="12" height="12" fill="#c4c4c4" stroke="#7c7c7c" stroke-width="1.8"/>
<rect x="384.8" y="3160" width="12" height="12" fill="#c4c4c4" stroke="#7c7c7c" stroke-width="1.8"/>
<rect x="411.4" y="3155.7" width="12" height="12" fill="#c4c4c4" stroke="#7c7c7c" stroke-width="1.8"/>
<rect x="438" y="3160.7" width="12" height="12" fill="#c4c4c4" stroke="#7c7c7c" stroke-width="1.8"/>
<rect x="464.6" y="3157.7" width="12" height="12" fill="#c4c4c4" stroke="#7c7c7c" stroke-width="1.8"/>
<rect x="491.2" y="3162.9" width="12" height="12" fill="#c4c4c4" stroke="#7c7c7c" stroke-width="1.8"/>
<rect x="517.8" y="3162.2" width="12" height="12" fill="#c4c4c4" stroke="#7c7c7c" stroke-width="1.8"/>
<rect x="544.4" y="3141.5" width="12" height="12" fill="#c4c4c4" stroke="#7c7c7c" stroke-width="1.8"/>
<rect x="571" y="3108.2" width="12" height="12" fill="#c4c4c4" stroke="#7c7c7c" stroke-width="1.8"/>
<rect x="597.6" y="3064.4" width="12" height="12" fill="#c4c4c4" stroke="#7c7c7c" stroke-width="1.8"/>
<rect x="624.2" y="3040.1" width="12" height="12" fill="#c4c4c4" stroke="#7c7c7c" stroke-width="1.8"/>
<rect x="650.8" y="3074.3" width="12" height="12" fill="#c4c4c4" stroke="#7c7c7c" stroke-width="1.8"/>
<rect x="677.4" y="3129.1" width="12" height="12" fill="#c4c4c4" stroke="#7c7c7c" stroke-width="1.8"/>
<rect x="704" y="3159" width="12" height="12" fill="#c4c4c4" stroke="#7c7c7c" stroke-width="1.8"/>
<rect x="730.6" y="3167.1" width="12" height="12" fill="#c4c4c4" stroke="#7c7c7c" stroke-width="1.8"/>
<rect x="757.2" y="3164.4" width="12" height="12" fill="#c4c4c4" stroke="#7c7c7c" stroke-width="1.8"/>
<rect x="783.8" y="3167.2" width="12" height="12" fill="#c4c4c4" stroke="#7c7c7c" stroke-width="1.8"/>
<rect x="810.4" y="3171.8" width="12" height="12" fill="#c4c4c4" stroke="#7c7c7c" stroke-width="1.8"/>
<rect x="837" y="3171.7" width="12" height="12" fill="#c4c4c4" stroke="#7c7c7c" stroke-width="1.8"/>
<rect x="863.6" y="3169.1" width="12" height="12" fill="#c4c4c4" stroke="#7c7c7c" stroke-width="1.8"/>
<rect x="890.2" y="3152.5" width="12" height="12" fill="#c4c4c4" stroke="#7c7c7c" stroke-width="1.8"/>
<rect x="916.8" y="3123.4" width="12" height="12" fill="#c4c4c4" stroke="#7c7c7c" stroke-width="1.8"/>
<rect x="943.4" y="3051.4" width="12" height="12" fill="#c4c4c4" stroke="#7c7c7c" stroke-width="1.8"/>
<rect x="970" y="2998.6" width="12" height="12" fill="#c4c4c4" stroke="#7c7c7c" stroke-width="1.8"/>
<rect x="996.6" y="3006.4" width="12" height="12" fill="#c4c4c4" stroke="#7c7c7c" stroke-width="1.8"/>
<rect x="1023.2" y="3085" width="12" height="12" fill="#c4c4c4" stroke="#7c7c7c" stroke-width="1.8"/>
<rect x="1049.8" y="3142.9" width="12" height="12" fill="#c4c4c4" stroke="#7c7c7c" stroke-width="1.8"/>
<rect x="1076.4" y="3171.3" width="12" height="12" fill="#c4c4c4" stroke="#7c7c7c" stroke-width="1.8"/>
<rect x="1103" y="3173" width="12" height="12" fill="#c4c4c4" stroke="#7c7c7c" stroke-width="1.8"/>
<rect x="1129.6" y="3180.7" width="12" height="12" fill="#c4c4c4" stroke="#7c7c7c" stroke-width="1.8"/>
<rect x="1156.2" y="3176.6" width="12" height="12" fill="#c4c4c4" stroke="#7c7c7c" stroke-width="1.8"/>
<rect x="170" y="3138.2" width="12" height="12" fill="#c4c4c4" stroke="#7c7c7c" stroke-width="1.8"/>
<path d="M176,3146.2L192.2,3171.7L210.4,3161.7L221.2,3160.9L231.9,3172.7L241.4,3168.6L252,3163.9L265.2,3174.8L280.5,3158.3L291.8,3160.9L310.3,3174.2L327.9,3174.5L344.9,3177L362.4,3163.1L380.6,3167.7L397.7,3169.3L410.8,3165.3L424,3164.3L433.4,3174.4L437.9,3168L441.9,3168L445.9,3168L449.9,3168L453.9,3168L457.9,3168L461.9,3168L465.9,3168L469.9,3168L473.9,3167.9L477.9,3167.9L481.9,3167.8L485.9,3167.8L489.9,3167.7L493.9,3167.5L497.9,3167.4L501.9,3167.1L506,3166.8L510,3166.4L514,3165.8L518,3165.1L522,3164.2L526,3163.1L530,3161.7L534,3160L538,3157.9L542,3155.4L546,3152.4L550,3149L554,3145L558,3140.5L562,3135.4L566,3129.8L570,3123.7L574,3117.2L578,3110.2L582,3103.1L586.1,3095.7L590.1,3088.4L594.1,3081.3L598.1,3074.5L602.1,3068.2L606.1,3062.6L610.1,3057.8L614.1,3054L618.1,3051.3L622.1,3049.9L626.1,3049.6L630.1,3050.6L634.1,3052.8L638.1,3056.2L642.1,3060.7L646.1,3066.1L650.1,3072.2L654.1,3079L658.1,3086.3L662.2,3093.8L666.2,3101.5L670.2,3109L674.2,3116.4L678.2,3123.5L682.2,3130.1L686.2,3136.3L690.2,3142L694.2,3147L698.2,3151.5L702.2,3155.5L706.2,3158.9L710.2,3161.8L714.2,3164.3L718.2,3166.3L722.2,3168L726.2,3169.4L730.2,3170.5L734.2,3171.3L738.3,3172L742.3,3172.6L746.3,3173L750.3,3173.3L754.3,3173.5L758.3,3173.7L762.3,3173.8L766.3,3173.9L770.3,3173.9L774.3,3174L778.3,3174L782.3,3174L786.3,3174.1L790.3,3174.1L794.3,3174.1L798.3,3174.1L802.3,3174.1L806.3,3174.1L810.3,3174.1L814.3,3174.1L818.4,3174.1L822.4,3174.1L826.4,3174.1L830.4,3174L834.4,3174L838.4,3174L842.4,3173.9L846.4,3173.8L850.4,3173.7L854.4,3173.5L858.4,3173.3L862.4,3172.9L866.4,3172.5L870.4,3171.9L874.4,3171.2L878.4,3170.2L882.4,3168.9L886.4,3167.3L890.4,3165.3L894.5,3162.8L898.5,3159.8L902.5,3156.1L906.5,3151.8L910.5,3146.7L914.5,3140.8L918.5,3134.1L922.5,3126.5L926.5,3118.1L930.5,3108.9L934.5,3099L938.5,3088.6L942.5,3077.7L946.5,3066.6L950.5,3055.5L954.5,3044.7L958.5,3034.4L962.5,3024.9L966.5,3016.5L970.5,3009.4L974.6,3003.8L978.6,3000L982.6,2998L986.6,2997.9L990.6,2999.7L994.6,3003.5L998.6,3009L1002.6,3016L1006.6,3024.5L1010.6,3034.2L1014.6,3044.7L1018.6,3055.9L1022.6,3067.3L1026.6,3078.9L1030.6,3090.3L1034.6,3101.3L1038.6,3111.8L1042.6,3121.6L1046.6,3130.6L1050.7,3138.8L1054.7,3146L1058.7,3152.5L1062.7,3158L1066.7,3162.8L1070.7,3166.8L1074.7,3170.2L1078.7,3173L1082.7,3175.2L1086.7,3177L1090.7,3178.5L1094.7,3179.6L1098.7,3180.5L1102.7,3181.1L1106.7,3181.7L1110.7,3182L1114.7,3182.3L1118.7,3182.5L1122.7,3182.7L1125,3194.4L1137.1,3184.2L1149.6,3174.2L1161.7,3181.6L1166.8,3183" fill="none" stroke="#fe3b3b" stroke-width="5.5" stroke-linejoin="round" stroke-linecap="round"/>
<path d="M153.5,3283L157.5,3283L161.5,3283L165.5,3283L169.5,3283L173.5,3283L177.5,3283L181.5,3283L185.5,3283L189.5,3283L193.6,3283L197.6,3283L201.6,3283L205.6,3283L209.6,3283L213.6,3283L217.6,3283L221.6,3283L225.6,3283L229.6,3283L233.6,3283L237.6,3283L241.6,3283L245.6,3283L249.6,3283L253.6,3283L257.6,3283L261.6,3283L265.6,3283L269.6,3283L273.7,3283L277.7,3283L281.7,3283L285.7,3283L289.7,3283L293.7,3283L297.7,3283L301.7,3283L305.7,3283L309.7,3283L313.7,3283L317.7,3283L321.7,3283L325.7,3283L329.7,3283L333.7,3283L337.7,3283L341.7,3283L345.7,3283L349.8,3283L353.8,3283L357.8,3283L361.8,3283L365.8,3283L369.8,3283L373.8,3283L377.8,3283L381.8,3283L385.8,3283L389.8,3283L393.8,3283L397.8,3283L401.8,3283L405.8,3283L409.8,3283L413.8,3283L417.8,3283L421.8,3283L425.8,3283L429.9,3283L433.9,3283L437.9,3283L441.9,3283L445.9,3283L449.9,3283L453.9,3283L457.9,3283L461.9,3283L465.9,3283L469.9,3283L473.9,3283L477.9,3283L481.9,3283L485.9,3283L489.9,3283L493.9,3283L497.9,3283L501.9,3283L506,3283L510,3282.9L514,3282.9L518,3282.9L522,3282.8L526,3282.7L530,3282.6L534,3282.5L538,3282.3L542,3282L546,3281.7L550,3281.3L554,3280.7L558,3280.1L562,3279.2L566,3278.2L570,3277L574,3275.6L578,3273.9L582,3272L586.1,3269.9L590.1,3267.5L594.1,3264.8L598.1,3261.9L602.1,3258.9L606.1,3255.7L610.1,3252.4L614.1,3249.2L618.1,3245.9L622.1,3242.9L626.1,3240L630.1,3237.5L634.1,3235.4L638.1,3233.7L642.1,3232.5L646.1,3231.9L650.1,3231.8L654.1,3232.3L658.1,3233.4L662.2,3235L666.2,3237.1L670.2,3239.6L674.2,3242.4L678.2,3245.5L682.2,3248.8L686.2,3252.1L690.2,3255.5L694.2,3258.8L698.2,3262L702.2,3265L706.2,3267.8L710.2,3270.3L714.2,3272.6L718.2,3274.7L722.2,3276.5L726.2,3278L730.2,3279.3L734.2,3280.4L738.3,3281.3L742.3,3282.1L746.3,3282.6L750.3,3283.1L754.3,3283.5L758.3,3283.8L762.3,3284L766.3,3284.2L770.3,3284.3L774.3,3284.4L778.3,3284.5L782.3,3284.5L786.3,3284.5L790.3,3284.6L794.3,3284.6L798.3,3284.6L802.3,3284.6L806.3,3284.6L810.3,3284.6L814.3,3284.6L818.4,3284.6L822.4,3284.6L826.4,3284.6L830.4,3284.6L834.4,3284.6L838.4,3284.6L842.4,3284.6L846.4,3284.6L850.4,3284.6L854.4,3284.6L858.4,3284.6L862.4,3284.5L866.4,3284.5L870.4,3284.4L874.4,3284.4L878.4,3284.3L882.4,3284.1L886.4,3284L890.4,3283.8L894.5,3283.5L898.5,3283.2L902.5,3282.8L906.5,3282.3L910.5,3281.6L914.5,3280.9L918.5,3280L922.5,3278.9L926.5,3277.6L930.5,3276.1L934.5,3274.3L938.5,3272.4L942.5,3270.1L946.5,3267.7L950.5,3264.9L954.5,3261.9L958.5,3258.7L962.5,3255.3L966.5,3251.8L970.5,3248.1L974.6,3244.4L978.6,3240.6L982.6,3237L986.6,3233.4L990.6,3230.1L994.6,3227.1L998.6,3224.5L1002.6,3222.3L1006.6,3220.5L1010.6,3219.3L1014.6,3218.7L1018.6,3218.6L1022.6,3219.1L1026.6,3220.2L1030.6,3221.8L1034.6,3223.9L1038.6,3226.5L1042.6,3229.5L1046.6,3232.8L1050.7,3236.3L1054.7,3240.1L1058.7,3243.9L1062.7,3247.7L1066.7,3251.5L1070.7,3255.3L1074.7,3258.8L1078.7,3262.2L1082.7,3265.4L1086.7,3268.3L1090.7,3271L1094.7,3273.4L1098.7,3275.5L1102.7,3277.4L1106.7,3279.1L1110.7,3280.5L1114.7,3281.7L1118.7,3282.7L1122.7,3283.6L1126.7,3284.3L1130.8,3284.9L1134.8,3285.3L1138.8,3285.7L1142.8,3286L1146.8,3286.3L1150.8,3286.4L1154.8,3286.6L1158.8,3286.7L1162.8,3286.8L1166.8,3286.8L1166.8,3287L1162.8,3287L1158.8,3287L1154.8,3287L1150.8,3287L1146.8,3287L1142.8,3287L1138.8,3287L1134.8,3287L1130.8,3287L1126.7,3287L1122.7,3287L1118.7,3287L1114.7,3287L1110.7,3287L1106.7,3287L1102.7,3286.9L1098.7,3286.9L1094.7,3286.9L1090.7,3286.9L1086.7,3286.9L1082.7,3286.9L1078.7,3286.8L1074.7,3286.8L1070.7,3286.8L1066.7,3286.7L1062.7,3286.7L1058.7,3286.6L1054.7,3286.6L1050.7,3286.5L1046.6,3286.4L1042.6,3286.4L1038.6,3286.3L1034.6,3286.2L1030.6,3286.1L1026.6,3286.1L1022.6,3286L1018.6,3285.9L1014.6,3285.8L1010.6,3285.7L1006.6,3285.6L1002.6,3285.5L998.6,3285.4L994.6,3285.4L990.6,3285.3L986.6,3285.2L982.6,3285.1L978.6,3285.1L974.6,3285L970.5,3285L966.5,3284.9L962.5,3284.9L958.5,3284.8L954.5,3284.8L950.5,3284.8L946.5,3284.8L942.5,3284.7L938.5,3284.7L934.5,3284.7L930.5,3284.7L926.5,3284.7L922.5,3284.7L918.5,3284.7L914.5,3284.6L910.5,3284.6L906.5,3284.6L902.5,3284.6L898.5,3284.6L894.5,3284.6L890.4,3284.6L886.4,3284.6L882.4,3284.6L878.4,3284.6L874.4,3284.6L870.4,3284.6L866.4,3284.6L862.4,3284.6L858.4,3284.6L854.4,3284.6L850.4,3284.6L846.4,3284.6L842.4,3284.6L838.4,3284.6L834.4,3284.6L830.4,3284.6L826.4,3284.6L822.4,3284.6L818.4,3284.6L814.3,3284.6L810.3,3284.6L806.3,3284.6L802.3,3284.6L798.3,3284.6L794.3,3284.6L790.3,3284.6L786.3,3284.6L782.3,3284.6L778.3,3284.6L774.3,3284.6L770.3,3284.6L766.3,3284.6L762.3,3284.6L758.3,3284.6L754.3,3284.6L750.3,3284.6L746.3,3284.6L742.3,3284.6L738.3,3284.6L734.2,3284.6L730.2,3284.6L726.2,3284.6L722.2,3284.6L718.2,3284.6L714.2,3284.6L710.2,3284.5L706.2,3284.5L702.2,3284.5L698.2,3284.5L694.2,3284.5L690.2,3284.4L686.2,3284.4L682.2,3284.3L678.2,3284.3L674.2,3284.2L670.2,3284.2L666.2,3284.1L662.2,3284.1L658.1,3284L654.1,3283.9L650.1,3283.9L646.1,3283.8L642.1,3283.7L638.1,3283.7L634.1,3283.6L630.1,3283.5L626.1,3283.5L622.1,3283.4L618.1,3283.4L614.1,3283.3L610.1,3283.3L606.1,3283.2L602.1,3283.2L598.1,3283.2L594.1,3283.1L590.1,3283.1L586.1,3283.1L582,3283.1L578,3283.1L574,3283L570,3283L566,3283L562,3283L558,3283L554,3283L550,3283L546,3283L542,3283L538,3283L534,3283L530,3283L526,3283L522,3283L518,3283L514,3283L510,3283L506,3283L501.9,3283L497.9,3283L493.9,3283L489.9,3283L485.9,3283L481.9,3283L477.9,3283L473.9,3283L469.9,3283L465.9,3283L461.9,3283L457.9,3283L453.9,3283L449.9,3283L445.9,3283L441.9,3283L437.9,3283L433.9,3283L429.9,3283L425.8,3283L421.8,3283L417.8,3283L413.8,3283L409.8,3283L405.8,3283L401.8,3283L397.8,3283L393.8,3283L389.8,3283L385.8,3283L381.8,3283L377.8,3283L373.8,3283L369.8,3283L365.8,3283L361.8,3283L357.8,3283L353.8,3283L349.8,3283L345.7,3283L341.7,3283L337.7,3283L333.7,3283L329.7,3283L325.7,3283L321.7,3283L317.7,3283L313.7,3283L309.7,3283L305.7,3283L301.7,3283L297.7,3283L293.7,3283L289.7,3283L285.7,3283L281.7,3283L277.7,3283L273.7,3283L269.6,3283L265.6,3283L261.6,3283L257.6,3283L253.6,3283L249.6,3283L245.6,3283L241.6,3283L237.6,3283L233.6,3283L229.6,3283L225.6,3283L221.6,3283L217.6,3283L213.6,3283L209.6,3283L205.6,3283L201.6,3283L197.6,3283L193.6,3283L189.5,3283L185.5,3283L181.5,3283L177.5,3283L173.5,3283L169.5,3283L165.5,3283L161.5,3283L157.5,3283L153.5,3283 Z" fill="url(#g16)"/>
<path d="M153.5,3283L157.5,3283L161.5,3283L165.5,3283L169.5,3283L173.5,3283L177.5,3283L181.5,3283L185.5,3283L189.5,3283L193.6,3283L197.6,3283L201.6,3283L205.6,3283L209.6,3283L213.6,3283L217.6,3283L221.6,3283L225.6,3283L229.6,3283L233.6,3283L237.6,3283L241.6,3283L245.6,3283L249.6,3283L253.6,3283L257.6,3283L261.6,3283L265.6,3283L269.6,3283L273.7,3283L277.7,3283L281.7,3283L285.7,3283L289.7,3283L293.7,3283L297.7,3283L301.7,3283L305.7,3283L309.7,3283L313.7,3283L317.7,3283L321.7,3283L325.7,3283L329.7,3283L333.7,3283L337.7,3283L341.7,3283L345.7,3283L349.8,3283L353.8,3283L357.8,3283L361.8,3283L365.8,3283L369.8,3283L373.8,3283L377.8,3283L381.8,3283L385.8,3283L389.8,3283L393.8,3283L397.8,3283L401.8,3283L405.8,3283L409.8,3283L413.8,3283L417.8,3283L421.8,3283L425.8,3283L429.9,3283L433.9,3283L437.9,3283L441.9,3283L445.9,3283L449.9,3283L453.9,3283L457.9,3283L461.9,3283L465.9,3283L469.9,3283L473.9,3283L477.9,3283L481.9,3283L485.9,3283L489.9,3283L493.9,3283L497.9,3283L501.9,3283L506,3283L510,3283L514,3283L518,3283L522,3283L526,3283L530,3283L534,3283L538,3283L542,3283L546,3283L550,3283L554,3283L558,3283L562,3283L566,3283L570,3283L574,3283L578,3283.1L582,3283.1L586.1,3283.1L590.1,3283.1L594.1,3283.1L598.1,3283.2L602.1,3283.2L606.1,3283.2L610.1,3283.3L614.1,3283.3L618.1,3283.4L622.1,3283.4L626.1,3283.5L630.1,3283.5L634.1,3283.6L638.1,3283.7L642.1,3283.7L646.1,3283.8L650.1,3283.9L654.1,3283.9L658.1,3284L662.2,3284.1L666.2,3284.1L670.2,3284.2L674.2,3284.2L678.2,3284.3L682.2,3284.3L686.2,3284.4L690.2,3284.4L694.2,3284.5L698.2,3284.5L702.2,3284.5L706.2,3284.5L710.2,3284.5L714.2,3284.6L718.2,3284.6L722.2,3284.6L726.2,3284.6L730.2,3284.6L734.2,3284.6L738.3,3284.6L742.3,3284.6L746.3,3284.6L750.3,3284.6L754.3,3284.6L758.3,3284.6L762.3,3284.6L766.3,3284.6L770.3,3284.6L774.3,3284.6L778.3,3284.6L782.3,3284.6L786.3,3284.6L790.3,3284.6L794.3,3284.6L798.3,3284.6L802.3,3284.6L806.3,3284.6L810.3,3284.6L814.3,3284.6L818.4,3284.6L822.4,3284.6L826.4,3284.6L830.4,3284.6L834.4,3284.6" fill="none" stroke="#3a80d2" stroke-width="8"/>
<path d="M834.4,3284.6L838.4,3284.6L842.4,3284.6L846.4,3284.6L850.4,3284.6L854.4,3284.6L858.4,3284.6L862.4,3284.6L866.4,3284.6L870.4,3284.6L874.4,3284.6L878.4,3284.6L882.4,3284.6L886.4,3284.6L890.4,3284.6L894.5,3284.6L898.5,3284.6L902.5,3284.6L906.5,3284.6L910.5,3284.6L914.5,3284.6L918.5,3284.7L922.5,3284.7L926.5,3284.7L930.5,3284.7L934.5,3284.7L938.5,3284.7L942.5,3284.7L946.5,3284.8L950.5,3284.8L954.5,3284.8L958.5,3284.8L962.5,3284.9L966.5,3284.9L970.5,3285L974.6,3285L978.6,3285.1L982.6,3285.1L986.6,3285.2L990.6,3285.3L994.6,3285.4L998.6,3285.4L1002.6,3285.5L1006.6,3285.6L1010.6,3285.7L1014.6,3285.8L1018.6,3285.9L1022.6,3286L1026.6,3286.1L1030.6,3286.1L1034.6,3286.2L1038.6,3286.3L1042.6,3286.4L1046.6,3286.4L1050.7,3286.5L1054.7,3286.6L1058.7,3286.6L1062.7,3286.7L1066.7,3286.7L1070.7,3286.8L1074.7,3286.8L1078.7,3286.8L1082.7,3286.9L1086.7,3286.9L1090.7,3286.9L1094.7,3286.9L1098.7,3286.9L1102.7,3286.9L1106.7,3287L1110.7,3287L1114.7,3287L1118.7,3287L1122.7,3287L1126.7,3287L1130.8,3287L1134.8,3287L1138.8,3287L1142.8,3287L1146.8,3287L1150.8,3287L1154.8,3287L1158.8,3287L1162.8,3287L1166.8,3287" fill="none" stroke="#2ea070" stroke-width="8"/>
<path d="M153.5,3283L157.5,3283L161.5,3283L165.5,3283L169.5,3283L173.5,3283L177.5,3283L181.5,3283L185.5,3283L189.5,3283L193.6,3283L197.6,3283L201.6,3283L205.6,3283L209.6,3283L213.6,3283L217.6,3283L221.6,3283L225.6,3283L229.6,3283L233.6,3283L237.6,3283L241.6,3283L245.6,3283L249.6,3283L253.6,3283L257.6,3283L261.6,3283L265.6,3283L269.6,3283L273.7,3283L277.7,3283L281.7,3283L285.7,3283L289.7,3283L293.7,3283L297.7,3283L301.7,3283L305.7,3283L309.7,3283L313.7,3283L317.7,3283L321.7,3283L325.7,3283L329.7,3283L333.7,3283L337.7,3283L341.7,3283L345.7,3283L349.8,3283L353.8,3283L357.8,3283L361.8,3283L365.8,3283L369.8,3283L373.8,3283L377.8,3283L381.8,3283L385.8,3283L389.8,3283L393.8,3283L397.8,3283L401.8,3283L405.8,3283L409.8,3283L413.8,3283L417.8,3283L421.8,3283L425.8,3283L429.9,3283L433.9,3283L437.9,3283L441.9,3283L445.9,3283L449.9,3283L453.9,3283L457.9,3283L461.9,3283L465.9,3283L469.9,3283L473.9,3283L477.9,3283L481.9,3283L485.9,3283L489.9,3283L493.9,3283L497.9,3283L501.9,3283L506,3283L510,3283L514,3283L518,3283L522,3283L526,3283L530,3283L534,3283L538,3283L542,3283L546,3283L550,3283L554,3283L558,3283L562,3283L566,3283L570,3283L574,3283L578,3283.1L582,3283.1L586.1,3283.1L590.1,3283.1L594.1,3283.1L598.1,3283.2L602.1,3283.2L606.1,3283.2L610.1,3283.3L614.1,3283.3L618.1,3283.4L622.1,3283.4L626.1,3283.5L630.1,3283.5L634.1,3283.6L638.1,3283.7L642.1,3283.7L646.1,3283.8L650.1,3283.9L654.1,3283.9L658.1,3284L662.2,3284.1L666.2,3284.1L670.2,3284.2L674.2,3284.2L678.2,3284.3L682.2,3284.3L686.2,3284.4L690.2,3284.4L694.2,3284.5L698.2,3284.5L702.2,3284.5L706.2,3284.5L710.2,3284.5L714.2,3284.6L718.2,3284.6L722.2,3284.6L726.2,3284.6L730.2,3284.6L734.2,3284.6L738.3,3284.6L742.3,3284.6L746.3,3284.6L750.3,3284.6L754.3,3284.6L758.3,3284.6L762.3,3284.6L766.3,3284.6L770.3,3284.6L774.3,3284.6L778.3,3284.6L782.3,3284.6L786.3,3284.6L790.3,3284.6L794.3,3284.6L798.3,3284.6L802.3,3284.6L806.3,3284.6L810.3,3284.6L814.3,3284.6L818.4,3284.6L822.4,3284.6L826.4,3284.6L830.4,3284.6L834.4,3284.6L838.4,3284.6L842.4,3284.6L846.4,3284.6L850.4,3284.6L854.4,3284.6L858.4,3284.6L862.4,3284.6L866.4,3284.6L870.4,3284.6L874.4,3284.6L878.4,3284.6L882.4,3284.6L886.4,3284.6L890.4,3284.6L894.5,3284.6L898.5,3284.6L902.5,3284.6L906.5,3284.6L910.5,3284.6L914.5,3284.6L918.5,3284.7L922.5,3284.7L926.5,3284.7L930.5,3284.7L934.5,3284.7L938.5,3284.7L942.5,3284.7L946.5,3284.8L950.5,3284.8L954.5,3284.8L958.5,3284.8L962.5,3284.9L966.5,3284.9L970.5,3285L974.6,3285L978.6,3285.1L982.6,3285.1L986.6,3285.2L990.6,3285.3L994.6,3285.4L998.6,3285.4L1002.6,3285.5L1006.6,3285.6L1010.6,3285.7L1014.6,3285.8L1018.6,3285.9L1022.6,3286L1026.6,3286.1L1030.6,3286.1L1034.6,3286.2L1038.6,3286.3L1042.6,3286.4L1046.6,3286.4L1050.7,3286.5L1054.7,3286.6L1058.7,3286.6L1062.7,3286.7L1066.7,3286.7L1070.7,3286.8L1074.7,3286.8L1078.7,3286.8L1082.7,3286.9L1086.7,3286.9L1090.7,3286.9L1094.7,3286.9L1098.7,3286.9L1102.7,3286.9L1106.7,3287L1110.7,3287L1114.7,3287L1118.7,3287L1122.7,3287L1126.7,3287L1130.8,3287L1134.8,3287L1138.8,3287L1142.8,3287L1146.8,3287L1150.8,3287L1154.8,3287L1158.8,3287L1162.8,3287L1166.8,3287" fill="none" stroke="#404040" stroke-width="4.5"/>
<path d="M526,3282.7L530,3282.6L534,3282.5L538,3282.3L542,3282L546,3281.7L550,3281.3L554,3280.7L558,3280.1L562,3279.2L566,3278.2L570,3277L574,3275.6L578,3273.9L582,3272L586.1,3269.9L590.1,3267.5L594.1,3264.8L598.1,3261.9L602.1,3258.9L606.1,3255.7L610.1,3252.4L614.1,3249.2L618.1,3245.9L622.1,3242.9L626.1,3240L630.1,3237.5L634.1,3235.4L638.1,3233.7L642.1,3232.5L646.1,3231.9L650.1,3231.8L654.1,3232.3L658.1,3233.4L662.2,3235L666.2,3237.1L670.2,3239.6L674.2,3242.4L678.2,3245.5L682.2,3248.8L686.2,3252.1L690.2,3255.5L694.2,3258.8L698.2,3262L702.2,3265L706.2,3267.8L710.2,3270.3L714.2,3272.6L718.2,3274.7L722.2,3276.5L726.2,3278L730.2,3279.3L734.2,3280.4L738.3,3281.3L742.3,3282.1L746.3,3282.6L750.3,3283.1L754.3,3283.5L758.3,3283.8L762.3,3284L766.3,3284.2L770.3,3284.3L774.3,3284.4" fill="none" stroke="#3fb58a" stroke-width="8.5" stroke-linejoin="round"/>
<path d="M878.4,3284.3L882.4,3284.1L886.4,3284L890.4,3283.8L894.5,3283.5L898.5,3283.2L902.5,3282.8L906.5,3282.3L910.5,3281.6L914.5,3280.9L918.5,3280L922.5,3278.9L926.5,3277.6L930.5,3276.1L934.5,3274.3L938.5,3272.4L942.5,3270.1L946.5,3267.7L950.5,3264.9L954.5,3261.9L958.5,3258.7L962.5,3255.3L966.5,3251.8L970.5,3248.1L974.6,3244.4L978.6,3240.6L982.6,3237L986.6,3233.4L990.6,3230.1L994.6,3227.1L998.6,3224.5L1002.6,3222.3L1006.6,3220.5L1010.6,3219.3L1014.6,3218.7L1018.6,3218.6L1022.6,3219.1L1026.6,3220.2L1030.6,3221.8L1034.6,3223.9L1038.6,3226.5L1042.6,3229.5L1046.6,3232.8L1050.7,3236.3L1054.7,3240.1L1058.7,3243.9L1062.7,3247.7L1066.7,3251.5L1070.7,3255.3L1074.7,3258.8L1078.7,3262.2L1082.7,3265.4L1086.7,3268.3L1090.7,3271L1094.7,3273.4L1098.7,3275.5L1102.7,3277.4L1106.7,3279.1L1110.7,3280.5L1114.7,3281.7L1118.7,3282.7L1122.7,3283.6L1126.7,3284.3L1130.8,3284.9L1134.8,3285.3L1138.8,3285.7L1142.8,3286L1146.8,3286.3L1150.8,3286.4L1154.8,3286.6L1158.8,3286.7" fill="none" stroke="#4f86d6" stroke-width="8.5" stroke-linejoin="round"/>
<rect x="145.4" y="3282.3" width="12" height="12" fill="#c4c4c4" stroke="#7c7c7c" stroke-width="1.8"/>
<rect x="172" y="3275.9" width="12" height="12" fill="#c4c4c4" stroke="#7c7c7c" stroke-width="1.8"/>
<rect x="198.6" y="3277.5" width="12" height="12" fill="#c4c4c4" stroke="#7c7c7c" stroke-width="1.8"/>
<rect x="225.2" y="3275.6" width="12" height="12" fill="#c4c4c4" stroke="#7c7c7c" stroke-width="1.8"/>
<rect x="251.8" y="3286.5" width="12" height="12" fill="#c4c4c4" stroke="#7c7c7c" stroke-width="1.8"/>
<rect x="278.4" y="3274.3" width="12" height="12" fill="#c4c4c4" stroke="#7c7c7c" stroke-width="1.8"/>
<rect x="305" y="3270.4" width="12" height="12" fill="#c4c4c4" stroke="#7c7c7c" stroke-width="1.8"/>
<rect x="331.6" y="3265.4" width="12" height="12" fill="#c4c4c4" stroke="#7c7c7c" stroke-width="1.8"/>
<rect x="358.2" y="3288.3" width="12" height="12" fill="#c4c4c4" stroke="#7c7c7c" stroke-width="1.8"/>
<rect x="384.8" y="3279.7" width="12" height="12" fill="#c4c4c4" stroke="#7c7c7c" stroke-width="1.8"/>
<rect x="411.4" y="3271.1" width="12" height="12" fill="#c4c4c4" stroke="#7c7c7c" stroke-width="1.8"/>
<rect x="438" y="3272.7" width="12" height="12" fill="#c4c4c4" stroke="#7c7c7c" stroke-width="1.8"/>
<rect x="464.6" y="3269" width="12" height="12" fill="#c4c4c4" stroke="#7c7c7c" stroke-width="1.8"/>
<rect x="491.2" y="3271" width="12" height="12" fill="#c4c4c4" stroke="#7c7c7c" stroke-width="1.8"/>
<rect x="517.8" y="3282.6" width="12" height="12" fill="#c4c4c4" stroke="#7c7c7c" stroke-width="1.8"/>
<rect x="544.4" y="3276.2" width="12" height="12" fill="#c4c4c4" stroke="#7c7c7c" stroke-width="1.8"/>
<rect x="571" y="3265.8" width="12" height="12" fill="#c4c4c4" stroke="#7c7c7c" stroke-width="1.8"/>
<rect x="597.6" y="3256.9" width="12" height="12" fill="#c4c4c4" stroke="#7c7c7c" stroke-width="1.8"/>
<rect x="624.2" y="3229.7" width="12" height="12" fill="#c4c4c4" stroke="#7c7c7c" stroke-width="1.8"/>
<rect x="650.8" y="3224.1" width="12" height="12" fill="#c4c4c4" stroke="#7c7c7c" stroke-width="1.8"/>
<rect x="677.4" y="3238.2" width="12" height="12" fill="#c4c4c4" stroke="#7c7c7c" stroke-width="1.8"/>
<rect x="704" y="3259.9" width="12" height="12" fill="#c4c4c4" stroke="#7c7c7c" stroke-width="1.8"/>
<rect x="730.6" y="3271.3" width="12" height="12" fill="#c4c4c4" stroke="#7c7c7c" stroke-width="1.8"/>
<rect x="757.2" y="3274.9" width="12" height="12" fill="#c4c4c4" stroke="#7c7c7c" stroke-width="1.8"/>
<rect x="783.8" y="3283.4" width="12" height="12" fill="#c4c4c4" stroke="#7c7c7c" stroke-width="1.8"/>
<rect x="810.4" y="3277.1" width="12" height="12" fill="#c4c4c4" stroke="#7c7c7c" stroke-width="1.8"/>
<rect x="837" y="3278.3" width="12" height="12" fill="#c4c4c4" stroke="#7c7c7c" stroke-width="1.8"/>
<rect x="863.6" y="3279.7" width="12" height="12" fill="#c4c4c4" stroke="#7c7c7c" stroke-width="1.8"/>
<rect x="890.2" y="3282.4" width="12" height="12" fill="#c4c4c4" stroke="#7c7c7c" stroke-width="1.8"/>
<rect x="916.8" y="3270.3" width="12" height="12" fill="#c4c4c4" stroke="#7c7c7c" stroke-width="1.8"/>
<rect x="943.4" y="3262.8" width="12" height="12" fill="#c4c4c4" stroke="#7c7c7c" stroke-width="1.8"/>
<rect x="970" y="3235.4" width="12" height="12" fill="#c4c4c4" stroke="#7c7c7c" stroke-width="1.8"/>
<rect x="996.6" y="3217" width="12" height="12" fill="#c4c4c4" stroke="#7c7c7c" stroke-width="1.8"/>
<rect x="1023.2" y="3216.4" width="12" height="12" fill="#c4c4c4" stroke="#7c7c7c" stroke-width="1.8"/>
<rect x="1049.8" y="3240.5" width="12" height="12" fill="#c4c4c4" stroke="#7c7c7c" stroke-width="1.8"/>
<rect x="1076.4" y="3262.2" width="12" height="12" fill="#c4c4c4" stroke="#7c7c7c" stroke-width="1.8"/>
<rect x="1103" y="3274" width="12" height="12" fill="#c4c4c4" stroke="#7c7c7c" stroke-width="1.8"/>
<rect x="1129.6" y="3283.5" width="12" height="12" fill="#c4c4c4" stroke="#7c7c7c" stroke-width="1.8"/>
<rect x="1156.2" y="3275.1" width="12" height="12" fill="#c4c4c4" stroke="#7c7c7c" stroke-width="1.8"/>
<path d="M153.5,3279.1L169.9,3286L189.2,3278.4L200.3,3287.7L216.2,3279.1L232.4,3280.9L249.7,3275.4L260.4,3291L272.7,3278.2L290.4,3285.6L300.2,3284L316.1,3276.3L331.9,3275.5L344,3274.7L354.4,3292.6L367.3,3292.8L380.5,3285.2L399,3286.7L408.4,3284.8L424,3276.6L433.1,3290.5L447.3,3276.9L460.7,3277.4L478.3,3283L487.5,3289.4L496.6,3278.6L504.9,3287.8L510,3282.9L514,3282.9L518,3282.9L522,3282.8L526,3282.7L530,3282.6L534,3282.5L538,3282.3L542,3282L546,3281.7L550,3281.3L554,3280.7L558,3280.1L562,3279.2L566,3278.2L570,3277L574,3275.6L578,3273.9L582,3272L586.1,3269.9L590.1,3267.5L594.1,3264.8L598.1,3261.9L602.1,3258.9L606.1,3255.7L610.1,3252.4L614.1,3249.2L618.1,3245.9L622.1,3242.9L626.1,3240L630.1,3237.5L634.1,3235.4L638.1,3233.7L642.1,3232.5L646.1,3231.9L650.1,3231.8L654.1,3232.3L658.1,3233.4L662.2,3235L666.2,3237.1L670.2,3239.6L674.2,3242.4L678.2,3245.5L682.2,3248.8L686.2,3252.1L690.2,3255.5L694.2,3258.8L698.2,3262L702.2,3265L706.2,3267.8L710.2,3270.3L714.2,3272.6L718.2,3274.7L722.2,3276.5L726.2,3278L730.2,3279.3L734.2,3280.4L738.3,3281.3L742.3,3282.1L746.3,3282.6L750.3,3283.1L754.3,3283.5L758.3,3283.8L760,3284.1L770.9,3284L787.8,3285L802.3,3284.4L816.7,3286L827.7,3284.3L840,3289.7L846.4,3284.6L850.4,3284.6L854.4,3284.6L858.4,3284.6L862.4,3284.5L866.4,3284.5L870.4,3284.4L874.4,3284.4L878.4,3284.3L882.4,3284.1L886.4,3284L890.4,3283.8L894.5,3283.5L898.5,3283.2L902.5,3282.8L906.5,3282.3L910.5,3281.6L914.5,3280.9L918.5,3280L922.5,3278.9L926.5,3277.6L930.5,3276.1L934.5,3274.3L938.5,3272.4L942.5,3270.1L946.5,3267.7L950.5,3264.9L954.5,3261.9L958.5,3258.7L962.5,3255.3L966.5,3251.8L970.5,3248.1L974.6,3244.4L978.6,3240.6L982.6,3237L986.6,3233.4L990.6,3230.1L994.6,3227.1L998.6,3224.5L1002.6,3222.3L1006.6,3220.5L1010.6,3219.3L1014.6,3218.7L1018.6,3218.6L1022.6,3219.1L1026.6,3220.2L1030.6,3221.8L1034.6,3223.9L1038.6,3226.5L1042.6,3229.5L1046.6,3232.8L1050.7,3236.3L1054.7,3240.1L1058.7,3243.9L1062.7,3247.7L1066.7,3251.5L1070.7,3255.3L1074.7,3258.8L1078.7,3262.2L1082.7,3265.4L1086.7,3268.3L1090.7,3271L1094.7,3273.4L1098.7,3275.5L1102.7,3277.4L1106.7,3279.1L1110.7,3280.5L1114.7,3281.7L1118.7,3282.7L1122.7,3283.6L1126.7,3284.3L1130.8,3284.9L1134.8,3285.3L1138.8,3285.7L1140,3280.5L1148.9,3288.9L1160.3,3280.9L1166.8,3286.8" fill="none" stroke="#fe3b3b" stroke-width="5.5" stroke-linejoin="round" stroke-linecap="round"/>
<g clip-path="url(#clipd)" fill="none" stroke-linejoin="round">
<path d="M1307.7,3311C1313.2,3300.5 1333.6,3265.6 1340.8,3247.8C1348,3230 1348.2,3218 1351,3204.4C1353.8,3190.8 1355.3,3178.3 1357.4,3166C1359.5,3153.7 1361.5,3142.3 1363.8,3130.4C1366.1,3118.5 1368.9,3106.6 1371.4,3094.7C1373.9,3082.8 1376.5,3070.5 1379,3059C1381.5,3047.5 1383.9,3037.7 1386.7,3025.8C1389.5,3013.9 1392.3,2998.2 1395.7,2987.6C1399.1,2977 1403.4,2967.5 1407,2962C1410.6,2956.5 1412,2959.5 1417.3,2954.4C1422.6,2949.3 1431.8,2940.3 1439,2931.4C1446.2,2922.5 1455,2910.2 1460.7,2900.8C1466.5,2891.5 1470.5,2881.8 1473.5,2875.3C1476.5,2868.8 1476.2,2868.6 1478.6,2862C1481,2855.4 1484.9,2845.7 1488.1,2836C1491.3,2826.3 1494.5,2814.7 1497.7,2804.1C1500.9,2793.5 1503.6,2784.4 1507.3,2772.2C1511,2760 1515.8,2743 1520,2730.8C1524.2,2718.6 1528,2709.5 1532.8,2698.9C1537.6,2688.3 1542.3,2677.6 1548.7,2667C1555.1,2656.4 1563.5,2644.7 1571,2635.1C1578.5,2625.5 1586,2620.2 1593.4,2609.6C1600.9,2599 1608.8,2583.5 1615.7,2571.3C1622.6,2559.1 1629,2545.9 1634.8,2536.3C1640.6,2526.7 1645.5,2518.7 1650.8,2513.9C1656.1,2509.1 1660.9,2507.6 1666.7,2507.6C1672.5,2507.6 1680,2506.5 1685.8,2513.9C1691.6,2521.3 1697,2539.4 1701.8,2552.2C1706.6,2565 1710.8,2578.8 1714.5,2590.5C1718.2,2602.2 1720.9,2610.6 1724.1,2622.3C1727.3,2634 1731,2648.9 1733.7,2660.6C1736.4,2672.3 1737.3,2681.9 1740,2692.5C1742.7,2703.1 1746.9,2712.7 1749.6,2724.4C1752.3,2736.1 1754.1,2751.8 1756,2762.7C1757.9,2773.6 1759.6,2781.6 1761.2,2789.6C1762.8,2797.6 1763.7,2797.8 1765.6,2810.5C1767.5,2823.2 1768.6,2844.9 1772.7,2866C1776.8,2887.1 1784.9,2918.2 1790,2937C1795.1,2955.8 1799.8,2965.5 1803.3,2979C1806.8,2992.5 1808,3005.7 1811,3018C1814,3030.3 1818.2,3041.3 1821,3053C1823.8,3064.7 1825.7,3076.3 1828,3088C1830.3,3099.7 1832,3111.2 1835,3123C1838,3134.8 1842.5,3147.1 1846,3159C1849.5,3170.9 1852.9,3182.7 1856.3,3194.6C1859.7,3206.5 1862.7,3218.7 1866.5,3230.4C1870.3,3242.1 1874.4,3253.5 1879.3,3264.8C1884.2,3276.1 1889.5,3287.4 1895.9,3298C1902.3,3308.6 1908.7,3321.4 1917.6,3328.6C1926.5,3335.8 1938.8,3338.7 1949.4,3341.3C1960,3344 1956.9,3343.7 1981.3,3344.5C2005.7,3345.3 2064.9,3345.1 2095.7,3346.4C2126.4,3347.7 2142.4,3350.1 2165.8,3352.4C2189.2,3354.7 2210,3357.7 2236,3360.4C2262,3363.1 2307.7,3367.2 2322,3368.5" stroke="#000" stroke-width="7" stroke-dasharray="13 23" stroke-linecap="round"/>
<path d="M1307.7,3285C1312.2,3279.6 1328.7,3263.4 1334.4,3252.8C1340.1,3242.2 1339.5,3232.1 1342,3221.7C1344.5,3211.3 1347.1,3200.9 1349.2,3190.4C1351.3,3179.9 1352.6,3171.7 1354.8,3158.5C1357,3145.3 1360.4,3124.5 1362.5,3111.3C1364.6,3098.1 1365.9,3090 1367.6,3079.4C1369.3,3068.8 1371.2,3058.6 1372.7,3048C1374.2,3037.4 1374.8,3026.5 1376.5,3016C1378.2,3005.5 1380.9,2995.5 1383,2985C1385.1,2974.5 1387.6,2961.1 1389.3,2953C1391,2944.9 1391.5,2941.8 1393,2936.5C1394.5,2931.2 1396.3,2926.1 1398.2,2921C1400.1,2915.9 1402.3,2910.8 1404.6,2906C1406.9,2901.2 1409,2896.5 1412.2,2892C1415.4,2887.5 1420.1,2884.1 1423.7,2879C1427.3,2873.9 1430.1,2868.1 1433.9,2861.5C1437.7,2854.9 1441.9,2847.7 1446.7,2839.2C1451.5,2830.7 1458.1,2820.6 1462.6,2810.5C1467.1,2800.4 1470.3,2789.2 1473.8,2778.6C1477.3,2768 1480.5,2757.3 1483.4,2746.7C1486.3,2736.1 1488.7,2724.9 1491.3,2714.8C1493.9,2704.7 1496.1,2696.2 1499.3,2686.1C1502.5,2676 1506.5,2666.9 1510.5,2654.2C1514.5,2641.4 1517.9,2624.5 1523.2,2609.6C1528.5,2594.7 1535.4,2579.3 1542.3,2565C1549.2,2550.7 1557.2,2536.8 1564.7,2523.5C1572.2,2510.2 1580.1,2498.5 1587,2485.2C1593.9,2471.9 1599.6,2456 1606,2443.8C1612.4,2431.6 1619.5,2422.3 1625.3,2411.9C1631.1,2401.5 1636.5,2388.8 1641,2381.4C1645.5,2374 1648.8,2371.1 1652.6,2367.3C1656.4,2363.5 1659.5,2358.8 1664,2358.4C1668.5,2358 1675.3,2361.4 1679.3,2364.8C1683.3,2368.2 1684.6,2371.5 1687.8,2378.8C1691,2386.1 1695.2,2396.3 1698.6,2408.7C1702,2421.1 1705,2437.9 1708.2,2453.3C1711.4,2468.7 1714.5,2485.8 1717.7,2501.2C1720.9,2516.6 1724.6,2529.9 1727.3,2545.8C1730,2561.7 1731,2580.3 1733.7,2596.8C1736.4,2613.3 1740.6,2630.3 1743.2,2644.7C1745.8,2659 1746.3,2660.3 1749.6,2682.9C1752.9,2705.5 1758.5,2749.2 1763,2780C1767.5,2810.8 1773.3,2848.2 1776.5,2868C1779.7,2887.8 1779.8,2887.1 1782.3,2898.6C1784.8,2910.1 1788.7,2921.8 1791.8,2937C1794.9,2952.2 1798.5,2972.8 1801,2990C1803.5,3007.2 1805.2,3023.5 1807,3040C1808.8,3056.5 1809.9,3075.5 1811.8,3088.8C1813.7,3102.1 1816.2,3109.6 1818.5,3120C1820.8,3130.4 1823.4,3140.7 1825.7,3151.3C1828,3161.9 1829.6,3173.3 1832.1,3183.8C1834.5,3194.3 1837.5,3204.2 1840.4,3214.4C1843.3,3224.6 1846.7,3235.7 1849.3,3245C1851.9,3254.3 1853.4,3261.5 1856,3270C1858.6,3278.5 1861.5,3287.5 1865,3296C1868.5,3304.5 1873.2,3314.4 1876.7,3320.9C1880.2,3327.4 1883,3330.4 1886.3,3335C1889.6,3339.6 1892.8,3344.4 1896.5,3348.3C1900.2,3352.2 1904.2,3355.6 1908.6,3358.5C1913,3361.4 1917.8,3363.9 1922.7,3365.6C1927.6,3367.3 1932.8,3368.2 1938,3368.8C1943.2,3369.4 1945.9,3369.2 1953.9,3369.4C1961.9,3369.6 1968,3369.7 1985.8,3370C2003.6,3370.3 2036.4,3370.4 2060.6,3371C2084.8,3371.6 2107.3,3372 2130.7,3373.4C2154.1,3374.8 2169,3377.4 2200.9,3379.7C2232.8,3382 2301.8,3386.1 2322,3387.4" stroke="#000" stroke-width="7" stroke-dasharray="0 15.9" stroke-linecap="round"/>
<path d="M1307.7,3282C1310.2,3275.8 1319,3257.1 1323,3245C1327,3232.9 1329.4,3221.4 1331.9,3209.5C1334.5,3197.6 1336,3185.7 1338.3,3173.8C1340.6,3161.9 1343.9,3150.3 1346,3138C1348.1,3125.7 1349.3,3112.1 1351,3099.8C1352.7,3087.5 1354.3,3075.9 1356,3064C1357.7,3052.1 1359.5,3040.3 1361.2,3028.4C1362.9,3016.5 1364.6,3004.6 1366.3,2992.7C1368,2980.8 1369.3,2969.3 1371.4,2957C1373.5,2944.7 1376.9,2931.5 1379,2918.7C1381.1,2905.9 1382,2894.7 1384.2,2880.4C1386.5,2866.1 1389.5,2845.5 1392.5,2832.8C1395.5,2820.1 1397.2,2814.2 1402,2804.1C1406.8,2794 1415.4,2782.8 1421.2,2772.2C1427,2761.6 1431.8,2751.5 1437.1,2740.3C1442.4,2729.2 1448.2,2716.5 1453,2705.3C1457.8,2694.2 1461.5,2685.1 1465.8,2673.4C1470.1,2661.7 1474.3,2651.1 1478.6,2635.1C1482.8,2619.1 1487.6,2593.6 1491.3,2577.7C1495,2561.8 1497.7,2552.2 1500.9,2539.4C1504.1,2526.7 1507.3,2512.9 1510.5,2501.2C1513.7,2489.5 1516.3,2480.5 1520,2469.3C1523.7,2458.1 1528.1,2445.8 1532.8,2434.2C1537.5,2422.6 1542.5,2411.2 1548,2400C1553.5,2388.8 1560.3,2378.3 1565.8,2367.3C1571.3,2356.3 1575.5,2345.2 1581,2334.2C1586.5,2323.1 1593.2,2312.1 1599,2301C1604.8,2289.9 1609.9,2279.2 1615.6,2267.9C1621.3,2256.6 1626.4,2243.4 1633.4,2233.4C1640.4,2223.4 1649.8,2208.6 1657.7,2208C1665.6,2207.4 1675.1,2220 1680.6,2229.6C1686.1,2239.2 1687.4,2252.6 1690.8,2265.3C1694.2,2278 1698,2291.6 1701,2306C1704,2320.4 1706.5,2339.7 1708.7,2352C1711,2364.3 1711.9,2364.7 1714.5,2380C1717.1,2395.3 1720.4,2417.2 1724.1,2443.8C1727.8,2470.4 1732.7,2507.5 1736.9,2539.4C1741.2,2571.3 1745.9,2603.2 1749.6,2635.1C1753.3,2667 1756.6,2703.5 1759.2,2730.8C1761.8,2758.1 1762.8,2779.6 1765,2799C1767.2,2818.4 1770.1,2831 1772.7,2847C1775.3,2863 1778.2,2879.3 1780.4,2894.8C1782.6,2910.3 1784.4,2926.6 1786,2940C1787.6,2953.4 1788.5,2963.3 1790,2975C1791.5,2986.7 1793.3,2998.3 1795,3010C1796.7,3021.7 1798.2,3033.3 1800,3045C1801.8,3056.7 1803.8,3068.3 1805.5,3080C1807.2,3091.7 1808.8,3103.3 1810.5,3115C1812.2,3126.7 1813.9,3138.3 1816,3150C1818.1,3161.7 1820.5,3174.5 1823,3185C1825.5,3195.5 1828.2,3202.7 1831,3213C1833.8,3223.3 1835.1,3235.6 1840,3247C1844.9,3258.4 1852.8,3271 1860.2,3281.4C1867.6,3291.8 1875.5,3302 1884.4,3309.4C1893.3,3316.8 1902.9,3322.3 1913.7,3326C1924.5,3329.7 1937.5,3330.8 1949.4,3331.8C1961.3,3332.8 1960.8,3331.7 1985.2,3331.8C2009.6,3331.9 2065.6,3331.4 2095.7,3332.4C2125.8,3333.4 2142.4,3335.6 2165.8,3337.6C2189.2,3339.6 2210,3342.3 2236,3344.6C2262,3346.9 2307.7,3350.4 2322,3351.6" stroke="#f00" stroke-width="7" stroke-dasharray="13 23" stroke-linecap="round"/>
<path d="M1307.7,3268C1310.1,3262 1317,3249 1322,3232C1327,3215 1333.2,3194 1338,3166C1342.8,3138 1345.8,3098 1350.5,3064C1355.2,3030 1361.1,2992.7 1366,2962C1370.9,2931.3 1375.8,2907.9 1379.7,2880C1383.6,2852.1 1385.6,2817.8 1389.3,2794.5C1393,2771.2 1397.9,2752.8 1402,2740C1406.1,2727.2 1409.3,2726.3 1414,2718C1418.7,2709.7 1422.7,2703.8 1430,2690C1437.3,2676.2 1449.7,2652.5 1458,2635C1466.3,2617.5 1473.8,2606.2 1480,2585C1486.2,2563.8 1487.9,2539.4 1495,2507.6C1502.1,2475.8 1516.1,2418.3 1522.4,2394C1528.7,2369.7 1527.8,2374.7 1532.7,2362C1537.6,2349.3 1545,2332 1551.8,2317.6C1558.6,2303.2 1566.3,2289.9 1573.5,2275.5C1580.7,2261.1 1587.8,2245.4 1595,2231C1602.2,2216.6 1609.8,2203.3 1616.8,2188.8C1623.8,2174.3 1630.1,2155.5 1637,2144C1643.9,2132.5 1651.9,2122.7 1658,2120C1664.1,2117.3 1668.9,2121.7 1673.5,2127.6C1678.1,2133.5 1682,2143.3 1685.7,2155.6C1689.5,2167.9 1693,2186.2 1696,2201.5C1699,2216.8 1701.3,2234.2 1703.6,2247.4C1705.9,2260.6 1707.4,2264.4 1710,2280.6C1712.6,2296.8 1716.2,2325.5 1719,2344.4C1721.8,2363.3 1723.5,2366.8 1726.5,2394C1729.5,2421.2 1731.5,2456.8 1736.9,2507.6C1742.3,2558.4 1752.4,2650.3 1759,2698.9C1765.6,2747.5 1772.3,2772.7 1776.5,2799C1780.7,2825.3 1781,2834.2 1784.2,2856.5C1787.4,2878.8 1791.6,2909.8 1795.7,2933C1799.8,2956.2 1804.5,2977.5 1809,2996C1813.5,3014.5 1818.2,3031.2 1822.4,3044C1826.6,3056.8 1830.8,3065.6 1834,3072.7C1837.2,3079.8 1838.1,3082.1 1841.4,3086.8C1844.7,3091.5 1849.6,3097.1 1853.7,3100.9C1857.8,3104.7 1861.3,3107.1 1866,3109.6C1870.7,3112.1 1876.8,3114.4 1881.7,3116C1886.7,3117.6 1891,3118.7 1895.7,3119.4C1900.4,3120.1 1904.5,3120.5 1909.8,3120.2C1915.1,3119.9 1919.1,3118.9 1927.3,3117.7C1935.5,3116.5 1948.4,3114.3 1958.9,3113C1969.4,3111.7 1979.9,3110.8 1990.4,3109.6C2000.9,3108.4 2011.5,3106.9 2022,3106C2032.5,3105.1 2043.1,3104.7 2053.6,3104.4C2064.1,3104.1 2074.4,3104.2 2085.2,3104.4C2096,3104.6 2107.7,3104.4 2118.5,3105.4C2129.3,3106.4 2139.5,3108.4 2150,3110.3C2160.5,3112.2 2170.8,3114.4 2181.6,3116.6C2192.4,3118.8 2204.2,3121.1 2215,3123.7C2225.8,3126.3 2236.3,3129.4 2246.5,3132.4C2256.7,3135.4 2266.4,3138.8 2276.3,3141.9C2286.2,3145 2298.4,3149.1 2306,3151C2313.6,3152.9 2319.3,3153.1 2322,3153.5" stroke="#f00" stroke-width="7" stroke-dasharray="0 15.9" stroke-linecap="round"/>
<path d="M1306.4,3255C1307.9,3250.8 1311.3,3244.8 1315.3,3230C1319.3,3215.2 1325.5,3193.7 1330.6,3166C1335.7,3138.3 1340.9,3098 1346,3064C1351.1,3030 1356.1,2992.7 1361.2,2962C1366.3,2931.3 1372.3,2905.2 1376.5,2880C1380.7,2854.8 1383.2,2830.1 1386.1,2810.5C1389,2790.9 1391.3,2776.5 1394,2762.7C1396.7,2748.9 1399.1,2736.1 1402,2727.6C1404.9,2719.1 1407.9,2717.4 1411.6,2711.6C1415.3,2705.8 1419.6,2702.6 1424.4,2692.5C1429.2,2682.4 1434.5,2664.8 1440.3,2651C1446.1,2637.2 1454.1,2622.9 1459.4,2609.6C1464.7,2596.3 1467.9,2585.7 1472.2,2571.3C1476.5,2557 1480.2,2544.8 1485,2523.5C1489.8,2502.2 1496.8,2464.4 1500.9,2443.8C1505,2423.2 1506.5,2415.3 1509.7,2400C1512.9,2384.7 1515.8,2367.7 1520,2352C1524.2,2336.3 1529.7,2320 1535.2,2306C1540.7,2292 1545.8,2282.9 1553,2268C1560.2,2253.1 1570.1,2235.1 1578.6,2216.8C1587.1,2198.5 1595.5,2177.1 1604,2158C1612.5,2138.9 1621.5,2118.1 1629.6,2102C1637.7,2085.9 1645.9,2070.1 1652.6,2061.2C1659.3,2052.3 1664.5,2048.9 1669.6,2048.5C1674.7,2048.1 1678.4,2050.6 1683.2,2058.7C1688,2066.8 1693.8,2082.1 1698.5,2097C1703.2,2111.9 1707,2128 1711.2,2148C1715.5,2168 1720.2,2194.7 1724,2216.8C1727.8,2238.9 1731.4,2260.1 1734.2,2280.6C1737,2301.1 1739,2322.6 1741,2340C1743,2357.4 1743.5,2357.1 1746,2385C1748.5,2412.9 1751.7,2465.9 1756,2507.6C1760.3,2549.3 1766.7,2592.5 1772,2635C1777.3,2677.5 1783.2,2726.9 1787.9,2762.7C1792.6,2798.5 1796.8,2821.6 1800,2850C1803.2,2878.4 1804.2,2906.3 1807,2933C1809.8,2959.7 1813.3,2985.7 1816.5,3010C1819.7,3034.3 1822.7,3054.8 1826,3079C1829.3,3103.2 1833.6,3134.7 1836.5,3155C1839.4,3175.3 1841.1,3186.9 1843.6,3201C1846,3215.1 1848.7,3227.6 1851.2,3239.3C1853.8,3251 1856.1,3259.5 1858.9,3271.2C1861.7,3282.9 1864.8,3298.8 1867.8,3309.4C1870.8,3320 1873.5,3326.3 1876.7,3335C1879.9,3343.7 1883.3,3354 1886.9,3361.7C1890.5,3369.3 1894.4,3375.8 1898.4,3380.9C1902.5,3386 1905.9,3389.7 1911.2,3392.3C1916.5,3395 1922.2,3395.9 1930.3,3396.8C1938.4,3397.7 1894.7,3397.4 1960,3397.5C2025.3,3397.6 2261.7,3397.5 2322,3397.5" stroke="#000" stroke-width="7"/>
<path d="M1307.7,3253C1309.8,3249.2 1315.7,3244.5 1320.4,3230C1325.1,3215.5 1331,3193.7 1335.7,3166C1340.4,3138.3 1343.8,3098 1348.5,3064C1353.2,3030 1359.4,2992.7 1363.8,2962C1368.2,2931.3 1371.5,2905.2 1375,2880C1378.5,2854.8 1381.6,2832.7 1384.5,2810.5C1387.4,2788.3 1389.6,2760.9 1392.5,2746.7C1395.4,2732.4 1398.9,2730.6 1402,2725C1405.1,2719.4 1407.2,2718.5 1411,2713C1414.8,2707.5 1418,2705 1425,2692C1432,2679 1444.6,2652.4 1453,2635C1461.4,2617.6 1469,2608.5 1475.4,2587.3C1481.8,2566.1 1484.3,2538.8 1491.3,2507.6C1498.3,2476.4 1510.4,2429.3 1517.3,2400C1524.2,2370.7 1527.6,2348.9 1532.7,2331.6C1537.8,2314.3 1541.2,2309.6 1548,2296C1554.8,2282.4 1565,2266.2 1573.5,2250C1582,2233.8 1590.5,2216 1599,2199C1607.5,2182 1616.8,2162.9 1624.5,2148C1632.2,2133.1 1638.6,2118.3 1645,2109.7C1651.4,2101.1 1657.3,2096.8 1662.8,2096.4C1668.3,2096 1672.9,2096.7 1678,2107C1683.1,2117.3 1688.7,2137.6 1693.4,2158C1698.1,2178.4 1701.7,2204.9 1706,2229.6C1710.3,2254.3 1714.7,2277.6 1719,2306C1723.3,2334.4 1727,2361.1 1731.6,2400C1736.2,2438.9 1741.3,2489.6 1746.4,2539.4C1751.5,2589.2 1758.2,2658.8 1762.4,2698.9C1766.6,2739 1768.4,2753.7 1771.7,2780C1775,2806.3 1779,2828 1782.3,2856.5C1785.6,2885 1788.6,2924.6 1791.4,2951C1794.2,2977.4 1796.5,2993.5 1799.1,3014.8C1801.6,3036.1 1804.2,3057.3 1806.7,3078.6C1809.2,3099.8 1811.7,3124 1814.4,3142.3C1817.2,3160.6 1820.7,3175.1 1823.2,3188.3C1825.7,3201.5 1827.2,3210.4 1829.5,3221.4C1831.8,3232.4 1834.4,3244 1837.2,3254.6C1840,3265.2 1842.5,3275 1846.1,3285.2C1849.7,3295.4 1854.4,3306.5 1858.9,3315.8C1863.4,3325.2 1867.8,3334.1 1872.9,3341.3C1878,3348.5 1883.8,3354.5 1889.5,3359.2C1895.2,3363.9 1900.5,3366.6 1907.3,3369.4C1914.1,3372.2 1922.2,3374.3 1930.3,3375.8C1938.4,3377.3 1946,3377.7 1955.8,3378.3C1965.6,3378.9 1959.8,3378.5 1989,3379.6C2018.2,3380.7 2075.2,3382.9 2130.7,3385C2186.2,3387.1 2290.1,3390.8 2322,3392" stroke="#f00" stroke-width="7"/>
</g>
<line x1="1416.4" y1="1917" x2="1416.4" y2="3418" stroke="#c0c0c0" stroke-width="7.5" stroke-dasharray="42 39" stroke-dashoffset="0"/>
<line x1="1774.5" y1="1917" x2="1774.5" y2="3418" stroke="#00a2ee" stroke-width="7.5" stroke-dasharray="42 39" stroke-dashoffset="-5"/>
<line x1="2118.5" y1="1917" x2="2118.5" y2="3418" stroke="#f47a7a" stroke-width="7.5" stroke-dasharray="42 39" stroke-dashoffset="-6"/>
<rect x="1851" y="1943.5" width="450.5999999999999" height="391.8000000000002" fill="#fff" stroke="#808080" stroke-width="2"/>
<line x1="1858" y1="1976.5" x2="1960" y2="1976.5" stroke="#000" stroke-width="6.6" stroke-linecap="round"/>
<text x="1972.5" y="1992" font-size="46.5">P25</text>
<line x1="1857.5" y1="2033.4" x2="1957" y2="2033.4" stroke="#000" stroke-width="6.6" stroke-dasharray="0 15.9" stroke-linecap="round"/>
<text x="1972.5" y="2049.3" font-size="46.5">P25/Ag_IMP</text>
<line x1="1858.5" y1="2091" x2="1960" y2="2091" stroke="#000" stroke-width="6.6" stroke-dasharray="13 23" stroke-linecap="round"/>
<text x="1972.5" y="2106.2" font-size="46.5">P25/Ag_H<tspan font-size="32.5" dy="12.6">2</tspan><tspan dy="-12.6">O</tspan></text>
<line x1="1858" y1="2158.4" x2="1960" y2="2158.4" stroke="#f00" stroke-width="6.6" stroke-linecap="round"/>
<text x="1972.5" y="2174.3" font-size="46.5">@TiO<tspan font-size="32.5" dy="12.6">2</tspan></text>
<line x1="1857.5" y1="2226.2" x2="1957" y2="2226.2" stroke="#f00" stroke-width="6.6" stroke-dasharray="0 15.9" stroke-linecap="round"/>
<text x="1972.5" y="2241.7" font-size="46.5">@TiO<tspan font-size="32.5" dy="12.6">2</tspan><tspan dy="-12.6">/Ag_IMP</tspan></text>
<line x1="1858.5" y1="2293.3" x2="1960" y2="2293.3" stroke="#f00" stroke-width="6.6" stroke-dasharray="13 23" stroke-linecap="round"/>
<text x="1972.5" y="2309.2" font-size="46.5">@TiO<tspan font-size="32.5" dy="12.6">2</tspan><tspan dy="-12.6">/Ag_H</tspan><tspan font-size="32.5" dy="12.6">2</tspan><tspan dy="-12.6">O</tspan></text>
<line x1="151" y1="146" x2="1169" y2="146" stroke="#000" stroke-width="5" stroke-linecap="square"/>
<path d="M151,146 L151,1627 L1169,1627 L1169,146" fill="none" stroke="#000" stroke-width="5" stroke-linejoin="miter" stroke-linecap="square"/>
<line x1="1305.5" y1="146" x2="2324" y2="146" stroke="#000" stroke-width="5" stroke-linecap="square"/>
<path d="M1305.5,146 L1305.5,1627 L2324,1627 L2324,146" fill="none" stroke="#000" stroke-width="5" stroke-linejoin="miter" stroke-linecap="square"/>
<line x1="151" y1="1917.8" x2="1169.3" y2="1917.8" stroke="#000" stroke-width="5" stroke-linecap="square"/>
<path d="M151,1917.8 L151,3398 L1169.3,3398 L1169.3,1917.8" fill="none" stroke="#000" stroke-width="5" stroke-linejoin="miter" stroke-linecap="square"/>
<line x1="1306.6" y1="1919" x2="2324" y2="1919" stroke="#888" stroke-width="5" stroke-linecap="square"/>
<path d="M1306.6,1919 L1306.6,3399 L2324,3399 L2324,1919" fill="none" stroke="#000" stroke-width="5" stroke-linejoin="miter" stroke-linecap="square"/>
<line x1="151.0" y1="1627" x2="151.0" y2="1647" stroke="#000" stroke-width="5"/>
<text x="151.0" y="1696" font-size="45" text-anchor="middle">470</text>
<line x1="286.7" y1="1627" x2="286.7" y2="1647" stroke="#000" stroke-width="5"/>
<text x="286.7" y="1696" font-size="45" text-anchor="middle">468</text>
<line x1="422.5" y1="1627" x2="422.5" y2="1647" stroke="#000" stroke-width="5"/>
<text x="422.5" y="1696" font-size="45" text-anchor="middle">466</text>
<line x1="558.2" y1="1627" x2="558.2" y2="1647" stroke="#000" stroke-width="5"/>
<text x="558.2" y="1696" font-size="45" text-anchor="middle">464</text>
<line x1="693.9" y1="1627" x2="693.9" y2="1647" stroke="#000" stroke-width="5"/>
<text x="693.9" y="1696" font-size="45" text-anchor="middle">462</text>
<line x1="829.7" y1="1627" x2="829.7" y2="1647" stroke="#000" stroke-width="5"/>
<text x="829.7" y="1696" font-size="45" text-anchor="middle">460</text>
<line x1="965.4" y1="1627" x2="965.4" y2="1647" stroke="#000" stroke-width="5"/>
<text x="965.4" y="1696" font-size="45" text-anchor="middle">458</text>
<line x1="1101.1" y1="1627" x2="1101.1" y2="1647" stroke="#000" stroke-width="5"/>
<text x="1101.1" y="1696" font-size="45" text-anchor="middle">456</text>
<line x1="218.9" y1="1627" x2="218.9" y2="1637" stroke="#000" stroke-width="5"/>
<line x1="354.6" y1="1627" x2="354.6" y2="1637" stroke="#000" stroke-width="5"/>
<line x1="490.3" y1="1627" x2="490.3" y2="1637" stroke="#000" stroke-width="5"/>
<line x1="626.1" y1="1627" x2="626.1" y2="1637" stroke="#000" stroke-width="5"/>
<line x1="761.8" y1="1627" x2="761.8" y2="1637" stroke="#000" stroke-width="5"/>
<line x1="897.5" y1="1627" x2="897.5" y2="1637" stroke="#000" stroke-width="5"/>
<line x1="1033.3" y1="1627" x2="1033.3" y2="1637" stroke="#000" stroke-width="5"/>
<line x1="1169.0" y1="1627" x2="1169.0" y2="1637" stroke="#000" stroke-width="5"/>
<line x1="1305.5" y1="1627" x2="1305.5" y2="1647" stroke="#000" stroke-width="5"/>
<text x="1305.5" y="1696" font-size="45" text-anchor="middle">536</text>
<line x1="1531.8" y1="1627" x2="1531.8" y2="1647" stroke="#000" stroke-width="5"/>
<text x="1531.8" y="1696" font-size="45" text-anchor="middle">534</text>
<line x1="1758.2" y1="1627" x2="1758.2" y2="1647" stroke="#000" stroke-width="5"/>
<text x="1758.2" y="1696" font-size="45" text-anchor="middle">532</text>
<line x1="1984.5" y1="1627" x2="1984.5" y2="1647" stroke="#000" stroke-width="5"/>
<text x="1984.5" y="1696" font-size="45" text-anchor="middle">530</text>
<line x1="2210.8" y1="1627" x2="2210.8" y2="1647" stroke="#000" stroke-width="5"/>
<text x="2210.8" y="1696" font-size="45" text-anchor="middle">528</text>
<line x1="1418.7" y1="1627" x2="1418.7" y2="1637" stroke="#000" stroke-width="5"/>
<line x1="1645.0" y1="1627" x2="1645.0" y2="1637" stroke="#000" stroke-width="5"/>
<line x1="1871.3" y1="1627" x2="1871.3" y2="1637" stroke="#000" stroke-width="5"/>
<line x1="2097.7" y1="1627" x2="2097.7" y2="1637" stroke="#000" stroke-width="5"/>
<line x1="2324.0" y1="1627" x2="2324.0" y2="1637" stroke="#000" stroke-width="5"/>
<line x1="151.0" y1="3398" x2="151.0" y2="3418" stroke="#000" stroke-width="5"/>
<text x="151.0" y="3467" font-size="45" text-anchor="middle">382</text>
<line x1="270.8" y1="3398" x2="270.8" y2="3418" stroke="#000" stroke-width="5"/>
<text x="270.8" y="3467" font-size="45" text-anchor="middle">380</text>
<line x1="390.6" y1="3398" x2="390.6" y2="3418" stroke="#000" stroke-width="5"/>
<text x="390.6" y="3467" font-size="45" text-anchor="middle">378</text>
<line x1="510.4" y1="3398" x2="510.4" y2="3418" stroke="#000" stroke-width="5"/>
<text x="510.4" y="3467" font-size="45" text-anchor="middle">376</text>
<line x1="630.2" y1="3398" x2="630.2" y2="3418" stroke="#000" stroke-width="5"/>
<text x="630.2" y="3467" font-size="45" text-anchor="middle">374</text>
<line x1="750.0" y1="3398" x2="750.0" y2="3418" stroke="#000" stroke-width="5"/>
<text x="750.0" y="3467" font-size="45" text-anchor="middle">372</text>
<line x1="869.8" y1="3398" x2="869.8" y2="3418" stroke="#000" stroke-width="5"/>
<text x="869.8" y="3467" font-size="45" text-anchor="middle">370</text>
<line x1="989.6" y1="3398" x2="989.6" y2="3418" stroke="#000" stroke-width="5"/>
<text x="989.6" y="3467" font-size="45" text-anchor="middle">368</text>
<line x1="1109.4" y1="3398" x2="1109.4" y2="3418" stroke="#000" stroke-width="5"/>
<text x="1109.4" y="3467" font-size="45" text-anchor="middle">366</text>
<line x1="210.9" y1="3398" x2="210.9" y2="3408" stroke="#000" stroke-width="5"/>
<line x1="330.7" y1="3398" x2="330.7" y2="3408" stroke="#000" stroke-width="5"/>
<line x1="450.5" y1="3398" x2="450.5" y2="3408" stroke="#000" stroke-width="5"/>
<line x1="570.3" y1="3398" x2="570.3" y2="3408" stroke="#000" stroke-width="5"/>
<line x1="690.1" y1="3398" x2="690.1" y2="3408" stroke="#000" stroke-width="5"/>
<line x1="809.9" y1="3398" x2="809.9" y2="3408" stroke="#000" stroke-width="5"/>
<line x1="929.7" y1="3398" x2="929.7" y2="3408" stroke="#000" stroke-width="5"/>
<line x1="1049.5" y1="3398" x2="1049.5" y2="3408" stroke="#000" stroke-width="5"/>
<line x1="1169.3" y1="3398" x2="1169.3" y2="3408" stroke="#000" stroke-width="5"/>
<line x1="1334.9" y1="3399" x2="1334.9" y2="3419" stroke="#000" stroke-width="5"/>
<text x="1334.9" y="3471" font-size="47" text-anchor="middle">200</text>
<line x1="1476.2" y1="3399" x2="1476.2" y2="3419" stroke="#000" stroke-width="5"/>
<text x="1476.2" y="3471" font-size="47" text-anchor="middle">250</text>
<line x1="1617.5" y1="3399" x2="1617.5" y2="3419" stroke="#000" stroke-width="5"/>
<text x="1617.5" y="3471" font-size="47" text-anchor="middle">300</text>
<line x1="1758.8" y1="3399" x2="1758.8" y2="3419" stroke="#000" stroke-width="5"/>
<text x="1758.8" y="3471" font-size="47" text-anchor="middle">350</text>
<line x1="1900.1" y1="3399" x2="1900.1" y2="3419" stroke="#000" stroke-width="5"/>
<text x="1900.1" y="3471" font-size="47" text-anchor="middle">400</text>
<line x1="2041.4" y1="3399" x2="2041.4" y2="3419" stroke="#000" stroke-width="5"/>
<text x="2041.4" y="3471" font-size="47" text-anchor="middle">450</text>
<line x1="2182.7" y1="3399" x2="2182.7" y2="3419" stroke="#000" stroke-width="5"/>
<text x="2182.7" y="3471" font-size="47" text-anchor="middle">500</text>
<line x1="2324.0" y1="3399" x2="2324.0" y2="3419" stroke="#000" stroke-width="5"/>
<text x="2324.0" y="3471" font-size="47" text-anchor="middle">550</text>
<line x1="1405.5" y1="3399" x2="1405.5" y2="3409" stroke="#000" stroke-width="5"/>
<line x1="1546.8" y1="3399" x2="1546.8" y2="3409" stroke="#000" stroke-width="5"/>
<line x1="1688.1" y1="3399" x2="1688.1" y2="3409" stroke="#000" stroke-width="5"/>
<line x1="1829.4" y1="3399" x2="1829.4" y2="3409" stroke="#000" stroke-width="5"/>
<line x1="1970.7" y1="3399" x2="1970.7" y2="3409" stroke="#000" stroke-width="5"/>
<line x1="2112.0" y1="3399" x2="2112.0" y2="3409" stroke="#000" stroke-width="5"/>
<line x1="2253.3" y1="3399" x2="2253.3" y2="3409" stroke="#000" stroke-width="5"/>
<text x="22.8" y="80" font-size="77.5" text-anchor="start" font-weight="normal" fill="#1a1a1a">(a)</text>
<text x="1188.8" y="80" font-size="77.5" text-anchor="start" font-weight="normal" fill="#1a1a1a">(b)</text>
<text x="23.3" y="1842.4" font-size="77.5" text-anchor="start" font-weight="normal" fill="#1a1a1a">(c)</text>
<text x="1191.3" y="1842.4" font-size="77.5" text-anchor="start" font-weight="normal" fill="#1a1a1a">(d)</text>
<text x="168.5" y="227.7" font-size="65" text-anchor="start" font-weight="bold" >Ti 2p</text>
<text x="1330.7" y="228.2" font-size="65" text-anchor="start" font-weight="bold" >O 1s</text>
<text x="173.9" y="2005.1" font-size="70" text-anchor="start" font-weight="bold" >Ag 3d</text>
<text x="659.7" y="1780.5" font-size="54.6" text-anchor="middle" font-weight="normal" >Binding energy [eV]</text>
<text x="1814.75" y="1780.5" font-size="54.6" text-anchor="middle" font-weight="normal" >Binding energy [eV]</text>
<text x="660.4" y="3551.4" font-size="54.6" text-anchor="middle" font-weight="normal" >Binding energy [eV]</text>
<text x="1816.3" y="3559.5" font-size="57" text-anchor="middle" font-weight="normal" >Wavelenght [nm]</text>
<text x="0" y="0" font-size="54.4" text-anchor="middle" font-weight="normal" transform="translate(105.5,885.5) rotate(-90)">Counts [a.u.]</text>
<text x="0" y="0" font-size="54.4" text-anchor="middle" font-weight="normal" transform="translate(1260,885) rotate(-90)">Counts [a.u.]</text>
<text x="0" y="0" font-size="57.4" text-anchor="middle" font-weight="normal" transform="translate(108.3,2664) rotate(-90)">Counts [a.u.]</text>
<text x="0" y="0" font-size="57.6" text-anchor="middle" font-weight="normal" transform="translate(1261,2659.5) rotate(-90)">Kubelka-Munk [a.u.]</text>
<text x="173.0" y="547.6" font-size="55" text-anchor="start" font-weight="normal" >P25</text>
<text x="173.0" y="758.6" font-size="55" text-anchor="start" font-weight="normal" >P25/Ag_IMP</text>
<text x="173.6" y="972.2" font-size="55" text-anchor="start" font-weight="normal" >P25/Ag_H<tspan font-size="38.5" dy="14.9">2</tspan><tspan dy="-14.9">O</tspan></text>
<text x="171.9" y="1182.8" font-size="55" text-anchor="start" font-weight="normal" >@TiO<tspan font-size="38.5" dy="14.9">2</tspan></text>
<text x="170.1" y="1393.6" font-size="55" text-anchor="start" font-weight="normal" >@TiO<tspan font-size="38.5" dy="14.9">2</tspan><tspan dy="-14.9">/Ag_IMP</tspan></text>
<text x="173.5" y="1603.5" font-size="55" text-anchor="start" font-weight="normal" >@TiO<tspan font-size="38.5" dy="14.9">2</tspan><tspan dy="-14.9">/Ag_H</tspan><tspan font-size="38.5" dy="14.9">2</tspan><tspan dy="-14.9">O</tspan></text>
<text x="1329.6" y="535.3" font-size="55" text-anchor="start" font-weight="normal" >P25</text>
<text x="1324.4" y="764.9" font-size="55" text-anchor="start" font-weight="normal" >P25/Ag_IMP</text>
<text x="1326.0" y="968.2" font-size="55" text-anchor="start" font-weight="normal" >P25/Ag_H<tspan font-size="38.5" dy="14.9">2</tspan><tspan dy="-14.9">O</tspan></text>
<text x="1327.8" y="1200" font-size="55" text-anchor="start" font-weight="normal" >@TiO<tspan font-size="38.5" dy="14.9">2</tspan></text>
<text x="1320.1" y="1388" font-size="55" text-anchor="start" font-weight="normal" >@TiO<tspan font-size="38.5" dy="14.9">2</tspan><tspan dy="-14.9">/Ag_IMP</tspan></text>
<text x="1318.9" y="1599.2" font-size="55" text-anchor="start" font-weight="normal" >@TiO<tspan font-size="38.5" dy="14.9">2</tspan><tspan dy="-14.9">/Ag_H</tspan><tspan font-size="38.5" dy="14.9">2</tspan><tspan dy="-14.9">O</tspan></text>
<text x="180.9" y="2601.2" font-size="55" text-anchor="start" font-weight="normal" >P25/Ag_IMP</text>
<text x="186.0" y="3010.7" font-size="55" text-anchor="start" font-weight="normal" >P25/Ag_H<tspan font-size="38.5" dy="14.9">2</tspan><tspan dy="-14.9">O</tspan></text>
<text x="182.8" y="3239.4" font-size="55" text-anchor="start" font-weight="normal" >@TiO<tspan font-size="38.5" dy="14.9">2</tspan><tspan dy="-14.9">/Ag_IMP</tspan></text>
<text x="184.1" y="3359.5" font-size="55" text-anchor="start" font-weight="normal" >@TiO<tspan font-size="38.5" dy="14.9">2</tspan><tspan dy="-14.9">/Ag_H</tspan><tspan font-size="38.5" dy="14.9">2</tspan><tspan dy="-14.9">O</tspan></text>
<text x="468.7" y="364.1" font-size="53" text-anchor="start" font-weight="normal" >2p<tspan font-size="37.1" dy="14.3">1/2</tspan></text>
<text x="849.3" y="229.1" font-size="53" text-anchor="start" font-weight="normal" >2p<tspan font-size="37.1" dy="14.3">3/2</tspan></text>
<text x="581" y="2115.6" font-size="53" text-anchor="start" font-weight="normal" >3d<tspan font-size="37.1" dy="14.3">3/2</tspan></text>
<text x="931" y="1979" font-size="53" text-anchor="start" font-weight="normal" >3d<tspan font-size="37.1" dy="14.3">5/2</tspan></text></svg></body></html>
